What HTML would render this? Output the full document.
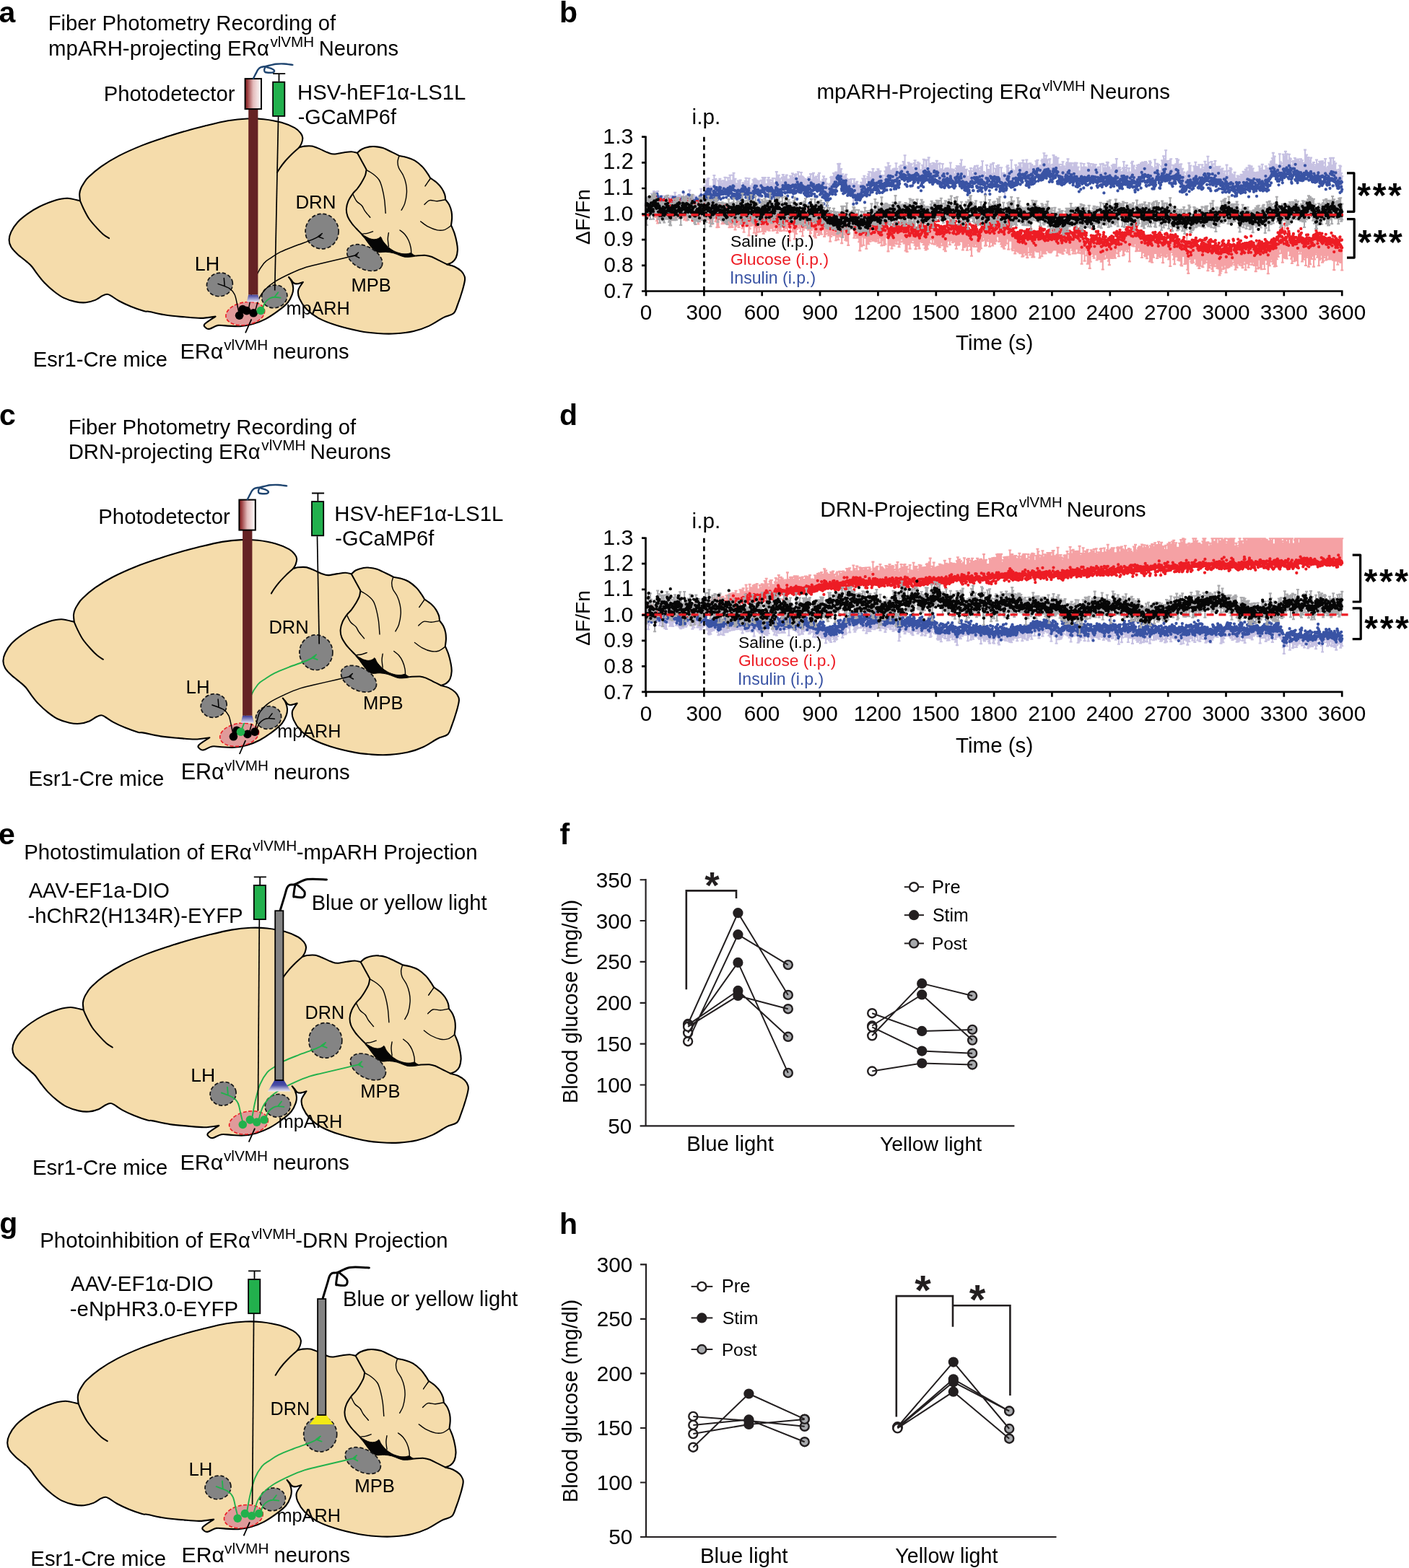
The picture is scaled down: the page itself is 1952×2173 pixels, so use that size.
<!DOCTYPE html><html><head><meta charset="utf-8"><title>Figure</title><style>html,body{margin:0;padding:0;background:#fff}svg{display:block}text{font-family:"Liberation Sans",Arial,Helvetica,sans-serif}</style></head><body>
<svg xmlns="http://www.w3.org/2000/svg" width="1952" height="2173" viewBox="0 0 1952 2173">
<defs><linearGradient id="pd" x1="0" x2="1" y1="0" y2="0"><stop offset="0" stop-color="#8a2628"/><stop offset="0.12" stop-color="#963436"/><stop offset="0.5" stop-color="#e4bcbc"/><stop offset="1" stop-color="#fff"/></linearGradient><linearGradient id="tip" x1="0" x2="0" y1="0" y2="1"><stop offset="0" stop-color="#3a3a98"/><stop offset="1" stop-color="#e4e2f4"/></linearGradient><linearGradient id="tip2" x1="0" x2="0" y1="0" y2="1"><stop offset="0" stop-color="#34389a"/><stop offset="0.45" stop-color="#4a4ea6"/><stop offset="1" stop-color="#f4f0f8"/></linearGradient></defs>
<g transform="translate(0 0)">
<path d="M111 278.4C110.9 276.8 110 271.6 110.2 268.7C110.4 265.8 111 263.6 112.1 261C113.1 258.4 114.8 255.9 116.5 253.3C118.2 250.7 118.6 249.3 122.5 245.6C126.4 241.8 133 235.8 140.1 230.8C147.2 225.9 155.2 220.9 164.8 215.9C174.4 210.9 186.8 205.5 197.8 201.1C208.8 196.7 219.8 193.2 230.8 189.6C241.8 186 255 182.2 263.7 179.7C272.4 177.2 274.3 176.8 283 174.7C291.7 172.6 306 169 315.9 167.3C325.8 165.6 334.1 164.8 342.3 164.5C350.6 164.2 357.4 164.3 365.4 165.2C373.4 166.1 383 167.8 390.1 169.8C397.2 171.8 403.8 174.8 408.2 177.2C412.6 179.6 414.6 182.2 416.5 184.5C418.4 186.8 419.1 188.7 419.3 191C419.5 193.3 418.6 196.2 417.8 198.5C417 200.8 414.9 203.5 414.3 204.5C415.4 204.2 418 203 420.9 202.7C423.8 202.4 428.2 201.9 431.9 202.5C435.6 203.1 439.2 204.9 442.9 206.4C446.5 207.9 450.5 210.1 453.8 211.3C457.1 212.5 458.9 213.5 462.6 213.5C466.3 213.5 471.8 212.1 475.8 211.5C479.8 210.9 483.6 210.1 486.8 210.2C490 210.3 493.6 211.6 495 211.9C496.1 211 498.5 208.1 501.3 206.7C504.1 205.3 508.7 204 511.8 203.4C514.9 202.8 517 202.8 520.1 203.1C523.2 203.3 526.7 203.8 530.5 205.1C534.3 206.4 539.3 209.1 543.1 210.9C546.9 212.7 551.8 215.2 553.5 216.1C555.2 216.4 560.4 217.1 563.9 218.2C567.4 219.2 570.9 220.3 574.4 222.4C577.9 224.5 581.8 227.8 584.8 230.7C587.8 233.6 590.2 237.4 592.1 240.1C594 242.8 595.6 245.8 596.3 246.9C597.9 248 603.1 251.3 605.7 253.7C608.3 256.1 610.3 258.4 612 261C613.7 263.6 615.2 266.7 616.1 269.3C617 271.9 617 275.4 617.2 276.6C618.1 277.8 621 281.1 622.4 283.9C623.8 286.7 624.9 290.2 625.5 293.3C626.1 296.4 626.2 299.6 626.1 302.7C626 305.8 625.2 310.5 625 312.1C625.8 314 628.4 319.6 629.7 323.6C631 327.6 632.1 332.3 632.8 336.1C633.5 339.9 634.1 343.1 633.9 346.6C633.7 350.1 633 354.2 631.8 357C630.6 359.8 628.7 361.7 626.6 363.3C624.5 364.9 620.5 365.9 619.3 366.4C621 366.9 626.4 367.9 629.7 369.5C633 371.1 636.8 373.6 639.1 375.8C641.4 378.1 642.8 380.8 643.6 383C644.4 385.2 644.4 385.8 643.9 389C643.4 392.2 642.3 396.7 640.7 402.2C639.1 407.7 636.2 416.6 634.1 422C632 427.4 631.6 431.3 628.3 434.3C625 437.3 619.9 437.2 614.3 440.1C608.7 443 601.4 448.5 594.5 451.6C587.6 454.8 580.8 457.2 573.1 459C565.4 460.8 556.6 461.8 548.4 462.3C540.1 462.8 531.9 462.6 523.6 462C515.4 461.4 508.5 460.9 498.9 459C489.3 457.1 475.5 453.8 465.9 450.8C456.3 447.8 448.1 444.6 441.2 440.9C434.3 437.2 429.1 433.1 424.7 428.6C420.3 424.1 416.7 418.1 414.8 413.7C412.9 409.3 412.4 406 413.2 402.2C414 398.4 418.7 392.9 419.8 391C418.5 391.4 414.1 393.1 411.9 393.3C409.7 393.5 408 392.9 406.6 392C405.2 391.1 404.6 389.3 403.5 388C402.4 386.7 400.6 384.7 400 384C400.7 385 403 387.7 404 390.2C405 392.7 406.1 396.1 406.2 399C406.3 401.9 406.1 404.4 404.8 407.8C403.6 411.2 401.9 415.4 398.7 419.2C395.5 423 390.6 426.9 385.5 430.7C380.4 434.5 373.8 439 367.9 442.1C362 445.2 356.2 447.4 350.3 449.1C344.4 450.8 338.6 451.8 332.7 452.2C326.8 452.6 320.3 451.8 315.2 451.6C310.1 451.4 306.1 450.2 302 450.9C297.9 451.6 293.3 455.1 290.5 455.7C287.7 456.3 286.5 455.5 285.3 454.4C284.1 453.3 281.3 451.7 283.5 449.1C285.7 446.5 296 440.4 298.5 438.6C295.2 439 285.8 440.8 278.6 440.9C271.4 441 263.5 440 255.5 439.3C247.5 438.6 239.1 438.1 230.8 436.8C222.6 435.6 211.1 432.7 206 431.8C200.9 430.9 204.1 432.5 200 431.3C195.9 430.1 187.2 427.1 181.3 424.7C175.4 422.3 169.4 419.5 164.8 417C160.2 414.5 156.5 411.4 153.8 409.9C151.1 408.3 150.4 407.7 148.4 407.7C146.4 407.7 144.6 408.5 141.8 409.9C139.1 411.3 135.8 414.3 131.9 415.9C128.1 417.4 123.3 418.8 118.7 419.2C114.1 419.6 109.5 419.2 104.4 418.1C99.3 417 92.9 415 87.9 412.6C83 410.2 79.1 407.3 74.7 403.8C70.3 400.3 65.3 395.8 61.5 391.8C57.6 387.8 54.5 383.5 51.6 379.7C48.7 375.9 46.5 372.1 44 369.2C41.5 366.3 39.6 364.9 36.3 362.1C33 359.3 27.7 355.5 24.2 352.2C20.7 348.9 17.3 345.6 15.4 342.3C13.5 339 12.6 335.9 12.6 332.4C12.6 328.9 13.5 325.4 15.4 321.4C17.3 317.4 20.3 312.4 24.2 308.2C28.1 304 33.4 299.8 38.5 296.2C43.6 292.6 48.5 289.4 54.9 286.3C61.3 283.2 70.5 279.4 76.9 277.5C83.3 275.6 87.7 274.6 93.4 274.7C99.1 274.8 108.1 277.8 111 278.4Z" fill="#f5dcab" stroke="#000" stroke-width="2.1" stroke-linejoin="round"/>
<path d="M111 278.4C111.7 280.1 113.4 284.4 115.4 288.5C117.4 292.6 120 298.1 123.1 302.7C126.2 307.3 130.8 312.2 134.1 315.9C137.4 319.6 140.1 322.3 142.9 324.7C145.7 327.1 149.7 329.3 151.1 330.2M414.3 204.5C412.6 206 407.7 210.2 404.4 213.5C401.1 216.8 397.2 220.8 394.5 224C391.8 227.2 389.6 230.2 387.9 232.7C386.2 235.2 384.7 237.8 384.1 238.8M495 211.9C496.1 213.8 499.2 219.6 501.3 223.4C503.4 227.2 506.6 233 507.6 234.9M507.6 234.9C507.3 236.2 507.1 240 506 243C504.9 246 502.6 249.9 500.8 253C499 256.1 497 258.9 495 261.5C493 264.1 490.9 265.4 488.8 268.3C486.7 271.2 484 275.2 482.5 278.7C481 282.2 480.1 285.7 479.9 289.2C479.7 292.7 480.2 296.1 481.5 299.6C482.8 303.1 485.3 306.7 487.7 310C490.1 313.3 493.7 316.8 496.1 319.4C498.6 322 501.3 324.6 502.4 325.7M576.5 354.4C578.8 354.3 586.4 353.6 590 353.9C593.6 354.2 595.3 354.8 598.4 356C601.5 357.2 605.3 359.5 608.8 361.2C612.3 362.9 617.5 365.5 619.3 366.4" fill="none" stroke="#000" stroke-width="2" stroke-linecap="round"/>
<path d="M507.6 235.5C509.2 236.4 514 238.9 517 241.2C520 243.5 523.2 246.2 525.3 249.5C527.4 252.8 528.3 256.5 529.5 261C530.7 265.5 531.8 270.9 532.6 276.6C533.4 282.3 533.9 292.3 534.2 295.4M488.8 269C489.7 270.6 491.9 276 494 278.7C496.1 281.4 499.4 282.7 501.3 285C503.2 287.3 503.6 289.6 505.5 292.3C507.4 295 511.6 299.7 512.8 301.2M552.6 217C552.3 218.2 550.9 221.8 550.9 224.4C550.9 227 551.2 229.7 552.5 232.8C553.8 235.9 557.1 239.5 558.7 243.2C560.4 246.8 561.6 250.7 562.4 254.7C563.2 258.7 563.7 262.7 563.4 267.2C563.1 271.7 562 277.9 560.8 281.9C559.6 285.9 556.9 289.7 556.1 291.3M595.8 248C594.7 249.7 590.1 256.2 589 257.9M616.5 276.8C614.7 277.1 609.2 278.6 605.7 278.7C602.2 278.8 598.2 276.9 595.3 277.7C592.3 278.5 589.2 282.4 588 283.4M625 312.6C623.5 313.6 619.3 317.3 616.1 318.4C612.9 319.4 609.5 319.6 605.7 318.9C601.9 318.2 597 316.2 593.2 314.2C589.4 312.2 584.5 308.1 582.7 306.9M502.4 324.1C503.6 323.9 507.3 323.7 509.7 323.1C512 322.6 515.4 321.2 516.5 320.8M538.4 322.6C538.2 324 537.3 327.8 537.3 330.9C537.3 334 538.2 339.6 538.4 341.4M554 318.9C555.1 319.9 558.8 322.3 560.8 324.7C562.8 327.1 564.6 329.9 566 333C567.4 336.1 568.6 340.5 569.2 343.5C569.8 346.5 569.6 349.6 569.7 350.8" fill="none" stroke="#000" stroke-width="1.4" stroke-linecap="round"/>
<path d="M501.3 325.2C502.2 324.9 508.8 329.3 511.8 330.4C514.8 331.5 517 331.8 519.1 331.8C521.2 331.8 522.9 331 524.3 330.4C525.7 329.8 526.4 327.7 527.4 328.3C528.4 328.9 528.9 331.9 530.5 334.1C532.1 336.3 534.3 339.1 536.8 341.4C539.2 343.6 542.1 346 545.2 347.6C548.3 349.2 552.5 350.6 555.6 351.3C558.7 352 561.7 351.9 564 351.8C566.3 351.7 567.6 350.5 569.2 350.8C570.8 351.1 572.2 352.8 573.4 353.4C574.6 354 577.2 354.3 576.5 354.7C575.8 355.1 571.8 355.8 569.2 356C566.6 356.2 563.4 356.6 560.8 356.2C558.2 355.8 556.1 354.8 553.5 353.9C550.9 353 548.3 351.6 545.2 350.8C542.1 350 538.2 349.4 534.7 349.2C531.2 349 527.1 350.1 524.3 349.7C521.5 349.3 520.1 348.3 518 346.6C515.9 344.9 513.7 341.7 511.8 339.3C509.9 336.9 508.2 334.4 506.5 332C504.8 329.6 500.4 325.5 501.3 325.2Z" fill="#050505" stroke="#000" stroke-width="1"/>
<ellipse cx="304.4" cy="394.4" rx="18.1" ry="16.2" transform="rotate(-15 304.4 394.4)" fill="#848484" stroke="#151515" stroke-width="1.7" stroke-dasharray="5.2 2.8"/>
<ellipse cx="380.2" cy="410.9" rx="17.8" ry="15.7" transform="rotate(-15 380.2 410.9)" fill="#848484" stroke="#151515" stroke-width="1.7" stroke-dasharray="5.2 2.8"/>
<ellipse cx="446.1" cy="320.6" rx="23" ry="24.3" transform="rotate(0 446.1 320.6)" fill="#848484" stroke="#151515" stroke-width="1.7" stroke-dasharray="5.2 2.8"/>
<ellipse cx="505.2" cy="357.1" rx="26.4" ry="15.7" transform="rotate(27 505.2 357.1)" fill="#848484" stroke="#151515" stroke-width="1.7" stroke-dasharray="5.2 2.8"/>
<ellipse cx="339.8" cy="434.6" rx="27.2" ry="15.7" transform="rotate(-10 339.8 434.6)" fill="#e09a9a" stroke="#ed1c24" stroke-width="1.6" stroke-dasharray="5 2.5"/>
<path d="M331.6 437.2C331.1 434.7 329.7 426.9 328.6 422C327.5 417.1 326.8 411.7 325 408C323.2 404.3 321.8 402.2 318 399.8C314.2 397.4 304.8 394.5 302.1 393.4M310.3 385.5L311.1 395.3" fill="none" stroke="#000" stroke-width="1.5" stroke-linecap="round"/>
<path d="M344.9 425.8C345.6 422.2 347.2 411.8 349 404.4C350.8 397 352.9 387.9 355.6 381.3C358.4 374.7 362.2 368.9 365.5 364.9C368.8 360.9 371.5 360 375.4 357.4C379.2 354.8 383.1 351.9 388.6 349.2C394.1 346.5 401 343.9 408.4 341C415.8 338.1 427.1 334.4 433.1 331.9C439.1 329.4 442.7 327.1 444.6 326.1M440.5 327.8L446.3 323.6M440.5 327.8L447.9 330.6" fill="none" stroke="#000" stroke-width="1.5" stroke-linecap="round"/>
<path d="M354 429.1C354.9 426.3 357.3 416.9 359.6 412.2C361.9 407.5 364.3 404.5 367.9 400.8C371.5 397.1 375.2 393.9 381.1 390.2C387 386.5 395.9 382.1 403.1 378.8C410.3 375.5 417.8 372.4 424.2 370.3C430.6 368.2 432.9 368 441.3 366C449.7 364 465.4 360.4 474.3 358.3C483.2 356.2 491.5 354.1 494.9 353.3M491.6 354.1L496.5 350M491.6 354.1L497.7 357.4" fill="none" stroke="#000" stroke-width="1.5" stroke-linecap="round"/>
<path d="M363.9 427.5C364.4 426.1 365.5 421.5 367.2 419.2C368.9 416.9 371.6 414.7 373.8 413.5C376 412.3 377.8 411.9 380.3 411.8C382.8 411.7 387.2 412.5 388.6 412.6M380.3 411.8L385.3 405.2" fill="none" stroke="#22b14c" stroke-width="1.9" stroke-linecap="round"/>
<circle cx="331.6" cy="437.2" r="5.8" fill="#000"/>
<circle cx="336.2" cy="428.6" r="5.8" fill="#000"/>
<circle cx="341.7" cy="430.6" r="5.8" fill="#000"/>
<circle cx="351.1" cy="433.8" r="5.8" fill="#000"/>
<circle cx="361.2" cy="430.5" r="5.8" fill="#22b14c"/>
<path d="M348.4 442.4L340 461.4" stroke="#000" stroke-width="1.8" fill="none"/>
</g>
<rect x="344.2" y="150" width="13.2" height="258.4" fill="#652224"/>
<path d="M344.2 408.4H357.4L360 418.4H341.8Z" fill="url(#tip)"/>
<rect x="339.6" y="109.1" width="22.4" height="42" fill="url(#pd)" stroke="#000" stroke-width="2"/>
<path d="M12.4 0.4C13.1 -0.8 15.2 -4.9 16.3 -6.9C17.4 -8.9 17.9 -10.6 19 -11.9C20.1 -13.2 21.1 -14.2 22.9 -14.9C24.6 -15.6 27.1 -15.8 29.5 -16.3C31.9 -16.8 34.7 -17.4 37.1 -17.9C39.5 -18.4 40.8 -19 43.7 -19.3C46.6 -19.6 50.9 -19.8 54.7 -19.6C58.6 -19.4 64.8 -18.4 66.8 -18.2M29.5 -16C29.2 -15.3 27.8 -13.2 27.6 -11.9C27.5 -10.6 27.2 -9 28.6 -8.2C30 -7.4 34 -7.3 36 -7.3C38 -7.3 39.9 -7.8 40.7 -8.4C41.5 -9 41.6 -10 41 -10.8C40.4 -11.6 38.8 -12.6 37.1 -13.3C35.5 -14 32.1 -14.6 31.1 -14.9" fill="none" stroke="#1f4570" stroke-width="2.4" stroke-linecap="round" stroke-linejoin="round" transform="translate(338.6 108.1)"/>
<path d="M385.6 161.8L380.7 402.5" stroke="#000" stroke-width="1.7" fill="none"/>
<rect x="378.1" y="113.7" width="16.2" height="47.2" fill="#22b04d" stroke="#000" stroke-width="1.8"/>
<path d="M386.5 112.8V102.1M378.1 102.1H395.2" stroke="#000" stroke-width="1.8" fill="none"/>
<g transform="translate(-8.2 583.6)">
<path d="M111 278.4C110.9 276.8 110 271.6 110.2 268.7C110.4 265.8 111 263.6 112.1 261C113.1 258.4 114.8 255.9 116.5 253.3C118.2 250.7 118.6 249.3 122.5 245.6C126.4 241.8 133 235.8 140.1 230.8C147.2 225.9 155.2 220.9 164.8 215.9C174.4 210.9 186.8 205.5 197.8 201.1C208.8 196.7 219.8 193.2 230.8 189.6C241.8 186 255 182.2 263.7 179.7C272.4 177.2 274.3 176.8 283 174.7C291.7 172.6 306 169 315.9 167.3C325.8 165.6 334.1 164.8 342.3 164.5C350.6 164.2 357.4 164.3 365.4 165.2C373.4 166.1 383 167.8 390.1 169.8C397.2 171.8 403.8 174.8 408.2 177.2C412.6 179.6 414.6 182.2 416.5 184.5C418.4 186.8 419.1 188.7 419.3 191C419.5 193.3 418.6 196.2 417.8 198.5C417 200.8 414.9 203.5 414.3 204.5C415.4 204.2 418 203 420.9 202.7C423.8 202.4 428.2 201.9 431.9 202.5C435.6 203.1 439.2 204.9 442.9 206.4C446.5 207.9 450.5 210.1 453.8 211.3C457.1 212.5 458.9 213.5 462.6 213.5C466.3 213.5 471.8 212.1 475.8 211.5C479.8 210.9 483.6 210.1 486.8 210.2C490 210.3 493.6 211.6 495 211.9C496.1 211 498.5 208.1 501.3 206.7C504.1 205.3 508.7 204 511.8 203.4C514.9 202.8 517 202.8 520.1 203.1C523.2 203.3 526.7 203.8 530.5 205.1C534.3 206.4 539.3 209.1 543.1 210.9C546.9 212.7 551.8 215.2 553.5 216.1C555.2 216.4 560.4 217.1 563.9 218.2C567.4 219.2 570.9 220.3 574.4 222.4C577.9 224.5 581.8 227.8 584.8 230.7C587.8 233.6 590.2 237.4 592.1 240.1C594 242.8 595.6 245.8 596.3 246.9C597.9 248 603.1 251.3 605.7 253.7C608.3 256.1 610.3 258.4 612 261C613.7 263.6 615.2 266.7 616.1 269.3C617 271.9 617 275.4 617.2 276.6C618.1 277.8 621 281.1 622.4 283.9C623.8 286.7 624.9 290.2 625.5 293.3C626.1 296.4 626.2 299.6 626.1 302.7C626 305.8 625.2 310.5 625 312.1C625.8 314 628.4 319.6 629.7 323.6C631 327.6 632.1 332.3 632.8 336.1C633.5 339.9 634.1 343.1 633.9 346.6C633.7 350.1 633 354.2 631.8 357C630.6 359.8 628.7 361.7 626.6 363.3C624.5 364.9 620.5 365.9 619.3 366.4C621 366.9 626.4 367.9 629.7 369.5C633 371.1 636.8 373.6 639.1 375.8C641.4 378.1 642.8 380.8 643.6 383C644.4 385.2 644.4 385.8 643.9 389C643.4 392.2 642.3 396.7 640.7 402.2C639.1 407.7 636.2 416.6 634.1 422C632 427.4 631.6 431.3 628.3 434.3C625 437.3 619.9 437.2 614.3 440.1C608.7 443 601.4 448.5 594.5 451.6C587.6 454.8 580.8 457.2 573.1 459C565.4 460.8 556.6 461.8 548.4 462.3C540.1 462.8 531.9 462.6 523.6 462C515.4 461.4 508.5 460.9 498.9 459C489.3 457.1 475.5 453.8 465.9 450.8C456.3 447.8 448.1 444.6 441.2 440.9C434.3 437.2 429.1 433.1 424.7 428.6C420.3 424.1 416.7 418.1 414.8 413.7C412.9 409.3 412.4 406 413.2 402.2C414 398.4 418.7 392.9 419.8 391C418.5 391.4 414.1 393.1 411.9 393.3C409.7 393.5 408 392.9 406.6 392C405.2 391.1 404.6 389.3 403.5 388C402.4 386.7 400.6 384.7 400 384C400.7 385 403 387.7 404 390.2C405 392.7 406.1 396.1 406.2 399C406.3 401.9 406.1 404.4 404.8 407.8C403.6 411.2 401.9 415.4 398.7 419.2C395.5 423 390.6 426.9 385.5 430.7C380.4 434.5 373.8 439 367.9 442.1C362 445.2 356.2 447.4 350.3 449.1C344.4 450.8 338.6 451.8 332.7 452.2C326.8 452.6 320.3 451.8 315.2 451.6C310.1 451.4 306.1 450.2 302 450.9C297.9 451.6 293.3 455.1 290.5 455.7C287.7 456.3 286.5 455.5 285.3 454.4C284.1 453.3 281.3 451.7 283.5 449.1C285.7 446.5 296 440.4 298.5 438.6C295.2 439 285.8 440.8 278.6 440.9C271.4 441 263.5 440 255.5 439.3C247.5 438.6 239.1 438.1 230.8 436.8C222.6 435.6 211.1 432.7 206 431.8C200.9 430.9 204.1 432.5 200 431.3C195.9 430.1 187.2 427.1 181.3 424.7C175.4 422.3 169.4 419.5 164.8 417C160.2 414.5 156.5 411.4 153.8 409.9C151.1 408.3 150.4 407.7 148.4 407.7C146.4 407.7 144.6 408.5 141.8 409.9C139.1 411.3 135.8 414.3 131.9 415.9C128.1 417.4 123.3 418.8 118.7 419.2C114.1 419.6 109.5 419.2 104.4 418.1C99.3 417 92.9 415 87.9 412.6C83 410.2 79.1 407.3 74.7 403.8C70.3 400.3 65.3 395.8 61.5 391.8C57.6 387.8 54.5 383.5 51.6 379.7C48.7 375.9 46.5 372.1 44 369.2C41.5 366.3 39.6 364.9 36.3 362.1C33 359.3 27.7 355.5 24.2 352.2C20.7 348.9 17.3 345.6 15.4 342.3C13.5 339 12.6 335.9 12.6 332.4C12.6 328.9 13.5 325.4 15.4 321.4C17.3 317.4 20.3 312.4 24.2 308.2C28.1 304 33.4 299.8 38.5 296.2C43.6 292.6 48.5 289.4 54.9 286.3C61.3 283.2 70.5 279.4 76.9 277.5C83.3 275.6 87.7 274.6 93.4 274.7C99.1 274.8 108.1 277.8 111 278.4Z" fill="#f5dcab" stroke="#000" stroke-width="2.1" stroke-linejoin="round"/>
<path d="M111 278.4C111.7 280.1 113.4 284.4 115.4 288.5C117.4 292.6 120 298.1 123.1 302.7C126.2 307.3 130.8 312.2 134.1 315.9C137.4 319.6 140.1 322.3 142.9 324.7C145.7 327.1 149.7 329.3 151.1 330.2M414.3 204.5C412.6 206 407.7 210.2 404.4 213.5C401.1 216.8 397.2 220.8 394.5 224C391.8 227.2 389.6 230.2 387.9 232.7C386.2 235.2 384.7 237.8 384.1 238.8M495 211.9C496.1 213.8 499.2 219.6 501.3 223.4C503.4 227.2 506.6 233 507.6 234.9M507.6 234.9C507.3 236.2 507.1 240 506 243C504.9 246 502.6 249.9 500.8 253C499 256.1 497 258.9 495 261.5C493 264.1 490.9 265.4 488.8 268.3C486.7 271.2 484 275.2 482.5 278.7C481 282.2 480.1 285.7 479.9 289.2C479.7 292.7 480.2 296.1 481.5 299.6C482.8 303.1 485.3 306.7 487.7 310C490.1 313.3 493.7 316.8 496.1 319.4C498.6 322 501.3 324.6 502.4 325.7M576.5 354.4C578.8 354.3 586.4 353.6 590 353.9C593.6 354.2 595.3 354.8 598.4 356C601.5 357.2 605.3 359.5 608.8 361.2C612.3 362.9 617.5 365.5 619.3 366.4" fill="none" stroke="#000" stroke-width="2" stroke-linecap="round"/>
<path d="M507.6 235.5C509.2 236.4 514 238.9 517 241.2C520 243.5 523.2 246.2 525.3 249.5C527.4 252.8 528.3 256.5 529.5 261C530.7 265.5 531.8 270.9 532.6 276.6C533.4 282.3 533.9 292.3 534.2 295.4M488.8 269C489.7 270.6 491.9 276 494 278.7C496.1 281.4 499.4 282.7 501.3 285C503.2 287.3 503.6 289.6 505.5 292.3C507.4 295 511.6 299.7 512.8 301.2M552.6 217C552.3 218.2 550.9 221.8 550.9 224.4C550.9 227 551.2 229.7 552.5 232.8C553.8 235.9 557.1 239.5 558.7 243.2C560.4 246.8 561.6 250.7 562.4 254.7C563.2 258.7 563.7 262.7 563.4 267.2C563.1 271.7 562 277.9 560.8 281.9C559.6 285.9 556.9 289.7 556.1 291.3M595.8 248C594.7 249.7 590.1 256.2 589 257.9M616.5 276.8C614.7 277.1 609.2 278.6 605.7 278.7C602.2 278.8 598.2 276.9 595.3 277.7C592.3 278.5 589.2 282.4 588 283.4M625 312.6C623.5 313.6 619.3 317.3 616.1 318.4C612.9 319.4 609.5 319.6 605.7 318.9C601.9 318.2 597 316.2 593.2 314.2C589.4 312.2 584.5 308.1 582.7 306.9M502.4 324.1C503.6 323.9 507.3 323.7 509.7 323.1C512 322.6 515.4 321.2 516.5 320.8M538.4 322.6C538.2 324 537.3 327.8 537.3 330.9C537.3 334 538.2 339.6 538.4 341.4M554 318.9C555.1 319.9 558.8 322.3 560.8 324.7C562.8 327.1 564.6 329.9 566 333C567.4 336.1 568.6 340.5 569.2 343.5C569.8 346.5 569.6 349.6 569.7 350.8" fill="none" stroke="#000" stroke-width="1.4" stroke-linecap="round"/>
<path d="M501.3 325.2C502.2 324.9 508.8 329.3 511.8 330.4C514.8 331.5 517 331.8 519.1 331.8C521.2 331.8 522.9 331 524.3 330.4C525.7 329.8 526.4 327.7 527.4 328.3C528.4 328.9 528.9 331.9 530.5 334.1C532.1 336.3 534.3 339.1 536.8 341.4C539.2 343.6 542.1 346 545.2 347.6C548.3 349.2 552.5 350.6 555.6 351.3C558.7 352 561.7 351.9 564 351.8C566.3 351.7 567.6 350.5 569.2 350.8C570.8 351.1 572.2 352.8 573.4 353.4C574.6 354 577.2 354.3 576.5 354.7C575.8 355.1 571.8 355.8 569.2 356C566.6 356.2 563.4 356.6 560.8 356.2C558.2 355.8 556.1 354.8 553.5 353.9C550.9 353 548.3 351.6 545.2 350.8C542.1 350 538.2 349.4 534.7 349.2C531.2 349 527.1 350.1 524.3 349.7C521.5 349.3 520.1 348.3 518 346.6C515.9 344.9 513.7 341.7 511.8 339.3C509.9 336.9 508.2 334.4 506.5 332C504.8 329.6 500.4 325.5 501.3 325.2Z" fill="#050505" stroke="#000" stroke-width="1"/>
<ellipse cx="304.4" cy="394.4" rx="18.1" ry="16.2" transform="rotate(-15 304.4 394.4)" fill="#848484" stroke="#151515" stroke-width="1.7" stroke-dasharray="5.2 2.8"/>
<ellipse cx="380.2" cy="410.9" rx="17.8" ry="15.7" transform="rotate(-15 380.2 410.9)" fill="#848484" stroke="#151515" stroke-width="1.7" stroke-dasharray="5.2 2.8"/>
<ellipse cx="446.1" cy="320.6" rx="23" ry="24.3" transform="rotate(0 446.1 320.6)" fill="#848484" stroke="#151515" stroke-width="1.7" stroke-dasharray="5.2 2.8"/>
<ellipse cx="505.2" cy="357.1" rx="26.4" ry="15.7" transform="rotate(27 505.2 357.1)" fill="#848484" stroke="#151515" stroke-width="1.7" stroke-dasharray="5.2 2.8"/>
<ellipse cx="339.8" cy="434.6" rx="27.2" ry="15.7" transform="rotate(-10 339.8 434.6)" fill="#e09a9a" stroke="#ed1c24" stroke-width="1.6" stroke-dasharray="5 2.5"/>
<path d="M331.6 437.2C331.1 434.7 329.7 426.9 328.6 422C327.5 417.1 326.8 411.7 325 408C323.2 404.3 321.8 402.2 318 399.8C314.2 397.4 304.8 394.5 302.1 393.4M310.3 385.5L311.1 395.3" fill="none" stroke="#000" stroke-width="1.5" stroke-linecap="round"/>
<path d="M341.7 430.6C342.5 428.5 345.3 422.4 346.5 418C347.7 413.6 347.5 410.5 349 404.4C350.5 398.3 352.9 387.9 355.6 381.3C358.4 374.7 362.2 368.9 365.5 364.9C368.8 360.9 371.5 360 375.4 357.4C379.2 354.8 383.1 351.9 388.6 349.2C394.1 346.5 401 343.9 408.4 341C415.8 338.1 427.1 334.4 433.1 331.9C439.1 329.4 442.7 327.1 444.6 326.1M440.5 327.8L446.3 323.6M440.5 327.8L447.9 330.6" fill="none" stroke="#22b14c" stroke-width="1.9" stroke-linecap="round"/>
<path d="M361.5 429C362 426.7 363.3 419.3 364.5 415C365.7 410.7 365.7 407.1 368.5 403C371.3 398.9 375.3 394.2 381.1 390.2C386.9 386.2 395.9 382.1 403.1 378.8C410.3 375.5 417.8 372.4 424.2 370.3C430.6 368.2 432.9 368 441.3 366C449.7 364 465.4 360.4 474.3 358.3C483.2 356.2 491.5 354.1 494.9 353.3M491.6 354.1L496.5 350M491.6 354.1L497.7 357.4" fill="none" stroke="#000" stroke-width="1.5" stroke-linecap="round"/>
<path d="M363.9 427.5C364.4 426.1 365.5 421.5 367.2 419.2C368.9 416.9 371.6 414.7 373.8 413.5C376 412.3 377.8 411.9 380.3 411.8C382.8 411.7 387.2 412.5 388.6 412.6M380.3 411.8L385.3 405.2" fill="none" stroke="#000" stroke-width="1.5" stroke-linecap="round"/>
<path d="M353.6 431.7L356.9 419.3" stroke="#000" stroke-width="1.5"/>
<circle cx="331.6" cy="437.2" r="5.8" fill="#000"/>
<circle cx="336.2" cy="428.6" r="5.8" fill="#000"/>
<circle cx="351.1" cy="433.8" r="5.8" fill="#000"/>
<circle cx="361.2" cy="430.5" r="5.8" fill="#000"/>
<circle cx="341.7" cy="430.6" r="5.8" fill="#22b14c"/>
<path d="M348.4 442.4L340 461.4" stroke="#000" stroke-width="1.8" fill="none"/>
</g>
<rect x="336.1" y="733" width="13.3" height="258.8" fill="#652224"/>
<path d="M336.1 991.8H349.4L352 1001.8H333.7Z" fill="url(#tip)"/>
<rect x="331.4" y="692.6" width="22.4" height="42" fill="url(#pd)" stroke="#000" stroke-width="2"/>
<path d="M12.4 0.4C13.1 -0.8 15.2 -4.9 16.3 -6.9C17.4 -8.9 17.9 -10.6 19 -11.9C20.1 -13.2 21.1 -14.2 22.9 -14.9C24.6 -15.6 27.1 -15.8 29.5 -16.3C31.9 -16.8 34.7 -17.4 37.1 -17.9C39.5 -18.4 40.8 -19 43.7 -19.3C46.6 -19.6 50.9 -19.8 54.7 -19.6C58.6 -19.4 64.8 -18.4 66.8 -18.2M29.5 -16C29.2 -15.3 27.8 -13.2 27.6 -11.9C27.5 -10.6 27.2 -9 28.6 -8.2C30 -7.4 34 -7.3 36 -7.3C38 -7.3 39.9 -7.8 40.7 -8.4C41.5 -9 41.6 -10 41 -10.8C40.4 -11.6 38.8 -12.6 37.1 -13.3C35.5 -14 32.1 -14.6 31.1 -14.9" fill="none" stroke="#1f4570" stroke-width="2.4" stroke-linecap="round" stroke-linejoin="round" transform="translate(330.4 691.6)"/>
<path d="M439.5 743.2L442.2 892.4" stroke="#000" stroke-width="1.7" fill="none"/>
<rect x="432" y="695.1" width="16.2" height="47.2" fill="#22b04d" stroke="#000" stroke-width="1.8"/>
<path d="M440.4 694.2V683.5M432 683.5H449.1" stroke="#000" stroke-width="1.8" fill="none"/>
<g transform="translate(4.7 1121.3)">
<path d="M111 278.4C110.9 276.8 110 271.6 110.2 268.7C110.4 265.8 111 263.6 112.1 261C113.1 258.4 114.8 255.9 116.5 253.3C118.2 250.7 118.6 249.3 122.5 245.6C126.4 241.8 133 235.8 140.1 230.8C147.2 225.9 155.2 220.9 164.8 215.9C174.4 210.9 186.8 205.5 197.8 201.1C208.8 196.7 219.8 193.2 230.8 189.6C241.8 186 255 182.2 263.7 179.7C272.4 177.2 274.3 176.8 283 174.7C291.7 172.6 306 169 315.9 167.3C325.8 165.6 334.1 164.8 342.3 164.5C350.6 164.2 357.4 164.3 365.4 165.2C373.4 166.1 383 167.8 390.1 169.8C397.2 171.8 403.8 174.8 408.2 177.2C412.6 179.6 414.6 182.2 416.5 184.5C418.4 186.8 419.1 188.7 419.3 191C419.5 193.3 418.6 196.2 417.8 198.5C417 200.8 414.9 203.5 414.3 204.5C415.4 204.2 418 203 420.9 202.7C423.8 202.4 428.2 201.9 431.9 202.5C435.6 203.1 439.2 204.9 442.9 206.4C446.5 207.9 450.5 210.1 453.8 211.3C457.1 212.5 458.9 213.5 462.6 213.5C466.3 213.5 471.8 212.1 475.8 211.5C479.8 210.9 483.6 210.1 486.8 210.2C490 210.3 493.6 211.6 495 211.9C496.1 211 498.5 208.1 501.3 206.7C504.1 205.3 508.7 204 511.8 203.4C514.9 202.8 517 202.8 520.1 203.1C523.2 203.3 526.7 203.8 530.5 205.1C534.3 206.4 539.3 209.1 543.1 210.9C546.9 212.7 551.8 215.2 553.5 216.1C555.2 216.4 560.4 217.1 563.9 218.2C567.4 219.2 570.9 220.3 574.4 222.4C577.9 224.5 581.8 227.8 584.8 230.7C587.8 233.6 590.2 237.4 592.1 240.1C594 242.8 595.6 245.8 596.3 246.9C597.9 248 603.1 251.3 605.7 253.7C608.3 256.1 610.3 258.4 612 261C613.7 263.6 615.2 266.7 616.1 269.3C617 271.9 617 275.4 617.2 276.6C618.1 277.8 621 281.1 622.4 283.9C623.8 286.7 624.9 290.2 625.5 293.3C626.1 296.4 626.2 299.6 626.1 302.7C626 305.8 625.2 310.5 625 312.1C625.8 314 628.4 319.6 629.7 323.6C631 327.6 632.1 332.3 632.8 336.1C633.5 339.9 634.1 343.1 633.9 346.6C633.7 350.1 633 354.2 631.8 357C630.6 359.8 628.7 361.7 626.6 363.3C624.5 364.9 620.5 365.9 619.3 366.4C621 366.9 626.4 367.9 629.7 369.5C633 371.1 636.8 373.6 639.1 375.8C641.4 378.1 642.8 380.8 643.6 383C644.4 385.2 644.4 385.8 643.9 389C643.4 392.2 642.3 396.7 640.7 402.2C639.1 407.7 636.2 416.6 634.1 422C632 427.4 631.6 431.3 628.3 434.3C625 437.3 619.9 437.2 614.3 440.1C608.7 443 601.4 448.5 594.5 451.6C587.6 454.8 580.8 457.2 573.1 459C565.4 460.8 556.6 461.8 548.4 462.3C540.1 462.8 531.9 462.6 523.6 462C515.4 461.4 508.5 460.9 498.9 459C489.3 457.1 475.5 453.8 465.9 450.8C456.3 447.8 448.1 444.6 441.2 440.9C434.3 437.2 429.1 433.1 424.7 428.6C420.3 424.1 416.7 418.1 414.8 413.7C412.9 409.3 412.4 406 413.2 402.2C414 398.4 418.7 392.9 419.8 391C418.5 391.4 414.1 393.1 411.9 393.3C409.7 393.5 408 392.9 406.6 392C405.2 391.1 404.6 389.3 403.5 388C402.4 386.7 400.6 384.7 400 384C400.7 385 403 387.7 404 390.2C405 392.7 406.1 396.1 406.2 399C406.3 401.9 406.1 404.4 404.8 407.8C403.6 411.2 401.9 415.4 398.7 419.2C395.5 423 390.6 426.9 385.5 430.7C380.4 434.5 373.8 439 367.9 442.1C362 445.2 356.2 447.4 350.3 449.1C344.4 450.8 338.6 451.8 332.7 452.2C326.8 452.6 320.3 451.8 315.2 451.6C310.1 451.4 306.1 450.2 302 450.9C297.9 451.6 293.3 455.1 290.5 455.7C287.7 456.3 286.5 455.5 285.3 454.4C284.1 453.3 281.3 451.7 283.5 449.1C285.7 446.5 296 440.4 298.5 438.6C295.2 439 285.8 440.8 278.6 440.9C271.4 441 263.5 440 255.5 439.3C247.5 438.6 239.1 438.1 230.8 436.8C222.6 435.6 211.1 432.7 206 431.8C200.9 430.9 204.1 432.5 200 431.3C195.9 430.1 187.2 427.1 181.3 424.7C175.4 422.3 169.4 419.5 164.8 417C160.2 414.5 156.5 411.4 153.8 409.9C151.1 408.3 150.4 407.7 148.4 407.7C146.4 407.7 144.6 408.5 141.8 409.9C139.1 411.3 135.8 414.3 131.9 415.9C128.1 417.4 123.3 418.8 118.7 419.2C114.1 419.6 109.5 419.2 104.4 418.1C99.3 417 92.9 415 87.9 412.6C83 410.2 79.1 407.3 74.7 403.8C70.3 400.3 65.3 395.8 61.5 391.8C57.6 387.8 54.5 383.5 51.6 379.7C48.7 375.9 46.5 372.1 44 369.2C41.5 366.3 39.6 364.9 36.3 362.1C33 359.3 27.7 355.5 24.2 352.2C20.7 348.9 17.3 345.6 15.4 342.3C13.5 339 12.6 335.9 12.6 332.4C12.6 328.9 13.5 325.4 15.4 321.4C17.3 317.4 20.3 312.4 24.2 308.2C28.1 304 33.4 299.8 38.5 296.2C43.6 292.6 48.5 289.4 54.9 286.3C61.3 283.2 70.5 279.4 76.9 277.5C83.3 275.6 87.7 274.6 93.4 274.7C99.1 274.8 108.1 277.8 111 278.4Z" fill="#f5dcab" stroke="#000" stroke-width="2.1" stroke-linejoin="round"/>
<path d="M111 278.4C111.7 280.1 113.4 284.4 115.4 288.5C117.4 292.6 120 298.1 123.1 302.7C126.2 307.3 130.8 312.2 134.1 315.9C137.4 319.6 140.1 322.3 142.9 324.7C145.7 327.1 149.7 329.3 151.1 330.2M414.3 204.5C412.6 206 407.7 210.2 404.4 213.5C401.1 216.8 397.2 220.8 394.5 224C391.8 227.2 389.6 230.2 387.9 232.7C386.2 235.2 384.7 237.8 384.1 238.8M495 211.9C496.1 213.8 499.2 219.6 501.3 223.4C503.4 227.2 506.6 233 507.6 234.9M507.6 234.9C507.3 236.2 507.1 240 506 243C504.9 246 502.6 249.9 500.8 253C499 256.1 497 258.9 495 261.5C493 264.1 490.9 265.4 488.8 268.3C486.7 271.2 484 275.2 482.5 278.7C481 282.2 480.1 285.7 479.9 289.2C479.7 292.7 480.2 296.1 481.5 299.6C482.8 303.1 485.3 306.7 487.7 310C490.1 313.3 493.7 316.8 496.1 319.4C498.6 322 501.3 324.6 502.4 325.7M576.5 354.4C578.8 354.3 586.4 353.6 590 353.9C593.6 354.2 595.3 354.8 598.4 356C601.5 357.2 605.3 359.5 608.8 361.2C612.3 362.9 617.5 365.5 619.3 366.4" fill="none" stroke="#000" stroke-width="2" stroke-linecap="round"/>
<path d="M507.6 235.5C509.2 236.4 514 238.9 517 241.2C520 243.5 523.2 246.2 525.3 249.5C527.4 252.8 528.3 256.5 529.5 261C530.7 265.5 531.8 270.9 532.6 276.6C533.4 282.3 533.9 292.3 534.2 295.4M488.8 269C489.7 270.6 491.9 276 494 278.7C496.1 281.4 499.4 282.7 501.3 285C503.2 287.3 503.6 289.6 505.5 292.3C507.4 295 511.6 299.7 512.8 301.2M552.6 217C552.3 218.2 550.9 221.8 550.9 224.4C550.9 227 551.2 229.7 552.5 232.8C553.8 235.9 557.1 239.5 558.7 243.2C560.4 246.8 561.6 250.7 562.4 254.7C563.2 258.7 563.7 262.7 563.4 267.2C563.1 271.7 562 277.9 560.8 281.9C559.6 285.9 556.9 289.7 556.1 291.3M595.8 248C594.7 249.7 590.1 256.2 589 257.9M616.5 276.8C614.7 277.1 609.2 278.6 605.7 278.7C602.2 278.8 598.2 276.9 595.3 277.7C592.3 278.5 589.2 282.4 588 283.4M625 312.6C623.5 313.6 619.3 317.3 616.1 318.4C612.9 319.4 609.5 319.6 605.7 318.9C601.9 318.2 597 316.2 593.2 314.2C589.4 312.2 584.5 308.1 582.7 306.9M502.4 324.1C503.6 323.9 507.3 323.7 509.7 323.1C512 322.6 515.4 321.2 516.5 320.8M538.4 322.6C538.2 324 537.3 327.8 537.3 330.9C537.3 334 538.2 339.6 538.4 341.4M554 318.9C555.1 319.9 558.8 322.3 560.8 324.7C562.8 327.1 564.6 329.9 566 333C567.4 336.1 568.6 340.5 569.2 343.5C569.8 346.5 569.6 349.6 569.7 350.8" fill="none" stroke="#000" stroke-width="1.4" stroke-linecap="round"/>
<path d="M501.3 325.2C502.2 324.9 508.8 329.3 511.8 330.4C514.8 331.5 517 331.8 519.1 331.8C521.2 331.8 522.9 331 524.3 330.4C525.7 329.8 526.4 327.7 527.4 328.3C528.4 328.9 528.9 331.9 530.5 334.1C532.1 336.3 534.3 339.1 536.8 341.4C539.2 343.6 542.1 346 545.2 347.6C548.3 349.2 552.5 350.6 555.6 351.3C558.7 352 561.7 351.9 564 351.8C566.3 351.7 567.6 350.5 569.2 350.8C570.8 351.1 572.2 352.8 573.4 353.4C574.6 354 577.2 354.3 576.5 354.7C575.8 355.1 571.8 355.8 569.2 356C566.6 356.2 563.4 356.6 560.8 356.2C558.2 355.8 556.1 354.8 553.5 353.9C550.9 353 548.3 351.6 545.2 350.8C542.1 350 538.2 349.4 534.7 349.2C531.2 349 527.1 350.1 524.3 349.7C521.5 349.3 520.1 348.3 518 346.6C515.9 344.9 513.7 341.7 511.8 339.3C509.9 336.9 508.2 334.4 506.5 332C504.8 329.6 500.4 325.5 501.3 325.2Z" fill="#050505" stroke="#000" stroke-width="1"/>
<ellipse cx="304.4" cy="394.4" rx="18.1" ry="16.2" transform="rotate(-15 304.4 394.4)" fill="#848484" stroke="#151515" stroke-width="1.7" stroke-dasharray="5.2 2.8"/>
<ellipse cx="380.2" cy="410.9" rx="17.8" ry="15.7" transform="rotate(-15 380.2 410.9)" fill="#848484" stroke="#151515" stroke-width="1.7" stroke-dasharray="5.2 2.8"/>
<ellipse cx="446.1" cy="320.6" rx="23" ry="24.3" transform="rotate(0 446.1 320.6)" fill="#848484" stroke="#151515" stroke-width="1.7" stroke-dasharray="5.2 2.8"/>
<ellipse cx="505.2" cy="357.1" rx="26.4" ry="15.7" transform="rotate(27 505.2 357.1)" fill="#848484" stroke="#151515" stroke-width="1.7" stroke-dasharray="5.2 2.8"/>
<ellipse cx="339.8" cy="434.6" rx="27.2" ry="15.7" transform="rotate(-10 339.8 434.6)" fill="#e09a9a" stroke="#ed1c24" stroke-width="1.6" stroke-dasharray="5 2.5"/>
<path d="M332.5 436.9C331.9 434.8 330.4 429.1 329.2 424.2C328 419.3 327 411.8 325.1 407.7C323.2 403.6 321.5 401.9 317.7 399.5C313.9 397.1 304.7 394.2 302.1 393.2M310.3 385.5L311.1 395.3" fill="none" stroke="#22b14c" stroke-width="1.9" stroke-linecap="round"/>
<path d="M344.9 425.8C345.6 422.2 347.2 411.8 349 404.4C350.8 397 352.9 387.9 355.6 381.3C358.4 374.7 362.2 368.9 365.5 364.9C368.8 360.9 371.5 360 375.4 357.4C379.2 354.8 383.1 351.9 388.6 349.2C394.1 346.5 401 343.9 408.4 341C415.8 338.1 427.1 334.4 433.1 331.9C439.1 329.4 442.7 327.1 444.6 326.1M440.5 327.8L446.3 323.6M440.5 327.8L447.9 330.6" fill="none" stroke="#22b14c" stroke-width="1.9" stroke-linecap="round"/>
<path d="M354 429.1C354.9 426.3 357.3 416.9 359.6 412.2C361.9 407.5 364.3 404.5 367.9 400.8C371.5 397.1 375.2 393.9 381.1 390.2C387 386.5 395.9 382.1 403.1 378.8C410.3 375.5 417.8 372.4 424.2 370.3C430.6 368.2 432.9 368 441.3 366C449.7 364 465.4 360.4 474.3 358.3C483.2 356.2 491.5 354.1 494.9 353.3M491.6 354.1L496.5 350M491.6 354.1L497.7 357.4" fill="none" stroke="#22b14c" stroke-width="1.9" stroke-linecap="round"/>
<path d="M363.9 427.5C364.4 426.1 365.5 421.5 367.2 419.2C368.9 416.9 371.6 414.7 373.8 413.5C376 412.3 377.8 411.9 380.3 411.8C382.8 411.7 387.2 412.5 388.6 412.6M380.3 411.8L385.3 405.2" fill="none" stroke="#22b14c" stroke-width="1.9" stroke-linecap="round"/>
<circle cx="331.6" cy="437.2" r="5.8" fill="#22b14c"/>
<circle cx="341.7" cy="430.6" r="5.8" fill="#22b14c"/>
<circle cx="351.1" cy="433.8" r="5.8" fill="#22b14c"/>
<circle cx="361.2" cy="430.5" r="5.8" fill="#22b14c"/>
<path d="M348.4 442.4L340 461.4" stroke="#000" stroke-width="1.8" fill="none"/>
</g>
<path d="M359.3 1275L357.4 1539.5" stroke="#000" stroke-width="1.7" fill="none"/>
<rect x="351.8" y="1226.9" width="16.2" height="47.2" fill="#22b04d" stroke="#000" stroke-width="1.8"/>
<path d="M360.2 1226V1215.3M351.8 1215.3H368.9" stroke="#000" stroke-width="1.8" fill="none"/>
<path d="M8 0C8.9 -3 12 -13.2 13.6 -18.3C15.2 -23.4 16.1 -27.8 17.3 -30.6C18.5 -33.4 19.1 -34 21 -34.9C22.9 -35.8 24.3 -34.5 28.4 -35.8C32.5 -37.1 38.4 -41.6 45.7 -42.7C53 -43.8 67.8 -42.4 72.2 -42.3M28.6 -35.2C28.2 -32.7 26.5 -22.9 26.5 -20.1C26.5 -17.3 26.2 -18.9 28.4 -18.5C30.6 -18.1 37.2 -17 39.5 -18C41.8 -19 42.1 -22.5 41.9 -24.4C41.7 -26.3 40.1 -27.4 38.2 -29.3C36.4 -31.2 32 -34.5 30.8 -35.5" fill="none" stroke="#000" stroke-width="3" stroke-linecap="round" stroke-linejoin="round" transform="translate(380.3 1261.3)"/>
<path d="M380.3 1497H393.3L403.1 1512.6H370.9Z" fill="url(#tip2)"/>
<rect x="381.2" y="1262.2" width="11.2" height="234.8" fill="#838383" stroke="#000" stroke-width="1.8"/>
<g transform="translate(-2.4 1667)">
<path d="M111 278.4C110.9 276.8 110 271.6 110.2 268.7C110.4 265.8 111 263.6 112.1 261C113.1 258.4 114.8 255.9 116.5 253.3C118.2 250.7 118.6 249.3 122.5 245.6C126.4 241.8 133 235.8 140.1 230.8C147.2 225.9 155.2 220.9 164.8 215.9C174.4 210.9 186.8 205.5 197.8 201.1C208.8 196.7 219.8 193.2 230.8 189.6C241.8 186 255 182.2 263.7 179.7C272.4 177.2 274.3 176.8 283 174.7C291.7 172.6 306 169 315.9 167.3C325.8 165.6 334.1 164.8 342.3 164.5C350.6 164.2 357.4 164.3 365.4 165.2C373.4 166.1 383 167.8 390.1 169.8C397.2 171.8 403.8 174.8 408.2 177.2C412.6 179.6 414.6 182.2 416.5 184.5C418.4 186.8 419.1 188.7 419.3 191C419.5 193.3 418.6 196.2 417.8 198.5C417 200.8 414.9 203.5 414.3 204.5C415.4 204.2 418 203 420.9 202.7C423.8 202.4 428.2 201.9 431.9 202.5C435.6 203.1 439.2 204.9 442.9 206.4C446.5 207.9 450.5 210.1 453.8 211.3C457.1 212.5 458.9 213.5 462.6 213.5C466.3 213.5 471.8 212.1 475.8 211.5C479.8 210.9 483.6 210.1 486.8 210.2C490 210.3 493.6 211.6 495 211.9C496.1 211 498.5 208.1 501.3 206.7C504.1 205.3 508.7 204 511.8 203.4C514.9 202.8 517 202.8 520.1 203.1C523.2 203.3 526.7 203.8 530.5 205.1C534.3 206.4 539.3 209.1 543.1 210.9C546.9 212.7 551.8 215.2 553.5 216.1C555.2 216.4 560.4 217.1 563.9 218.2C567.4 219.2 570.9 220.3 574.4 222.4C577.9 224.5 581.8 227.8 584.8 230.7C587.8 233.6 590.2 237.4 592.1 240.1C594 242.8 595.6 245.8 596.3 246.9C597.9 248 603.1 251.3 605.7 253.7C608.3 256.1 610.3 258.4 612 261C613.7 263.6 615.2 266.7 616.1 269.3C617 271.9 617 275.4 617.2 276.6C618.1 277.8 621 281.1 622.4 283.9C623.8 286.7 624.9 290.2 625.5 293.3C626.1 296.4 626.2 299.6 626.1 302.7C626 305.8 625.2 310.5 625 312.1C625.8 314 628.4 319.6 629.7 323.6C631 327.6 632.1 332.3 632.8 336.1C633.5 339.9 634.1 343.1 633.9 346.6C633.7 350.1 633 354.2 631.8 357C630.6 359.8 628.7 361.7 626.6 363.3C624.5 364.9 620.5 365.9 619.3 366.4C621 366.9 626.4 367.9 629.7 369.5C633 371.1 636.8 373.6 639.1 375.8C641.4 378.1 642.8 380.8 643.6 383C644.4 385.2 644.4 385.8 643.9 389C643.4 392.2 642.3 396.7 640.7 402.2C639.1 407.7 636.2 416.6 634.1 422C632 427.4 631.6 431.3 628.3 434.3C625 437.3 619.9 437.2 614.3 440.1C608.7 443 601.4 448.5 594.5 451.6C587.6 454.8 580.8 457.2 573.1 459C565.4 460.8 556.6 461.8 548.4 462.3C540.1 462.8 531.9 462.6 523.6 462C515.4 461.4 508.5 460.9 498.9 459C489.3 457.1 475.5 453.8 465.9 450.8C456.3 447.8 448.1 444.6 441.2 440.9C434.3 437.2 429.1 433.1 424.7 428.6C420.3 424.1 416.7 418.1 414.8 413.7C412.9 409.3 412.4 406 413.2 402.2C414 398.4 418.7 392.9 419.8 391C418.5 391.4 414.1 393.1 411.9 393.3C409.7 393.5 408 392.9 406.6 392C405.2 391.1 404.6 389.3 403.5 388C402.4 386.7 400.6 384.7 400 384C400.7 385 403 387.7 404 390.2C405 392.7 406.1 396.1 406.2 399C406.3 401.9 406.1 404.4 404.8 407.8C403.6 411.2 401.9 415.4 398.7 419.2C395.5 423 390.6 426.9 385.5 430.7C380.4 434.5 373.8 439 367.9 442.1C362 445.2 356.2 447.4 350.3 449.1C344.4 450.8 338.6 451.8 332.7 452.2C326.8 452.6 320.3 451.8 315.2 451.6C310.1 451.4 306.1 450.2 302 450.9C297.9 451.6 293.3 455.1 290.5 455.7C287.7 456.3 286.5 455.5 285.3 454.4C284.1 453.3 281.3 451.7 283.5 449.1C285.7 446.5 296 440.4 298.5 438.6C295.2 439 285.8 440.8 278.6 440.9C271.4 441 263.5 440 255.5 439.3C247.5 438.6 239.1 438.1 230.8 436.8C222.6 435.6 211.1 432.7 206 431.8C200.9 430.9 204.1 432.5 200 431.3C195.9 430.1 187.2 427.1 181.3 424.7C175.4 422.3 169.4 419.5 164.8 417C160.2 414.5 156.5 411.4 153.8 409.9C151.1 408.3 150.4 407.7 148.4 407.7C146.4 407.7 144.6 408.5 141.8 409.9C139.1 411.3 135.8 414.3 131.9 415.9C128.1 417.4 123.3 418.8 118.7 419.2C114.1 419.6 109.5 419.2 104.4 418.1C99.3 417 92.9 415 87.9 412.6C83 410.2 79.1 407.3 74.7 403.8C70.3 400.3 65.3 395.8 61.5 391.8C57.6 387.8 54.5 383.5 51.6 379.7C48.7 375.9 46.5 372.1 44 369.2C41.5 366.3 39.6 364.9 36.3 362.1C33 359.3 27.7 355.5 24.2 352.2C20.7 348.9 17.3 345.6 15.4 342.3C13.5 339 12.6 335.9 12.6 332.4C12.6 328.9 13.5 325.4 15.4 321.4C17.3 317.4 20.3 312.4 24.2 308.2C28.1 304 33.4 299.8 38.5 296.2C43.6 292.6 48.5 289.4 54.9 286.3C61.3 283.2 70.5 279.4 76.9 277.5C83.3 275.6 87.7 274.6 93.4 274.7C99.1 274.8 108.1 277.8 111 278.4Z" fill="#f5dcab" stroke="#000" stroke-width="2.1" stroke-linejoin="round"/>
<path d="M111 278.4C111.7 280.1 113.4 284.4 115.4 288.5C117.4 292.6 120 298.1 123.1 302.7C126.2 307.3 130.8 312.2 134.1 315.9C137.4 319.6 140.1 322.3 142.9 324.7C145.7 327.1 149.7 329.3 151.1 330.2M414.3 204.5C412.6 206 407.7 210.2 404.4 213.5C401.1 216.8 397.2 220.8 394.5 224C391.8 227.2 389.6 230.2 387.9 232.7C386.2 235.2 384.7 237.8 384.1 238.8M495 211.9C496.1 213.8 499.2 219.6 501.3 223.4C503.4 227.2 506.6 233 507.6 234.9M507.6 234.9C507.3 236.2 507.1 240 506 243C504.9 246 502.6 249.9 500.8 253C499 256.1 497 258.9 495 261.5C493 264.1 490.9 265.4 488.8 268.3C486.7 271.2 484 275.2 482.5 278.7C481 282.2 480.1 285.7 479.9 289.2C479.7 292.7 480.2 296.1 481.5 299.6C482.8 303.1 485.3 306.7 487.7 310C490.1 313.3 493.7 316.8 496.1 319.4C498.6 322 501.3 324.6 502.4 325.7M576.5 354.4C578.8 354.3 586.4 353.6 590 353.9C593.6 354.2 595.3 354.8 598.4 356C601.5 357.2 605.3 359.5 608.8 361.2C612.3 362.9 617.5 365.5 619.3 366.4" fill="none" stroke="#000" stroke-width="2" stroke-linecap="round"/>
<path d="M507.6 235.5C509.2 236.4 514 238.9 517 241.2C520 243.5 523.2 246.2 525.3 249.5C527.4 252.8 528.3 256.5 529.5 261C530.7 265.5 531.8 270.9 532.6 276.6C533.4 282.3 533.9 292.3 534.2 295.4M488.8 269C489.7 270.6 491.9 276 494 278.7C496.1 281.4 499.4 282.7 501.3 285C503.2 287.3 503.6 289.6 505.5 292.3C507.4 295 511.6 299.7 512.8 301.2M552.6 217C552.3 218.2 550.9 221.8 550.9 224.4C550.9 227 551.2 229.7 552.5 232.8C553.8 235.9 557.1 239.5 558.7 243.2C560.4 246.8 561.6 250.7 562.4 254.7C563.2 258.7 563.7 262.7 563.4 267.2C563.1 271.7 562 277.9 560.8 281.9C559.6 285.9 556.9 289.7 556.1 291.3M595.8 248C594.7 249.7 590.1 256.2 589 257.9M616.5 276.8C614.7 277.1 609.2 278.6 605.7 278.7C602.2 278.8 598.2 276.9 595.3 277.7C592.3 278.5 589.2 282.4 588 283.4M625 312.6C623.5 313.6 619.3 317.3 616.1 318.4C612.9 319.4 609.5 319.6 605.7 318.9C601.9 318.2 597 316.2 593.2 314.2C589.4 312.2 584.5 308.1 582.7 306.9M502.4 324.1C503.6 323.9 507.3 323.7 509.7 323.1C512 322.6 515.4 321.2 516.5 320.8M538.4 322.6C538.2 324 537.3 327.8 537.3 330.9C537.3 334 538.2 339.6 538.4 341.4M554 318.9C555.1 319.9 558.8 322.3 560.8 324.7C562.8 327.1 564.6 329.9 566 333C567.4 336.1 568.6 340.5 569.2 343.5C569.8 346.5 569.6 349.6 569.7 350.8" fill="none" stroke="#000" stroke-width="1.4" stroke-linecap="round"/>
<path d="M501.3 325.2C502.2 324.9 508.8 329.3 511.8 330.4C514.8 331.5 517 331.8 519.1 331.8C521.2 331.8 522.9 331 524.3 330.4C525.7 329.8 526.4 327.7 527.4 328.3C528.4 328.9 528.9 331.9 530.5 334.1C532.1 336.3 534.3 339.1 536.8 341.4C539.2 343.6 542.1 346 545.2 347.6C548.3 349.2 552.5 350.6 555.6 351.3C558.7 352 561.7 351.9 564 351.8C566.3 351.7 567.6 350.5 569.2 350.8C570.8 351.1 572.2 352.8 573.4 353.4C574.6 354 577.2 354.3 576.5 354.7C575.8 355.1 571.8 355.8 569.2 356C566.6 356.2 563.4 356.6 560.8 356.2C558.2 355.8 556.1 354.8 553.5 353.9C550.9 353 548.3 351.6 545.2 350.8C542.1 350 538.2 349.4 534.7 349.2C531.2 349 527.1 350.1 524.3 349.7C521.5 349.3 520.1 348.3 518 346.6C515.9 344.9 513.7 341.7 511.8 339.3C509.9 336.9 508.2 334.4 506.5 332C504.8 329.6 500.4 325.5 501.3 325.2Z" fill="#050505" stroke="#000" stroke-width="1"/>
<ellipse cx="304.4" cy="394.4" rx="18.1" ry="16.2" transform="rotate(-15 304.4 394.4)" fill="#848484" stroke="#151515" stroke-width="1.7" stroke-dasharray="5.2 2.8"/>
<ellipse cx="380.2" cy="410.9" rx="17.8" ry="15.7" transform="rotate(-15 380.2 410.9)" fill="#848484" stroke="#151515" stroke-width="1.7" stroke-dasharray="5.2 2.8"/>
<ellipse cx="446.1" cy="320.6" rx="23" ry="24.3" transform="rotate(0 446.1 320.6)" fill="#848484" stroke="#151515" stroke-width="1.7" stroke-dasharray="5.2 2.8"/>
<ellipse cx="505.2" cy="357.1" rx="26.4" ry="15.7" transform="rotate(27 505.2 357.1)" fill="#848484" stroke="#151515" stroke-width="1.7" stroke-dasharray="5.2 2.8"/>
<ellipse cx="339.8" cy="434.6" rx="27.2" ry="15.7" transform="rotate(-10 339.8 434.6)" fill="#e09a9a" stroke="#ed1c24" stroke-width="1.6" stroke-dasharray="5 2.5"/>
<path d="M332.5 436.9C331.9 434.8 330.4 429.1 329.2 424.2C328 419.3 327 411.8 325.1 407.7C323.2 403.6 321.5 401.9 317.7 399.5C313.9 397.1 304.7 394.2 302.1 393.2M310.3 385.5L311.1 395.3" fill="none" stroke="#22b14c" stroke-width="1.9" stroke-linecap="round"/>
<path d="M344.9 425.8C345.6 422.2 347.2 411.8 349 404.4C350.8 397 352.9 387.9 355.6 381.3C358.4 374.7 362.2 368.9 365.5 364.9C368.8 360.9 371.5 360 375.4 357.4C379.2 354.8 383.1 351.9 388.6 349.2C394.1 346.5 401 343.9 408.4 341C415.8 338.1 427.1 334.4 433.1 331.9C439.1 329.4 442.7 327.1 444.6 326.1M440.5 327.8L446.3 323.6M440.5 327.8L447.9 330.6" fill="none" stroke="#22b14c" stroke-width="1.9" stroke-linecap="round"/>
<path d="M354 429.1C354.9 426.3 357.3 416.9 359.6 412.2C361.9 407.5 364.3 404.5 367.9 400.8C371.5 397.1 375.2 393.9 381.1 390.2C387 386.5 395.9 382.1 403.1 378.8C410.3 375.5 417.8 372.4 424.2 370.3C430.6 368.2 432.9 368 441.3 366C449.7 364 465.4 360.4 474.3 358.3C483.2 356.2 491.5 354.1 494.9 353.3M491.6 354.1L496.5 350M491.6 354.1L497.7 357.4" fill="none" stroke="#22b14c" stroke-width="1.9" stroke-linecap="round"/>
<path d="M363.9 427.5C364.4 426.1 365.5 421.5 367.2 419.2C368.9 416.9 371.6 414.7 373.8 413.5C376 412.3 377.8 411.9 380.3 411.8C382.8 411.7 387.2 412.5 388.6 412.6M380.3 411.8L385.3 405.2" fill="none" stroke="#22b14c" stroke-width="1.9" stroke-linecap="round"/>
<circle cx="331.6" cy="437.2" r="5.8" fill="#22b14c"/>
<circle cx="341.7" cy="430.6" r="5.8" fill="#22b14c"/>
<circle cx="351.1" cy="433.8" r="5.8" fill="#22b14c"/>
<circle cx="361.2" cy="430.5" r="5.8" fill="#22b14c"/>
<path d="M348.4 442.4L340 461.4" stroke="#000" stroke-width="1.8" fill="none"/>
</g>
<path d="M351.6 1821.1L349.6 2085" stroke="#000" stroke-width="1.7" fill="none"/>
<rect x="344.1" y="1773" width="16.2" height="47.2" fill="#22b04d" stroke="#000" stroke-width="1.8"/>
<path d="M352.5 1772.1V1761.4M344.1 1761.4H361.2" stroke="#000" stroke-width="1.8" fill="none"/>
<path d="M8 0C8.9 -3 12 -13.2 13.6 -18.3C15.2 -23.4 16.1 -27.8 17.3 -30.6C18.5 -33.4 19.1 -34 21 -34.9C22.9 -35.8 24.3 -34.5 28.4 -35.8C32.5 -37.1 38.4 -41.6 45.7 -42.7C53 -43.8 67.8 -42.4 72.2 -42.3M28.6 -35.2C28.2 -32.7 26.5 -22.9 26.5 -20.1C26.5 -17.3 26.2 -18.9 28.4 -18.5C30.6 -18.1 37.2 -17 39.5 -18C41.8 -19 42.1 -22.5 41.9 -24.4C41.7 -26.3 40.1 -27.4 38.2 -29.3C36.4 -31.2 32 -34.5 30.8 -35.5" fill="none" stroke="#000" stroke-width="3" stroke-linecap="round" stroke-linejoin="round" transform="translate(439.2 1799.2)"/>
<path d="M439.2 1961H452.2L461.8 1973.9H428.7Z" fill="#f2e916"/>
<rect x="440.1" y="1800.1" width="11.2" height="160.9" fill="#838383" stroke="#000" stroke-width="1.8"/>
<g transform="scale(.1)" fill="none"><path d="M0 0m8950 2824V2753m-20 0h40m-10 88V2779m-20 0h40m-10 18V2737m-20 0h40m-10 68V2739m-20 0h40m-10 134V2813m-20 0h40m-10 47V2790m-20 0h40m-10 46V2767m-20 0h40m-10 96V2806m-20 0h40m-10 -56V2683m-20 0h40m-10 92V2714m-20 0h40m-10 56V2709m-20 0h40m-10 6V2650m-20 0h40m-9 76V2660m-20 0h40m-10 77V2675m-20 0h40m-10 207V2811m-20 0h40m-10 -77V2670m-20 0h40m-10 50V2650m-20 0h40m-10 126V2709m-20 0h40m-10 103V2755m-20 0h40m-10 48V2737m-20 0h40m-10 85V2766m-20 0h40m-10 68V2779m-20 0h40m-10 5V2712m-20 0h40m-10 213V2875m-20 0h40m-10 -53V2746m-20 0h40m-10 139V2818m-20 0h40m-10 -23V2720m-20 0h40m-10 206V2854m-20 0h40m-10 -69V2711m-20 0h40m-10 126V2765m-20 0h40m-10 71V2767m-20 0h40m-10 56V2757m-20 0h40m-10 50V2745m-20 0h40m-10 91V2762m-20 0h40m-10 26V2723m-20 0h40m-9 66V2714m-20 0h40m-10 128V2766m-20 0h40m-10 51V2759m-20 0h40m-10 82V2780m-20 0h40m-10 1V2721m-20 0h40m-10 16V2667m-20 0h40m-10 318V2916m-20 0h40m-10 -8V2836m-20 0h40m-10 -63V2719m-20 0h40m-10 149V2792m-20 0h40m-10 15V2735m-20 0h40m-10 40V2701m-20 0h40m-10 93V2717m-20 0h40m-10 84V2724m-20 0h40m-10 131V2784m-20 0h40m-10 89V2799m-20 0h40m-10 64V2789m-20 0h40m-10 -46V2675m-20 0h40m-10 122V2729m-20 0h40m-10 106V2777m-20 0h40m-10 105V2814m-20 0h40m-10 -15V2714m-20 0h40m-10 143V2761m-20 0h40m-9 95V2785m-20 0h40m-10 -3V2720m-20 0h40m-10 -14V2636m-20 0h40m-10 189V2767m-20 0h40m-10 52V2755m-20 0h40m-10 118V2807m-20 0h40m-10 1V2746m-20 0h40m-10 30V2703m-20 0h40m-10 84V2716m-20 0h40m-10 122V2767m-20 0h40m-10 67V2767m-20 0h40m-10 27V2723m-20 0h40m-10 129V2764m-20 0h40m-10 66V2751m-20 0h40m-10 74V2760m-20 0h40m-10 71V2767m-20 0h40m-10 14V2711m-20 0h40m-10 125V2754m-20 0h40m-10 -53V2617m-20 0h40m-10 161V2701m-20 0h40m-10 97V2725m-20 0h40m-10 124V2778m-20 0h40m-9 121V2798m-20 0h40m-10 -96V2573m-20 0h40m-10 161V2586m-20 0h40m-10 70V2503m-20 0h40m-10 218V2565m-20 0h40m-10 58V2487m-20 0h40m-10 133V2472m-20 0h40m-10 262V2588m-20 0h40m-10 139V2609m-20 0h40m-10 112V2584m-20 0h40m-10 153V2604m-20 0h40m-10 149V2641m-20 0h40m-10 121V2599m-20 0h40m-10 53V2490m-20 0h40m-10 95V2430m-20 0h40m-10 342V2623m-20 0h40m-10 -8V2480m-20 0h40m-10 305V2649m-20 0h40m-10 110V2625m-20 0h40m-10 117V2599m-20 0h40m-10 45V2504m-20 0h40m-10 237V2599m-20 0h40m-10 38V2478m-20 0h40m-9 282V2609m-20 0h40m-10 45V2506m-20 0h40m-10 180V2536m-20 0h40m-10 132V2560m-20 0h40m-10 105V2502m-20 0h40m-10 172V2542m-20 0h40m-10 84V2459m-20 0h40m-10 207V2517m-20 0h40m-10 148V2524m-20 0h40m-10 147V2547m-20 0h40m-10 63V2464m-20 0h40m-10 174V2504m-20 0h40m-10 178V2542m-20 0h40m-10 48V2427m-20 0h40m-10 242V2518m-20 0h40m-10 157V2502m-20 0h40m-10 204V2528m-20 0h40m-10 45V2426m-20 0h40m-10 156V2397m-20 0h40m-10 244V2494m-20 0h40m-10 147V2479m-20 0h40m-10 230V2544m-20 0h40m-10 153V2568m-20 0h40m-9 192V2632m-20 0h40m-10 5V2505m-20 0h40m-10 139V2513m-20 0h40m-10 194V2554m-20 0h40m-10 93V2496m-20 0h40m-10 292V2609m-20 0h40m-10 96V2570m-20 0h40m-10 200V2623m-20 0h40m-10 65V2534m-20 0h40m-10 141V2535m-20 0h40m-10 152V2542m-20 0h40m-10 134V2508m-20 0h40m-10 120V2467m-20 0h40m-10 212V2537m-20 0h40m-10 177V2567m-20 0h40m-10 89V2512m-20 0h40m-10 99V2473m-20 0h40m-10 291V2619m-20 0h40m-10 95V2575m-20 0h40m-10 173V2600m-20 0h40m-10 184V2587m-20 0h40m-10 106V2551m-20 0h40m-10 101V2492m-20 0h40m-9 173V2525m-20 0h40m-10 92V2475m-20 0h40m-10 171V2485m-20 0h40m-10 156V2498m-20 0h40m-10 175V2506m-20 0h40m-10 179V2522m-20 0h40m-10 252V2643m-20 0h40m-10 20V2507m-20 0h40m-10 299V2642m-20 0h40m-10 63V2557m-20 0h40m-10 103V2497m-20 0h40m-10 148V2502m-20 0h40m-10 113V2461m-20 0h40m-10 151V2471m-20 0h40m-10 162V2472m-20 0h40m-10 138V2460m-20 0h40m-10 260V2550m-20 0h40m-10 160V2565m-20 0h40m-10 135V2551m-20 0h40m-10 84V2494m-20 0h40m-10 119V2461m-20 0h40m-10 211V2528m-20 0h40m-10 107V2494m-20 0h40m-9 171V2530m-20 0h40m-10 220V2578m-20 0h40m-10 74V2499m-20 0h40m-10 139V2471m-20 0h40m-10 203V2542m-20 0h40m-10 138V2538m-20 0h40m-10 216V2603m-20 0h40m-10 24V2474m-20 0h40m-10 61V2381m-20 0h40m-10 234V2441m-20 0h40m-10 214V2510m-20 0h40m-10 127V2429m-20 0h40m-10 278V2567m-20 0h40m-10 62V2475m-20 0h40m-10 208V2541m-20 0h40m-10 90V2523m-20 0h40m-10 96V2458m-20 0h40m-10 131V2421m-20 0h40m-10 205V2465m-20 0h40m-10 122V2449m-20 0h40m-10 227V2531m-20 0h40m-10 85V2461m-20 0h40m-10 127V2426m-20 0h40m-9 239V2529m-20 0h40m-10 105V2486m-20 0h40m-10 176V2494m-20 0h40m-10 155V2486m-20 0h40m-10 111V2438m-20 0h40m-10 155V2478m-20 0h40m-10 113V2441m-20 0h40m-10 127V2403m-20 0h40m-10 236V2472m-20 0h40m-10 159V2457m-20 0h40m-10 135V2420m-20 0h40m-10 255V2515m-20 0h40m-10 50V2414m-20 0h40m-10 236V2471m-20 0h40m-10 140V2469m-20 0h40m-10 84V2383m-20 0h40m-10 252V2501m-20 0h40m-10 111V2440m-20 0h40m-10 187V2478m-20 0h40m-10 62V2390m-20 0h40m-10 196V2442m-20 0h40m-10 157V2452m-20 0h40m-10 169V2463m-20 0h40m-9 217V2540m-20 0h40m-10 73V2478m-20 0h40m-10 158V2494m-20 0h40m-10 161V2486m-20 0h40m-10 236V2585m-20 0h40m-10 62V2516m-20 0h40m-10 83V2459m-20 0h40m-10 256V2544m-20 0h40m-10 71V2452m-20 0h40m-10 118V2411m-20 0h40m-10 299V2493m-20 0h40m-10 191V2514m-20 0h40m-10 62V2417m-20 0h40m-10 138V2397m-20 0h40m-10 235V2459m-20 0h40m-10 157V2461m-20 0h40m-10 163V2483m-20 0h40m-10 125V2446m-20 0h40m-10 198V2523m-20 0h40m-10 123V2484m-20 0h40m-10 79V2423m-20 0h40m-10 156V2398m-20 0h40m-10 300V2557m-20 0h40m-9 124V2525m-20 0h40m-10 156V2516m-20 0h40m-10 171V2520m-20 0h40m-10 90V2488m-20 0h40m-10 112V2444m-20 0h40m-10 300V2589m-20 0h40m-10 75V2505m-20 0h40m-10 97V2479m-20 0h40m-10 208V2544m-20 0h40m-10 220V2629m-20 0h40m-10 125V2590m-20 0h40m-10 179V2629m-20 0h40m-10 63V2556m-20 0h40m-10 107V2546m-20 0h40m-10 78V2459m-20 0h40m-10 171V2448m-20 0h40m-10 244V2541m-20 0h40m-10 108V2469m-20 0h40m-10 91V2401m-20 0h40m-10 167V2415m-20 0h40m-10 245V2510m-20 0h40m-10 15V2386m-20 0h40m-9 262V2491m-20 0h40m-10 79V2407m-20 0h40m-10 30V2271m-20 0h40m-10 266V2386m-20 0h40m-10 63V2269m-20 0h40m-10 256V2359m-20 0h40m-10 125V2341m-20 0h40m-10 299V2476m-20 0h40m-10 93V2412m-20 0h40m-10 271V2519m-20 0h40m-10 83V2442m-20 0h40m-10 230V2511m-20 0h40m-10 96V2439m-20 0h40m-10 131V2417m-20 0h40m-10 208V2479m-20 0h40m-10 230V2557m-20 0h40m-10 118V2496m-20 0h40m-10 159V2490m-20 0h40m-10 187V2522m-20 0h40m-10 186V2533m-20 0h40m-10 118V2480m-20 0h40m-10 228V2548m-20 0h40m-10 148V2573m-20 0h40m-9 256V2691m-20 0h40m-10 -47V2481m-20 0h40m-10 225V2542m-20 0h40m-10 183V2562m-20 0h40m-10 154V2541m-20 0h40m-10 173V2518m-20 0h40m-10 208V2568m-20 0h40m-10 158V2581m-20 0h40m-10 142V2566m-20 0h40m-10 208V2647m-20 0h40m-10 105V2594m-20 0h40m-10 95V2528m-20 0h40m-10 196V2529m-20 0h40m-10 132V2475m-20 0h40m-10 133V2476m-20 0h40m-10 118V2438m-20 0h40m-10 246V2524m-20 0h40m-10 103V2475m-20 0h40m-10 219V2550m-20 0h40m-10 143V2552m-20 0h40m-10 83V2448m-20 0h40m-10 110V2413m-20 0h40m-10 133V2380m-20 0h40m-9 251V2464m-20 0h40m-10 203V2531m-20 0h40m-10 41V2386m-20 0h40m-10 248V2471m-20 0h40m-10 22V2341m-20 0h40m-10 194V2398m-20 0h40m-10 209V2454m-20 0h40m-10 130V2393m-20 0h40m-10 214V2436m-20 0h40m-10 100V2379m-20 0h40m-10 244V2454m-20 0h40m-10 79V2344m-20 0h40m-10 178V2368m-20 0h40m-10 297V2473m-20 0h40m-10 77V2372m-20 0h40m-10 234V2461m-20 0h40m-10 111V2430m-20 0h40m-10 239V2511m-20 0h40m-10 72V2432m-20 0h40m-10 217V2523m-20 0h40m-10 99V2488m-20 0h40m-10 56V2373m-20 0h40m-10 119V2315m-20 0h40m-9 319V2465m-20 0h40m-10 45V2331m-20 0h40m-10 114V2258m-20 0h40m-10 279V2383m-20 0h40m-10 81V2298m-20 0h40m-10 244V2382m-20 0h40m-10 169V2364m-20 0h40m-10 214V2413m-20 0h40m-10 119V2377m-20 0h40m-10 161V2344m-20 0h40m-10 169V2368m-20 0h40m-10 133V2336m-20 0h40m-10 240V2423m-20 0h40m-10 1V2263m-20 0h40m-10 253V2339m-20 0h40m-10 213V2374m-20 0h40m-10 222V2424m-20 0h40m-10 137V2379m-20 0h40m-10 75V2311m-20 0h40m-10 130V2305m-20 0h40m-10 108V2290m-20 0h40m-10 190V2342m-20 0h40m-10 125V2346m-20 0h40m-9 70V2241m-20 0h40m-10 223V2304m-20 0h40m-10 21V2152m-20 0h40m-10 280V2296m-20 0h40m-10 171V2306m-20 0h40m-10 277V2389m-20 0h40m-10 100V2320m-20 0h40m-10 102V2254m-20 0h40m-10 201V2283m-20 0h40m-10 202V2321m-20 0h40m-10 123V2267m-20 0h40m-10 175V2277m-20 0h40m-10 198V2318m-20 0h40m-10 161V2344m-20 0h40m-10 192V2359m-20 0h40m-10 74V2261m-20 0h40m-10 158V2223m-20 0h40m-10 229V2295m-20 0h40m-10 120V2282m-20 0h40m-10 215V2335m-20 0h40m-10 83V2248m-20 0h40m-10 222V2286m-20 0h40m-10 160V2265m-20 0h40m-9 232V2356m-20 0h40m-10 218V2416m-20 0h40m-10 152V2383m-20 0h40m-10 88V2288m-20 0h40m-10 226V2377m-20 0h40m-10 2V2208m-20 0h40m-10 301V2356m-20 0h40m-10 136V2325m-20 0h40m-10 59V2222m-20 0h40m-10 165V2215m-20 0h40m-10 279V2339m-20 0h40m-10 158V2341m-20 0h40m-10 41V2184m-20 0h40m-10 251V2284m-20 0h40m-10 159V2267m-20 0h40m-10 188V2293m-20 0h40m-10 232V2378m-20 0h40m-10 130V2314m-20 0h40m-10 134V2257m-20 0h40m-10 270V2386m-20 0h40m-10 50V2265m-20 0h40m-10 173V2284m-20 0h40m-9 155V2283m-20 0h40m-10 98V2229m-20 0h40m-10 204V2273m-20 0h40m-10 242V2363m-20 0h40m-10 174V2377m-20 0h40m-10 91V2264m-20 0h40m-10 319V2342m-20 0h40m-10 215V2360m-20 0h40m-10 189V2384m-20 0h40m-10 53V2271m-20 0h40m-10 318V2410m-20 0h40m-10 133V2373m-20 0h40m-10 141V2361m-20 0h40m-10 155V2344m-20 0h40m-10 172V2333m-20 0h40m-10 192V2349m-20 0h40m-10 156V2331m-20 0h40m-10 249V2406m-20 0h40m-10 119V2345m-20 0h40m-10 168V2354m-20 0h40m-10 91V2255m-20 0h40m-10 263V2342m-20 0h40m-10 197V2377m-20 0h40m-9 167V2367m-20 0h40m-10 157V2347m-20 0h40m-10 260V2438m-20 0h40m-10 113V2412m-20 0h40m-10 121V2366m-20 0h40m-10 106V2330m-20 0h40m-10 120V2301m-20 0h40m-10 211V2323m-20 0h40m-10 205V2353m-20 0h40m-10 155V2301m-20 0h40m-10 277V2426m-20 0h40m-10 15V2268m-20 0h40m-10 144V2215m-20 0h40m-10 325V2394m-20 0h40m-10 136V2317m-20 0h40m-10 208V2358m-20 0h40m-10 89V2309m-20 0h40m-10 274V2390m-20 0h40m-10 191V2362m-20 0h40m-10 178V2347m-20 0h40m-10 285V2449m-20 0h40m-10 212V2475m-20 0h40m-10 191V2521m-20 0h40m-9 36V2368m-20 0h40m-10 207V2389m-20 0h40m-10 129V2330m-20 0h40m-10 261V2371m-20 0h40m-10 208V2414m-20 0h40m-10 228V2490m-20 0h40m-10 38V2344m-20 0h40m-10 198V2322m-20 0h40m-10 140V2301m-20 0h40m-10 213V2349m-20 0h40m-10 232V2378m-20 0h40m-10 94V2295m-20 0h40m-10 354V2491m-20 0h40m-10 1V2329m-20 0h40m-10 310V2472m-20 0h40m-10 79V2367m-20 0h40m-10 125V2332m-20 0h40m-10 160V2311m-20 0h40m-10 127V2232m-20 0h40m-10 326V2381m-20 0h40m-10 169V2382m-20 0h40m-10 177V2397m-20 0h40m-10 302V2531m-20 0h40m-9 64V2438m-20 0h40m-10 37V2289m-20 0h40m-10 224V2362m-20 0h40m-10 216V2395m-20 0h40m-10 110V2351m-20 0h40m-10 239V2420m-20 0h40m-10 23V2304m-20 0h40m-10 165V2276m-20 0h40m-10 321V2407m-20 0h40m-10 175V2416m-20 0h40m-10 42V2259m-20 0h40m-10 297V2397m-20 0h40m-10 182V2413m-20 0h40m-10 127V2335m-20 0h40m-10 292V2478m-20 0h40m-10 -19V2301m-20 0h40m-10 264V2382m-20 0h40m-10 79V2289m-20 0h40m-10 195V2320m-20 0h40m-10 333V2481m-20 0h40m-10 161V2470m-20 0h40m-10 59V2323m-20 0h40m-10 248V2404m-20 0h40m-9 170V2414m-20 0h40m-10 147V2398m-20 0h40m-10 220V2456m-20 0h40m-10 274V2553m-20 0h40m-10 58V2432m-20 0h40m-10 155V2415m-20 0h40m-10 66V2312m-20 0h40m-10 156V2293m-20 0h40m-10 218V2327m-20 0h40m-10 243V2405m-20 0h40m-10 174V2379m-20 0h40m-10 188V2380m-20 0h40m-10 -1V2218m-20 0h40m-10 296V2349m-20 0h40m-10 240V2386m-20 0h40m-10 160V2365m-20 0h40m-10 172V2369m-20 0h40m-10 200V2405m-20 0h40m-10 62V2286m-20 0h40m-10 227V2349m-20 0h40m-10 140V2324m-20 0h40m-10 203V2353m-20 0h40m-10 112V2309m-20 0h40m-9 135V2261m-20 0h40m-10 205V2271m-20 0h40m-10 150V2257m-20 0h40m-10 239V2329m-20 0h40m-10 198V2339m-20 0h40m-10 77V2220m-20 0h40m-10 222V2262m-20 0h40m-10 184V2269m-20 0h40m-10 171V2286m-20 0h40m-10 219V2342m-20 0h40m-10 48V2215m-20 0h40m-10 306V2360m-20 0h40m-10 75V2268m-20 0h40m-10 311V2409m-20 0h40m-10 125V2345m-20 0h40m-10 135V2263m-20 0h40m-10 260V2305m-20 0h40m-10 121V2281m-20 0h40m-10 232V2347m-20 0h40m-10 152V2327m-20 0h40m-10 156V2303m-20 0h40m-10 181V2319m-20 0h40m-10 141V2300m-20 0h40m-9 113V2233m-20 0h40m-10 212V2256m-20 0h40m-10 98V2219m-20 0h40m-10 289V2317m-20 0h40m-10 156V2313m-20 0h40m-10 179V2326m-20 0h40m-10 117V2291m-20 0h40m-10 206V2343m-20 0h40m-10 85V2228m-20 0h40m-10 175V2208m-20 0h40m-10 189V2244m-20 0h40m-10 41V2122m-20 0h40m-10 234V2202m-20 0h40m-10 236V2229m-20 0h40m-10 122V2156m-20 0h40m-10 282V2270m-20 0h40m-10 135V2214m-20 0h40m-10 209V2274m-20 0h40m-10 159V2281m-20 0h40m-10 92V2204m-20 0h40m-10 287V2288m-20 0h40m-10 207V2317m-20 0h40m-10 192V2330m-20 0h40m-9 98V2278m-20 0h40m-10 67V2151m-20 0h40m-10 223V2191m-20 0h40m-10 271V2287m-20 0h40m-10 66V2172m-20 0h40m-10 200V2200m-20 0h40m-10 178V2202m-20 0h40m-10 181V2191m-20 0h40m-10 319V2361m-20 0h40m-10 83V2279m-20 0h40m-10 220V2314m-20 0h40m-10 200V2310m-20 0h40m-10 206V2324m-20 0h40m-10 133V2279m-20 0h40m-10 116V2243m-20 0h40m-10 245V2318m-20 0h40m-10 168V2303m-20 0h40m-10 232V2348m-20 0h40m-10 153V2328m-20 0h40m-10 129V2273m-20 0h40m-10 166V2250m-20 0h40m-10 139V2204m-20 0h40m-9 271V2277m-20 0h40m-10 215V2314m-20 0h40m-10 149V2259m-20 0h40m-10 179V2263m-20 0h40m-10 174V2260m-20 0h40m-10 261V2313m-20 0h40m-10 251V2398m-20 0h40m-10 77V2263m-20 0h40m-10 236V2307m-20 0h40m-10 162V2255m-20 0h40m-10 328V2379m-20 0h40m-10 70V2259m-20 0h40m-10 248V2339m-20 0h40m-10 147V2316m-20 0h40m-10 229V2383m-20 0h40m-10 190V2413m-20 0h40m-10 82V2374m-20 0h40m-10 91V2262m-20 0h40m-10 279V2336m-20 0h40m-10 163V2338m-20 0h40m-10 184V2318m-20 0h40m-10 150V2270m-20 0h40m-10 266V2371m-20 0h40m-9 132V2315m-20 0h40m-10 245V2394m-20 0h40m-10 89V2329m-20 0h40m-10 172V2339m-20 0h40m-10 107V2260m-20 0h40m-10 220V2299m-20 0h40m-10 199V2321m-20 0h40m-10 160V2270m-20 0h40m-10 246V2358m-20 0h40m-10 155V2316m-20 0h40m-10 152V2272m-20 0h40m-10 176V2296m-20 0h40m-10 193V2282m-20 0h40m-10 230V2326m-20 0h40m-10 128V2281m-20 0h40m-10 221V2332m-20 0h40m-10 244V2397m-20 0h40m-10 199V2420m-20 0h40m-10 77V2316m-20 0h40m-10 197V2346m-20 0h40m-10 225V2436m-20 0h40m-10 50V2274m-20 0h40m-10 287V2395m-20 0h40m-9 196V2421m-20 0h40m-10 33V2269m-20 0h40m-10 235V2330m-20 0h40m-10 218V2337m-20 0h40m-10 123V2288m-20 0h40m-10 268V2370m-20 0h40m-10 139V2330m-20 0h40m-10 121V2249m-20 0h40m-10 197V2254m-20 0h40m-10 252V2316m-20 0h40m-10 169V2327m-20 0h40m-10 198V2354m-20 0h40m-10 238V2393m-20 0h40m-10 150V2354m-20 0h40m-10 126V2294m-20 0h40m-10 272V2396m-20 0h40m-10 79V2277m-20 0h40m-10 238V2337m-20 0h40m-10 145V2294m-20 0h40m-10 186V2281m-20 0h40m-10 88V2201m-20 0h40m-10 364V2385m-20 0h40m-10 139V2354m-20 0h40m-9 157V2334m-20 0h40m-10 180V2321m-20 0h40m-10 218V2347m-20 0h40m-10 224V2420m-20 0h40m-10 166V2381m-20 0h40m-10 233V2443m-20 0h40m-10 72V2329m-20 0h40m-10 109V2241m-20 0h40m-10 279V2319m-20 0h40m-10 237V2348m-20 0h40m-10 207V2390m-20 0h40m-10 78V2290m-20 0h40m-10 259V2391m-20 0h40m-10 190V2426m-20 0h40m-10 96V2331m-20 0h40m-10 267V2408m-20 0h40m-10 142V2385m-20 0h40m-10 195V2406m-20 0h40m-10 42V2259m-20 0h40m-10 167V2239m-20 0h40m-10 289V2344m-20 0h40m-10 117V2296m-20 0h40m-10 240V2401m-20 0h40m-9 128V2355m-20 0h40m-10 239V2438m-20 0h40m-10 80V2322m-20 0h40m-10 170V2291m-20 0h40m-10 237V2314m-20 0h40m-10 144V2280m-20 0h40m-10 211V2336m-20 0h40m-10 125V2282m-20 0h40m-10 174V2260m-20 0h40m-10 209V2283m-20 0h40m-10 143V2248m-20 0h40m-10 195V2273m-20 0h40m-10 233V2324m-20 0h40m-10 96V2252m-20 0h40m-10 188V2241m-20 0h40m-10 192V2257m-20 0h40m-10 253V2358m-20 0h40m-10 142V2286m-20 0h40m-10 213V2294m-20 0h40m-10 171V2279m-20 0h40m-10 223V2234m-20 0h40m-10 205V2255m-20 0h40m-10 233V2310m-20 0h40m-9 222V2356m-20 0h40m-10 171V2328m-20 0h40m-10 179V2352m-20 0h40m-10 241V2425m-20 0h40m-10 -32V2213m-20 0h40m-10 346V2370m-20 0h40m-10 110V2312m-20 0h40m-10 144V2267m-20 0h40m-10 202V2286m-20 0h40m-10 208V2282m-20 0h40m-10 253V2371m-20 0h40m-10 238V2396m-20 0h40m-10 165V2378m-20 0h40m-10 120V2302m-20 0h40m-10 105V2224m-20 0h40m-10 239V2276m-20 0h40m-10 76V2164m-20 0h40m-10 214V2200m-20 0h40m-10 309V2313m-20 0h40m-10 -28V2083m-20 0h40m-10 355V2231m-20 0h40m-10 237V2256m-20 0h40m-9 181V2231m-20 0h40m-10 200V2261m-20 0h40m-10 275V2336m-20 0h40m-10 67V2224m-20 0h40m-10 154V2202m-20 0h40m-10 340V2351m-20 0h40m-10 195V2357m-20 0h40m-10 115V2288m-20 0h40m-10 162V2298m-20 0h40m-10 191V2294m-20 0h40m-10 227V2316m-20 0h40m-10 130V2273m-20 0h40m-10 143V2200m-20 0h40m-10 238V2225m-20 0h40m-10 173V2216m-20 0h40m-10 263V2281m-20 0h40m-10 244V2344m-20 0h40m-10 163V2308m-20 0h40m-10 151V2274m-20 0h40m-10 279V2371m-20 0h40m-10 136V2339m-20 0h40m-10 247V2391m-20 0h40m-10 204V2386m-20 0h40m-9 225V2467m-20 0h40m-10 176V2438m-20 0h40m-10 187V2440m-20 0h40m-10 160V2406m-20 0h40m-10 186V2388m-20 0h40m-10 166V2375m-20 0h40m-10 65V2259m-20 0h40m-10 345V2386m-20 0h40m-10 130V2295m-20 0h40m-10 282V2389m-20 0h40m-10 236V2398m-20 0h40m-10 179V2385m-20 0h40m-10 225V2430m-20 0h40m-10 95V2304m-20 0h40m-10 240V2358m-20 0h40m-10 104V2247m-20 0h40m-10 252V2323m-20 0h40m-10 180V2310m-20 0h40m-10 176V2310m-20 0h40m-10 296V2473m-20 0h40m-10 61V2283m-20 0h40m-10 291V2411m-20 0h40m-10 107V2342m-20 0h40m-9 227V2372m-20 0h40m-10 93V2284m-20 0h40m-10 329V2427m-20 0h40m-10 86V2347m-20 0h40m-10 131V2317m-20 0h40m-10 115V2237m-20 0h40m-10 220V2280m-20 0h40m-10 223V2278m-20 0h40m-10 198V2277m-20 0h40m-10 131V2167m-20 0h40m-10 272V2252m-20 0h40m-10 264V2332m-20 0h40m-10 287V2417m-20 0h40m-10 227V2489m-20 0h40m-10 -7V2241m-20 0h40m-10 304V2356m-20 0h40m-10 121V2272m-20 0h40m-10 265V2341m-20 0h40m-10 134V2325m-20 0h40m-10 111V2230m-20 0h40m-10 316V2346m-20 0h40m-10 179V2311m-20 0h40m-10 234V2345m-20 0h40m-9 149V2331m-20 0h40m-10 208V2326m-20 0h40m-10 167V2308m-20 0h40m-10 248V2368m-20 0h40m-10 169V2348m-20 0h40m-10 269V2430m-20 0h40m-10 100V2336m-20 0h40m-10 286V2440m-20 0h40m-10 156V2403m-20 0h40m-10 151V2372m-20 0h40m-10 251V2429m-20 0h40m-10 234V2460m-20 0h40m-10 1V2286m-20 0h40m-10 262V2370m-20 0h40m-10 282V2458m-20 0h40m-10 175V2439m-20 0h40m-10 107V2361m-20 0h40m-10 187V2329m-20 0h40m-10 203V2346m-20 0h40m-10 264V2412m-20 0h40m-10 180V2447m-20 0h40m-10 173V2427m-20 0h40m-10 187V2426m-20 0h40m-9 164V2388m-20 0h40m-10 289V2484m-20 0h40m-10 192V2504m-20 0h40m-10 177V2473m-20 0h40m-10 141V2436m-20 0h40m-10 212V2452m-20 0h40m-10 191V2479m-20 0h40m-10 184V2523m-20 0h40m-10 98V2444m-20 0h40m-10 160V2419m-20 0h40m-10 226V2471m-20 0h40m-10 141V2427m-20 0h40m-10 148V2379m-20 0h40m-10 183V2384m-20 0h40m-10 180V2381m-20 0h40m-10 156V2347m-20 0h40m-10 236V2408m-20 0h40m-10 134V2325m-20 0h40m-10 263V2376m-20 0h40m-10 172V2400m-20 0h40m-10 93V2294m-20 0h40m-10 327V2428m-20 0h40m-10 90V2303m-20 0h40m-9 202V2306m-20 0h40m-10 255V2380m-20 0h40m-10 136V2335m-20 0h40m-10 197V2387m-20 0h40m-10 234V2423m-20 0h40m-10 172V2407m-20 0h40m-10 162V2392m-20 0h40m-10 203V2393m-20 0h40m-10 179V2390m-20 0h40m-10 197V2386m-20 0h40m-10 221V2404m-20 0h40m-10 90V2305m-20 0h40m-10 221V2333m-20 0h40m-10 261V2358m-20 0h40m-10 258V2436m-20 0h40m-10 79V2279m-20 0h40m-10 366V2460m-20 0h40m-10 125V2360m-20 0h40m-10 252V2432m-20 0h40m-10 118V2381m-20 0h40m-10 112V2304m-20 0h40m-10 267V2400m-20 0h40m-10 136V2354m-20 0h40m-9 159V2330m-20 0h40m-10 178V2344m-20 0h40m-10 133V2275m-20 0h40m-10 193V2315m-20 0h40m-10 141V2246m-20 0h40m-10 172V2234m-20 0h40m-10 157V2192m-20 0h40m-10 133V2119m-20 0h40m-10 275V2165m-20 0h40m-10 218V2167m-20 0h40m-10 274V2277m-20 0h40m-10 203V2281m-20 0h40m-10 172V2292m-20 0h40m-10 218V2295m-20 0h40m-10 211V2323m-20 0h40m-10 189V2313m-20 0h40m-10 -8V2134m-20 0h40m-10 293V2243m-20 0h40m-10 220V2264m-20 0h40m-10 223V2298m-20 0h40m-10 235V2315m-20 0h40m-10 32V2138m-20 0h40m-10 235V2164m-20 0h40m-9 204V2188m-20 0h40m-10 155V2099m-20 0h40m-10 265V2171m-20 0h40m-10 172V2133m-20 0h40m-10 259V2249m-20 0h40m-10 155V2222m-20 0h40m-10 75V2139m-20 0h40m-10 263V2192m-20 0h40m-10 207V2204m-20 0h40m-10 281V2325m-20 0h40m-10 143V2293m-20 0h40m-10 140V2237m-20 0h40m-10 190V2227m-20 0h40m-10 192V2250m-20 0h40m-10 121V2190m-20 0h40m-10 187V2209m-20 0h40m-10 242V2294m-20 0h40m-10 138V2219m-20 0h40m-10 261V2277m-20 0h40m-10 107V2205m-20 0h40m-10 274V2310m-20 0h40m-10 160V2235m-20 0h40m-9 156V2202m-20 0h40m-10 298V2281m-20 0h40m-10 133V2223m-20 0h40m-10 270V2255m-20 0h40m-10 189V2260m-20 0h40m-10 199V2262m-20 0h40m-10 32V2076m-20 0h40m-10 340V2239m-20 0h40m-10 146V2146m-20 0h40m-10 267V2187m-20 0h40m-10 215V2181m-20 0h40m-10 230V2185m-20 0h40m-10 239V2215m-20 0h40m-10 275V2333m-20 0h40m-10 46V2186m-20 0h40m-10 251V2273m-20 0h40m-10 245V2302m-20 0h40m-10 163V2284m-20 0h40m-10 167V2250m-20 0h40m-10 249V2307m-20 0h40m-10 221V2320m-20 0h40m-10 172V2282m-20 0h40m-10 214V2215m-20 0h40m-9 286V2313m-20 0h40m-10 171V2271m-20 0h40m-10 210V2299m-20 0h40m-10 151V2238m-20 0h40m-10 301V2347m-20 0h40m-10 170V2235m-20 0h40m-10 219V2251m-20 0h40m-10 186V2233m-20 0h40m-10 220V2256m-20 0h40m-10 266V2340m-20 0h40m-10 151V2311m-20 0h40m-10 93V2201m-20 0h40m-10 324V2326m-20 0h40m-10 229V2351m-20 0h40m-10 205V2364m-20 0h40m-10 133V2307m-20 0h40m-10 168V2255m-20 0h40m-10 253V2302m-20 0h40m-10 105V2191m-20 0h40m-10 207V2189m-20 0h40m-10 285V2290m-20 0h40m-10 207V2304m-20 0h40m-10 83V2187m-20 0h40m-9 248V2238m-20 0h40m-10 284V2314m-20 0h40m-10 150V2264m-20 0h40m-10 287V2356m-20 0h40m-10 223V2377m-20 0h40m-10 232V2419m-20 0h40m-10 158V2408m-20 0h40m-10 134V2348m-20 0h40m-10 124V2295m-20 0h40m-10 244V2305m-20 0h40m-10 284V2401m-20 0h40m-10 226V2442m-20 0h40" stroke="#c6c1e2" stroke-width="21"/>
<path d="M0 0m8950 2824h0m3 49h0m4 43h0m3 -75h0m3 -69h0m4 63h0m3 -38h0m3 -50h0m4 31h0m3 27h0m3 -3h0m4 61h0m3 10h0m4 -103h0m3 98h0m3 -8h0m4 45h0m3 -23h0m3 -46h0m4 110h0m3 -124h0m3 41h0m4 -89h0m3 19h0m3 -43h0m4 1h0m3 46h0m3 -22h0m4 -41h0m3 2h0m3 34h0m4 39h0m3 -66h0m3 -28h0m4 85h0m3 -49h0m4 -25h0m3 139h0m3 -54h0m4 -74h0m3 55h0m3 -68h0m4 158h0m3 -101h0m3 -29h0m4 -18h0m3 -45h0m3 129h0m4 -98h0m3 29h0m3 82h0m4 -55h0m3 9h0m3 -38h0m4 65h0m3 8h0m3 8h0m4 -25h0m3 140h0m4 -149h0m3 28h0m3 29h0m4 -125h0m3 108h0m3 -68h0m4 90h0m3 -72h0m3 103h0m4 -48h0m3 86h0m3 -49h0m4 16h0m3 -70h0m3 60h0m4 -46h0m3 49h0m3 -74h0m4 -53h0m3 37h0m3 7h0m4 55h0m3 69h0m4 -61h0m3 -2h0m3 -78h0m4 30h0m3 10h0m3 12h0m4 45h0m3 -116h0m3 70h0m4 -82h0m3 103h0m3 -34h0m4 2h0m3 27h0m3 -45h0m4 73h0m3 -99h0m3 55h0m4 -9h0m3 34h0m3 -73h0m4 58h0m3 -15h0m4 -42h0m3 36h0m3 130h0m4 -113h0m3 120h0m3 -105h0m4 -40h0m3 -83h0m3 73h0m4 34h0m3 -38h0m3 44h0m4 -66h0m3 26h0m3 13h0m4 -83h0m3 83h0m3 59h0m4 106h0m3 -186h0m3 -17h0m4 126h0m3 33h0m4 -123h0m3 -45h0m3 94h0m4 11h0m3 -10h0m3 -29h0m4 105h0m3 -137h0m3 44h0m4 -81h0m3 5h0m3 81h0m4 55h0m3 -117h0m3 17h0m4 73h0m3 -83h0m3 69h0m4 -57h0m3 42h0m3 -28h0m4 -77h0m3 123h0m4 -38h0m3 -59h0m3 87h0m4 -201h0m3 178h0m3 -97h0m4 145h0m3 -121h0m3 30h0m4 110h0m3 -98h0m3 26h0m4 -25h0m3 -44h0m3 116h0m4 -96h0m3 129h0m3 -116h0m4 -24h0m3 80h0m3 2h0m4 41h0m3 -142h0m4 100h0m3 -157h0m3 77h0m4 6h0m3 90h0m3 -54h0m4 -112h0m3 218h0m3 -161h0m4 62h0m3 25h0m3 -56h0m4 25h0m3 -49h0m3 109h0m4 -6h0m3 -76h0m3 89h0m4 -78h0m3 29h0m3 -32h0m4 -29h0m3 67h0m4 -26h0m3 -30h0m3 8h0m4 -17h0m3 60h0m3 -13h0m4 -8h0m3 17h0m3 15h0m4 -23h0m3 -32h0m3 -47h0m4 27h0m3 78h0m3 -58h0m4 176h0m3 -140h0m3 56h0m4 -71h0m3 10h0m3 -57h0m4 12h0m3 51h0m4 14h0m3 30h0m3 -94h0m4 -51h0m3 118h0m3 -12h0m4 44h0m3 -10h0m3 -169h0m4 111h0m3 87h0m3 -121h0m4 -11h0m3 81h0m3 -50h0m4 13h0m3 -50h0m3 88h0m4 -78h0m3 39h0m4 89h0m3 -199h0m3 52h0m4 -50h0m3 37h0m3 17h0m4 -22h0m3 -18h0m3 -34h0m4 -26h0m3 17h0m3 84h0m4 -36h0m3 -28h0m3 66h0m4 -136h0m3 11h0m3 21h0m4 -35h0m3 107h0m3 -30h0m4 37h0m3 29h0m4 -32h0m3 -4h0m3 -79h0m4 36h0m3 37h0m3 16h0m4 -116h0m3 116h0m3 1h0m4 62h0m3 -47h0m3 20h0m4 -13h0m3 2h0m3 -58h0m4 51h0m3 -103h0m3 33h0m4 -35h0m3 -65h0m3 165h0m4 -38h0m3 60h0m4 -77h0m3 -32h0m3 -48h0m4 88h0m3 -18h0m3 100h0m4 -185h0m3 109h0m3 50h0m4 -124h0m3 130h0m3 -23h0m4 -5h0m3 -54h0m3 -39h0m4 56h0m3 12h0m3 29h0m4 -124h0m3 -21h0m3 41h0m4 41h0m3 -76h0m4 158h0m3 -87h0m3 19h0m4 -38h0m3 33h0m3 -43h0m4 42h0m3 1h0m3 -29h0m4 10h0m3 23h0m3 51h0m4 -77h0m3 -50h0m3 47h0m4 12h0m3 -10h0m3 -13h0m4 -25h0m3 31h0m3 31h0m4 -22h0m3 -11h0m4 81h0m3 -71h0m3 -38h0m4 20h0m3 24h0m3 -38h0m4 62h0m3 -85h0m3 34h0m4 64h0m3 -70h0m3 33h0m4 -68h0m3 79h0m3 0h0m4 -65h0m3 -27h0m3 49h0m4 -36h0m3 66h0m3 62h0m4 -118h0m3 62h0m4 -43h0m3 116h0m3 -42h0m4 38h0m3 -144h0m3 -27h0m4 56h0m3 -1h0m3 -46h0m4 107h0m3 49h0m3 -97h0m4 71h0m3 17h0m3 -88h0m4 58h0m3 -6h0m3 16h0m4 36h0m3 -40h0m3 -8h0m4 62h0m3 -96h0m4 97h0m3 -81h0m3 -37h0m4 -5h0m3 100h0m3 -30h0m4 -63h0m3 56h0m3 -7h0m4 14h0m3 3h0m3 36h0m4 -99h0m3 -5h0m3 17h0m4 129h0m3 -156h0m3 27h0m4 46h0m3 -72h0m3 -19h0m4 156h0m3 -106h0m4 -90h0m3 114h0m3 -54h0m4 -15h0m3 56h0m3 -34h0m4 53h0m3 -7h0m3 -92h0m4 28h0m3 53h0m3 -61h0m4 122h0m3 -109h0m3 97h0m4 -52h0m3 6h0m3 -18h0m4 26h0m3 27h0m3 -37h0m4 -43h0m3 22h0m4 -27h0m3 10h0m3 -28h0m4 98h0m3 26h0m3 29h0m4 -2h0m3 -61h0m3 13h0m4 -37h0m3 25h0m3 46h0m4 -38h0m3 56h0m3 18h0m4 -12h0m3 -26h0m3 -53h0m4 42h0m3 -1h0m3 -82h0m4 63h0m3 -21h0m4 -29h0m3 -65h0m3 122h0m4 -105h0m3 -40h0m3 43h0m4 26h0m3 9h0m3 18h0m4 -32h0m3 -61h0m3 85h0m4 8h0m3 4h0m3 -5h0m4 13h0m3 -56h0m3 66h0m4 79h0m3 -124h0m3 12h0m4 1h0m3 8h0m4 36h0m3 99h0m3 -128h0m4 -33h0m3 60h0m3 -43h0m4 -88h0m3 86h0m3 -2h0m4 59h0m3 -72h0m3 -49h0m4 37h0m3 -18h0m3 28h0m4 17h0m3 -48h0m3 53h0m4 -17h0m3 -15h0m3 -3h0m4 44h0m3 -64h0m4 80h0m3 -75h0m3 105h0m4 -106h0m3 189h0m3 -93h0m4 -13h0m3 10h0m3 -7h0m4 -58h0m3 -46h0m3 39h0m4 71h0m3 18h0m3 -111h0m4 12h0m3 -17h0m3 64h0m4 20h0m3 -48h0m3 -9h0m4 96h0m3 -115h0m4 49h0m3 21h0m3 -88h0m4 152h0m3 -137h0m3 4h0m4 35h0m3 -15h0m3 47h0m4 -46h0m3 45h0m3 37h0m4 -46h0m3 -22h0m3 56h0m4 -28h0m3 21h0m3 -26h0m4 79h0m3 -105h0m3 -8h0m4 -14h0m3 -28h0m4 87h0m3 -151h0m3 175h0m4 -23h0m3 -72h0m3 -54h0m4 131h0m3 -37h0m3 -8h0m4 64h0m3 -74h0m3 93h0m4 -67h0m3 44h0m3 -54h0m4 17h0m3 -41h0m3 27h0m4 -12h0m3 39h0m3 -50h0m4 80h0m3 -82h0m4 75h0m3 -36h0m3 -51h0m4 -6h0m3 -42h0m3 18h0m4 -15h0m3 35h0m3 17h0m4 -9h0m3 -26h0m3 -4h0m4 79h0m3 -83h0m3 93h0m4 -142h0m3 21h0m3 61h0m4 -11h0m3 -32h0m3 15h0m4 -7h0m3 24h0m4 60h0m3 52h0m3 -80h0m4 -3h0m3 -64h0m3 52h0m4 40h0m3 -83h0m3 28h0m4 42h0m3 -50h0m3 66h0m4 -68h0m3 -19h0m3 21h0m4 -6h0m3 3h0m3 40h0m4 -45h0m3 -2h0m3 78h0m4 -99h0m3 164h0m4 -169h0m3 76h0m3 47h0m4 -27h0m3 -28h0m3 46h0m4 -31h0m3 -54h0m3 17h0m4 50h0m3 16h0m3 -113h0m4 107h0m3 -104h0m3 -87h0m4 120h0m3 52h0m3 110h0m4 -237h0m3 88h0m3 -5h0m4 34h0m3 -87h0m4 95h0m3 -64h0m3 51h0m4 28h0m3 -41h0m3 -10h0m4 12h0m3 -37h0m3 40h0m4 -59h0m3 100h0m3 -128h0m4 96h0m3 -33h0m3 -17h0m4 54h0m3 -68h0m3 27h0m4 4h0m3 29h0m3 -11h0m4 -34h0m3 26h0m4 67h0m3 3h0m3 -59h0m4 -11h0m3 45h0m3 45h0m4 -67h0m3 -41h0m3 66h0m4 -6h0m3 11h0m3 -33h0m4 89h0m3 -92h0m3 49h0m4 -32h0m3 28h0m3 -98h0m4 22h0m3 110h0m3 -221h0m4 227h0m3 103h0m4 -201h0m3 -2h0m3 11h0m4 42h0m3 -98h0m3 104h0m4 -140h0m3 176h0m3 -167h0m4 97h0m3 44h0m3 -113h0m4 8h0m3 -3h0m3 65h0m4 -46h0m3 -40h0m3 74h0m4 -1h0m3 4h0m3 59h0m4 -99h0m3 24h0m4 106h0m3 -136h0m3 38h0m4 -39h0m3 36h0m3 -13h0m4 -36h0m3 153h0m3 -81h0m4 7h0m3 -43h0m3 38h0m4 -49h0m3 -30h0m3 -4h0m4 -2h0m3 58h0m3 -40h0m4 0h0m3 12h0m3 107h0m4 -57h0m3 1h0m4 39h0m3 -64h0m3 -24h0m4 88h0m3 -21h0m3 -89h0m4 116h0m3 45h0m3 -117h0m4 -5h0m3 -71h0m3 112h0m4 -51h0m3 225h0m3 -120h0m4 39h0m3 -12h0m3 8h0m4 -76h0m3 88h0m4 -72h0m3 -78h0m3 176h0m4 -74h0m3 -17h0m3 33h0m4 131h0m3 -87h0m3 -24h0m4 28h0m3 -14h0m3 22h0m4 -66h0m3 59h0m3 -3h0m4 -69h0m3 -5h0m3 -72h0m4 0h0m3 43h0m3 90h0m4 -75h0m3 -54h0m4 -8h0m3 60h0m3 -46h0m4 -40h0m3 43h0m3 59h0m4 -3h0m3 -27h0m3 -13h0m4 -82h0m3 70h0m3 -77h0m4 25h0m3 -20h0m3 3h0m4 -31h0m3 -14h0m3 137h0m4 34h0m3 -59h0m3 -110h0m4 64h0m3 -29h0m4 88h0m3 -186h0m3 14h0m4 94h0m3 -116h0m3 110h0m4 -127h0m3 42h0m3 5h0m4 53h0m3 -79h0m3 50h0m4 -59h0m3 44h0m3 28h0m4 4h0m3 24h0m3 -106h0m4 41h0m3 63h0m3 71h0m4 22h0m3 -53h0m4 -62h0m3 44h0m3 67h0m4 -33h0m3 80h0m3 -176h0m4 133h0m3 -38h0m3 -65h0m4 87h0m3 48h0m3 -101h0m4 100h0m3 -64h0m3 -69h0m4 -34h0m3 66h0m3 63h0m4 10h0m3 -18h0m3 -31h0m4 48h0m3 67h0m4 -90h0m3 14h0m3 42h0m4 -2h0m3 -14h0m3 -4h0m4 -71h0m3 75h0m3 18h0m4 22h0m3 -81h0m3 90h0m4 -70h0m3 7h0m3 6h0m4 -3h0m3 -22h0m3 82h0m4 -24h0m3 -13h0m3 25h0m4 -34h0m3 68h0m4 99h0m3 -95h0m3 -153h0m4 63h0m3 65h0m3 -68h0m4 65h0m3 19h0m3 -11h0m4 11h0m3 44h0m3 -24h0m4 -29h0m3 101h0m3 -2h0m4 -101h0m3 22h0m3 32h0m4 -42h0m3 -32h0m3 29h0m4 3h0m3 14h0m4 14h0m3 -31h0m3 -4h0m4 31h0m3 24h0m3 -83h0m4 34h0m3 27h0m3 -54h0m4 -111h0m3 102h0m3 -22h0m4 -36h0m3 93h0m3 -91h0m4 14h0m3 14h0m3 -77h0m4 75h0m3 -51h0m3 98h0m4 -2h0m3 -110h0m4 11h0m3 200h0m3 -121h0m4 -28h0m3 -13h0m3 -16h0m4 35h0m3 6h0m3 26h0m4 23h0m3 -45h0m3 21h0m4 -129h0m3 98h0m3 -27h0m4 -5h0m3 -20h0m3 -52h0m4 75h0m3 -104h0m3 17h0m4 155h0m3 -78h0m4 8h0m3 -34h0m3 -15h0m4 85h0m3 -35h0m3 -86h0m4 26h0m3 -33h0m3 -24h0m4 119h0m3 28h0m3 -101h0m4 -68h0m3 68h0m3 71h0m4 -97h0m3 92h0m3 -14h0m4 -6h0m3 -8h0m3 -37h0m4 22h0m3 47h0m4 -56h0m3 32h0m3 4h0m4 -42h0m3 -33h0m3 142h0m4 -37h0m3 -18h0m3 -36h0m4 34h0m3 -88h0m3 108h0m4 1h0m3 -120h0m3 56h0m4 -64h0m3 151h0m3 7h0m4 -85h0m3 -37h0m3 -102h0m4 60h0m3 98h0m4 -96h0m3 70h0m3 -8h0m4 -23h0m3 39h0m3 81h0m4 -106h0m3 46h0m3 -26h0m4 -28h0m3 57h0m3 37h0m4 -23h0m3 19h0m3 -23h0m4 -82h0m3 45h0m3 -41h0m4 -1h0m3 23h0m3 -74h0m4 16h0m3 65h0m4 61h0m3 -59h0m3 -86h0m4 21h0m3 34h0m3 -32h0m4 -67h0m3 86h0m3 -95h0m4 101h0m3 24h0m3 12h0m4 -109h0m3 32h0m3 -27h0m4 73h0m3 -102h0m3 189h0m4 -78h0m3 11h0m3 -21h0m4 37h0m3 -67h0m4 -8h0m3 29h0m3 -84h0m4 109h0m3 -19h0m3 30h0m4 11h0m3 -66h0m3 105h0m4 -107h0m3 -10h0m3 94h0m4 -95h0m3 76h0m3 1h0m4 40h0m3 -193h0m3 77h0m4 7h0m3 8h0m3 -127h0m4 84h0m3 79h0m4 25h0m3 -57h0m3 76h0m4 -44h0m3 46h0m3 -37h0m4 -52h0m3 35h0m3 -90h0m4 -52h0m3 54h0m3 -15h0m4 -48h0m3 -2h0m3 22h0m4 14h0m3 -51h0m3 104h0m4 -39h0m3 19h0m3 7h0m4 -5h0m3 -39h0m4 -7h0m3 70h0m3 -68h0m4 46h0m3 37h0m3 -30h0m4 -146h0m3 117h0m3 112h0m4 -122h0m3 47h0m3 -6h0m4 -6h0m3 17h0m3 86h0m4 13h0m3 -99h0m3 -98h0m4 103h0m3 25h0m3 -51h0m4 -41h0m3 38h0m4 -38h0m3 33h0m3 1h0m4 -1h0m3 30h0m3 16h0m4 77h0m3 -134h0m3 -9h0m4 54h0m3 -47h0m3 35h0m4 99h0m3 -101h0m3 98h0m4 -135h0m3 41h0m3 -48h0m4 29h0m3 76h0m3 -39h0m4 18h0m3 -82h0m4 2h0m3 86h0m3 -102h0m4 64h0m3 -16h0m3 -15h0m4 -114h0m3 63h0m3 14h0m4 -14h0m3 12h0m3 84h0m4 -74h0m3 57h0m3 -62h0m4 113h0m3 68h0m3 -129h0m4 27h0m3 -36h0m3 -15h0m4 36h0m3 -10h0m4 25h0m3 -43h0m3 45h0m4 75h0m3 69h0m3 -200h0m4 125h0m3 -3h0m3 -26h0m4 -68h0m3 16h0m3 -53h0m4 80h0m3 14h0m3 64h0m4 -213h0m3 83h0m3 -69h0m4 116h0m3 -76h0m3 -65h0m4 124h0m3 8h0m4 -96h0m3 -20h0m3 74h0m4 -20h0m3 -51h0m3 100h0m4 -59h0m3 66h0m3 -51h0m4 -103h0m3 157h0m3 -2h0m4 -75h0m3 -38h0m3 104h0m4 -69h0m3 18h0m3 91h0m4 -67h0m3 -16h0m3 67h0m4 -99h0m3 44h0m4 43h0m3 28h0m3 -1h0m4 -54h0m3 -12h0m3 49h0m4 45h0m3 -108h0m3 3h0m4 41h0m3 -46h0m3 84h0m4 -142h0m3 -17h0m3 68h0m4 47h0m3 -101h0m3 56h0m4 2h0m3 77h0m4 -78h0m3 60h0m3 -86h0m4 -32h0m3 8h0m3 20h0m4 24h0m3 106h0m3 -146h0m4 122h0m3 -1h0m3 2h0m4 21h0m3 -3h0m3 0h0m4 -66h0m3 56h0m3 41h0m4 18h0m3 -5h0m3 -40h0m4 19h0m3 36h0m4 -36h0m3 -8h0m3 -12h0m4 -3h0m3 -97h0m3 -3h0m4 71h0m3 84h0m3 -101h0m4 -76h0m3 131h0m3 -96h0m4 155h0m3 -88h0m3 44h0m4 19h0m3 -61h0m3 0h0m4 -30h0m3 30h0m3 -20h0m4 64h0m3 -35h0m4 -53h0m3 -66h0m3 99h0m4 -23h0m3 58h0m3 40h0m4 7h0m3 8h0m3 -70h0m4 -39h0m3 107h0m3 -80h0m4 20h0m3 -62h0m3 -26h0m4 28h0m3 35h0m3 10h0m4 -13h0m3 10h0m3 24h0m4 45h0m3 -78h0m4 38h0m3 -6h0m3 20h0m4 -34h0m3 70h0m3 -4h0m4 17h0m3 -55h0m3 11h0m4 -12h0m3 -86h0m3 115h0m4 -47h0m3 -46h0m3 14h0m4 -29h0m3 58h0m3 -7h0m4 -73h0m3 7h0m3 61h0m4 -6h0m3 -99h0m4 44h0m3 71h0m3 -67h0m4 20h0m3 27h0m3 23h0m4 23h0m3 24h0m3 -52h0m4 -9h0m3 -76h0m3 78h0m4 -50h0m3 -57h0m3 161h0m4 32h0m3 -65h0m3 19h0m4 -44h0m3 15h0m3 33h0m4 17h0m3 -55h0m4 8h0m3 20h0m3 -106h0m4 186h0m3 -20h0m3 -30h0m4 28h0m3 29h0m3 -59h0m4 -37h0m3 -18h0m3 14h0m4 -1h0m3 61h0m3 32h0m4 -20h0m3 87h0m3 -38h0m4 -84h0m3 -25h0m3 114h0m4 -74h0m3 44h0m4 -79h0m3 113h0m3 -106h0m4 11h0m3 -37h0m3 43h0m4 -63h0m3 13h0m3 -5h0m4 65h0m3 -123h0m3 44h0m4 67h0m3 10h0m3 -60h0m4 113h0m3 -99h0m3 99h0m4 -114h0m3 1h0m3 -67h0m4 80h0m3 -65h0m4 3h0m3 -18h0m3 -56h0m4 75h0m3 33h0m3 -4h0m4 14h0m3 57h0m3 -122h0m4 140h0m3 -127h0m3 125h0m4 1h0m3 51h0m3 -51h0m4 -54h0m3 -52h0m3 20h0m4 -16h0m3 143h0m3 -190h0m4 148h0m3 -46h0m4 -21h0m3 24h0m3 -62h0m4 46h0m3 82h0m3 -128h0m4 164h0m3 -52h0m3 -166h0m4 78h0m3 22h0m3 20h0m4 -17h0m3 -6h0m3 15h0m4 -21h0m3 25h0m3 5h0m4 14h0m3 30h0m3 96h0m4 -71h0m3 -27h0m4 -6h0m3 -126h0m3 139h0m4 -133h0m3 63h0m3 -13h0m4 -12h0m3 -39h0m3 25h0m4 79h0m3 -1h0m3 -9h0m4 -63h0m3 73h0m3 65h0m4 -53h0m3 101h0m3 -135h0m4 -113h0m3 135h0m3 -131h0m4 22h0m3 57h0m4 10h0m3 61h0m3 -41h0m4 -39h0m3 65h0m3 -84h0m4 -22h0m3 -18h0m3 95h0m4 -79h0m3 82h0m3 -47h0m4 -60h0m3 130h0m3 1h0m4 -16h0m3 -24h0m3 -2h0m4 35h0m3 54h0m3 -141h0m4 -9h0m3 -18h0m4 63h0m3 65h0m3 -22h0m4 21h0m3 -96h0m3 -29h0m4 9h0m3 8h0m3 6h0m4 27h0m3 66h0m3 76h0m4 -35h0m3 -88h0m3 112h0m4 -7h0m3 -39h0m3 -67h0m4 108h0m3 -21h0m3 -45h0m4 -31h0m3 6h0m4 28h0m3 72h0m3 -60h0m4 -25h0m3 87h0m3 -19h0m4 -11h0m3 -52h0m3 -132h0m4 296h0m3 -173h0m3 -20h0m4 74h0m3 2h0m3 22h0m4 -48h0m3 28h0m3 -62h0m4 -72h0m3 8h0m3 -16h0m4 -5h0m3 -21h0m4 30h0m3 34h0m3 -62h0m4 83h0m3 38h0m3 -167h0m4 141h0m3 35h0m3 -33h0m4 -25h0m3 46h0m3 -7h0m4 37h0m3 -218h0m3 148h0m4 18h0m3 -31h0m3 16h0m4 57h0m3 2h0m3 -28h0m4 -84h0m3 69h0m4 19h0m3 -19h0m3 -9h0m4 37h0m3 55h0m3 -60h0m4 -19h0m3 5h0m3 -88h0m4 33h0m3 -2h0m3 15h0m4 50h0m3 -57h0m3 -17h0m4 15h0m3 -26h0m3 49h0m4 20h0m3 -124h0m3 42h0m4 -48h0m3 71h0m4 -44h0m3 -40h0m3 -43h0m4 105h0m3 89h0m3 -102h0m4 -32h0m3 87h0m3 -41h0m4 29h0m3 2h0m3 -18h0m4 47h0m3 -6h0m3 -104h0m4 -1h0m3 13h0m3 -2h0m4 15h0m3 9h0m3 -35h0m4 30h0m3 -14h0m4 40h0m3 -32h0m3 5h0m4 -42h0m3 102h0m3 63h0m4 2h0m3 -180h0m3 153h0m4 -80h0m3 58h0m3 11h0m4 -16h0m3 -81h0m3 32h0m4 92h0m3 20h0m3 16h0m4 -46h0m3 -15h0m3 -59h0m4 -47h0m3 52h0m4 17h0m3 -22h0m3 48h0m4 32h0m3 -142h0m3 13h0m4 41h0m3 -4h0m3 50h0m4 -78h0m3 115h0m3 -51h0m4 -113h0m3 -34h0m3 131h0m4 58h0m3 -48h0m3 -9h0m4 -12h0m3 -69h0m3 57h0m4 57h0m3 -141h0m4 37h0m3 -2h0m3 -15h0m4 49h0m3 -76h0m3 -24h0m4 9h0m3 72h0m3 -87h0m4 169h0m3 -81h0m3 35h0m4 11h0m3 -12h0m3 5h0m4 26h0m3 -41h0m3 -91h0m4 83h0m3 -10h0m3 34h0m4 30h0m3 -51h0m4 -21h0m3 3h0m3 4h0m4 5h0m3 -34h0m3 85h0m4 -37h0m3 -54h0m3 53h0m4 -70h0m3 -95h0m3 153h0m4 24h0m3 -106h0m3 58h0m4 -18h0m3 42h0m3 -62h0m4 40h0m3 -65h0m3 118h0m4 -102h0m3 71h0m4 -81h0m3 1h0m3 47h0m4 -6h0m3 -54h0m3 78h0m4 -26h0m3 42h0m3 -6h0m4 88h0m3 -137h0m3 -11h0m4 79h0m3 -39h0m3 78h0m4 -43h0m3 -38h0m3 85h0m4 -84h0m3 16h0m3 82h0m4 10h0m3 -79h0m4 -12h0m3 -55h0m3 104h0m4 -132h0m3 48h0m3 54h0m4 -73h0m3 61h0m3 -65h0m4 92h0m3 -88h0m3 87h0m4 -108h0m3 76h0m3 -99h0m4 42h0m3 52h0m3 -21h0m4 -25h0m3 139h0m4 27h0m3 -161h0m3 161h0m4 -105h0m3 71h0m3 35h0m4 -91h0m3 -10h0m3 39h0m4 -6h0m3 22h0m3 -52h0m4 67h0m3 0h0m3 11h0m4 32h0m3 -41h0m3 -7h0m4 55h0m3 -107h0m3 98h0m4 -72h0m3 -88h0m4 92h0m3 47h0m3 -46h0m4 6h0m3 55h0m3 -63h0m4 12h0m3 -6h0m3 43h0m4 -45h0m3 -42h0m3 53h0m4 -76h0m3 52h0m3 -20h0m4 60h0m3 -38h0m3 -40h0m4 45h0m3 21h0m3 -116h0m4 87h0m3 -83h0m4 82h0m3 -73h0m3 -35h0m4 125h0m3 -43h0m3 84h0m4 -70h0m3 34h0m3 23h0m4 -82h0m3 35h0m3 -51h0m4 15h0m3 76h0m3 -51h0m4 59h0m3 -57h0m3 52h0m4 48h0m3 -32h0m3 -34h0m4 -23h0m3 -67h0m4 52h0m3 39h0m3 -51h0m4 0h0m3 21h0m3 11h0m4 28h0m3 75h0m3 -103h0m4 -26h0m3 -5h0m3 87h0m4 14h0m3 -43h0m3 85h0m4 -25h0m3 -81h0m3 -6h0m4 67h0m3 -2h0m3 111h0m4 -178h0m3 95h0m4 -82h0m3 17h0m3 -13h0m4 15h0m3 114h0m3 -159h0m4 -17h0m3 -2h0m3 95h0m4 -55h0m3 62h0m3 -49h0m4 22h0m3 -18h0m3 19h0m4 -25h0m3 108h0m3 -137h0m4 39h0m3 -51h0m3 80h0m4 -6h0m3 -61h0m4 34h0m3 44h0m3 -82h0m4 95h0m3 -97h0m3 15h0m4 5h0m3 26h0m3 57h0m4 -65h0m3 61h0m3 -109h0m4 -7h0m3 -87h0m3 80h0m4 41h0m3 15h0m3 6h0m4 -3h0m3 45h0m3 -7h0m4 -55h0m3 -12h0m4 14h0m3 33h0m3 89h0m4 -128h0m3 36h0m3 -67h0m4 40h0m3 -18h0m3 31h0m4 34h0m3 -85h0m3 44h0m4 -32h0m3 29h0m3 -5h0m4 -29h0m3 57h0m3 -48h0m4 51h0m3 -61h0m3 55h0m4 -152h0m3 145h0m4 25h0m3 -137h0m3 186h0m4 -47h0m3 6h0m3 61h0m4 -138h0m3 11h0m3 28h0m4 -10h0m3 4h0m3 22h0m4 -5h0m3 -20h0m3 83h0m4 -59h0m3 -46h0m3 20h0m4 -56h0m3 71h0m3 60h0m4 -98h0m3 43h0m4 85h0m3 -115h0m3 86h0m4 -108h0m3 67h0m3 -62h0m4 45h0m3 -29h0m3 199h0m4 -126h0m3 -86h0m3 57h0m4 -59h0m3 -6h0m3 -48h0m4 150h0m3 -1h0m3 18h0m4 -64h0m3 48h0m3 -78h0m4 -28h0m3 107h0m4 -23h0m3 -89h0m3 86h0m4 -65h0m3 39h0m3 -60h0m4 89h0m3 -50h0m3 35h0m4 -86h0m3 91h0m3 4h0m4 20h0m3 43h0m3 -97h0m4 -34h0m3 82h0m3 18h0m4 8h0m3 -89h0m3 24h0m4 4h0m3 58h0m4 -33h0m3 -15h0m3 -43h0m4 107h0m3 -38h0m3 -29h0m4 -33h0m3 55h0m3 -55h0m4 -1h0m3 -36h0m3 35h0m4 -101h0m3 135h0m3 -145h0m4 184h0m3 -25h0m3 37h0m4 -101h0m3 180h0m3 -120h0m4 2h0m3 -1h0m4 -14h0m3 29h0m3 41h0m4 -67h0m3 94h0m3 -104h0m4 35h0m3 -55h0m3 67h0m4 20h0m3 21h0m3 -96h0m4 90h0m3 -145h0m3 37h0m4 136h0m3 -111h0m3 44h0m4 -32h0m3 -45h0m3 86h0m4 -118h0m3 94h0m4 -50h0m3 38h0m3 -66h0m4 74h0m3 28h0m3 -89h0m4 16h0m3 72h0m3 -25h0m4 -30h0m3 -32h0m3 38h0m4 -55h0m3 98h0m3 14h0m4 27h0m3 -9h0m3 -60h0m4 18h0m3 -17h0m3 28h0m4 -31h0m3 79h0m4 -43h0m3 -87h0m3 82h0m4 2h0m3 22h0m3 6h0m4 -57h0m3 35h0m3 -110h0m4 48h0m3 88h0m3 -158h0m4 109h0m3 61h0m3 -68h0m4 0h0m3 -25h0m3 -42h0m4 126h0m3 -68h0m3 17h0m4 100h0m3 24h0m4 -131h0m3 56h0m3 5h0m4 4h0m3 14h0m3 -42h0m4 -48h0m3 68h0m3 -64h0m4 -30h0m3 67h0m3 72h0m4 -103h0m3 22h0m3 -9h0m4 -83h0m3 98h0m3 13h0m4 -78h0m3 53h0m3 -25h0m4 -58h0m3 52h0m4 94h0m3 -151h0m3 0h0m4 -67h0m3 80h0m3 -7h0m4 48h0m3 -84h0m3 35h0m4 1h0m3 -19h0m3 20h0m4 3h0m3 40h0m3 -1h0m4 -167h0m3 82h0m3 1h0m4 106h0m3 -87h0m3 82h0m4 47h0m3 -136h0m4 148h0m3 -140h0m3 69h0m4 18h0m3 -77h0m3 49h0m4 6h0m3 -77h0m3 70h0m4 15h0m3 52h0m3 -101h0m4 99h0m3 -118h0m3 56h0m4 -3h0m3 42h0m3 -102h0m4 83h0m3 -23h0m3 -11h0m4 60h0m3 6h0m4 -22h0m3 84h0m3 -139h0m4 50h0m3 8h0m3 78h0m4 -106h0m3 67h0m3 43h0m4 -24h0m3 -36h0m3 -43h0m4 -121h0m3 185h0m3 -52h0m4 33h0m3 -64h0m3 -5h0m4 -10h0m3 -9h0m3 -19h0m4 4h0m3 -89h0m4 37h0m3 65h0m3 -12h0m4 -39h0m3 76h0m3 7h0m4 33h0m3 1h0m3 69h0m4 -148h0m3 153h0m3 -68h0m4 27h0m3 -7h0m3 -76h0m4 -29h0m3 42h0m3 -62h0m4 82h0m3 -111h0m3 41h0m4 14h0m3 1h0m4 28h0m3 -83h0m3 -56h0m4 94h0m3 -53h0m3 -15h0m4 96h0m3 10h0m3 25h0m4 -166h0m3 96h0m3 -154h0m4 148h0m3 40h0m3 -35h0m4 -13h0m3 79h0m3 -36h0m4 17h0m3 -45h0m4 -3h0m3 -2h0m3 -5h0m4 1h0m3 63h0m3 -41h0m4 83h0m3 -38h0m3 -40h0m4 -55h0m3 49h0m3 24h0m4 -98h0m3 -2h0m3 75h0m4 91h0m3 18h0m3 -110h0m4 96h0m3 37h0m3 -112h0m4 1h0m3 -29h0m4 98h0m3 -91h0m3 22h0m4 47h0m3 -30h0m3 -20h0m4 -32h0m3 84h0m3 23h0m4 -115h0m3 17h0m3 -97h0m4 131h0m3 -64h0m3 23h0m4 -22h0m3 21h0m3 4h0m4 -77h0m3 33h0m3 100h0m4 -63h0m3 44h0m4 -5h0m3 38h0m3 13h0m4 -88h0m3 218h0m3 -148h0m4 79h0m3 -43h0m3 -84h0m4 81h0m3 3h0m3 10h0m4 77h0m3 34h0m3 -157h0m4 -49h0m3 157h0m3 -29h0m4 -4h0m3 -4h0m3 17h0m4 61h0m3 -18h0m4 -27h0m3 -12h0m3 11h0m4 33h0m3 -47h0m3 -10h0m4 39h0m3 -100h0m3 169h0m4 -94h0m3 -23h0m3 -51h0m4 66h0m3 -91h0m3 24h0m4 29h0m3 28h0m3 -35h0m4 -107h0m3 213h0m3 -113h0m4 64h0m3 -30h0m4 -80h0m3 22h0m3 49h0m4 11h0m3 1h0m3 -30h0m4 8h0m3 70h0m3 -79h0m4 -19h0m3 50h0m3 -3h0m4 3h0m3 33h0m3 -126h0m4 -8h0m3 49h0m3 -36h0m4 69h0m3 -14h0m3 26h0m4 -29h0m3 -79h0m4 67h0m3 -84h0m3 54h0m4 44h0m3 -14h0m3 -26h0m4 -18h0m3 57h0m3 -56h0m4 115h0m3 -61h0m3 66h0m4 -73h0m3 52h0m3 -51h0m4 69h0m3 -140h0m3 111h0m4 -61h0m3 94h0m3 -89h0m4 17h0m3 -43h0m4 77h0m3 -70h0m3 125h0m4 -159h0m3 82h0m3 -25h0m4 91h0m3 -9h0m3 -67h0m4 -24h0m3 -9h0m3 -81h0m4 55h0m3 43h0m3 -112h0m4 23h0m3 31h0m3 -29h0m4 23h0m3 9h0m3 -4h0m4 41h0m3 3h0m4 53h0m3 -83h0m3 -9h0m4 5h0m3 -64h0m3 65h0m4 133h0m3 -167h0m3 72h0m4 -45h0m3 50h0m3 -101h0m4 141h0m3 63h0m3 -299h0m4 192h0m3 132h0m3 -137h0m4 -39h0m3 14h0m3 44h0m4 -33h0m3 52h0m4 -133h0m3 150h0m3 -85h0m4 89h0m3 -41h0m3 12h0m4 -46h0m3 -21h0m3 5h0m4 65h0m3 -31h0m3 -73h0m4 1h0m3 206h0m3 -97h0m4 36h0m3 -90h0m3 33h0m4 3h0m3 107h0m3 -90h0m4 0h0m3 3h0m4 -54h0m3 29h0m3 -122h0m4 138h0m3 77h0m3 -91h0m4 -32h0m3 16h0m3 -12h0m4 59h0m3 -62h0m3 78h0m4 -35h0m3 -15h0m3 25h0m4 70h0m3 -47h0m3 -6h0m4 -34h0m3 136h0m3 -74h0m4 30h0m3 -62h0m4 -14h0m3 50h0m3 -113h0m4 66h0m3 5h0m3 101h0m4 -166h0m3 134h0m3 -82h0m4 -27h0m3 149h0m3 -83h0m4 -56h0m3 -63h0m3 134h0m4 19h0m3 -66h0m3 51h0m4 -22h0m3 75h0m3 -44h0m4 -8h0m3 33h0m4 33h0m3 -22h0m3 -98h0m4 -3h0m3 97h0m3 -92h0m4 45h0m3 -60h0m3 -1h0m4 13h0m3 87h0m3 -22h0m4 98h0m3 -111h0m3 -5h0m4 -44h0m3 37h0m3 35h0m4 28h0m3 -44h0m3 10h0m4 10h0m3 -23h0m4 -11h0m3 129h0m3 -56h0m4 14h0m3 -41h0m3 -55h0m4 95h0m3 -146h0m3 185h0m4 -34h0m3 -128h0m3 25h0m4 36h0m3 -36h0m3 -3h0m4 73h0m3 -112h0m3 72h0m4 35h0m3 -112h0m3 96h0m4 36h0m3 -63h0m4 -13h0m3 34h0m3 57h0m4 -103h0m3 29h0m3 -5h0m4 71h0m3 -25h0m3 3h0m4 -21h0m3 -15h0m3 53h0m4 -24h0m3 -66h0m3 -47h0m4 42h0m3 -8h0m3 8h0m4 45h0m3 -51h0m3 68h0m4 36h0m3 -131h0m4 50h0m3 -50h0m3 46h0m4 -7h0m3 -47h0m3 13h0m4 83h0m3 -141h0m3 104h0m4 -2h0m3 26h0m3 -64h0m4 179h0m3 -93h0m3 -141h0m4 94h0m3 62h0m3 -28h0m4 -40h0m3 -45h0m3 -18h0m4 32h0m3 62h0m4 -107h0m3 31h0m3 36h0m4 -11h0m3 55h0m3 2h0m4 -102h0m3 71h0m3 37h0m4 -92h0m3 126h0m3 -176h0m4 139h0m3 -27h0m3 36h0m4 -35h0m3 -55h0m3 8h0m4 21h0m3 68h0m3 7h0m4 -49h0m3 124h0m4 -224h0m3 77h0m3 40h0m4 -6h0m3 -19h0m3 -70h0m4 -7h0m3 97h0m3 -57h0m4 -19h0m3 -37h0m3 125h0m4 13h0m3 -106h0m3 112h0m4 -52h0m3 8h0m3 -41h0m4 40h0m3 23h0m3 -59h0m4 55h0m3 -97h0m4 53h0m3 -33h0m3 110h0m4 -70h0m3 10h0m3 0h0m4 27h0m3 8h0m3 -8h0m4 22h0m3 -89h0m3 5h0m4 -46h0m3 -63h0m3 52h0m4 23h0m3 100h0m3 -45h0m4 77h0m3 -118h0m3 6h0m4 19h0m3 37h0m4 -79h0m3 -28h0m3 149h0m4 -126h0m3 58h0m3 -94h0m4 5h0m3 5h0m3 88h0m4 -102h0m3 -130h0m3 106h0m4 12h0m3 79h0m3 -160h0m4 43h0m3 20h0m3 -27h0m4 -20h0m3 -61h0m3 87h0m4 -92h0m3 53h0m4 56h0m3 -40h0m3 1h0m4 -50h0m3 38h0m3 17h0m4 -14h0m3 55h0m3 -62h0m4 7h0m3 94h0m3 -63h0m4 20h0m3 16h0m3 -42h0m4 47h0m3 52h0m3 -150h0m4 129h0m3 17h0m3 -67h0m4 124h0m3 -51h0m4 -114h0m3 -2h0m3 -91h0m4 179h0m3 1h0m3 -58h0m4 -23h0m3 76h0m3 -17h0m4 -63h0m3 69h0m3 18h0m4 7h0m3 -39h0m3 78h0m4 -125h0m3 12h0m3 -73h0m4 101h0m3 -106h0m3 31h0m4 90h0m3 -63h0m4 -32h0m3 65h0m3 0h0m4 -90h0m3 90h0m3 11h0m4 -80h0m3 -24h0m3 -16h0m4 19h0m3 67h0m3 -30h0m4 12h0m3 -36h0m3 105h0m4 -57h0m3 9h0m3 64h0m4 -180h0m3 71h0m4 77h0m3 -43h0m3 -15h0m4 -58h0m3 70h0m3 23h0m4 -61h0m3 124h0m3 39h0m4 15h0m3 -71h0m3 -20h0m4 -6h0m3 -9h0m3 4h0m4 -100h0m3 90h0m3 -44h0m4 26h0m3 10h0m3 -79h0m4 67h0m3 -36h0m4 118h0m3 -211h0m3 99h0m4 125h0m3 -83h0m3 32h0m4 -72h0m3 -9h0m3 62h0m4 33h0m3 68h0m3 -53h0m4 -90h0m3 107h0m3 -113h0m4 17h0m3 27h0m3 51h0m4 -34h0m3 -5h0m3 30h0m4 28h0m3 -56h0m4 -51h0m3 39h0m3 30h0m4 40h0m3 -65h0m3 -2h0m4 -19h0m3 89h0m3 -38h0m4 28h0m3 -10h0m3 15h0m4 -54h0m3 30h0m3 -75h0m4 60h0m3 -23h0m3 -7h0m4 -135h0m3 177h0m3 -53h0m4 -2h0m3 63h0m4 -105h0m3 11h0m3 35h0m4 54h0m3 -61h0m3 -5h0m4 20h0m3 -26h0m3 47h0m4 -7h0m3 -31h0m3 87h0m4 -67h0m3 -7h0m3 -1h0m4 -5h0m3 72h0m3 -37h0m4 -66h0m3 -8h0m3 21h0m4 66h0m3 -29h0m4 31h0m3 -3h0m3 53h0m4 -28h0m3 32h0m3 -57h0m4 8h0m3 -8h0m3 -14h0m4 -44h0m3 48h0m3 44h0m4 -10h0m3 -55h0m3 94h0m4 -78h0m3 74h0m3 -32h0m4 -18h0m3 -5h0m3 27h0m4 21h0m3 -61h0m4 45h0m3 -28h0m3 -44h0m4 55h0m3 -89h0m3 64h0m4 22h0m3 15h0m3 87h0m4 -133h0m3 83h0m3 -44h0m4 50h0m3 5h0m3 -40h0m4 13h0m3 8h0m3 -83h0m4 12h0m3 114h0m3 3h0m4 -134h0m3 113h0m4 -4h0m3 -93h0m3 89h0m4 -28h0m3 8h0m3 -1h0m4 -29h0m3 -1h0m3 -11h0m4 -31h0m3 -45h0m3 80h0m4 140h0m3 -99h0m3 -102h0m4 46h0m3 86h0m3 7h0m4 5h0m3 -11h0m3 -84h0m4 57h0m3 -32h0m4 -53h0m3 16h0m3 15h0m4 66h0m3 18h0m3 -51h0m4 102h0m3 -107h0m3 -96h0m4 68h0m3 -72h0m3 -5h0m4 -18h0m3 39h0m3 55h0m4 27h0m3 -82h0m3 78h0m4 79h0m3 -2h0m3 -187h0m4 105h0m3 21h0m4 -78h0m3 69h0m3 -25h0m4 43h0m3 -15h0m3 9h0m4 -52h0m3 -70h0m3 76h0m4 81h0m3 12h0m3 -31h0m4 47h0m3 -58h0m3 11h0m4 77h0m3 -14h0m3 -91h0m4 73h0m3 33h0m3 -79h0m4 11h0m3 58h0m4 -75h0m3 -53h0m3 198h0m4 -123h0m3 -8h0m3 -13h0m4 -12h0m3 75h0m3 63h0m4 -128h0m3 103h0" stroke="#3953a4" stroke-width="43" stroke-linecap="round"/></g>
<g transform="scale(.1)" fill="none"><path d="M0 0m8950 2860V2980m-20 0h40m-10 -94V2985m-20 0h40m-10 -76V3012m-20 0h40m-10 -128V2988m-20 0h40m-10 -86V3003m-20 0h40m-10 -232V2875m-20 0h40m-10 -39V2932m-20 0h40m-10 -72V2972m-20 0h40m-10 -198V2869m-20 0h40m-10 -66V2914m-20 0h40m-10 -126V2890m-20 0h40m-10 -34V2954m-20 0h40m-9 -47V3009m-20 0h40m-10 -278V2851m-20 0h40m-10 21V2986m-20 0h40m-10 -57V3062m-20 0h40m-10 -88V3095m-20 0h40m-10 -148V3040m-20 0h40m-10 -129V3016m-20 0h40m-10 -222V2903m-20 0h40m-10 -143V2881m-20 0h40m-10 -19V2961m-20 0h40m-10 -146V2923m-20 0h40m-10 -80V2977m-20 0h40m-10 -203V2890m-20 0h40m-10 7V3003m-20 0h40m-10 -138V2965m-20 0h40m-10 -172V2895m-20 0h40m-10 -54V2955m-20 0h40m-10 -93V2967m-20 0h40m-10 -124V2959m-20 0h40m-10 -114V2949m-20 0h40m-10 -30V3039m-20 0h40m-10 -100V3038m-20 0h40m-10 -201V2945m-20 0h40m-9 -175V2887m-20 0h40m-10 63V3052m-20 0h40m-10 -109V3038m-20 0h40m-10 -195V2942m-20 0h40m-10 -154V2909m-20 0h40m-10 -10V3018m-20 0h40m-10 -147V2987m-20 0h40m-10 -100V3010m-20 0h40m-10 -103V3013m-20 0h40m-10 -154V2997m-20 0h40m-10 -150V2986m-20 0h40m-10 -123V2990m-20 0h40m-10 -105V3023m-20 0h40m-10 -166V2981m-20 0h40m-10 -139V2978m-20 0h40m-10 -136V2959m-20 0h40m-10 -72V2983m-20 0h40m-10 -85V3015m-20 0h40m-10 -90V3047m-20 0h40m-10 -156V3025m-20 0h40m-10 -190V3001m-20 0h40m-10 -69V3058m-20 0h40m-10 -227V2948m-20 0h40m-9 -68V3005m-20 0h40m-10 -160V2958m-20 0h40m-10 -129V2947m-20 0h40m-10 -108V2947m-20 0h40m-10 -138V2935m-20 0h40m-10 -162V2916m-20 0h40m-10 29V3065m-20 0h40m-10 -246V2940m-20 0h40m-10 -4V3051m-20 0h40m-10 -172V3026m-20 0h40m-10 -140V3025m-20 0h40m-10 -93V3040m-20 0h40m-10 -190V2954m-20 0h40m-10 -91V2979m-20 0h40m-10 18V3105m-20 0h40m-10 -233V3029m-20 0h40m-10 -128V3073m-20 0h40m-10 -158V3021m-20 0h40m-10 -171V2972m-20 0h40m-10 -76V3039m-20 0h40m-10 -208V2938m-20 0h40m-10 -78V2980m-20 0h40m-9 -32V3060m-20 0h40m-10 -195V3002m-20 0h40m-10 -114V3008m-20 0h40m-10 -109V3027m-20 0h40m-10 -207V2954m-20 0h40m-10 -29V3044m-20 0h40m-10 -157V3028m-20 0h40m-10 -134V3038m-20 0h40m-10 -59V3089m-20 0h40m-10 -165V3019m-20 0h40m-10 -69V3057m-20 0h40m-10 -78V3108m-20 0h40m-10 -222V3029m-20 0h40m-10 -190V2965m-20 0h40m-10 -86V3017m-20 0h40m-10 -154V3005m-20 0h40m-10 -61V3067m-20 0h40m-10 -116V3073m-20 0h40m-10 -55V3151m-20 0h40m-10 -289V2990m-20 0h40m-10 21V3149m-20 0h40m-10 -272V3006m-20 0h40m-10 -89V3032m-20 0h40m-9 -199V2975m-20 0h40m-10 -91V3025m-20 0h40m-10 -49V3103m-20 0h40m-10 -139V3092m-20 0h40m-10 -130V3089m-20 0h40m-10 -119V3100m-20 0h40m-10 -164V3079m-20 0h40m-10 -202V2996m-20 0h40m-10 -53V3091m-20 0h40m-10 -114V3100m-20 0h40m-10 -161V3072m-20 0h40m-10 -86V3113m-20 0h40m-10 -95V3152m-20 0h40m-10 -221V3055m-20 0h40m-10 -93V3107m-20 0h40m-10 -121V3138m-20 0h40m-10 -116V3149m-20 0h40m-10 -204V3087m-20 0h40m-10 -138V3074m-20 0h40m-10 -119V3098m-20 0h40m-10 -60V3184m-20 0h40m-10 -171V3136m-20 0h40m-10 -177V3081m-20 0h40m-9 -115V3094m-20 0h40m-10 -99V3120m-20 0h40m-10 -105V3150m-20 0h40m-10 -178V3096m-20 0h40m-10 -174V3057m-20 0h40m-10 -85V3109m-20 0h40m-10 -194V3030m-20 0h40m-10 23V3165m-20 0h40m-10 -169V3156m-20 0h40m-10 -69V3218m-20 0h40m-10 -218V3130m-20 0h40m-10 -204V3067m-20 0h40m-10 -106V3138m-20 0h40m-10 -221V3063m-20 0h40m-10 -110V3095m-20 0h40m-10 -167V3066m-20 0h40m-10 -14V3264m-20 0h40m-10 -250V3171m-20 0h40m-10 -195V3106m-20 0h40m-10 -107V3130m-20 0h40m-10 -148V3117m-20 0h40m-10 -175V3087m-20 0h40m-10 -134V3094m-20 0h40m-9 -44V3227m-20 0h40m-10 -177V3152m-20 0h40m-10 -145V3141m-20 0h40m-10 -24V3254m-20 0h40m-10 -197V3222m-20 0h40m-10 -201V3152m-20 0h40m-10 -219V3081m-20 0h40m-10 -14V3214m-20 0h40m-10 -273V3108m-20 0h40m-10 -152V3102m-20 0h40m-10 -104V3147m-20 0h40m-10 -123V3207m-20 0h40m-10 -229V3126m-20 0h40m-10 -29V3240m-20 0h40m-10 -302V3076m-20 0h40m-10 -14V3211m-20 0h40m-10 -187V3186m-20 0h40m-10 -187V3138m-20 0h40m-10 -111V3169m-20 0h40m-10 -139V3163m-20 0h40m-10 -120V3187m-20 0h40m-10 -135V3198m-20 0h40m-10 -239V3128m-20 0h40m-9 -109V3165m-20 0h40m-10 -182V3136m-20 0h40m-10 -134V3151m-20 0h40m-10 -77V3198m-20 0h40m-10 -203V3137m-20 0h40m-10 -153V3145m-20 0h40m-10 -103V3192m-20 0h40m-10 -209V3129m-20 0h40m-10 -122V3157m-20 0h40m-10 -105V3227m-20 0h40m-10 -184V3168m-20 0h40m-10 -173V3152m-20 0h40m-10 -93V3193m-20 0h40m-10 -130V3202m-20 0h40m-10 -165V3201m-20 0h40m-10 -275V3068m-20 0h40m-10 -124V3074m-20 0h40m-10 -130V3098m-20 0h40m-10 -57V3194m-20 0h40m-10 -130V3198m-20 0h40m-10 -193V3136m-20 0h40m-10 -138V3149m-20 0h40m-10 -142V3164m-20 0h40m-9 -104V3203m-20 0h40m-10 -241V3113m-20 0h40m-10 -123V3143m-20 0h40m-10 67V3335m-20 0h40m-10 -287V3214m-20 0h40m-10 -246V3107m-20 0h40m-10 -103V3159m-20 0h40m-10 -109V3207m-20 0h40m-10 -199V3174m-20 0h40m-10 -137V3215m-20 0h40m-10 -58V3311m-20 0h40m-10 -269V3236m-20 0h40m-10 -149V3241m-20 0h40m-10 -225V3176m-20 0h40m-10 -230V3083m-20 0h40m-10 -106V3123m-20 0h40m-10 -141V3150m-20 0h40m-10 -158V3161m-20 0h40m-10 -98V3210m-20 0h40m-10 -225V3123m-20 0h40m-10 -86V3153m-20 0h40m-10 -18V3273m-20 0h40m-10 -254V3188m-20 0h40m-9 -193V3138m-20 0h40m-10 -162V3148m-20 0h40m-10 -116V3161m-20 0h40m-10 -182V3152m-20 0h40m-10 -176V3125m-20 0h40m-10 -176V3083m-20 0h40m-10 -60V3188m-20 0h40m-10 -181V3175m-20 0h40m-10 -75V3274m-20 0h40m-10 -174V3232m-20 0h40m-10 -209V3189m-20 0h40m-10 -229V3124m-20 0h40m-10 -121V3156m-20 0h40m-10 -148V3165m-20 0h40m-10 -30V3274m-20 0h40m-10 -213V3203m-20 0h40m-10 -78V3294m-20 0h40m-10 -251V3218m-20 0h40m-10 -234V3105m-20 0h40m-10 -60V3220m-20 0h40m-10 -113V3259m-20 0h40m-10 -226V3237m-20 0h40m-10 -178V3226m-20 0h40m-9 -181V3176m-20 0h40m-10 -85V3248m-20 0h40m-10 -223V3181m-20 0h40m-10 -257V3112m-20 0h40m-10 -118V3124m-20 0h40m-10 -16V3280m-20 0h40m-10 -207V3254m-20 0h40m-10 -179V3240m-20 0h40m-10 -193V3204m-20 0h40m-10 -198V3149m-20 0h40m-10 -77V3240m-20 0h40m-10 -128V3264m-20 0h40m-10 -184V3238m-20 0h40m-10 -67V3346m-20 0h40m-10 -215V3280m-20 0h40m-10 -236V3184m-20 0h40m-10 -120V3250m-20 0h40m-10 -247V3166m-20 0h40m-10 -59V3263m-20 0h40m-10 -213V3252m-20 0h40m-10 -215V3163m-20 0h40m-10 28V3333m-20 0h40m-9 -220V3271m-20 0h40m-10 -179V3285m-20 0h40m-10 -154V3322m-20 0h40m-10 -275V3232m-20 0h40m-10 -132V3275m-20 0h40m-10 -204V3239m-20 0h40m-10 -133V3283m-20 0h40m-10 -81V3371m-20 0h40m-10 -298V3271m-20 0h40m-10 -248V3208m-20 0h40m-10 -155V3249m-20 0h40m-10 -186V3200m-20 0h40m-10 -33V3328m-20 0h40m-10 -257V3240m-20 0h40m-10 -36V3336m-20 0h40m-10 -219V3284m-20 0h40m-10 -47V3399m-20 0h40m-10 -323V3244m-20 0h40m-10 -249V3178m-20 0h40m-10 -190V3159m-20 0h40m-10 -152V3147m-20 0h40m-10 -151V3157m-20 0h40m-10 -173V3158m-20 0h40m-9 -173V3141m-20 0h40m-10 -38V3298m-20 0h40m-10 -224V3248m-20 0h40m-10 -144V3261m-20 0h40m-10 -166V3270m-20 0h40m-10 -144V3298m-20 0h40m-10 -178V3292m-20 0h40m-10 -208V3253m-20 0h40m-10 -77V3352m-20 0h40m-10 -103V3474m-20 0h40m-10 -331V3323m-20 0h40m-10 -86V3415m-20 0h40m-10 -382V3189m-20 0h40m-10 -79V3283m-20 0h40m-10 -63V3399m-20 0h40m-10 -331V3234m-20 0h40m-10 -103V3298m-20 0h40m-10 -232V3246m-20 0h40m-10 8V3447m-20 0h40m-10 -264V3371m-20 0h40m-10 -193V3342m-20 0h40m-10 -139V3382m-20 0h40m-10 -302V3257m-20 0h40m-9 -105V3347m-20 0h40m-10 -224V3305m-20 0h40m-10 -174V3306m-20 0h40m-10 -177V3320m-20 0h40m-10 -171V3338m-20 0h40m-10 -214V3327m-20 0h40m-10 -242V3247m-20 0h40m-10 -124V3313m-20 0h40m-10 -134V3347m-20 0h40m-10 -208V3340m-20 0h40m-10 -177V3313m-20 0h40m-10 -230V3269m-20 0h40m-10 -40V3368m-20 0h40m-10 -226V3294m-20 0h40m-10 -203V3295m-20 0h40m-10 -120V3360m-20 0h40m-10 -105V3404m-20 0h40m-10 -231V3333m-20 0h40m-10 -229V3275m-20 0h40m-10 -85V3400m-20 0h40m-10 -254V3331m-20 0h40m-10 -138V3385m-20 0h40m-10 -364V3178m-20 0h40m-9 -75V3288m-20 0h40m-10 -212V3220m-20 0h40m-10 74V3484m-20 0h40m-10 -279V3389m-20 0h40m-10 -210V3359m-20 0h40m-10 -171V3398m-20 0h40m-10 -248V3329m-20 0h40m-10 -81V3444m-20 0h40m-10 -240V3390m-20 0h40m-10 -219V3346m-20 0h40m-10 -124V3407m-20 0h40m-10 -204V3374m-20 0h40m-10 -340V3212m-20 0h40m-10 -36V3344m-20 0h40m-10 -147V3383m-20 0h40m-10 -199V3332m-20 0h40m-10 -204V3321m-20 0h40m-10 -111V3423m-20 0h40m-10 -238V3388m-20 0h40m-10 -230V3354m-20 0h40m-10 -192V3297m-20 0h40m-10 -165V3306m-20 0h40m-10 -135V3351m-20 0h40m-9 -217V3302m-20 0h40m-10 -109V3375m-20 0h40m-10 -230V3335m-20 0h40m-10 -70V3475m-20 0h40m-10 -294V3362m-20 0h40m-10 -95V3489m-20 0h40m-10 -337V3379m-20 0h40m-10 -180V3372m-20 0h40m-10 -140V3390m-20 0h40m-10 -124V3446m-20 0h40m-10 -345V3271m-20 0h40m-10 -88V3363m-20 0h40m-10 -261V3313m-20 0h40m-10 -190V3330m-20 0h40m-10 -210V3305m-20 0h40m-10 -115V3366m-20 0h40m-10 -181V3397m-20 0h40m-10 -161V3451m-20 0h40m-10 -288V3364m-20 0h40m-10 -143V3391m-20 0h40m-10 -152V3411m-20 0h40m-10 -211V3368m-20 0h40m-10 -87V3444m-20 0h40m-9 -304V3339m-20 0h40m-10 -164V3332m-20 0h40m-10 -141V3348m-20 0h40m-10 -171V3360m-20 0h40m-10 -295V3226m-20 0h40m-10 -45V3391m-20 0h40m-10 -203V3371m-20 0h40m-10 -135V3440m-20 0h40m-10 -155V3465m-20 0h40m-10 -332V3323m-20 0h40m-10 -76V3450m-20 0h40m-10 -239V3393m-20 0h40m-10 -218V3352m-20 0h40m-10 -181V3367m-20 0h40m-10 -265V3318m-20 0h40m-10 -209V3296m-20 0h40m-10 -195V3262m-20 0h40m-10 -115V3379m-20 0h40m-10 -250V3301m-20 0h40m-10 -157V3317m-20 0h40m-10 -132V3387m-20 0h40m-10 -244V3335m-20 0h40m-9 -167V3359m-20 0h40m-10 -154V3383m-20 0h40m-10 -173V3407m-20 0h40m-10 -215V3396m-20 0h40m-10 -199V3393m-20 0h40m-10 -149V3428m-20 0h40m-10 -261V3402m-20 0h40m-10 -266V3317m-20 0h40m-10 -167V3358m-20 0h40m-10 -174V3402m-20 0h40m-10 -227V3385m-20 0h40m-10 -141V3457m-20 0h40m-10 -290V3352m-20 0h40m-10 -42V3481m-20 0h40m-10 -348V3361m-20 0h40m-10 -161V3418m-20 0h40m-10 -302V3315m-20 0h40m-10 -157V3300m-20 0h40m-10 -193V3337m-20 0h40m-10 -166V3391m-20 0h40m-10 -334V3235m-20 0h40m-10 -107V3333m-20 0h40m-10 -183V3335m-20 0h40m-9 -171V3361m-20 0h40m-10 -227V3349m-20 0h40m-10 -248V3304m-20 0h40m-10 -134V3340m-20 0h40m-10 -170V3397m-20 0h40m-10 -153V3448m-20 0h40m-10 -273V3395m-20 0h40m-10 -171V3374m-20 0h40m-10 -141V3398m-20 0h40m-10 -193V3384m-20 0h40m-10 -250V3338m-20 0h40m-10 -200V3346m-20 0h40m-10 -233V3327m-20 0h40m-10 -232V3287m-20 0h40m-10 -52V3465m-20 0h40m-10 -275V3370m-20 0h40m-10 -162V3427m-20 0h40m-10 -336V3279m-20 0h40m-10 -74V3413m-20 0h40m-10 -233V3388m-20 0h40m-10 -147V3468m-20 0h40m-10 -287V3359m-20 0h40m-10 -192V3376m-20 0h40m-9 -152V3411m-20 0h40m-10 -219V3387m-20 0h40m-10 -122V3461m-20 0h40m-10 -143V3547m-20 0h40m-10 -401V3380m-20 0h40m-10 -205V3387m-20 0h40m-10 -206V3411m-20 0h40m-10 -217V3420m-20 0h40m-10 -228V3382m-20 0h40m-10 -238V3339m-20 0h40m-10 -131V3419m-20 0h40m-10 -214V3407m-20 0h40m-10 -145V3466m-20 0h40m-10 -186V3486m-20 0h40m-10 -197V3462m-20 0h40m-10 -275V3363m-20 0h40m-10 -151V3443m-20 0h40m-10 -279V3339m-20 0h40m-10 -185V3338m-20 0h40m-10 -229V3291m-20 0h40m-10 -234V3284m-20 0h40m-10 -179V3327m-20 0h40m-10 -120V3406m-20 0h40m-9 -184V3400m-20 0h40m-10 -272V3332m-20 0h40m-10 -175V3341m-20 0h40m-10 -212V3311m-20 0h40m-10 -220V3294m-20 0h40m-10 -129V3416m-20 0h40m-10 -288V3304m-20 0h40m-10 -143V3357m-20 0h40m-10 -229V3355m-20 0h40m-10 -207V3405m-20 0h40m-10 -228V3374m-20 0h40m-10 -265V3319m-20 0h40m-10 -140V3379m-20 0h40m-10 -249V3348m-20 0h40m-10 -184V3334m-20 0h40m-10 -248V3276m-20 0h40m-10 -256V3209m-20 0h40m-10 -146V3265m-20 0h40m-10 -120V3350m-20 0h40m-10 -302V3245m-20 0h40m-10 -99V3344m-20 0h40m-10 -140V3384m-20 0h40m-10 -170V3418m-20 0h40m-9 -312V3305m-20 0h40m-10 -93V3428m-20 0h40m-10 -183V3447m-20 0h40m-10 -291V3400m-20 0h40m-10 -235V3378m-20 0h40m-10 -230V3374m-20 0h40m-10 -322V3259m-20 0h40m-10 -190V3306m-20 0h40m-10 -158V3456m-20 0h40m-10 -409V3212m-20 0h40m-10 -90V3338m-20 0h40m-10 -230V3323m-20 0h40m-10 -210V3337m-20 0h40m-10 -136V3453m-20 0h40m-10 -201V3472m-20 0h40m-10 -254V3381m-20 0h40m-10 -168V3441m-20 0h40m-10 -171V3514m-20 0h40m-10 -268V3442m-20 0h40m-10 -155V3482m-20 0h40m-10 -217V3477m-20 0h40m-10 -210V3466m-20 0h40m-10 -173V3494m-20 0h40m-9 -256V3468m-20 0h40m-10 -157V3513m-20 0h40m-10 -279V3400m-20 0h40m-10 -107V3492m-20 0h40m-10 -145V3557m-20 0h40m-10 -234V3550m-20 0h40m-10 -231V3505m-20 0h40m-10 -298V3416m-20 0h40m-10 -172V3486m-20 0h40m-10 -189V3532m-20 0h40m-10 -241V3506m-20 0h40m-10 -232V3571m-20 0h40m-10 -379V3398m-20 0h40m-10 -192V3417m-20 0h40m-10 -146V3500m-20 0h40m-10 -192V3534m-20 0h40m-10 -259V3497m-20 0h40m-10 -224V3490m-20 0h40m-10 -152V3565m-20 0h40m-10 -338V3554m-20 0h40m-10 -185V3564m-20 0h40m-10 -323V3470m-20 0h40m-10 -251V3449m-20 0h40m-9 -190V3472m-20 0h40m-10 -217V3486m-20 0h40m-10 -273V3419m-20 0h40m-10 -138V3489m-20 0h40m-10 -280V3395m-20 0h40m-10 -83V3575m-20 0h40m-10 -430V3349m-20 0h40m-10 -101V3467m-20 0h40m-10 -169V3553m-20 0h40m-10 -294V3475m-20 0h40m-10 -205V3514m-20 0h40m-10 -194V3515m-20 0h40m-10 -201V3506m-20 0h40m-10 -201V3514m-20 0h40m-10 -279V3458m-20 0h40m-10 -249V3438m-20 0h40m-10 -192V3472m-20 0h40m-10 -275V3385m-20 0h40m-10 -89V3493m-20 0h40m-10 -240V3496m-20 0h40m-10 -212V3502m-20 0h40m-10 -236V3487m-20 0h40m-10 -223V3473m-20 0h40m-9 -194V3458m-20 0h40m-10 -248V3434m-20 0h40m-10 -175V3461m-20 0h40m-10 -269V3405m-20 0h40m-10 -177V3465m-20 0h40m-10 -257V3429m-20 0h40m-10 -127V3545m-20 0h40m-10 -277V3486m-20 0h40m-10 -232V3475m-20 0h40m-10 -182V3497m-20 0h40m-10 -294V3407m-20 0h40m-10 -124V3504m-20 0h40m-10 -238V3504m-20 0h40m-10 -217V3465m-20 0h40m-10 -137V3519m-20 0h40m-10 -300V3432m-20 0h40m-10 -149V3477m-20 0h40m-10 -256V3437m-20 0h40m-10 -207V3433m-20 0h40m-10 -239V3431m-20 0h40m-10 -195V3501m-20 0h40m-10 -188V3508m-20 0h40m-9 -253V3476m-20 0h40m-10 -194V3528m-20 0h40m-10 -308V3420m-20 0h40m-10 -199V3436m-20 0h40m-10 -213V3434m-20 0h40m-10 -197V3467m-20 0h40m-10 -219V3515m-20 0h40m-10 -242V3481m-20 0h40m-10 -302V3406m-20 0h40m-10 -141V3514m-20 0h40m-10 -368V3394m-20 0h40m-10 -175V3447m-20 0h40m-10 -265V3405m-20 0h40m-10 -131V3503m-20 0h40m-10 -243V3506m-20 0h40m-10 -284V3430m-20 0h40m-10 -186V3468m-20 0h40m-10 -189V3511m-20 0h40m-10 -84V3658m-20 0h40m-10 -465V3417m-20 0h40m-10 -108V3517m-20 0h40m-10 -269V3467m-20 0h40m-10 -69V3616m-20 0h40m-9 -354V3464m-20 0h40m-10 -204V3458m-20 0h40m-10 -143V3543m-20 0h40m-10 -107V3658m-20 0h40m-10 -240V3642m-20 0h40m-10 -198V3655m-20 0h40m-10 -135V3719m-20 0h40m-10 -339V3628m-20 0h40m-10 -363V3449m-20 0h40m-10 -120V3518m-20 0h40m-10 -216V3476m-20 0h40m-10 -155V3553m-20 0h40m-10 -187V3578m-20 0h40m-10 -285V3498m-20 0h40m-10 -189V3528m-20 0h40m-10 -319V3429m-20 0h40m-10 -55V3605m-20 0h40m-10 -268V3578m-20 0h40m-10 -226V3556m-20 0h40m-10 -186V3589m-20 0h40m-10 -335V3451m-20 0h40m-10 -105V3598m-20 0h40m-10 -182V3626m-20 0h40m-9 -259V3542m-20 0h40m-10 -62V3735m-20 0h40m-10 -482V3567m-20 0h40m-10 -195V3589m-20 0h40m-10 -255V3525m-20 0h40m-10 -243V3528m-20 0h40m-10 -199V3577m-20 0h40m-10 -244V3546m-20 0h40m-10 -176V3575m-20 0h40m-10 -181V3618m-20 0h40m-10 -199V3671m-20 0h40m-10 -381V3541m-20 0h40m-10 -209V3565m-20 0h40m-10 -215V3577m-20 0h40m-10 -203V3580m-20 0h40m-10 -257V3515m-20 0h40m-10 -166V3557m-20 0h40m-10 -226V3519m-20 0h40m-10 -170V3576m-20 0h40m-10 -247V3507m-20 0h40m-10 -238V3453m-20 0h40m-10 -211V3451m-20 0h40m-10 -143V3515m-20 0h40m-9 -195V3553m-20 0h40m-10 -305V3479m-20 0h40m-10 -246V3454m-20 0h40m-10 -202V3457m-20 0h40m-10 -223V3452m-20 0h40m-10 -229V3463m-20 0h40m-10 -129V3543m-20 0h40m-10 -226V3527m-20 0h40m-10 -270V3478m-20 0h40m-10 -231V3457m-20 0h40m-10 -212V3455m-20 0h40m-10 -288V3424m-20 0h40m-10 -212V3487m-20 0h40m-10 -336V3377m-20 0h40m-10 -132V3449m-20 0h40m-10 -61V3624m-20 0h40m-10 -424V3391m-20 0h40m-10 -234V3389m-20 0h40m-10 -223V3395m-20 0h40m-10 -244V3406m-20 0h40m-10 -254V3391m-20 0h40m-10 -206V3415m-20 0h40m-10 -261V3376m-20 0h40m-9 -283V3314m-20 0h40m-10 -46V3483m-20 0h40m-10 -295V3396m-20 0h40m-10 -147V3477m-20 0h40m-10 -211V3430m-20 0h40m-10 -212V3431m-20 0h40m-10 -148V3479m-20 0h40m-10 -239V3458m-20 0h40m-10 -245V3440m-20 0h40m-10 -139V3570m-20 0h40m-10 -274V3493m-20 0h40m-10 -275V3442m-20 0h40m-10 -161V3502m-20 0h40m-10 -213V3542m-20 0h40m-10 -211V3555m-20 0h40m-10 -281V3486m-20 0h40m-10 -174V3583m-20 0h40m-10 -262V3530m-20 0h40m-10 -262V3489m-20 0h40m-10 -148V3533m-20 0h40m-10 -163V3624m-20 0h40m-10 -359V3451m-20 0h40m-10 -76V3606m-20 0h40m-9 -205V3637m-20 0h40m-10 -347V3473m-20 0h40m-10 -151V3567m-20 0h40m-10 -274V3506m-20 0h40m-10 -216V3509m-20 0h40m-10 -246V3487m-20 0h40m-10 -209V3480m-20 0h40m-10 -124V3580m-20 0h40m-10 -301V3507m-20 0h40m-10 -188V3552m-20 0h40m-10 -243V3540m-20 0h40m-10 -228V3564m-20 0h40m-10 -311V3470m-20 0h40m-10 -212V3508m-20 0h40m-10 -223V3539m-20 0h40m-10 -142V3641m-20 0h40m-10 -281V3547m-20 0h40m-10 -222V3546m-20 0h40m-10 -301V3481m-20 0h40m-10 -121V3561m-20 0h40m-10 -328V3451m-20 0h40m-10 -201V3517m-20 0h40m-9 -161V3547m-20 0h40m-10 -134V3595m-20 0h40m-10 -240V3580m-20 0h40m-10 -130V3690m-20 0h40m-10 -428V3496m-20 0h40m-10 -238V3468m-20 0h40m-10 -210V3470m-20 0h40m-10 -158V3532m-20 0h40m-10 -194V3595m-20 0h40m-10 -176V3661m-20 0h40m-10 -388V3523m-20 0h40m-10 -240V3533m-20 0h40m-10 -207V3556m-20 0h40m-10 -276V3495m-20 0h40m-10 -115V3605m-20 0h40m-10 -283V3540m-20 0h40m-10 -147V3613m-20 0h40m-10 -213V3615m-20 0h40m-10 -180V3672m-20 0h40m-10 -219V3684m-20 0h40m-10 -350V3529m-20 0h40m-10 -204V3549m-20 0h40m-10 -259V3520m-20 0h40m-9 -102V3660m-20 0h40m-10 -233V3649m-20 0h40m-10 -194V3654m-20 0h40m-10 -403V3472m-20 0h40m-10 39V3738m-20 0h40m-10 -189V3789m-20 0h40m-10 -433V3566m-20 0h40m-10 -198V3586m-20 0h40m-10 -211V3593m-20 0h40m-10 -162V3626m-20 0h40m-10 -217V3646m-20 0h40m-10 -282V3607m-20 0h40m-10 -196V3637m-20 0h40m-10 -265V3564m-20 0h40m-10 -236V3530m-20 0h40m-10 -153V3584m-20 0h40m-10 -181V3661m-20 0h40m-10 -253V3607m-20 0h40m-10 -161V3685m-20 0h40m-10 -250V3677m-20 0h40m-10 -260V3719m-20 0h40m-10 -290V3648m-20 0h40m-10 -195V3688m-20 0h40m-9 -307V3605m-20 0h40m-10 -227V3604m-20 0h40m-10 -118V3703m-20 0h40m-10 -333V3576m-20 0h40m-10 -134V3655m-20 0h40m-10 -348V3535m-20 0h40m-10 -115V3638m-20 0h40m-10 -339V3537m-20 0h40m-10 -142V3600m-20 0h40m-10 -108V3752m-20 0h40m-10 -364V3613m-20 0h40m-10 -158V3711m-20 0h40m-10 -322V3647m-20 0h40m-10 -326V3528m-20 0h40m-10 -102V3682m-20 0h40m-10 -202V3729m-20 0h40m-10 -241V3759m-20 0h40m-10 -309V3665m-20 0h40m-10 -206V3693m-20 0h40m-10 -298V3622m-20 0h40m-10 -190V3652m-20 0h40m-10 -210V3689m-20 0h40m-10 -182V3716m-20 0h40m-9 -314V3618m-20 0h40m-10 -102V3724m-20 0h40m-10 -141V3814m-20 0h40m-10 -314V3788m-20 0h40m-10 -272V3756m-20 0h40m-10 -276V3683m-20 0h40m-10 -333V3568m-20 0h40m-10 -74V3730m-20 0h40m-10 -267V3716m-20 0h40m-10 -296V3671m-20 0h40m-10 -270V3623m-20 0h40m-10 -151V3777m-20 0h40m-10 -379V3586m-20 0h40m-10 -83V3712m-20 0h40m-10 -339V3565m-20 0h40m-10 -48V3703m-20 0h40m-10 -225V3666m-20 0h40m-10 -275V3601m-20 0h40m-10 -146V3685m-20 0h40m-10 -270V3661m-20 0h40m-10 -261V3597m-20 0h40m-10 -280V3531m-20 0h40m-10 -143V3640m-20 0h40m-9 -191V3673m-20 0h40m-10 -191V3737m-20 0h40m-10 -329V3648m-20 0h40m-10 -191V3709m-20 0h40m-10 -338V3595m-20 0h40m-10 -156V3653m-20 0h40m-10 -294V3613m-20 0h40m-10 -159V3674m-20 0h40m-10 -276V3607m-20 0h40m-10 -158V3644m-20 0h40m-10 -162V3684m-20 0h40m-10 -209V3711m-20 0h40m-10 -314V3661m-20 0h40m-10 -262V3605m-20 0h40m-10 -234V3618m-20 0h40m-10 -208V3741m-20 0h40m-10 -351V3631m-20 0h40m-10 -225V3651m-20 0h40m-10 -263V3635m-20 0h40m-10 -134V3708m-20 0h40m-10 -269V3666m-20 0h40m-10 -262V3604m-20 0h40m-10 -191V3632m-20 0h40m-9 -284V3575m-20 0h40m-10 -162V3669m-20 0h40m-10 -258V3633m-20 0h40m-10 -267V3599m-20 0h40m-10 -191V3680m-20 0h40m-10 -250V3674m-20 0h40m-10 -155V3761m-20 0h40m-10 -425V3541m-20 0h40m-10 -93V3680m-20 0h40m-10 -178V3725m-20 0h40m-10 -348V3567m-20 0h40m-10 -227V3597m-20 0h40m-10 -114V3711m-20 0h40m-10 -322V3609m-20 0h40m-10 -125V3732m-20 0h40m-10 -283V3651m-20 0h40m-10 -251V3615m-20 0h40m-10 -209V3659m-20 0h40m-10 -209V3730m-20 0h40m-10 -411V3565m-20 0h40m-10 -195V3605m-20 0h40m-10 -260V3554m-20 0h40m-10 -159V3659m-20 0h40m-9 -125V3793m-20 0h40m-10 -428V3640m-20 0h40m-10 -190V3683m-20 0h40m-10 -316V3625m-20 0h40m-10 -266V3589m-20 0h40m-10 -221V3594m-20 0h40m-10 -208V3626m-20 0h40m-10 -178V3657m-20 0h40m-10 -351V3542m-20 0h40m-10 -123V3694m-20 0h40m-10 -289V3636m-20 0h40m-10 -200V3689m-20 0h40m-10 -307V3592m-20 0h40m-10 -292V3506m-20 0h40m-10 -227V3559m-20 0h40m-10 -291V3517m-20 0h40m-10 -297V3453m-20 0h40m-10 -260V3403m-20 0h40m-10 -72V3510m-20 0h40m-10 -349V3350m-20 0h40m-10 -7V3637m-20 0h40m-10 -332V3555m-20 0h40m-10 -178V3571m-20 0h40m-9 -464V3344m-20 0h40m-10 -19V3580m-20 0h40m-10 -283V3530m-20 0h40m-10 -180V3585m-20 0h40m-10 -418V3385m-20 0h40m-10 -116V3476m-20 0h40m-10 -242V3467m-20 0h40m-10 -141V3539m-20 0h40m-10 -197V3536m-20 0h40m-10 -225V3588m-20 0h40m-10 -217V3650m-20 0h40m-10 -307V3557m-20 0h40m-10 -317V3505m-20 0h40m-10 -175V3623m-20 0h40m-10 -331V3560m-20 0h40m-10 -177V3613m-20 0h40m-10 -271V3601m-20 0h40m-10 -251V3583m-20 0h40m-10 -144V3676m-20 0h40m-10 -473V3442m-20 0h40m-10 -166V3476m-20 0h40m-10 -216V3517m-20 0h40m-9 -277V3446m-20 0h40m-10 -218V3484m-20 0h40m-10 -123V3625m-20 0h40m-10 -314V3565m-20 0h40m-10 -216V3598m-20 0h40m-10 -270V3568m-20 0h40m-10 -223V3567m-20 0h40m-10 -156V3680m-20 0h40m-10 -423V3567m-20 0h40m-10 -253V3544m-20 0h40m-10 -291V3503m-20 0h40m-10 -74V3697m-20 0h40m-10 -399V3561m-20 0h40m-10 -144V3661m-20 0h40m-10 -350V3549m-20 0h40m-10 -179V3590m-20 0h40m-10 -227V3516m-20 0h40m-10 -195V3548m-20 0h40m-10 -145V3696m-20 0h40m-10 -384V3594m-20 0h40m-10 -319V3528m-20 0h40m-10 -286V3465m-20 0h40m-10 -205V3504m-20 0h40m-9 -211V3568m-20 0h40m-10 -311V3508m-20 0h40m-10 -86V3682m-20 0h40m-10 -352V3601m-20 0h40m-10 -267V3582m-20 0h40m-10 -324V3532m-20 0h40m-10 -252V3535m-20 0h40m-10 -160V3638m-20 0h40m-10 -276V3616m-20 0h40m-10 -273V3570m-20 0h40m-10 -233V3541m-20 0h40m-10 -231V3523m-20 0h40m-10 -137V3605m-20 0h40m-10 -236V3593m-20 0h40m-10 -285V3538m-20 0h40m-10 -236V3523m-20 0h40m-10 -199V3594m-20 0h40m-10 -297V3561m-20 0h40m-10 -215V3581m-20 0h40m-10 -243V3595m-20 0h40m-10 -235V3580m-20 0h40m-10 -266V3574m-20 0h40m-10 -216V3607m-20 0h40m-9 -116V3741m-20 0h40m-10 -462V3539m-20 0h40m-10 -172V3609m-20 0h40m-10 -238V3614m-20 0h40m-10 -277V3514m-20 0h40m-10 -83V3667m-20 0h40m-10 -306V3623m-20 0h40m-10 -276V3606m-20 0h40m-10 -316V3524m-20 0h40m-10 -117V3637m-20 0h40m-10 -222V3639m-20 0h40m-10 -206V3745m-20 0h40" stroke="#f5a1a4" stroke-width="21"/>
<path d="M0 0m8950 2860h0m3 58h0m4 -73h0m3 41h0m3 -14h0m4 111h0m3 -74h0m3 -84h0m4 124h0m3 -65h0m3 -11h0m4 0h0m3 29h0m4 52h0m3 -135h0m3 -48h0m4 100h0m3 -40h0m3 5h0m4 -26h0m3 -9h0m3 59h0m4 -46h0m3 22h0m3 -62h0m4 38h0m3 89h0m3 -98h0m4 8h0m3 88h0m3 -111h0m4 151h0m3 -79h0m3 -4h0m4 37h0m3 -62h0m4 76h0m3 -71h0m3 -36h0m4 -69h0m3 91h0m3 -2h0m4 52h0m3 -65h0m3 54h0m4 68h0m3 -108h0m3 80h0m4 73h0m3 -171h0m3 96h0m4 48h0m3 -113h0m3 32h0m4 45h0m3 -57h0m3 -14h0m4 -46h0m3 95h0m4 -32h0m3 -97h0m3 162h0m4 -82h0m3 22h0m3 -17h0m4 101h0m3 -131h0m3 81h0m4 -76h0m3 23h0m3 -27h0m4 100h0m3 -142h0m3 128h0m4 -104h0m3 99h0m3 -44h0m4 -50h0m3 62h0m3 -98h0m4 12h0m3 14h0m4 48h0m3 -8h0m3 8h0m4 4h0m3 -20h0m3 37h0m4 12h0m3 -83h0m3 52h0m4 -82h0m3 8h0m3 76h0m4 -34h0m3 -24h0m3 132h0m4 -83h0m3 106h0m3 -3h0m4 -130h0m3 15h0m3 13h0m4 -15h0m3 23h0m4 -75h0m3 166h0m3 -20h0m4 34h0m3 -128h0m3 129h0m4 -8h0m3 -90h0m3 -34h0m4 24h0m3 11h0m3 89h0m4 -155h0m3 55h0m3 -82h0m4 138h0m3 -132h0m3 109h0m4 -5h0m3 42h0m3 -94h0m4 68h0m3 -80h0m4 46h0m3 54h0m3 63h0m4 -54h0m3 -57h0m3 -63h0m4 36h0m3 15h0m3 -11h0m4 -80h0m3 107h0m3 -2h0m4 -66h0m3 90h0m3 44h0m4 -17h0m3 -55h0m3 102h0m4 -90h0m3 -27h0m3 24h0m4 -17h0m3 -7h0m4 -3h0m3 38h0m3 10h0m4 -33h0m3 28h0m3 16h0m4 -88h0m3 34h0m3 81h0m4 -67h0m3 -67h0m3 100h0m4 -96h0m3 16h0m3 24h0m4 128h0m3 -10h0m3 -21h0m4 7h0m3 -175h0m3 67h0m4 96h0m3 -46h0m4 -1h0m3 -79h0m3 38h0m4 6h0m3 25h0m3 -80h0m4 39h0m3 35h0m3 -44h0m4 19h0m3 57h0m3 25h0m4 -112h0m3 18h0m3 -14h0m4 -40h0m3 112h0m3 -51h0m4 111h0m3 103h0m3 -149h0m4 -80h0m3 82h0m4 48h0m3 -13h0m3 -39h0m4 -18h0m3 0h0m3 116h0m4 -55h0m3 -54h0m3 55h0m4 7h0m3 -16h0m3 -108h0m4 116h0m3 -90h0m3 -59h0m4 102h0m3 -30h0m3 38h0m4 1h0m3 95h0m3 -52h0m4 -58h0m3 -15h0m4 89h0m3 -154h0m3 94h0m4 -122h0m3 -3h0m3 139h0m4 -96h0m3 69h0m3 -38h0m4 -64h0m3 109h0m3 1h0m4 5h0m3 -35h0m3 -35h0m4 96h0m3 -55h0m3 -12h0m4 -6h0m3 -37h0m4 131h0m3 -68h0m3 4h0m4 -19h0m3 -32h0m3 55h0m4 0h0m3 -80h0m3 71h0m4 20h0m3 65h0m3 -13h0m4 -131h0m3 99h0m3 -38h0m4 44h0m3 -73h0m3 26h0m4 9h0m3 99h0m3 -104h0m4 12h0m3 98h0m4 -26h0m3 13h0m3 -123h0m4 17h0m3 51h0m3 -84h0m4 112h0m3 -2h0m3 25h0m4 -61h0m3 65h0m3 -164h0m4 73h0m3 -2h0m3 -33h0m4 88h0m3 -102h0m3 67h0m4 -64h0m3 37h0m3 20h0m4 78h0m3 -114h0m4 27h0m3 -29h0m3 83h0m4 18h0m3 -93h0m3 82h0m4 -46h0m3 91h0m3 22h0m4 -99h0m3 19h0m3 -76h0m4 144h0m3 23h0m3 -18h0m4 11h0m3 -137h0m3 -8h0m4 32h0m3 14h0m3 -6h0m4 58h0m3 -100h0m4 -42h0m3 92h0m3 -48h0m4 7h0m3 28h0m3 -24h0m4 88h0m3 44h0m3 -94h0m4 38h0m3 -75h0m3 36h0m4 37h0m3 -72h0m3 165h0m4 -85h0m3 -53h0m3 -12h0m4 31h0m3 42h0m3 -139h0m4 38h0m3 92h0m4 56h0m3 -82h0m3 -4h0m4 -6h0m3 44h0m3 -104h0m4 18h0m3 48h0m3 36h0m4 -46h0m3 57h0m3 -34h0m4 -33h0m3 99h0m3 15h0m4 -82h0m3 -20h0m3 85h0m4 -46h0m3 -8h0m3 81h0m4 -16h0m3 -41h0m4 88h0m3 -79h0m3 27h0m4 -24h0m3 -93h0m3 40h0m4 14h0m3 40h0m3 -50h0m4 -51h0m3 -39h0m3 96h0m4 -80h0m3 92h0m3 71h0m4 -95h0m3 7h0m3 63h0m4 -53h0m3 110h0m3 -111h0m4 47h0m3 -8h0m4 -32h0m3 -57h0m3 137h0m4 -51h0m3 -58h0m3 70h0m4 8h0m3 -65h0m3 -2h0m4 24h0m3 54h0m3 -18h0m4 -86h0m3 66h0m3 -65h0m4 49h0m3 20h0m3 -3h0m4 -74h0m3 90h0m3 -1h0m4 49h0m3 72h0m4 -121h0m3 -8h0m3 -39h0m4 -12h0m3 142h0m3 -125h0m4 57h0m3 -19h0m3 -80h0m4 38h0m3 -32h0m3 56h0m4 2h0m3 -23h0m3 -61h0m4 42h0m3 -25h0m3 207h0m4 -95h0m3 -76h0m3 54h0m4 -73h0m3 -6h0m4 41h0m3 -25h0m3 108h0m4 -83h0m3 83h0m3 -38h0m4 -72h0m3 95h0m3 -61h0m4 68h0m3 -48h0m3 3h0m4 4h0m3 4h0m3 -25h0m4 -4h0m3 -1h0m3 -35h0m4 -8h0m3 51h0m3 -32h0m4 68h0m3 -8h0m4 37h0m3 -2h0m3 36h0m4 -34h0m3 -74h0m3 97h0m4 -66h0m3 83h0m3 -75h0m4 102h0m3 -167h0m3 105h0m4 2h0m3 -93h0m3 5h0m4 52h0m3 -87h0m3 40h0m4 -41h0m3 -36h0m3 148h0m4 22h0m3 -110h0m4 45h0m3 -61h0m3 123h0m4 -139h0m3 31h0m3 -11h0m4 -22h0m3 75h0m3 103h0m4 -113h0m3 36h0m3 -14h0m4 55h0m3 -87h0m3 -80h0m4 129h0m3 70h0m3 -37h0m4 -30h0m3 -92h0m3 26h0m4 -16h0m3 114h0m4 -62h0m3 -20h0m3 44h0m4 50h0m3 -60h0m3 -15h0m4 -38h0m3 20h0m3 46h0m4 77h0m3 -86h0m3 12h0m4 -53h0m3 30h0m3 36h0m4 -68h0m3 43h0m3 34h0m4 -101h0m3 58h0m3 -50h0m4 -58h0m3 76h0m4 42h0m3 -34h0m3 -1h0m4 -1h0m3 30h0m3 -38h0m4 27h0m3 2h0m3 55h0m4 15h0m3 -85h0m3 7h0m4 -1h0m3 24h0m3 28h0m4 -63h0m3 75h0m3 -112h0m4 95h0m3 -92h0m3 90h0m4 -57h0m3 4h0m4 154h0m3 -134h0m3 19h0m4 47h0m3 -21h0m3 -23h0m4 7h0m3 7h0m3 49h0m4 -42h0m3 -55h0m3 25h0m4 81h0m3 -42h0m3 5h0m4 -65h0m3 64h0m3 -4h0m4 -49h0m3 27h0m3 -93h0m4 15h0m3 -33h0m4 141h0m3 -35h0m3 -88h0m4 167h0m3 -21h0m3 -146h0m4 41h0m3 152h0m3 -96h0m4 -62h0m3 94h0m3 -9h0m4 -19h0m3 -39h0m3 -1h0m4 52h0m3 -5h0m3 -54h0m4 7h0m3 -14h0m3 16h0m4 -18h0m3 56h0m4 15h0m3 -22h0m3 -46h0m4 -30h0m3 37h0m3 -27h0m4 18h0m3 80h0m3 38h0m4 102h0m3 -64h0m3 -72h0m4 -26h0m3 44h0m3 -3h0m4 -121h0m3 106h0m3 18h0m4 -88h0m3 -21h0m3 -70h0m4 137h0m3 40h0m4 -103h0m3 21h0m3 13h0m4 -5h0m3 21h0m3 -20h0m4 101h0m3 39h0m3 -60h0m4 -38h0m3 -17h0m3 -28h0m4 124h0m3 -51h0m3 -48h0m4 -69h0m3 46h0m3 -21h0m4 62h0m3 -111h0m3 79h0m4 -4h0m3 -44h0m4 32h0m3 24h0m3 -51h0m4 -25h0m3 1h0m3 34h0m4 39h0m3 -37h0m3 69h0m4 -54h0m3 -36h0m3 12h0m4 7h0m3 50h0m3 -5h0m4 -21h0m3 19h0m3 100h0m4 -102h0m3 -142h0m3 128h0m4 -10h0m3 -27h0m4 13h0m3 -2h0m3 17h0m4 -34h0m3 -33h0m3 77h0m4 12h0m3 -55h0m3 105h0m4 -103h0m3 77h0m3 -103h0m4 23h0m3 59h0m3 -14h0m4 -72h0m3 89h0m3 -33h0m4 18h0m3 -128h0m3 51h0m4 61h0m3 70h0m4 -25h0m3 48h0m3 -33h0m4 -3h0m3 36h0m3 -18h0m4 20h0m3 -79h0m3 -21h0m4 126h0m3 -168h0m3 52h0m4 -5h0m3 -4h0m3 48h0m4 -20h0m3 -23h0m3 56h0m4 -12h0m3 83h0m3 -150h0m4 34h0m3 42h0m4 4h0m3 5h0m3 55h0m4 49h0m3 -147h0m3 16h0m4 39h0m3 -56h0m3 -42h0m4 11h0m3 -44h0m3 94h0m4 44h0m3 -43h0m3 61h0m4 -96h0m3 86h0m3 -64h0m4 -6h0m3 -14h0m3 46h0m4 -6h0m3 -14h0m4 6h0m3 132h0m3 -122h0m4 36h0m3 29h0m3 -79h0m4 -16h0m3 141h0m3 -193h0m4 -49h0m3 67h0m3 27h0m4 -24h0m3 133h0m3 -116h0m4 97h0m3 -43h0m3 -4h0m4 12h0m3 -43h0m4 3h0m3 42h0m3 -23h0m4 66h0m3 -71h0m3 18h0m4 20h0m3 -79h0m3 33h0m4 -1h0m3 34h0m3 -10h0m4 -16h0m3 66h0m3 10h0m4 -156h0m3 114h0m3 -47h0m4 60h0m3 78h0m3 -83h0m4 23h0m3 20h0m4 -72h0m3 -33h0m3 18h0m4 104h0m3 -155h0m3 71h0m4 70h0m3 -33h0m3 -98h0m4 115h0m3 62h0m3 -73h0m4 -26h0m3 -5h0m3 -26h0m4 2h0m3 29h0m3 -44h0m4 15h0m3 30h0m3 109h0m4 -153h0m3 44h0m4 31h0m3 22h0m3 39h0m4 -82h0m3 37h0m3 -84h0m4 86h0m3 15h0m3 -78h0m4 -21h0m3 52h0m3 -34h0m4 35h0m3 -36h0m3 63h0m4 -56h0m3 3h0m3 -42h0m4 74h0m3 -20h0m3 -17h0m4 133h0m3 -144h0m4 95h0m3 -80h0m3 -10h0m4 -25h0m3 -15h0m3 88h0m4 -35h0m3 -23h0m3 23h0m4 -13h0m3 0h0m3 48h0m4 43h0m3 13h0m3 -216h0m4 104h0m3 16h0m3 79h0m4 44h0m3 10h0m3 14h0m4 -57h0m3 -44h0m4 21h0m3 15h0m3 84h0m4 -187h0m3 106h0m3 -80h0m4 12h0m3 1h0m3 -94h0m4 60h0m3 -39h0m3 -28h0m4 33h0m3 -43h0m3 29h0m4 76h0m3 -92h0m3 5h0m4 -19h0m3 80h0m3 -73h0m4 135h0m3 20h0m4 -154h0m3 93h0m3 -36h0m4 61h0m3 80h0m3 -100h0m4 -9h0m3 58h0m3 -107h0m4 79h0m3 64h0m3 55h0m4 -128h0m3 6h0m3 -9h0m4 34h0m3 15h0m3 20h0m4 -41h0m3 -12h0m3 11h0m4 -35h0m3 39h0m4 -21h0m3 74h0m3 -3h0m4 -7h0m3 83h0m3 -37h0m4 1h0m3 -70h0m3 68h0m4 34h0m3 -8h0m3 -152h0m4 128h0m3 -180h0m3 40h0m4 16h0m3 21h0m3 8h0m4 -69h0m3 171h0m3 -138h0m4 -32h0m3 18h0m4 111h0m3 -89h0m3 41h0m4 -12h0m3 -3h0m3 -50h0m4 138h0m3 -26h0m3 76h0m4 -5h0m3 -17h0m3 -49h0m4 -4h0m3 42h0m3 -43h0m4 -26h0m3 82h0m3 -31h0m4 -87h0m3 1h0m3 -37h0m4 95h0m3 -43h0m4 20h0m3 -98h0m3 63h0m4 6h0m3 10h0m3 105h0m4 -107h0m3 0h0m3 -34h0m4 32h0m3 -16h0m3 18h0m4 18h0m3 71h0m3 -129h0m4 33h0m3 -24h0m3 1h0m4 -16h0m3 135h0m3 -97h0m4 0h0m3 -22h0m4 75h0m3 3h0m3 -24h0m4 -60h0m3 44h0m3 44h0m4 -26h0m3 6h0m3 5h0m4 -75h0m3 -10h0m3 123h0m4 -15h0m3 38h0m3 4h0m4 -143h0m3 52h0m3 -49h0m4 62h0m3 -64h0m3 163h0m4 -119h0m3 40h0m4 37h0m3 -34h0m3 77h0m4 -75h0m3 1h0m3 -8h0m4 10h0m3 -112h0m3 33h0m4 24h0m3 -28h0m3 90h0m4 -43h0m3 -20h0m3 19h0m4 -125h0m3 66h0m3 106h0m4 -100h0m3 -76h0m3 4h0m4 70h0m3 27h0m4 -15h0m3 40h0m3 3h0m4 -70h0m3 88h0m3 81h0m4 49h0m3 -9h0m3 -109h0m4 29h0m3 59h0m3 -80h0m4 -5h0m3 1h0m3 48h0m4 -40h0m3 -22h0m3 12h0m4 -28h0m3 94h0m3 -89h0m4 93h0m3 -84h0m4 -15h0m3 55h0m3 69h0m4 -124h0m3 22h0m3 123h0m4 -183h0m3 111h0m3 -42h0m4 1h0m3 22h0m3 -19h0m4 -37h0m3 -113h0m3 88h0m4 -35h0m3 89h0m3 -23h0m4 25h0m3 19h0m3 -25h0m4 -58h0m3 70h0m4 39h0m3 -138h0m3 43h0m4 70h0m3 -15h0m3 27h0m4 -27h0m3 -31h0m3 33h0m4 -1h0m3 4h0m3 -30h0m4 42h0m3 2h0m3 -40h0m4 14h0m3 -104h0m3 60h0m4 0h0m3 -43h0m3 82h0m4 -25h0m3 -38h0m4 26h0m3 34h0m3 45h0m4 -20h0m3 -82h0m3 45h0m4 -11h0m3 38h0m3 -78h0m4 160h0m3 -90h0m3 38h0m4 -32h0m3 100h0m3 -92h0m4 78h0m3 -73h0m3 6h0m4 -48h0m3 21h0m3 -60h0m4 86h0m3 -52h0m4 -5h0m3 90h0m3 -111h0m4 144h0m3 1h0m3 -25h0m4 -166h0m3 26h0m3 31h0m4 44h0m3 7h0m3 -1h0m4 26h0m3 -106h0m3 123h0m4 -59h0m3 -43h0m3 -4h0m4 89h0m3 -88h0m3 131h0m4 16h0m3 -77h0m4 15h0m3 -44h0m3 24h0m4 88h0m3 -69h0m3 32h0m4 -32h0m3 3h0m3 -44h0m4 86h0m3 -50h0m3 22h0m4 -1h0m3 7h0m3 12h0m4 -88h0m3 114h0m3 -65h0m4 -56h0m3 -16h0m3 153h0m4 18h0m3 -53h0m4 -106h0m3 122h0m3 -175h0m4 88h0m3 70h0m3 -87h0m4 33h0m3 37h0m3 -108h0m4 57h0m3 -77h0m3 13h0m4 -48h0m3 139h0m3 -13h0m4 -10h0m3 -30h0m3 45h0m4 -8h0m3 -48h0m3 134h0m4 -38h0m3 -28h0m4 -48h0m3 125h0m3 -84h0m4 40h0m3 -108h0m3 50h0m4 32h0m3 32h0m3 -78h0m4 24h0m3 18h0m3 -15h0m4 -50h0m3 29h0m3 -26h0m4 8h0m3 14h0m3 37h0m4 -58h0m3 -48h0m3 50h0m4 -135h0m3 92h0m4 28h0m3 11h0m3 -47h0m4 49h0m3 -17h0m3 14h0m4 141h0m3 -185h0m3 26h0m4 20h0m3 -66h0m3 61h0m4 -23h0m3 42h0m3 22h0m4 -75h0m3 6h0m3 27h0m4 28h0m3 -24h0m4 21h0m3 -104h0m3 178h0m4 -37h0m3 -83h0m3 124h0m4 -36h0m3 -209h0m3 183h0m4 8h0m3 -69h0m3 -64h0m4 138h0m3 26h0m3 -84h0m4 105h0m3 -93h0m3 55h0m4 -39h0m3 53h0m3 -75h0m4 -9h0m3 101h0m4 -9h0m3 -78h0m3 69h0m4 -62h0m3 27h0m3 43h0m4 50h0m3 -102h0m3 -28h0m4 73h0m3 24h0m3 -107h0m4 11h0m3 19h0m3 56h0m4 -2h0m3 89h0m3 -120h0m4 -54h0m3 -3h0m3 81h0m4 4h0m3 -18h0m4 -127h0m3 27h0m3 16h0m4 -7h0m3 93h0m3 -44h0m4 -69h0m3 92h0m3 -74h0m4 66h0m3 53h0m3 -55h0m4 -54h0m3 3h0m3 -63h0m4 48h0m3 72h0m3 -49h0m4 -8h0m3 6h0m3 24h0m4 6h0m3 -35h0m4 43h0m3 64h0m3 -60h0m4 -34h0m3 102h0m3 -26h0m4 -109h0m3 -21h0m3 12h0m4 78h0m3 -49h0m3 -108h0m4 157h0m3 -104h0m3 96h0m4 82h0m3 -102h0m3 26h0m4 7h0m3 19h0m3 -71h0m4 101h0m3 -103h0m4 73h0m3 39h0m3 -50h0m4 -31h0m3 53h0m3 -119h0m4 127h0m3 -79h0m3 57h0m4 -38h0m3 -15h0m3 10h0m4 37h0m3 -72h0m3 47h0m4 46h0m3 -111h0m3 -27h0m4 51h0m3 116h0m3 -89h0m4 3h0m3 41h0m4 -10h0m3 -3h0m3 31h0m4 -44h0m3 -13h0m3 -60h0m4 95h0m3 20h0m3 -1h0m4 -88h0m3 43h0m3 20h0m4 48h0m3 17h0m3 -4h0m4 -49h0m3 -17h0m3 6h0m4 23h0m3 -39h0m3 2h0m4 -63h0m3 159h0m4 -39h0m3 -34h0m3 -84h0m4 86h0m3 33h0m3 77h0m4 -37h0m3 -57h0m3 15h0m4 95h0m3 -191h0m3 3h0m4 16h0m3 31h0m3 15h0m4 -17h0m3 -45h0m3 115h0m4 -64h0m3 4h0m3 45h0m4 -36h0m3 -56h0m4 35h0m3 19h0m3 53h0m4 -103h0m3 2h0m3 -44h0m4 107h0m3 1h0m3 -30h0m4 38h0m3 -11h0m3 12h0m4 -2h0m3 47h0m3 72h0m4 -18h0m3 -36h0m3 -58h0m4 81h0m3 -14h0m3 -56h0m4 33h0m3 -79h0m4 -83h0m3 -4h0m3 112h0m4 -36h0m3 24h0m3 -36h0m4 -10h0m3 -26h0m3 26h0m4 7h0m3 -23h0m3 -29h0m4 -29h0m3 -56h0m3 33h0m4 26h0m3 95h0m3 -73h0m4 50h0m3 39h0m3 13h0m4 -92h0m3 69h0m4 38h0m3 -67h0m3 -15h0m4 -12h0m3 17h0m3 -82h0m4 94h0m3 -12h0m3 68h0m4 -84h0m3 4h0m3 -2h0m4 -40h0m3 57h0m3 38h0m4 -21h0m3 64h0m3 -68h0m4 -33h0m3 22h0m3 -43h0m4 54h0m3 -68h0m4 42h0m3 -7h0m3 79h0m4 -85h0m3 26h0m3 -18h0m4 79h0m3 -32h0m3 -43h0m4 -35h0m3 10h0m3 124h0m4 -105h0m3 51h0m3 10h0m4 -128h0m3 69h0m3 -17h0m4 -4h0m3 55h0m3 -81h0m4 85h0m3 -82h0m4 33h0m3 -26h0m3 -73h0m4 82h0m3 24h0m3 -63h0m4 38h0m3 119h0m3 -75h0m4 -33h0m3 14h0m3 -78h0m4 73h0m3 64h0m3 -39h0m4 41h0m3 -51h0m3 68h0m4 -78h0m3 31h0m3 57h0m4 -132h0m3 -24h0m4 48h0m3 42h0m3 -33h0m4 97h0m3 -99h0m3 102h0m4 30h0m3 -149h0m3 87h0m4 -27h0m3 -38h0m3 -14h0m4 61h0m3 -77h0m3 -32h0m4 92h0m3 -15h0m3 -67h0m4 -14h0m3 36h0m3 -68h0m4 49h0m3 90h0m4 15h0m3 -26h0m3 75h0m4 -6h0m3 -170h0m3 121h0m4 -75h0m3 29h0m3 81h0m4 -62h0m3 -33h0m3 2h0m4 -85h0m3 88h0m3 77h0m4 -1h0m3 12h0m3 48h0m4 19h0m3 -16h0m3 -74h0m4 -9h0m3 49h0m4 11h0m3 36h0m3 -52h0m4 45h0m3 -13h0m3 25h0m4 -9h0m3 33h0m3 -48h0m4 -90h0m3 138h0m3 -7h0m4 -56h0m3 14h0m3 20h0m4 -46h0m3 88h0m3 -40h0m4 80h0m3 -16h0m3 -38h0m4 40h0m3 -89h0m4 -6h0m3 117h0m3 -147h0m4 103h0m3 -115h0m3 75h0m4 -37h0m3 -10h0m3 68h0m4 1h0m3 -96h0m3 118h0m4 32h0m3 -62h0m3 78h0m4 -40h0m3 -22h0m3 -38h0m4 56h0m3 27h0m3 -63h0m4 -76h0m3 7h0m4 81h0m3 -51h0m3 12h0m4 121h0m3 -80h0m3 -94h0m4 32h0m3 56h0m3 -25h0m4 -85h0m3 93h0m3 -11h0m4 56h0m3 -127h0m3 30h0m4 85h0m3 -101h0m3 -1h0m4 33h0m3 33h0m3 -92h0m4 74h0m3 55h0m4 -65h0m3 -70h0m3 102h0m4 29h0m3 -90h0m3 59h0m4 36h0m3 -22h0m3 51h0m4 -109h0m3 60h0m3 -62h0m4 -13h0m3 78h0m3 77h0m4 -163h0m3 58h0m3 -23h0m4 79h0m3 -32h0m3 -69h0m4 179h0m3 -183h0m4 44h0m3 26h0m3 -9h0m4 -21h0m3 9h0m3 -43h0m4 -8h0m3 14h0m3 59h0m4 -5h0m3 -24h0m3 60h0m4 -108h0m3 32h0m3 42h0m4 29h0m3 -138h0m3 -33h0m4 4h0m3 163h0m3 -53h0m4 -7h0m3 -46h0m4 29h0m3 67h0m3 -7h0m4 -117h0m3 85h0m3 -77h0m4 61h0m3 27h0m3 -77h0m4 104h0m3 23h0m3 -40h0m4 -102h0m3 136h0m3 21h0m4 -54h0m3 24h0m3 -33h0m4 55h0m3 -92h0m3 91h0m4 -42h0m3 -75h0m4 43h0m3 30h0m3 -36h0m4 86h0m3 -63h0m3 -72h0m4 121h0m3 -83h0m3 61h0m4 8h0m3 -117h0m3 66h0m4 -22h0m3 79h0m3 -26h0m4 4h0m3 -1h0m3 -21h0m4 -5h0m3 61h0m3 -58h0m4 28h0m3 -55h0m4 42h0m3 -14h0m3 -72h0m4 17h0m3 -25h0m3 19h0m4 55h0m3 -4h0m3 58h0m4 -121h0m3 104h0m3 -49h0m4 -19h0m3 39h0m3 -3h0m4 -56h0m3 138h0m3 -109h0m4 65h0m3 14h0m4 -6h0m3 -42h0m3 102h0m4 -215h0m3 99h0m3 25h0m4 -107h0m3 121h0m3 -86h0m4 17h0m3 -21h0m3 7h0m4 -19h0m3 92h0m3 19h0m4 32h0m3 -68h0m3 55h0m4 44h0m3 -78h0m3 -113h0m4 -4h0m3 158h0m4 -70h0m3 -67h0m3 28h0m4 30h0m3 24h0m3 10h0m4 9h0m3 43h0m3 -114h0m4 -41h0m3 128h0m3 -78h0m4 118h0m3 -141h0m3 -13h0m4 45h0m3 58h0m3 -61h0m4 -19h0m3 99h0m3 -3h0m4 -55h0m3 23h0m4 -26h0m3 42h0m3 28h0m4 -43h0m3 -78h0m3 154h0m4 -138h0m3 69h0m3 24h0m4 -92h0m3 96h0m3 -6h0m4 -88h0m3 94h0m3 -86h0m4 6h0m3 -6h0m3 -4h0m4 21h0m3 70h0m3 -52h0m4 7h0m3 15h0m4 -52h0m3 -57h0m3 -18h0m4 42h0m3 62h0m3 19h0m4 -75h0m3 -63h0m3 54h0m4 -35h0m3 54h0m3 72h0m4 0h0m3 -109h0m3 4h0m4 -1h0m3 89h0m3 33h0m4 -59h0m3 12h0m3 -62h0m4 -25h0m3 49h0m4 116h0m3 -93h0m3 -1h0m4 17h0m3 11h0m3 7h0m4 -64h0m3 5h0m3 207h0m4 -145h0m3 -58h0m3 -31h0m4 29h0m3 26h0m3 61h0m4 -85h0m3 6h0m3 18h0m4 102h0m3 -142h0m3 190h0m4 -24h0m3 -16h0m4 -96h0m3 109h0m3 -70h0m4 -41h0m3 -31h0m3 79h0m4 7h0m3 109h0m3 -76h0m4 88h0m3 -106h0m3 -12h0m4 100h0m3 47h0m3 -49h0m4 28h0m3 -65h0m3 126h0m4 15h0m3 -141h0m3 -24h0m4 25h0m3 36h0m4 -94h0m3 -57h0m3 84h0m4 -42h0m3 22h0m3 -18h0m4 -144h0m3 135h0m3 45h0m4 -79h0m3 53h0m3 12h0m4 -37h0m3 70h0m3 -39h0m4 89h0m3 -123h0m3 3h0m4 -25h0m3 38h0m3 -37h0m4 25h0m3 -88h0m4 81h0m3 -27h0m3 111h0m4 -55h0m3 -6h0m3 24h0m4 -131h0m3 33h0m3 113h0m4 -39h0m3 17h0m3 40h0m4 7h0m3 -82h0m3 -41h0m4 91h0m3 -19h0m3 20h0m4 147h0m3 -176h0m3 99h0m4 2h0m3 -101h0m4 50h0m3 -14h0m3 12h0m4 115h0m3 -197h0m3 117h0m4 -147h0m3 -31h0m3 58h0m4 92h0m3 -50h0m3 38h0m4 -26h0m3 -10h0m3 16h0m4 -58h0m3 121h0m3 -63h0m4 -11h0m3 28h0m3 104h0m4 -128h0m3 45h0m4 -30h0m3 22h0m3 3h0m4 -64h0m3 85h0m3 -76h0m4 -5h0m3 106h0m3 0h0m4 -16h0m3 -113h0m3 37h0m4 58h0m3 -53h0m3 117h0m4 -114h0m3 15h0m3 -78h0m4 103h0m3 -1h0m3 -77h0m4 21h0m3 5h0m4 -33h0m3 -7h0m3 66h0m4 -25h0m3 -97h0m3 104h0m4 34h0m3 -135h0m3 119h0m4 79h0m3 -69h0m3 -30h0m4 -70h0m3 129h0m3 -119h0m4 -62h0m3 47h0m3 -12h0m4 85h0m3 -6h0m3 -13h0m4 -18h0m3 71h0m4 -41h0m3 68h0m3 -167h0m4 27h0m3 -31h0m3 -29h0m4 45h0m3 51h0m3 -48h0m4 16h0m3 131h0m3 -60h0m4 -89h0m3 31h0m3 13h0m4 -55h0m3 90h0m3 -33h0m4 54h0m3 -99h0m3 17h0m4 65h0m3 -49h0m4 27h0m3 -38h0m3 -3h0m4 -29h0m3 22h0m3 109h0m4 -92h0m3 -19h0m3 -63h0m4 -28h0m3 13h0m3 69h0m4 -55h0m3 31h0m3 -57h0m4 87h0m3 -91h0m3 44h0m4 33h0m3 17h0m3 -32h0m4 8h0m3 167h0m4 -181h0m3 14h0m3 -21h0m4 31h0m3 -94h0m3 20h0m4 111h0m3 -101h0m3 -1h0m4 -9h0m3 -45h0m3 39h0m4 51h0m3 74h0m3 -124h0m4 -10h0m3 31h0m3 12h0m4 -30h0m3 -29h0m3 28h0m4 83h0m3 26h0m4 -170h0m3 81h0m3 -12h0m4 106h0m3 -121h0m3 95h0m4 -54h0m3 -68h0m3 139h0m4 -10h0m3 -202h0m3 168h0m4 51h0m3 -63h0m3 -1h0m4 16h0m3 43h0m3 -44h0m4 66h0m3 -46h0m3 31h0m4 -28h0m3 63h0m4 -104h0m3 14h0m3 -11h0m4 158h0m3 -59h0m3 -61h0m4 44h0m3 12h0m3 -58h0m4 40h0m3 -60h0m3 90h0m4 -58h0m3 31h0m3 48h0m4 -56h0m3 16h0m3 81h0m4 -46h0m3 7h0m3 -38h0m4 -1h0m3 -18h0m4 -1h0m3 19h0m3 20h0m4 10h0m3 46h0m3 -47h0m4 75h0m3 -97h0m3 -31h0m4 80h0m3 -58h0m3 51h0m4 -30h0m3 -26h0m3 85h0m4 -49h0m3 36h0m3 -92h0m4 111h0m3 8h0m3 -9h0m4 -44h0m3 -58h0m4 128h0m3 -97h0m3 -25h0m4 11h0m3 -65h0m3 82h0m4 15h0m3 -26h0m3 -25h0m4 22h0m3 0h0m3 -40h0m4 37h0m3 -70h0m3 128h0m4 -85h0m3 89h0m3 1h0m4 -75h0m3 -20h0m3 69h0m4 29h0m3 -41h0m4 32h0m3 -68h0m3 92h0m4 40h0m3 -92h0m3 -80h0m4 107h0m3 -37h0m3 -39h0m4 -45h0m3 87h0m3 43h0m4 -107h0m3 5h0m3 33h0m4 16h0m3 -44h0m3 50h0m4 65h0m3 -88h0m3 15h0m4 69h0m3 28h0m4 -29h0m3 23h0m3 -31h0m4 -37h0m3 -33h0m3 35h0m4 54h0m3 -23h0m3 -111h0m4 97h0m3 -12h0m3 30h0m4 -1h0m3 -6h0m3 -120h0m4 63h0m3 -52h0m3 6h0m4 35h0m3 -17h0m4 88h0m3 -68h0m3 91h0m4 34h0m3 -12h0m3 3h0m4 -49h0m3 -70h0m3 80h0m4 85h0m3 -132h0m3 -65h0m4 9h0m3 -65h0m3 91h0m4 -30h0m3 76h0m3 -5h0m4 -71h0m3 10h0m3 -6h0m4 50h0m3 -32h0m4 55h0m3 3h0m3 1h0m4 -48h0m3 128h0m3 -34h0m4 -11h0m3 -101h0m3 -21h0m4 21h0m3 10h0m3 52h0m4 27h0m3 -36h0m3 -33h0m4 122h0m3 -135h0m3 42h0m4 39h0m3 19h0m3 -32h0m4 13h0m3 -39h0m4 -1h0m3 64h0m3 8h0m4 5h0m3 34h0m3 -32h0m4 37h0m3 -10h0m3 8h0m4 -41h0m3 -45h0m3 104h0m4 -58h0m3 11h0m3 -72h0m4 69h0m3 -74h0m3 -4h0m4 6h0m3 115h0m3 -156h0m4 159h0m3 -93h0m4 62h0m3 -70h0m3 0h0m4 79h0m3 -31h0m3 -7h0m4 66h0m3 -65h0m3 80h0m4 -219h0m3 104h0m3 14h0m4 142h0m3 -96h0m3 70h0m4 64h0m3 -177h0m3 -20h0m4 4h0m3 1h0m3 60h0m4 -49h0m3 -15h0m4 -101h0m3 123h0m3 122h0m4 37h0m3 -103h0m3 -33h0m4 -30h0m3 41h0m3 -83h0m4 91h0m3 -53h0m3 52h0m4 53h0m3 -58h0m3 -76h0m4 23h0m3 14h0m3 8h0m4 9h0m3 -61h0m3 7h0m4 10h0m3 32h0m4 -78h0m3 1h0m3 103h0m4 -29h0m3 -35h0m3 69h0m4 -13h0m3 1h0m3 50h0m4 -31h0m3 -72h0m3 92h0m4 34h0m3 -40h0m3 -12h0m4 30h0m3 -119h0m3 101h0m4 -104h0m3 139h0m3 -11h0m4 -45h0m3 39h0m4 -66h0m3 49h0m3 -87h0m4 35h0m3 -47h0m3 201h0m4 -46h0m3 -67h0m3 38h0m4 -87h0m3 101h0m3 -62h0m4 33h0m3 0h0m3 -118h0m4 -17h0m3 158h0m3 -79h0m4 34h0m3 58h0m3 -170h0m4 -9h0m3 121h0m4 33h0m3 -58h0m3 11h0m4 -10h0m3 96h0m3 -35h0m4 -104h0m3 35h0m3 35h0m4 -50h0m3 82h0m3 -124h0m4 87h0m3 -29h0m3 -40h0m4 130h0m3 -158h0m3 98h0m4 7h0m3 0h0m3 -81h0m4 160h0m3 -25h0m4 -20h0m3 -49h0m3 77h0m4 -32h0m3 -108h0m3 102h0m4 10h0m3 -37h0m3 36h0m4 12h0m3 -51h0m3 -25h0m4 -64h0m3 41h0m3 60h0m4 37h0m3 33h0m3 -60h0m4 54h0m3 -27h0m3 38h0m4 -23h0m3 -78h0m4 -4h0m3 66h0m3 -37h0m4 85h0m3 -147h0m3 136h0m4 78h0m3 -146h0m3 -15h0m4 78h0m3 66h0m3 -61h0m4 11h0m3 -48h0m3 8h0m4 4h0m3 -79h0m3 56h0m4 -107h0m3 104h0m3 -78h0m4 118h0m3 -160h0m4 116h0m3 13h0m3 -83h0m4 69h0m3 -29h0m3 19h0m4 51h0m3 -89h0m3 12h0m4 -5h0m3 64h0m3 88h0m4 -131h0m3 -31h0m3 81h0m4 8h0m3 16h0m3 -54h0m4 5h0m3 -81h0m3 -2h0m4 -32h0m3 178h0m4 -78h0m3 -36h0m3 75h0m4 -85h0m3 58h0m3 -60h0m4 37h0m3 51h0m3 -24h0m4 -42h0m3 111h0m3 -109h0m4 -13h0m3 170h0m3 -172h0m4 1h0m3 -1h0m3 -83h0m4 16h0m3 68h0m3 -13h0m4 76h0m3 -7h0m4 -8h0m3 -18h0m3 33h0m4 18h0m3 -64h0m3 74h0m4 -84h0m3 -7h0m3 102h0m4 -46h0m3 -30h0m3 24h0m4 -80h0m3 38h0m3 -92h0m4 122h0m3 -52h0m3 -28h0m4 0h0m3 38h0m3 -31h0m4 88h0m3 -55h0m4 36h0m3 -37h0m3 -61h0m4 54h0m3 58h0m3 68h0m4 -82h0m3 47h0m3 -17h0m4 -11h0m3 21h0m3 -96h0m4 43h0m3 -25h0m3 95h0m4 -93h0m3 0h0m3 104h0m4 0h0m3 -132h0m3 65h0m4 -154h0m3 128h0m4 39h0m3 -62h0m3 3h0m4 -99h0m3 79h0m3 36h0m4 -9h0m3 29h0m3 -38h0m4 -1h0m3 -15h0m3 129h0m4 -33h0m3 -76h0m3 47h0m4 -19h0m3 -64h0m3 48h0m4 40h0m3 -74h0m3 43h0m4 85h0m3 -226h0m4 76h0m3 57h0m3 -33h0m4 41h0m3 -7h0m3 13h0m4 -8h0m3 -17h0m3 -14h0m4 -14h0m3 28h0m3 62h0m4 -48h0m3 134h0m3 -91h0m4 -21h0m3 16h0m3 41h0m4 32h0m3 -60h0m3 27h0m4 -150h0m3 78h0m4 38h0m3 -4h0m3 33h0m4 -31h0m3 52h0m3 -104h0m4 60h0m3 -81h0m3 88h0m4 -104h0m3 -21h0m3 90h0m4 -30h0m3 83h0m3 41h0m4 -76h0m3 -59h0m3 77h0m4 -89h0m3 107h0m3 -131h0m4 75h0m3 21h0m4 -42h0m3 20h0m3 -27h0m4 104h0m3 -78h0m3 -20h0m4 -30h0m3 58h0m3 16h0m4 29h0m3 -15h0m3 -145h0m4 109h0m3 -36h0m3 -22h0m4 124h0m3 -110h0m3 -39h0m4 65h0m3 58h0m3 -73h0m4 28h0m3 27h0m4 84h0m3 -169h0m3 54h0m4 -54h0m3 65h0m3 10h0m4 10h0m3 26h0m3 -66h0m4 -43h0m3 54h0m3 28h0m4 -90h0m3 -14h0m3 66h0m4 -43h0m3 -45h0m3 112h0m4 -49h0m3 -12h0m3 -18h0m4 92h0m3 -45h0m4 -78h0m3 -19h0m3 82h0m4 50h0m3 -19h0m3 -74h0m4 9h0m3 51h0m3 -88h0m4 14h0m3 105h0m3 -41h0m4 -74h0m3 61h0m3 -96h0m4 32h0m3 -18h0m3 8h0m4 -83h0m3 54h0m3 104h0m4 -105h0m3 -10h0m4 75h0m3 -104h0m3 -19h0m4 124h0m3 -74h0m3 -77h0m4 22h0m3 145h0m3 -29h0m4 -53h0m3 -58h0m3 -59h0m4 120h0m3 -89h0m3 151h0m4 -19h0m3 -111h0m3 92h0m4 7h0m3 9h0m3 56h0m4 -69h0m3 -70h0m4 -131h0m3 104h0m3 15h0m4 99h0m3 6h0m3 -43h0m4 9h0m3 69h0m3 23h0m4 -39h0m3 33h0m3 -15h0m4 -201h0m3 77h0m3 24h0m4 1h0m3 133h0m3 -196h0m4 28h0m3 25h0m4 39h0m3 28h0m3 1h0m4 -21h0m3 36h0m3 19h0m4 -60h0m3 10h0m3 -28h0m4 37h0m3 51h0m3 -55h0m4 40h0m3 -13h0m3 56h0m4 -144h0m3 -15h0m3 143h0m4 -95h0m3 42h0m3 4h0m4 3h0m3 -45h0m4 80h0m3 -6h0m3 17h0m4 -12h0m3 -82h0m3 53h0m4 37h0m3 -45h0m3 16h0m4 -49h0m3 43h0m3 95h0m4 -114h0m3 -4h0m3 -118h0m4 96h0m3 53h0m3 -76h0m4 -16h0m3 8h0m3 -8h0m4 67h0m3 -3h0m4 -84h0m3 -70h0m3 175h0m4 -117h0m3 66h0m3 22h0m4 45h0m3 -24h0m3 30h0m4 -56h0m3 52h0m3 -59h0m4 45h0m3 69h0m3 -15h0m4 -75h0m3 -11h0m3 73h0m4 -45h0m3 -7h0m3 26h0m4 47h0m3 -40h0m4 -61h0m3 -53h0m3 42h0m4 17h0m3 -2h0m3 41h0m4 22h0m3 -124h0m3 113h0m4 8h0m3 55h0m3 6h0m4 -137h0m3 0h0m3 34h0m4 -2h0m3 87h0m3 -4h0m4 -72h0m3 -30h0m3 -3h0m4 16h0m3 46h0m4 30h0m3 -16h0m3 -21h0m4 27h0m3 6h0m3 -75h0m4 -35h0m3 -22h0m3 139h0m4 -146h0m3 137h0m3 -82h0m4 -51h0m3 -3h0m3 17h0m4 21h0m3 -19h0m3 -35h0m4 -44h0m3 110h0m3 -48h0m4 33h0m3 -66h0m4 66h0m3 81h0m3 -41h0m4 -76h0m3 53h0m3 18h0m4 94h0m3 -128h0m3 -6h0m4 42h0m3 -99h0m3 80h0m4 23h0m3 -27h0m3 22h0m4 -71h0m3 3h0m3 94h0m4 -75h0m3 -44h0m3 43h0m4 96h0m3 -55h0m4 -8h0m3 50h0m3 0h0m4 -20h0m3 1h0m3 -56h0m4 41h0m3 9h0m3 7h0m4 -35h0m3 1h0m3 -8h0m4 -54h0m3 138h0m3 -62h0m4 -2h0m3 47h0m3 -11h0m4 31h0m3 -81h0m3 49h0m4 20h0m3 -75h0m4 126h0m3 -81h0m3 -23h0m4 6h0m3 31h0m3 -64h0m4 25h0m3 61h0m3 -37h0m4 -32h0m3 12h0m3 12h0m4 -109h0m3 97h0m3 34h0m4 46h0m3 -54h0m3 -38h0m4 -46h0m3 71h0m3 19h0m4 8h0m3 -33h0m4 158h0m3 -153h0m3 30h0m4 -89h0m3 60h0m3 50h0m4 -22h0m3 62h0m3 -116h0m4 58h0m3 -64h0m3 99h0m4 -69h0m3 7h0m3 52h0m4 35h0m3 -47h0m3 7h0m4 -30h0m3 -33h0m3 17h0m4 2h0m3 34h0m4 91h0m3 -182h0m3 -7h0m4 109h0m3 15h0m3 19h0m4 48h0m3 -59h0m3 -86h0m4 -4h0m3 108h0" stroke="#ed1c24" stroke-width="43" stroke-linecap="round"/></g>
<g transform="scale(.1)" fill="none"><path d="M0 0m8930 2759h40m-20 0V2932m-20 0h40m-30 1h40m-20 0V3119m-20 0h40m-30 -367h40m-20 0V2930m-20 0h40m-30 -196h40m-20 0V2970m-20 0h40m-30 -189h40m-20 0V2986m-20 0h40m-30 -241h40m-20 0V2943m-20 0h40m-30 -121h40m-20 0V3039m-20 0h40m-30 -315h40m-20 0V2902m-20 0h40m-30 -156h40m-20 0V2971m-20 0h40m-30 -271h40m-20 0V2918m-20 0h40m-30 -92h40m-20 0V3038m-20 0h40m-30 -363h40m-20 0V2913m-20 0h40m-29 -193h40m-20 0V2944m-20 0h40m-30 -248h40m-20 0V2919m-20 0h40m-30 -174h40m-20 0V2965m-20 0h40m-30 -180h40m-20 0V2972m-20 0h40m-30 -204h40m-20 0V2995m-20 0h40m-30 -161h40m-20 0V3039m-20 0h40m-30 -239h40m-20 0V2973m-20 0h40m-30 -84h40m-20 0V3089m-20 0h40m-30 -285h40m-20 0V3017m-20 0h40m-30 -179h40m-20 0V3017m-20 0h40m-30 -214h40m-20 0V3029m-20 0h40m-30 -176h40m-20 0V3057m-20 0h40m-30 -257h40m-20 0V3002m-20 0h40m-30 -113h40m-20 0V3085m-20 0h40m-30 -275h40m-20 0V3035m-20 0h40m-30 -312h40m-20 0V2932m-20 0h40m-30 -97h40m-20 0V3024m-20 0h40m-30 -218h40m-20 0V3037m-20 0h40m-30 -330h40m-20 0V2929m-20 0h40m-30 -101h40m-20 0V3024m-20 0h40m-30 -114h40m-20 0V3076m-20 0h40m-30 -168h40m-20 0V3120m-20 0h40m-30 -201h40m-20 0V3124m-20 0h40m-29 -305h40m-20 0V3007m-20 0h40m-30 -161h40m-20 0V3049m-20 0h40m-30 -222h40m-20 0V3042m-20 0h40m-30 -282h40m-20 0V2959m-20 0h40m-30 -168h40m-20 0V2987m-20 0h40m-30 -133h40m-20 0V3053m-20 0h40m-30 -298h40m-20 0V2991m-20 0h40m-30 -161h40m-20 0V3048m-20 0h40m-30 -308h40m-20 0V2958m-20 0h40m-30 -210h40m-20 0V2957m-20 0h40m-30 -204h40m-20 0V2971m-20 0h40m-30 -136h40m-20 0V3027m-20 0h40m-30 -234h40m-20 0V2984m-20 0h40m-30 -72h40m-20 0V3120m-20 0h40m-30 -304h40m-20 0V3021m-20 0h40m-30 -298h40m-20 0V2979m-20 0h40m-30 -222h40m-20 0V2983m-20 0h40m-30 -193h40m-20 0V2996m-20 0h40m-30 -261h40m-20 0V2931m-20 0h40m-30 -166h40m-20 0V2978m-20 0h40m-30 -239h40m-20 0V2947m-20 0h40m-30 -227h40m-20 0V2920m-20 0h40m-30 -119h40m-20 0V2988m-20 0h40m-29 -154h40m-20 0V3047m-20 0h40m-30 -284h40m-20 0V2995m-20 0h40m-30 -256h40m-20 0V2954m-20 0h40m-30 -179h40m-20 0V2953m-20 0h40m-30 -116h40m-20 0V3019m-20 0h40m-30 -300h40m-20 0V2916m-20 0h40m-30 -218h40m-20 0V2884m-20 0h40m-30 -24h40m-20 0V3039m-20 0h40m-30 -198h40m-20 0V3049m-20 0h40m-30 -152h40m-20 0V3089m-20 0h40m-30 -212h40m-20 0V3110m-20 0h40m-30 -264h40m-20 0V3039m-20 0h40m-30 -237h40m-20 0V3021m-20 0h40m-30 -177h40m-20 0V3060m-20 0h40m-30 -176h40m-20 0V3072m-20 0h40m-30 -214h40m-20 0V3066m-20 0h40m-30 -332h40m-20 0V2963m-20 0h40m-30 -164h40m-20 0V2959m-20 0h40m-30 -205h40m-20 0V2929m-20 0h40m-30 -54h40m-20 0V3050m-20 0h40m-30 -310h40m-20 0V2967m-20 0h40m-30 -168h40m-20 0V2977m-20 0h40m-29 -112h40m-20 0V3060m-20 0h40m-30 -120h40m-20 0V3176m-20 0h40m-30 -415h40m-20 0V2936m-20 0h40m-30 -32h40m-20 0V3079m-20 0h40m-30 -299h40m-20 0V2962m-20 0h40m-30 -182h40m-20 0V3005m-20 0h40m-30 -288h40m-20 0V2920m-20 0h40m-30 -149h40m-20 0V2992m-20 0h40m-30 -169h40m-20 0V3032m-20 0h40m-30 -138h40m-20 0V3137m-20 0h40m-30 -355h40m-20 0V3002m-20 0h40m-30 -234h40m-20 0V2990m-20 0h40m-30 -136h40m-20 0V3100m-20 0h40m-30 -248h40m-20 0V3023m-20 0h40m-30 -230h40m-20 0V2991m-20 0h40m-30 -232h40m-20 0V2945m-20 0h40m-30 -149h40m-20 0V2992m-20 0h40m-30 -257h40m-20 0V2943m-20 0h40m-30 -179h40m-20 0V2986m-20 0h40m-30 -121h40m-20 0V3078m-20 0h40m-30 -270h40m-20 0V3021m-20 0h40m-30 -208h40m-20 0V3023m-20 0h40m-30 -157h40m-20 0V3021m-20 0h40m-29 -151h40m-20 0V3038m-20 0h40m-30 -219h40m-20 0V3053m-20 0h40m-30 -250h40m-20 0V3027m-20 0h40m-30 -180h40m-20 0V3062m-20 0h40m-30 -246h40m-20 0V3023m-20 0h40m-30 -168h40m-20 0V3050m-20 0h40m-30 -180h40m-20 0V3081m-20 0h40m-30 -265h40m-20 0V3012m-20 0h40m-30 -101h40m-20 0V3097m-20 0h40m-30 -187h40m-20 0V3109m-20 0h40m-30 -269h40m-20 0V3047m-20 0h40m-30 -286h40m-20 0V2964m-20 0h40m-30 -152h40m-20 0V3058m-20 0h40m-30 -231h40m-20 0V3051m-20 0h40m-30 -171h40m-20 0V3079m-20 0h40m-30 -245h40m-20 0V3030m-20 0h40m-30 -219h40m-20 0V3015m-20 0h40m-30 -209h40m-20 0V2996m-20 0h40m-30 -251h40m-20 0V2977m-20 0h40m-30 -132h40m-20 0V3092m-20 0h40m-30 -174h40m-20 0V3113m-20 0h40m-30 -270h40m-20 0V3030m-20 0h40m-30 -219h40m-20 0V3013m-20 0h40m-29 -228h40m-20 0V2987m-20 0h40m-30 -123h40m-20 0V3053m-20 0h40m-30 -222h40m-20 0V3028m-20 0h40m-30 -232h40m-20 0V3003m-20 0h40m-30 -150h40m-20 0V3047m-20 0h40m-30 -122h40m-20 0V3103m-20 0h40m-30 -343h40m-20 0V2969m-20 0h40m-30 -288h40m-20 0V2872m-20 0h40m-30 -28h40m-20 0V3017m-20 0h40m-30 -148h40m-20 0V3065m-20 0h40m-30 -235h40m-20 0V3019m-20 0h40m-30 -237h40m-20 0V2993m-20 0h40m-30 -162h40m-20 0V3046m-20 0h40m-30 -164h40m-20 0V3104m-20 0h40m-30 -381h40m-20 0V2948m-20 0h40m-30 -109h40m-20 0V3007m-20 0h40m-30 -159h40m-20 0V3042m-20 0h40m-30 -257h40m-20 0V2981m-20 0h40m-30 -198h40m-20 0V2988m-20 0h40m-30 -288h40m-20 0V2887m-20 0h40m-30 -33h40m-20 0V3069m-20 0h40m-30 -294h40m-20 0V2983m-20 0h40m-30 -150h40m-20 0V3092m-20 0h40m-29 -301h40m-20 0V2974m-20 0h40m-30 -145h40m-20 0V3025m-20 0h40m-30 -307h40m-20 0V2930m-20 0h40m-30 -95h40m-20 0V3007m-20 0h40m-30 -199h40m-20 0V3022m-20 0h40m-30 -198h40m-20 0V3048m-20 0h40m-30 -178h40m-20 0V3031m-20 0h40m-30 -144h40m-20 0V3077m-20 0h40m-30 -182h40m-20 0V3091m-20 0h40m-30 -238h40m-20 0V3046m-20 0h40m-30 -224h40m-20 0V3017m-20 0h40m-30 -249h40m-20 0V3015m-20 0h40m-30 -224h40m-20 0V2953m-20 0h40m-30 -154h40m-20 0V2963m-20 0h40m-30 -101h40m-20 0V3055m-20 0h40m-30 -303h40m-20 0V2959m-20 0h40m-30 -181h40m-20 0V3002m-20 0h40m-30 -200h40m-20 0V2998m-20 0h40m-30 -183h40m-20 0V3020m-20 0h40m-30 -242h40m-20 0V2934m-20 0h40m-30 -75h40m-20 0V3053m-20 0h40m-30 -199h40m-20 0V3075m-20 0h40m-30 -399h40m-20 0V2912m-20 0h40m-29 -134h40m-20 0V2961m-20 0h40m-30 -70h40m-20 0V3091m-20 0h40m-30 -268h40m-20 0V3049m-20 0h40m-30 -234h40m-20 0V3004m-20 0h40m-30 -192h40m-20 0V3014m-20 0h40m-30 -148h40m-20 0V3046m-20 0h40m-30 -256h40m-20 0V3013m-20 0h40m-30 -268h40m-20 0V2921m-20 0h40m-30 -189h40m-20 0V2973m-20 0h40m-30 -238h40m-20 0V2947m-20 0h40m-30 -163h40m-20 0V2986m-20 0h40m-30 -254h40m-20 0V2916m-20 0h40m-30 -24h40m-20 0V3099m-20 0h40m-30 -304h40m-20 0V2994m-20 0h40m-30 -77h40m-20 0V3143m-20 0h40m-30 -232h40m-20 0V3112m-20 0h40m-30 -376h40m-20 0V2938m-20 0h40m-30 -128h40m-20 0V3001m-20 0h40m-30 -166h40m-20 0V3045m-20 0h40m-30 -139h40m-20 0V3126m-20 0h40m-30 -403h40m-20 0V2925m-20 0h40m-30 -73h40m-20 0V3026m-20 0h40m-30 -204h40m-20 0V3012m-20 0h40m-29 -200h40m-20 0V3038m-20 0h40m-30 -259h40m-20 0V2971m-20 0h40m-30 -203h40m-20 0V2991m-20 0h40m-30 -132h40m-20 0V3066m-20 0h40m-30 -264h40m-20 0V3016m-20 0h40m-30 -154h40m-20 0V3038m-20 0h40m-30 -162h40m-20 0V3050m-20 0h40m-30 -199h40m-20 0V3050m-20 0h40m-30 -239h40m-20 0V3006m-20 0h40m-30 -220h40m-20 0V2990m-20 0h40m-30 -252h40m-20 0V2896m-20 0h40m-30 -71h40m-20 0V2992m-20 0h40m-30 -71h40m-20 0V3109m-20 0h40m-30 -276h40m-20 0V3023m-20 0h40m-30 -128h40m-20 0V3105m-20 0h40m-30 -200h40m-20 0V3081m-20 0h40m-30 -265h40m-20 0V2997m-20 0h40m-30 -105h40m-20 0V3073m-20 0h40m-30 -153h40m-20 0V3086m-20 0h40m-30 -159h40m-20 0V3106m-20 0h40m-30 -221h40m-20 0V3061m-20 0h40m-30 -255h40m-20 0V2978m-20 0h40m-30 -56h40m-20 0V3131m-20 0h40m-29 -302h40m-20 0V3028m-20 0h40m-30 -239h40m-20 0V2995m-20 0h40m-30 -242h40m-20 0V2951m-20 0h40m-30 -39h40m-20 0V3122m-20 0h40m-30 -199h40m-20 0V3118m-20 0h40m-30 -193h40m-20 0V3164m-20 0h40m-30 -326h40m-20 0V3019m-20 0h40m-30 -141h40m-20 0V3057m-20 0h40m-30 -138h40m-20 0V3161m-20 0h40m-30 -324h40m-20 0V3038m-20 0h40m-30 -277h40m-20 0V2915m-20 0h40m-30 -83h40m-20 0V3033m-20 0h40m-30 -180h40m-20 0V3069m-20 0h40m-30 -217h40m-20 0V3017m-20 0h40m-30 -174h40m-20 0V3057m-20 0h40m-30 -300h40m-20 0V2991m-20 0h40m-30 -123h40m-20 0V3086m-20 0h40m-30 -276h40m-20 0V3048m-20 0h40m-30 -184h40m-20 0V3031m-20 0h40m-30 -226h40m-20 0V3018m-20 0h40m-30 -217h40m-20 0V3014m-20 0h40m-30 -215h40m-20 0V2964m-20 0h40m-30 -159h40m-20 0V3009m-20 0h40m-29 -230h40m-20 0V2963m-20 0h40m-30 -153h40m-20 0V3003m-20 0h40m-30 -89h40m-20 0V3094m-20 0h40m-30 -271h40m-20 0V3018m-20 0h40m-30 -127h40m-20 0V3082m-20 0h40m-30 -205h40m-20 0V3038m-20 0h40m-30 -121h40m-20 0V3126m-20 0h40m-30 -177h40m-20 0V3139m-20 0h40m-30 -186h40m-20 0V3161m-20 0h40m-30 -359h40m-20 0V3043m-20 0h40m-30 -49h40m-20 0V3170m-20 0h40m-30 -229h40m-20 0V3121m-20 0h40m-30 -241h40m-20 0V3062m-20 0h40m-30 -136h40m-20 0V3134m-20 0h40m-30 -212h40m-20 0V3138m-20 0h40m-30 -207h40m-20 0V3143m-20 0h40m-30 -114h40m-20 0V3169m-20 0h40m-30 -193h40m-20 0V3164m-20 0h40m-30 -275h40m-20 0V3089m-20 0h40m-30 -155h40m-20 0V3152m-20 0h40m-30 -173h40m-20 0V3184m-20 0h40m-30 -234h40m-20 0V3159m-20 0h40m-29 -222h40m-20 0V3122m-20 0h40m-30 -69h40m-20 0V3241m-20 0h40m-30 -269h40m-20 0V3181m-20 0h40m-30 -238h40m-20 0V3155m-20 0h40m-30 -111h40m-20 0V3226m-20 0h40m-30 -257h40m-20 0V3172m-20 0h40m-30 -209h40m-20 0V3143m-20 0h40m-30 -284h40m-20 0V3039m-20 0h40m-30 -44h40m-20 0V3290m-20 0h40m-30 -431h40m-20 0V3054m-20 0h40m-30 -137h40m-20 0V3126m-20 0h40m-30 -171h40m-20 0V3176m-20 0h40m-30 -229h40m-20 0V3175m-20 0h40m-30 -317h40m-20 0V3084m-20 0h40m-30 -269h40m-20 0V3030m-20 0h40m-30 -117h40m-20 0V3169m-20 0h40m-30 -170h40m-20 0V3228m-20 0h40m-30 -194h40m-20 0V3228m-20 0h40m-30 -291h40m-20 0V3159m-20 0h40m-30 -218h40m-20 0V3151m-20 0h40m-30 -214h40m-20 0V3171m-20 0h40m-30 -213h40m-20 0V3103m-20 0h40m-30 -182h40m-20 0V3157m-20 0h40m-29 -289h40m-20 0V3063m-20 0h40m-30 -187h40m-20 0V3091m-20 0h40m-30 -135h40m-20 0V3125m-20 0h40m-30 -217h40m-20 0V3104m-20 0h40m-30 -147h40m-20 0V3117m-20 0h40m-30 -158h40m-20 0V3167m-20 0h40m-30 -159h40m-20 0V3199m-20 0h40m-30 -289h40m-20 0V3123m-20 0h40m-30 -130h40m-20 0V3215m-20 0h40m-30 -199h40m-20 0V3205m-20 0h40m-30 -189h40m-20 0V3218m-20 0h40m-30 -287h40m-20 0V3156m-20 0h40m-30 -157h40m-20 0V3202m-20 0h40m-30 -208h40m-20 0V3204m-20 0h40m-30 -267h40m-20 0V3149m-20 0h40m-30 -169h40m-20 0V3195m-20 0h40m-30 -318h40m-20 0V3100m-20 0h40m-30 -90h40m-20 0V3205m-20 0h40m-30 -191h40m-20 0V3192m-20 0h40m-30 -269h40m-20 0V3133m-20 0h40m-30 -70h40m-20 0V3264m-20 0h40m-30 -235h40m-20 0V3240m-20 0h40m-30 -261h40m-20 0V3148m-20 0h40m-29 -229h40m-20 0V3099m-20 0h40m-30 -164h40m-20 0V3138m-20 0h40m-30 -314h40m-20 0V3007m-20 0h40m-30 -86h40m-20 0V3089m-20 0h40m-30 -173h40m-20 0V3106m-20 0h40m-30 -199h40m-20 0V3082m-20 0h40m-30 -169h40m-20 0V3114m-20 0h40m-30 -354h40m-20 0V2980m-20 0h40m-30 -58h40m-20 0V3116m-20 0h40m-30 -193h40m-20 0V3094m-20 0h40m-30 -285h40m-20 0V3079m-20 0h40m-30 -215h40m-20 0V3054m-20 0h40m-30 -121h40m-20 0V3188m-20 0h40m-30 -310h40m-20 0V3095m-20 0h40m-30 -106h40m-20 0V3191m-20 0h40m-30 -226h40m-20 0V3143m-20 0h40m-30 -409h40m-20 0V2920m-20 0h40m-30 6h40m-20 0V3097m-20 0h40m-30 -242h40m-20 0V3072m-20 0h40m-30 -201h40m-20 0V3113m-20 0h40m-30 -281h40m-20 0V3040m-20 0h40m-30 -184h40m-20 0V3052m-20 0h40m-30 -234h40m-20 0V3054m-20 0h40m-29 -229h40m-20 0V3011m-20 0h40m-30 -154h40m-20 0V3043m-20 0h40m-30 -140h40m-20 0V3107m-20 0h40m-30 -261h40m-20 0V3066m-20 0h40m-30 -227h40m-20 0V3046m-20 0h40m-30 -145h40m-20 0V3123m-20 0h40m-30 -181h40m-20 0V3096m-20 0h40m-30 -252h40m-20 0V3049m-20 0h40m-30 -191h40m-20 0V3060m-20 0h40m-30 -254h40m-20 0V2985m-20 0h40m-30 -42h40m-20 0V3137m-20 0h40m-30 -281h40m-20 0V3054m-20 0h40m-30 -343h40m-20 0V2919m-20 0h40m-30 -73h40m-20 0V3101m-20 0h40m-30 -206h40m-20 0V3081m-20 0h40m-30 -175h40m-20 0V3114m-20 0h40m-30 -294h40m-20 0V3029m-20 0h40m-30 -194h40m-20 0V3028m-20 0h40m-30 -229h40m-20 0V2989m-20 0h40m-30 -71h40m-20 0V3108m-20 0h40m-30 -261h40m-20 0V3068m-20 0h40m-30 -217h40m-20 0V3054m-20 0h40m-30 -222h40m-20 0V3071m-20 0h40m-29 -220h40m-20 0V3099m-20 0h40m-30 -173h40m-20 0V3131m-20 0h40m-30 -199h40m-20 0V3133m-20 0h40m-30 -322h40m-20 0V3023m-20 0h40m-30 -147h40m-20 0V3085m-20 0h40m-30 -256h40m-20 0V3014m-20 0h40m-30 -188h40m-20 0V3009m-20 0h40m-30 -95h40m-20 0V3104m-20 0h40m-30 -252h40m-20 0V3076m-20 0h40m-30 -321h40m-20 0V2947m-20 0h40m-30 -32h40m-20 0V3099m-20 0h40m-30 -181h40m-20 0V3122m-20 0h40m-30 -344h40m-20 0V2960m-20 0h40m-30 -191h40m-20 0V2952m-20 0h40m-30 -28h40m-20 0V3078m-20 0h40m-30 -256h40m-20 0V3091m-20 0h40m-30 -210h40m-20 0V3158m-20 0h40m-30 -326h40m-20 0V3012m-20 0h40m-30 -175h40m-20 0V3043m-20 0h40m-30 -280h40m-20 0V2969m-20 0h40m-30 4h40m-20 0V3177m-20 0h40m-30 -318h40m-20 0V3044m-20 0h40m-30 -142h40m-20 0V3094m-20 0h40m-29 -244h40m-20 0V3067m-20 0h40m-30 -246h40m-20 0V3051m-20 0h40m-30 -282h40m-20 0V2955m-20 0h40m-30 -8h40m-20 0V3161m-20 0h40m-30 -362h40m-20 0V3037m-20 0h40m-30 -192h40m-20 0V3044m-20 0h40m-30 -178h40m-20 0V3070m-20 0h40m-30 -190h40m-20 0V3097m-20 0h40m-30 -222h40m-20 0V3058m-20 0h40m-30 -167h40m-20 0V3068m-20 0h40m-30 -204h40m-20 0V3069m-20 0h40m-30 -61h40m-20 0V3210m-20 0h40m-30 -287h40m-20 0V3113m-20 0h40m-30 -246h40m-20 0V3080m-20 0h40m-30 -175h40m-20 0V3050m-20 0h40m-30 -217h40m-20 0V3090m-20 0h40m-30 -303h40m-20 0V2984m-20 0h40m-30 -121h40m-20 0V3011m-20 0h40m-30 -50h40m-20 0V3151m-20 0h40m-30 -338h40m-20 0V3014m-20 0h40m-30 -183h40m-20 0V3040m-20 0h40m-30 -224h40m-20 0V3013m-20 0h40m-29 -158h40m-20 0V3052m-20 0h40m-30 -273h40m-20 0V3008m-20 0h40m-30 -225h40m-20 0V2942m-20 0h40m-30 -140h40m-20 0V2972m-20 0h40m-30 -192h40m-20 0V2998m-20 0h40m-30 -127h40m-20 0V3025m-20 0h40m-30 -186h40m-20 0V3047m-20 0h40m-30 -299h40m-20 0V2964m-20 0h40m-30 -138h40m-20 0V2985m-20 0h40m-30 -162h40m-20 0V3005m-20 0h40m-30 -114h40m-20 0V3087m-20 0h40m-30 -218h40m-20 0V3053m-20 0h40m-30 -236h40m-20 0V3039m-20 0h40m-30 -255h40m-20 0V2994m-20 0h40m-30 -141h40m-20 0V3036m-20 0h40m-30 -197h40m-20 0V3020m-20 0h40m-30 -227h40m-20 0V2987m-20 0h40m-30 -164h40m-20 0V3026m-20 0h40m-30 -264h40m-20 0V2972m-20 0h40m-30 -109h40m-20 0V3096m-20 0h40m-30 -272h40m-20 0V2995m-20 0h40m-30 -279h40m-20 0V2919m-20 0h40m-30 -61h40m-20 0V3101m-20 0h40m-29 -209h40m-20 0V3091m-20 0h40m-30 -167h40m-20 0V3104m-20 0h40m-30 -266h40m-20 0V3066m-20 0h40m-30 -326h40m-20 0V2905m-20 0h40m-30 -65h40m-20 0V3010m-20 0h40m-30 -220h40m-20 0V3006m-20 0h40m-30 -279h40m-20 0V2946m-20 0h40m-30 -111h40m-20 0V3032m-20 0h40m-30 -134h40m-20 0V3113m-20 0h40m-30 -272h40m-20 0V3051m-20 0h40m-30 -177h40m-20 0V3093m-20 0h40m-30 -249h40m-20 0V3022m-20 0h40m-30 -224h40m-20 0V2970m-20 0h40m-30 -78h40m-20 0V3092m-20 0h40m-30 -178h40m-20 0V3111m-20 0h40m-30 -175h40m-20 0V3130m-20 0h40m-30 -191h40m-20 0V3099m-20 0h40m-30 -261h40m-20 0V3052m-20 0h40m-30 -203h40m-20 0V3053m-20 0h40m-30 -254h40m-20 0V3011m-20 0h40m-30 -164h40m-20 0V3068m-20 0h40m-30 -130h40m-20 0V3174m-20 0h40m-30 -401h40m-20 0V2946m-20 0h40m-29 -22h40m-20 0V3076m-20 0h40m-30 -342h40m-20 0V2940m-20 0h40m-30 -228h40m-20 0V2942m-20 0h40m-30 -141h40m-20 0V3023m-20 0h40m-30 -217h40m-20 0V2990m-20 0h40m-30 -106h40m-20 0V3070m-20 0h40m-30 -232h40m-20 0V3049m-20 0h40m-30 -172h40m-20 0V3086m-20 0h40m-30 -270h40m-20 0V2992m-20 0h40m-30 -208h40m-20 0V3005m-20 0h40m-30 -73h40m-20 0V3094m-20 0h40m-30 -207h40m-20 0V3080m-20 0h40m-30 -179h40m-20 0V3119m-20 0h40m-30 -224h40m-20 0V3085m-20 0h40m-30 -214h40m-20 0V3064m-20 0h40m-30 -188h40m-20 0V3059m-20 0h40m-30 -259h40m-20 0V3011m-20 0h40m-30 -162h40m-20 0V3048m-20 0h40m-30 -105h40m-20 0V3120m-20 0h40m-30 -273h40m-20 0V3053m-20 0h40m-30 -181h40m-20 0V3075m-20 0h40m-30 -280h40m-20 0V3036m-20 0h40m-30 -329h40m-20 0V2918m-20 0h40m-29 55h40m-20 0V3179m-20 0h40m-30 -238h40m-20 0V3167m-20 0h40m-30 -267h40m-20 0V3101m-20 0h40m-30 -178h40m-20 0V3117m-20 0h40m-30 -303h40m-20 0V2992m-20 0h40m-30 -222h40m-20 0V3011m-20 0h40m-30 -179h40m-20 0V3034m-20 0h40m-30 -159h40m-20 0V3060m-20 0h40m-30 -170h40m-20 0V3077m-20 0h40m-30 -175h40m-20 0V3095m-20 0h40m-30 -293h40m-20 0V3010m-20 0h40m-30 -98h40m-20 0V3132m-20 0h40m-30 -339h40m-20 0V2997m-20 0h40m-30 -124h40m-20 0V3091m-20 0h40m-30 -260h40m-20 0V3032m-20 0h40m-30 -199h40m-20 0V3045m-20 0h40m-30 -290h40m-20 0V2978m-20 0h40m-30 -218h40m-20 0V2987m-20 0h40m-30 -179h40m-20 0V3050m-20 0h40m-30 -322h40m-20 0V2956m-20 0h40m-30 -89h40m-20 0V3069m-20 0h40m-30 -143h40m-20 0V3158m-20 0h40m-30 -220h40m-20 0V3134m-20 0h40m-29 -215h40m-20 0V3089m-20 0h40m-30 -281h40m-20 0V3008m-20 0h40m-30 -85h40m-20 0V3104m-20 0h40m-30 -174h40m-20 0V3131m-20 0h40m-30 -253h40m-20 0V3088m-20 0h40m-30 -180h40m-20 0V3067m-20 0h40m-30 -169h40m-20 0V3097m-20 0h40m-30 -279h40m-20 0V3010m-20 0h40m-30 -198h40m-20 0V2980m-20 0h40m-30 -174h40m-20 0V3018m-20 0h40m-30 -219h40m-20 0V3020m-20 0h40m-30 -74h40m-20 0V3147m-20 0h40m-30 -417h40m-20 0V2922m-20 0h40m-30 -131h40m-20 0V3120m-20 0h40m-30 -302h40m-20 0V3018m-20 0h40m-30 -232h40m-20 0V3078m-20 0h40m-30 -188h40m-20 0V3086m-20 0h40m-30 -163h40m-20 0V3109m-20 0h40m-30 -212h40m-20 0V3077m-20 0h40m-30 -151h40m-20 0V3122m-20 0h40m-30 -280h40m-20 0V3027m-20 0h40m-30 -284h40m-20 0V2958m-20 0h40m-30 -85h40m-20 0V3073m-20 0h40m-29 -285h40m-20 0V3004m-20 0h40m-30 -145h40m-20 0V3054m-20 0h40m-30 -174h40m-20 0V3082m-20 0h40m-30 -205h40m-20 0V3094m-20 0h40m-30 -217h40m-20 0V3053m-20 0h40m-30 -100h40m-20 0V3120m-20 0h40m-30 -231h40m-20 0V3115m-20 0h40m-30 -182h40m-20 0V3123m-20 0h40m-30 -235h40m-20 0V3059m-20 0h40m-30 -183h40m-20 0V3058m-20 0h40m-30 -113h40m-20 0V3121m-20 0h40m-30 -199h40m-20 0V3125m-20 0h40m-30 -265h40m-20 0V3073m-20 0h40m-30 -176h40m-20 0V3125m-20 0h40m-30 -275h40m-20 0V3073m-20 0h40m-30 -215h40m-20 0V3049m-20 0h40m-30 -57h40m-20 0V3191m-20 0h40m-30 -331h40m-20 0V3085m-20 0h40m-30 -307h40m-20 0V2996m-20 0h40m-30 -152h40m-20 0V3048m-20 0h40m-30 -184h40m-20 0V3053m-20 0h40m-30 -240h40m-20 0V3000m-20 0h40m-30 -212h40m-20 0V2959m-20 0h40m-29 -174h40m-20 0V2993m-20 0h40m-30 -136h40m-20 0V3061m-20 0h40m-30 -205h40m-20 0V3052m-20 0h40m-30 -147h40m-20 0V3057m-20 0h40m-30 -183h40m-20 0V3079m-20 0h40m-30 -174h40m-20 0V3062m-20 0h40m-30 -120h40m-20 0V3133m-20 0h40m-30 -261h40m-20 0V3036m-20 0h40m-30 -214h40m-20 0V3024m-20 0h40m-30 -183h40m-20 0V3028m-20 0h40m-30 -140h40m-20 0V3095m-20 0h40m-30 -197h40m-20 0V3115m-20 0h40m-30 -247h40m-20 0V3058m-20 0h40m-30 -143h40m-20 0V3093m-20 0h40m-30 -260h40m-20 0V3069m-20 0h40m-30 -227h40m-20 0V3018m-20 0h40m-30 -227h40m-20 0V3011m-20 0h40m-30 -73h40m-20 0V3142m-20 0h40m-30 -186h40m-20 0V3126m-20 0h40m-30 -226h40m-20 0V3082m-20 0h40m-30 -56h40m-20 0V3226m-20 0h40m-30 -300h40m-20 0V3125m-20 0h40m-30 -241h40m-20 0V3052m-20 0h40m-29 -68h40m-20 0V3167m-20 0h40m-30 -135h40m-20 0V3220m-20 0h40m-30 -305h40m-20 0V3138m-20 0h40m-30 -260h40m-20 0V3127m-20 0h40m-30 -68h40m-20 0V3216m-20 0h40m-30 -247h40m-20 0V3155m-20 0h40m-30 -148h40m-20 0V3204m-20 0h40m-30 -261h40m-20 0V3124m-20 0h40m-30 -119h40m-20 0V3185m-20 0h40m-30 -287h40m-20 0V3132m-20 0h40m-30 -206h40m-20 0V3113m-20 0h40m-30 -166h40m-20 0V3152m-20 0h40m-30 -207h40m-20 0V3136m-20 0h40m-30 -215h40m-20 0V3126m-20 0h40m-30 -92h40m-20 0V3229m-20 0h40m-30 -246h40m-20 0V3254m-20 0h40m-30 -230h40m-20 0V3215m-20 0h40m-30 -222h40m-20 0V3175m-20 0h40m-30 -247h40m-20 0V3210m-20 0h40m-30 -323h40m-20 0V3073m-20 0h40m-30 -90h40m-20 0V3176m-20 0h40m-30 -288h40m-20 0V3210m-20 0h40m-29 -321h40m-20 0V3098m-20 0h40m-30 -171h40m-20 0V3139m-20 0h40m-30 -221h40m-20 0V3130m-20 0h40m-30 -310h40m-20 0V3027m-20 0h40m-30 -111h40m-20 0V3105m-20 0h40m-30 -228h40m-20 0V3085m-20 0h40m-30 -187h40m-20 0V3127m-20 0h40m-30 -224h40m-20 0V3126m-20 0h40m-30 -241h40m-20 0V3106m-20 0h40m-30 -189h40m-20 0V3110m-20 0h40m-30 -238h40m-20 0V3069m-20 0h40m-30 -73h40m-20 0V3173m-20 0h40m-30 -255h40m-20 0V3110m-20 0h40m-30 -229h40m-20 0V3070m-20 0h40m-30 -203h40m-20 0V3102m-20 0h40m-30 -240h40m-20 0V3081m-20 0h40m-30 -89h40m-20 0V3174m-20 0h40m-30 -345h40m-20 0V3033m-20 0h40m-30 -100h40m-20 0V3142m-20 0h40m-30 -167h40m-20 0V3207m-20 0h40m-30 -367h40m-20 0V3108m-20 0h40m-30 -261h40m-20 0V3008m-20 0h40m-30 -91h40m-20 0V3122m-20 0h40m-29 -224h40m-20 0V3113m-20 0h40m-30 -231h40m-20 0V3099m-20 0h40m-30 -160h40m-20 0V3112m-20 0h40m-30 -160h40m-20 0V3147m-20 0h40m-30 -228h40m-20 0V3099m-20 0h40m-30 -250h40m-20 0V3014m-20 0h40m-30 -65h40m-20 0V3138m-20 0h40m-30 -174h40m-20 0V3160m-20 0h40m-30 -235h40m-20 0V3108m-20 0h40m-30 -169h40m-20 0V3113m-20 0h40m-30 -187h40m-20 0V3123m-20 0h40m-30 -237h40m-20 0V3117m-20 0h40m-30 -260h40m-20 0V3044m-20 0h40m-30 -149h40m-20 0V3050m-20 0h40m-30 -165h40m-20 0V3099m-20 0h40m-30 -207h40m-20 0V3101m-20 0h40m-30 -236h40m-20 0V3103m-20 0h40m-30 -204h40m-20 0V3082m-20 0h40m-30 -111h40m-20 0V3146m-20 0h40m-30 -218h40m-20 0V3142m-20 0h40m-30 -269h40m-20 0V3089m-20 0h40m-30 -281h40m-20 0V3006m-20 0h40m-30 -87h40m-20 0V3161m-20 0h40m-29 -255h40m-20 0V3110m-20 0h40m-30 -209h40m-20 0V3107m-20 0h40m-30 -286h40m-20 0V3037m-20 0h40m-30 -183h40m-20 0V3062m-20 0h40m-30 -127h40m-20 0V3107m-20 0h40m-30 -179h40m-20 0V3118m-20 0h40m-30 -239h40m-20 0V3098m-20 0h40m-30 -222h40m-20 0V3050m-20 0h40m-30 -259h40m-20 0V3068m-20 0h40m-30 -113h40m-20 0V3149m-20 0h40m-30 -307h40m-20 0V3070m-20 0h40m-30 -297h40m-20 0V2951m-20 0h40m-30 -20h40m-20 0V3136m-20 0h40m-30 -243h40m-20 0V3098m-20 0h40m-30 -240h40m-20 0V3084m-20 0h40m-30 -214h40m-20 0V3065m-20 0h40m-30 -169h40m-20 0V3099m-20 0h40m-30 -267h40m-20 0V2995m-20 0h40m-30 -63h40m-20 0V3113m-20 0h40m-30 -349h40m-20 0V2989m-20 0h40m-30 -81h40m-20 0V3086m-20 0h40m-30 -240h40m-20 0V3086m-20 0h40m-30 -157h40m-20 0V3136m-20 0h40m-29 -323h40m-20 0V3008m-20 0h40m-30 -151h40m-20 0V3044m-20 0h40m-30 -220h40m-20 0V2994m-20 0h40m-30 -149h40m-20 0V3014m-20 0h40m-30 -191h40m-20 0V3015m-20 0h40m-30 -60h40m-20 0V3139m-20 0h40m-30 -344h40m-20 0V2992m-20 0h40m-30 -182h40m-20 0V3015m-20 0h40m-30 -41h40m-20 0V3149m-20 0h40m-30 -264h40m-20 0V3086m-20 0h40m-30 -185h40m-20 0V3106m-20 0h40m-30 -295h40m-20 0V3010m-20 0h40m-30 -173h40m-20 0V3066m-20 0h40m-30 -214h40m-20 0V3040m-20 0h40m-30 -124h40m-20 0V3120m-20 0h40m-30 -280h40m-20 0V3013m-20 0h40m-30 -182h40m-20 0V3010m-20 0h40m-30 -76h40m-20 0V3130m-20 0h40m-30 -284h40m-20 0V3043m-20 0h40m-30 -170h40m-20 0V3090m-20 0h40m-30 -278h40m-20 0V2984m-20 0h40m-30 -30h40m-20 0V3190m-20 0h40m-30 -218h40m-20 0V3161m-20 0h40m-29 -286h40m-20 0V3047m-20 0h40m-30 -188h40m-20 0V3060m-20 0h40m-30 -284h40m-20 0V2988m-20 0h40m-30 -79h40m-20 0V3117m-20 0h40m-30 -274h40m-20 0V3051m-20 0h40m-30 -146h40m-20 0V3096m-20 0h40m-30 -250h40m-20 0V3035m-20 0h40m-30 -203h40m-20 0V3036m-20 0h40m-30 -177h40m-20 0V3022m-20 0h40m-30 -92h40m-20 0V3136m-20 0h40m-30 -307h40m-20 0V3054m-20 0h40m-30 -128h40m-20 0V3137m-20 0h40m-30 -206h40m-20 0V3163m-20 0h40m-30 -361h40m-20 0V3013m-20 0h40m-30 -171h40m-20 0V3111m-20 0h40m-30 -248h40m-20 0V3054m-20 0h40m-30 -172h40m-20 0V3096m-20 0h40m-30 -252h40m-20 0V3040m-20 0h40m-30 -87h40m-20 0V3137m-20 0h40m-30 -325h40m-20 0V3007m-20 0h40m-30 -123h40m-20 0V3077m-20 0h40m-30 -167h40m-20 0V3142m-20 0h40m-30 -249h40m-20 0V3095m-20 0h40m-29 -265h40m-20 0V3035m-20 0h40m-30 -223h40m-20 0V3033m-20 0h40m-30 -166h40m-20 0V3092m-20 0h40m-30 -297h40m-20 0V2970m-20 0h40m-30 -23h40m-20 0V3139m-20 0h40m-30 -206h40m-20 0V3148m-20 0h40m-30 -362h40m-20 0V2966m-20 0h40m-30 -130h40m-20 0V3062m-20 0h40m-30 -169h40m-20 0V3068m-20 0h40m-30 -257h40m-20 0V2990m-20 0h40m-30 -113h40m-20 0V3071m-20 0h40m-30 -142h40m-20 0V3128m-20 0h40m-30 -230h40m-20 0V3088m-20 0h40m-30 -91h40m-20 0V3190m-20 0h40m-30 -404h40m-20 0V2981m-20 0h40m-30 -165h40m-20 0V3053m-20 0h40m-30 -61h40m-20 0V3155m-20 0h40m-30 -340h40m-20 0V3043m-20 0h40m-30 -155h40m-20 0V3111m-20 0h40m-30 -184h40m-20 0V3123m-20 0h40m-30 -307h40m-20 0V3006m-20 0h40m-30 -170h40m-20 0V3052m-20 0h40m-29 -214h40m-20 0V3028m-20 0h40m-30 -42h40m-20 0V3170m-20 0h40m-30 -259h40m-20 0V3102m-20 0h40m-30 -359h40m-20 0V2937m-20 0h40m-30 -85h40m-20 0V3078m-20 0h40m-30 -218h40m-20 0V3136m-20 0h40m-30 -146h40m-20 0V3201m-20 0h40m-30 -267h40m-20 0V3122m-20 0h40m-30 -227h40m-20 0V3080m-20 0h40m-30 -141h40m-20 0V3139m-20 0h40m-30 -238h40m-20 0V3108m-20 0h40m-30 -169h40m-20 0V3147m-20 0h40m-30 -250h40m-20 0V3120m-20 0h40m-30 -101h40m-20 0V3194m-20 0h40m-30 -258h40m-20 0V3123m-20 0h40m-30 -170h40m-20 0V3182m-20 0h40m-30 -275h40m-20 0V3124m-20 0h40m-30 -200h40m-20 0V3090m-20 0h40m-30 -169h40m-20 0V3141m-20 0h40m-30 -238h40m-20 0V3078m-20 0h40m-30 -83h40m-20 0V3201m-20 0h40m-30 -242h40m-20 0V3169m-20 0h40m-30 -299h40m-20 0V3074m-20 0h40m-29 -35h40m-20 0V3239m-20 0h40m-30 -327h40m-20 0V3125m-20 0h40m-30 -122h40m-20 0V3181m-20 0h40m-30 -211h40m-20 0V3146m-20 0h40m-30 -229h40m-20 0V3109m-20 0h40m-30 -203h40m-20 0V3093m-20 0h40m-30 -247h40m-20 0V3089m-20 0h40m-30 -219h40m-20 0V3057m-20 0h40m-30 -66h40m-20 0V3211m-20 0h40m-30 -208h40m-20 0V3223m-20 0h40m-30 -252h40m-20 0V3108m-20 0h40m-30 -138h40m-20 0V3191m-20 0h40m-30 -222h40m-20 0V3174m-20 0h40m-30 -304h40m-20 0V3093m-20 0h40m-30 -211h40m-20 0V3114m-20 0h40m-30 -195h40m-20 0V3152m-20 0h40m-30 -205h40m-20 0V3148m-20 0h40m-30 -256h40m-20 0V3096m-20 0h40m-30 -143h40m-20 0V3132m-20 0h40m-30 -209h40m-20 0V3113m-20 0h40m-30 -200h40m-20 0V3131m-20 0h40m-30 -223h40m-20 0V3090m-20 0h40m-30 -167h40m-20 0V3116m-20 0h40m-29 -214h40m-20 0V3106m-20 0h40m-30 -240h40m-20 0V3142m-20 0h40m-30 -203h40m-20 0V3140m-20 0h40m-30 -212h40m-20 0V3125m-20 0h40m-30 -193h40m-20 0V3155m-20 0h40m-30 -279h40m-20 0V3072m-20 0h40m-30 -214h40m-20 0V3066m-20 0h40m-30 -153h40m-20 0V3109m-20 0h40m-30 -254h40m-20 0V3066m-20 0h40m-30 -144h40m-20 0V3123m-20 0h40m-30 -203h40m-20 0V3137m-20 0h40m-30 -180h40m-20 0V3126m-20 0h40m-30 -202h40m-20 0V3120m-20 0h40m-30 -301h40m-20 0V3030m-20 0h40m-30 -93h40m-20 0V3151m-20 0h40m-30 -222h40m-20 0V3100m-20 0h40m-30 -316h40m-20 0V3002m-20 0h40m-30 -107h40m-20 0V3093m-20 0h40m-30 -136h40m-20 0V3160m-20 0h40m-30 -248h40m-20 0V3113m-20 0h40m-30 -103h40m-20 0V3210m-20 0h40m-30 -338h40m-20 0V3076m-20 0h40m-30 -201h40m-20 0V3056m-20 0h40m-29 -120h40m-20 0V3131m-20 0h40m-30 -197h40m-20 0V3137m-20 0h40m-30 -218h40m-20 0V3098m-20 0h40m-30 -203h40m-20 0V3080m-20 0h40m-30 -211h40m-20 0V3038m-20 0h40m-30 -250h40m-20 0V3018m-20 0h40m-30 -153h40m-20 0V3039m-20 0h40m-30 -176h40m-20 0V3089m-20 0h40m-30 -320h40m-20 0V2972m-20 0h40m-30 -164h40m-20 0V3035m-20 0h40m-30 -283h40m-20 0V2948m-20 0h40m-30 -112h40m-20 0V3035m-20 0h40m-30 -186h40m-20 0V3030m-20 0h40m-30 -222h40m-20 0V2976m-20 0h40m-30 -40h40m-20 0V3101m-20 0h40m-30 -375h40m-20 0V2889m-20 0h40m-30 -44h40m-20 0V3045m-20 0h40m-30 -156h40m-20 0V3064m-20 0h40m-30 -171h40m-20 0V3084m-20 0h40m-30 -253h40m-20 0V3032m-20 0h40m-30 -147h40m-20 0V3079m-20 0h40m-30 -252h40m-20 0V3042m-20 0h40m-30 -210h40m-20 0V3042m-20 0h40m-29 -169h40m-20 0V3069m-20 0h40m-30 -206h40m-20 0V3044m-20 0h40m-30 -215h40m-20 0V3025m-20 0h40m-30 -229h40m-20 0V2966m-20 0h40m-30 -132h40m-20 0V3021m-20 0h40m-30 -123h40m-20 0V3086m-20 0h40m-30 -141h40m-20 0V3155m-20 0h40m-30 -143h40m-20 0V3214m-20 0h40m-30 -272h40m-20 0V3139m-20 0h40m-30 -209h40m-20 0V3109m-20 0h40m-30 -203h40m-20 0V3089m-20 0h40m-30 -252h40m-20 0V3040m-20 0h40m-30 -60h40m-20 0V3152m-20 0h40m-30 -261h40m-20 0V3107m-20 0h40m-30 -201h40m-20 0V3114m-20 0h40m-30 -235h40m-20 0V3086m-20 0h40m-30 -134h40m-20 0V3170m-20 0h40m-30 -271h40m-20 0V3120m-20 0h40m-30 -249h40m-20 0V3089m-20 0h40m-30 -172h40m-20 0V3131m-20 0h40m-30 -177h40m-20 0V3133m-20 0h40m-30 -140h40m-20 0V3179m-20 0h40m-30 -242h40m-20 0V3163m-20 0h40m-29 -235h40m-20 0V3140m-20 0h40m-30 -160h40m-20 0V3147m-20 0h40m-30 -166h40m-20 0V3221m-20 0h40m-30 -307h40m-20 0V3105m-20 0h40m-30 -192h40m-20 0V3116m-20 0h40m-30 -208h40m-20 0V3097m-20 0h40m-30 -213h40m-20 0V3090m-20 0h40m-30 -175h40m-20 0V3144m-20 0h40m-30 -288h40m-20 0V3042m-20 0h40m-30 -146h40m-20 0V3114m-20 0h40m-30 -266h40m-20 0V3075m-20 0h40m-30 -166h40m-20 0V3099m-20 0h40m-30 -207h40m-20 0V3061m-20 0h40m-30 -129h40m-20 0V3155m-20 0h40m-30 -272h40m-20 0V3054m-20 0h40m-30 -150h40m-20 0V3085m-20 0h40m-30 -229h40m-20 0V3094m-20 0h40m-30 -255h40m-20 0V3053m-20 0h40m-30 -169h40m-20 0V3050m-20 0h40m-30 -38h40m-20 0V3229m-20 0h40m-30 -281h40m-20 0V3160m-20 0h40m-30 -220h40m-20 0V3105m-20 0h40m-30 -305h40m-20 0V3007m-20 0h40m-29 -176h40m-20 0V3043m-20 0h40m-30 -74h40m-20 0V3194m-20 0h40m-30 -407h40m-20 0V2982m-20 0h40m-30 -164h40m-20 0V2981m-20 0h40m-30 -58h40m-20 0V3109m-20 0h40m-30 -279h40m-20 0V3060m-20 0h40m-30 -191h40m-20 0V3044m-20 0h40m-30 -150h40m-20 0V3094m-20 0h40m-30 -214h40m-20 0V3041m-20 0h40m-30 -222h40m-20 0V3015m-20 0h40m-30 -195h40m-20 0V3019m-20 0h40m-30 -172h40m-20 0V3029m-20 0h40m-30 -301h40m-20 0V2942m-20 0h40m-30 -97h40m-20 0V3074m-20 0h40m-30 -205h40m-20 0V3056m-20 0h40m-30 -190h40m-20 0V3074m-20 0h40m-30 -198h40m-20 0V3039m-20 0h40m-30 -89h40m-20 0V3154m-20 0h40m-30 -282h40m-20 0V3036m-20 0h40m-30 -115h40m-20 0V3131m-20 0h40m-30 -304h40m-20 0V3030m-20 0h40m-30 -179h40m-20 0V3050m-20 0h40m-30 -224h40m-20 0V3016m-20 0h40m-29 -170h40m-20 0V3054m-20 0h40m-30 -202h40m-20 0V3028m-20 0h40m-30 -105h40m-20 0V3116m-20 0h40m-30 -199h40m-20 0V3128m-20 0h40m-30 -294h40m-20 0V3015m-20 0h40m-30 -125h40m-20 0V3103m-20 0h40m-30 -193h40m-20 0V3107m-20 0h40m-30 -307h40m-20 0V3000m-20 0h40m-30 -177h40m-20 0V3000m-20 0h40m-30 -151h40m-20 0V3053m-20 0h40m-30 -180h40m-20 0V3048m-20 0h40m-30 -251h40m-20 0V2999m-20 0h40m-30 -193h40m-20 0V2974m-20 0h40m-30 -161h40m-20 0V2978m-20 0h40m-30 -140h40m-20 0V2992m-20 0h40m-30 -218h40m-20 0V2991m-20 0h40m-30 -176h40m-20 0V3039m-20 0h40m-30 -223h40m-20 0V3001m-20 0h40m-30 -211h40m-20 0V2972m-20 0h40m-30 -97h40m-20 0V3044m-20 0h40m-30 -191h40m-20 0V3049m-20 0h40m-30 -180h40m-20 0V3048m-20 0h40m-29 -195h40m-20 0V3063m-20 0h40m-30 -236h40m-20 0V3036m-20 0h40m-30 -186h40m-20 0V3056m-20 0h40m-30 -273h40m-20 0V3073m-20 0h40m-30 -275h40m-20 0V3032m-20 0h40m-30 -155h40m-20 0V3150m-20 0h40m-30 -318h40m-20 0V3073m-20 0h40m-30 -283h40m-20 0V2976m-20 0h40m-30 -138h40m-20 0V3042m-20 0h40m-30 -246h40m-20 0V2997m-20 0h40m-30 -233h40m-20 0V2938m-20 0h40m-30 -224h40m-20 0V2948m-20 0h40m-30 -203h40m-20 0V2927m-20 0h40m-30 -200h40m-20 0V2936m-20 0h40m-30 -144h40m-20 0V2983m-20 0h40m-30 -235h40m-20 0V2977m-20 0h40m-30 -201h40m-20 0V3003m-20 0h40m-30 -127h40m-20 0V3058m-20 0h40m-30 -301h40m-20 0V2958m-20 0h40m-30 -53h40m-20 0V3100m-20 0h40m-30 -267h40m-20 0V3037m-20 0h40m-30 -52h40m-20 0V3171m-20 0h40m-30 -196h40m-20 0V3169m-20 0h40m-29 -243h40m-20 0V3118m-20 0h40m-30 -241h40m-20 0V3080m-20 0h40m-30 -260h40m-20 0V3012m-20 0h40m-30 -123h40m-20 0V3105m-20 0h40m-30 -209h40m-20 0V3092m-20 0h40m-30 -253h40m-20 0V3071m-20 0h40m-30 -168h40m-20 0V3108m-20 0h40m-30 -279h40m-20 0V3035m-20 0h40m-30 -224h40m-20 0V2979m-20 0h40m-30 -205h40m-20 0V2971m-20 0h40m-30 -143h40m-20 0V3020m-20 0h40m-30 -196h40m-20 0V3024m-20 0h40m-30 -266h40m-20 0V2938m-20 0h40m-30 -63h40m-20 0V3099m-20 0h40m-30 -321h40m-20 0V2925m-20 0h40m-30 -6h40m-20 0V3124m-20 0h40m-30 -223h40m-20 0V3121m-20 0h40m-30 -334h40m-20 0V3034m-20 0h40m-30 -256h40m-20 0V2949m-20 0h40m-30 -93h40m-20 0V3045m-20 0h40m-30 -158h40m-20 0V3101m-20 0h40m-30 -381h40m-20 0V2932m-20 0h40m-30 -127h40m-20 0V3010m-20 0h40m-29 -248h40m-20 0V2963m-20 0h40m-30 -161h40m-20 0V3025m-20 0h40m-30 -198h40m-20 0V3030m-20 0h40m-30 -183h40m-20 0V3030m-20 0h40m-30 -236h40m-20 0V3024m-20 0h40m-30 -240h40m-20 0V3018m-20 0h40m-30 -116h40m-20 0V3103m-20 0h40m-30 -354h40m-20 0V2940m-20 0h40m-30 -78h40m-20 0V3037m-20 0h40m-30 -295h40m-20 0V2931m-20 0h40m-30 -67h40m-20 0V3068m-20 0h40m-30 -242h40m-20 0V3045m-20 0h40" stroke="#a9a9ac" stroke-width="21"/>
<path d="M0 0m8950 2845h0m3 57h0m4 17h0m3 107h0m3 -205h0m4 111h0m3 -91h0m3 65h0m4 -77h0m3 23h0m3 14h0m4 27h0m3 -9h0m4 91h0m3 -248h0m3 117h0m4 29h0m3 51h0m3 7h0m4 24h0m3 -60h0m3 -82h0m4 40h0m3 70h0m3 -65h0m4 0h0m3 55h0m3 -104h0m4 14h0m3 79h0m3 30h0m4 49h0m3 -140h0m3 -47h0m4 -10h0m3 66h0m4 -18h0m3 -19h0m3 48h0m4 -54h0m3 56h0m3 10h0m4 -18h0m3 34h0m3 -117h0m4 106h0m3 -38h0m3 17h0m4 25h0m3 -58h0m3 -59h0m4 172h0m3 -58h0m3 58h0m4 -51h0m3 -31h0m3 14h0m4 120h0m3 -70h0m4 -27h0m3 18h0m3 -18h0m4 60h0m3 -24h0m3 60h0m4 -55h0m3 -17h0m3 43h0m4 75h0m3 -79h0m3 -64h0m4 -21h0m3 31h0m3 -6h0m4 -13h0m3 105h0m3 -51h0m4 -5h0m3 -9h0m3 -39h0m4 85h0m3 -140h0m4 101h0m3 -150h0m3 151h0m4 -58h0m3 -28h0m3 77h0m4 49h0m3 -114h0m3 -38h0m4 88h0m3 -48h0m3 68h0m4 -41h0m3 24h0m3 84h0m4 -70h0m3 51h0m3 40h0m4 -83h0m3 -40h0m3 130h0m4 -32h0m3 -111h0m4 35h0m3 17h0m3 -4h0m4 21h0m3 -95h0m3 21h0m4 62h0m3 -37h0m3 52h0m4 -91h0m3 121h0m3 -94h0m4 3h0m3 69h0m3 -72h0m4 67h0m3 -107h0m3 73h0m4 -46h0m3 98h0m3 -14h0m4 -18h0m3 -17h0m4 -59h0m3 -14h0m3 -24h0m4 36h0m3 -8h0m3 134h0m4 -79h0m3 -46h0m3 31h0m4 -85h0m3 123h0m3 -112h0m4 79h0m3 -10h0m3 66h0m4 -34h0m3 96h0m3 -105h0m4 67h0m3 -59h0m3 -33h0m4 78h0m3 -113h0m4 28h0m3 -63h0m3 54h0m4 -48h0m3 0h0m3 71h0m4 7h0m3 -51h0m3 -16h0m4 44h0m3 85h0m3 -91h0m4 71h0m3 -49h0m3 -50h0m4 80h0m3 -48h0m3 -55h0m4 108h0m3 2h0m3 -35h0m4 -67h0m3 90h0m4 22h0m3 -25h0m3 -19h0m4 -17h0m3 -37h0m3 44h0m4 -39h0m3 156h0m3 -88h0m4 -51h0m3 69h0m3 -9h0m4 4h0m3 16h0m3 -85h0m4 -41h0m3 85h0m3 15h0m4 -127h0m3 92h0m3 8h0m4 58h0m3 -74h0m4 69h0m3 1h0m3 38h0m4 -177h0m3 187h0m3 -34h0m4 -97h0m3 132h0m3 -25h0m4 -30h0m3 4h0m3 -17h0m4 11h0m3 -26h0m3 55h0m4 -67h0m3 53h0m3 -47h0m4 22h0m3 51h0m3 -73h0m4 -71h0m3 128h0m4 -75h0m3 135h0m3 -174h0m4 79h0m3 -44h0m3 -4h0m4 37h0m3 -131h0m3 56h0m4 -3h0m3 111h0m3 14h0m4 -22h0m3 -6h0m3 -82h0m4 40h0m3 -41h0m3 36h0m4 14h0m3 -15h0m4 76h0m3 -51h0m3 72h0m4 74h0m3 -287h0m3 129h0m4 -52h0m3 55h0m3 49h0m4 39h0m3 -129h0m3 -19h0m4 28h0m3 -20h0m3 49h0m4 -8h0m3 -1h0m3 31h0m4 -104h0m3 13h0m3 45h0m4 6h0m3 5h0m4 109h0m3 -68h0m3 7h0m4 52h0m3 28h0m3 -73h0m4 -42h0m3 -8h0m3 57h0m4 -12h0m3 -58h0m3 -21h0m4 -11h0m3 130h0m3 -166h0m4 162h0m3 -36h0m3 15h0m4 -27h0m3 -33h0m3 -32h0m4 -1h0m3 -7h0m4 88h0m3 16h0m3 -62h0m4 -50h0m3 70h0m3 -75h0m4 70h0m3 14h0m3 -48h0m4 23h0m3 -24h0m3 98h0m4 -77h0m3 -22h0m3 41h0m4 63h0m3 -66h0m3 7h0m4 -65h0m3 10h0m3 80h0m4 -34h0m3 31h0m4 14h0m3 -92h0m3 62h0m4 12h0m3 13h0m3 -78h0m4 44h0m3 53h0m3 -31h0m4 17h0m3 5h0m3 84h0m4 -124h0m3 -57h0m3 16h0m4 74h0m3 -63h0m3 99h0m4 -13h0m3 -22h0m3 33h0m4 -72h0m3 74h0m4 30h0m3 -14h0m3 -97h0m4 -67h0m3 169h0m3 -97h0m4 -10h0m3 42h0m3 -19h0m4 32h0m3 -95h0m3 21h0m4 84h0m3 -32h0m3 41h0m4 -26h0m3 -11h0m3 -8h0m4 -57h0m3 106h0m3 -107h0m4 116h0m3 -57h0m4 -56h0m3 21h0m3 16h0m4 55h0m3 9h0m3 -76h0m4 12h0m3 -80h0m3 28h0m4 98h0m3 -14h0m3 23h0m4 -14h0m3 -45h0m3 107h0m4 -48h0m3 -85h0m3 53h0m4 -62h0m3 50h0m3 -12h0m4 -52h0m3 41h0m4 -15h0m3 -10h0m3 5h0m4 77h0m3 -89h0m3 -11h0m4 71h0m3 -9h0m3 -48h0m4 27h0m3 -27h0m3 55h0m4 23h0m3 -45h0m3 -80h0m4 189h0m3 -190h0m3 14h0m4 26h0m3 40h0m3 40h0m4 -168h0m3 23h0m4 53h0m3 79h0m3 -17h0m4 38h0m3 15h0m3 -87h0m4 46h0m3 -2h0m3 -23h0m4 64h0m3 -78h0m3 -16h0m4 -34h0m3 102h0m3 -67h0m4 37h0m3 84h0m3 -116h0m4 61h0m3 -102h0m3 -10h0m4 136h0m3 -39h0m4 -26h0m3 -19h0m3 67h0m4 -99h0m3 6h0m3 31h0m4 -23h0m3 82h0m3 -57h0m4 -49h0m3 41h0m3 -83h0m4 107h0m3 -21h0m3 82h0m4 -13h0m3 -22h0m3 -48h0m4 76h0m3 5h0m3 2h0m4 -155h0m3 4h0m4 71h0m3 -35h0m3 -4h0m4 84h0m3 -21h0m3 -23h0m4 -59h0m3 85h0m3 -76h0m4 88h0m3 37h0m3 41h0m4 -84h0m3 -1h0m3 -32h0m4 54h0m3 175h0m3 -163h0m4 3h0m3 -24h0m3 -39h0m4 94h0m3 -47h0m4 61h0m3 -3h0m3 42h0m4 -120h0m3 34h0m3 11h0m4 8h0m3 -49h0m3 28h0m4 63h0m3 -119h0m3 24h0m4 22h0m3 -65h0m3 98h0m4 -14h0m3 -75h0m3 19h0m4 9h0m3 50h0m3 -28h0m4 -57h0m3 -19h0m4 86h0m3 -61h0m3 10h0m4 38h0m3 85h0m3 -113h0m4 39h0m3 -6h0m3 -15h0m4 16h0m3 -96h0m3 18h0m4 -34h0m3 88h0m3 46h0m4 -75h0m3 132h0m3 -49h0m4 -59h0m3 84h0m3 -195h0m4 182h0m3 -21h0m4 -85h0m3 73h0m3 53h0m4 -5h0m3 -163h0m3 127h0m4 -19h0m3 -79h0m3 1h0m4 52h0m3 -1h0m3 -16h0m4 20h0m3 -25h0m3 43h0m4 25h0m3 -35h0m3 6h0m4 -26h0m3 -116h0m3 83h0m4 -35h0m3 -4h0m4 53h0m3 -30h0m3 -78h0m4 31h0m3 36h0m3 3h0m4 48h0m3 -7h0m3 1h0m4 -8h0m3 -54h0m3 51h0m4 126h0m3 -6h0m3 -17h0m4 -91h0m3 7h0m3 66h0m4 -10h0m3 80h0m3 -129h0m4 52h0m3 58h0m4 -102h0m3 -8h0m3 -64h0m4 88h0m3 -27h0m3 7h0m4 60h0m3 35h0m3 -60h0m4 -58h0m3 145h0m3 -11h0m4 -106h0m3 -34h0m3 -52h0m4 148h0m3 -96h0m3 63h0m4 -114h0m3 -72h0m3 164h0m4 25h0m3 -83h0m4 66h0m3 36h0m3 -67h0m4 -19h0m3 -17h0m3 80h0m4 -58h0m3 -10h0m3 50h0m4 43h0m3 -10h0m3 -95h0m4 51h0m3 114h0m3 -93h0m4 20h0m3 66h0m3 55h0m4 -108h0m3 -81h0m3 53h0m4 15h0m3 7h0m4 32h0m3 -80h0m3 22h0m4 -35h0m3 -8h0m3 9h0m4 -17h0m3 -63h0m3 166h0m4 42h0m3 -117h0m3 45h0m4 30h0m3 32h0m3 -180h0m4 183h0m3 -90h0m3 -34h0m4 -7h0m3 113h0m3 -103h0m4 26h0m3 70h0m4 -32h0m3 2h0m3 -57h0m4 17h0m3 71h0m3 -11h0m4 -101h0m3 157h0m3 -36h0m4 -181h0m3 135h0m3 59h0m4 -66h0m3 -18h0m3 41h0m4 -18h0m3 32h0m3 -95h0m4 104h0m3 -43h0m3 73h0m4 -120h0m3 37h0m4 -15h0m3 -83h0m3 41h0m4 6h0m3 66h0m3 48h0m4 -154h0m3 102h0m3 28h0m4 35h0m3 -9h0m3 6h0m4 7h0m3 -40h0m3 66h0m4 -3h0m3 -63h0m3 -110h0m4 58h0m3 113h0m3 -133h0m4 58h0m3 -10h0m4 -40h0m3 123h0m3 -86h0m4 -146h0m3 129h0m3 -34h0m4 -49h0m3 -16h0m3 74h0m4 46h0m3 -25h0m3 -56h0m4 54h0m3 30h0m3 -70h0m4 -27h0m3 70h0m3 -37h0m4 95h0m3 -42h0m3 -45h0m4 36h0m3 -67h0m4 13h0m3 21h0m3 69h0m4 -128h0m3 66h0m3 14h0m4 24h0m3 -19h0m3 13h0m4 -41h0m3 6h0m3 -1h0m4 -108h0m3 94h0m3 11h0m4 112h0m3 -148h0m3 10h0m4 2h0m3 7h0m3 16h0m4 48h0m3 -2h0m4 -82h0m3 74h0m3 -93h0m4 54h0m3 -30h0m3 96h0m4 32h0m3 -55h0m3 38h0m4 -66h0m3 37h0m3 29h0m4 -1h0m3 32h0m3 -57h0m4 -3h0m3 78h0m3 -103h0m4 89h0m3 -54h0m4 -21h0m3 97h0m3 -72h0m4 8h0m3 77h0m3 -75h0m4 6h0m3 -65h0m3 130h0m4 32h0m3 -3h0m3 -107h0m4 105h0m3 -49h0m3 -32h0m4 69h0m3 -97h0m3 33h0m4 91h0m3 -65h0m3 61h0m4 -17h0m3 -44h0m4 41h0m3 -21h0m3 -13h0m4 -13h0m3 25h0m3 50h0m4 -34h0m3 -32h0m3 37h0m4 37h0m3 13h0m3 -131h0m4 11h0m3 44h0m3 -1h0m4 33h0m3 39h0m3 -34h0m4 -74h0m3 57h0m3 -10h0m4 60h0m3 -109h0m4 24h0m3 33h0m3 24h0m4 61h0m3 -60h0m3 20h0m4 -30h0m3 95h0m3 -29h0m4 -94h0m3 56h0m3 25h0m4 5h0m3 40h0m3 5h0m4 -109h0m3 28h0m3 5h0m4 -51h0m3 -43h0m3 21h0m4 -82h0m3 34h0m4 105h0m3 55h0m3 -142h0m4 93h0m3 -138h0m3 24h0m4 99h0m3 -57h0m3 64h0m4 34h0m3 -55h0m3 26h0m4 -90h0m3 60h0m3 -26h0m4 89h0m3 -153h0m3 71h0m4 -22h0m3 -97h0m3 134h0m4 -20h0m3 4h0m4 -4h0m3 18h0m3 59h0m4 -4h0m3 -48h0m3 69h0m4 -36h0m3 -57h0m3 10h0m4 -74h0m3 84h0m3 -12h0m4 -41h0m3 32h0m3 17h0m4 96h0m3 -196h0m3 76h0m4 18h0m3 12h0m3 -21h0m4 -38h0m3 96h0m4 -131h0m3 43h0m3 -18h0m4 -7h0m3 192h0m3 -145h0m4 9h0m3 36h0m3 -56h0m4 -14h0m3 63h0m3 35h0m4 -67h0m3 46h0m3 11h0m4 -31h0m3 -11h0m3 15h0m4 36h0m3 15h0m3 -51h0m4 -51h0m3 113h0m4 -21h0m3 -4h0m3 55h0m4 -55h0m3 7h0m3 -39h0m4 91h0m3 -46h0m3 -72h0m4 -53h0m3 52h0m3 12h0m4 11h0m3 33h0m3 -50h0m4 -3h0m3 52h0m3 19h0m4 -13h0m3 -62h0m3 2h0m4 11h0m3 32h0m4 -74h0m3 70h0m3 -95h0m4 101h0m3 58h0m3 -41h0m4 -20h0m3 62h0m3 -46h0m4 -18h0m3 60h0m3 -117h0m4 28h0m3 -70h0m3 177h0m4 -47h0m3 -158h0m3 177h0m4 -41h0m3 -72h0m3 41h0m4 38h0m3 28h0m4 -120h0m3 -25h0m3 101h0m4 -48h0m3 -28h0m3 -61h0m4 -33h0m3 18h0m3 124h0m4 -52h0m3 41h0m3 126h0m4 -161h0m3 13h0m3 -30h0m4 0h0m3 50h0m3 -10h0m4 -21h0m3 10h0m3 25h0m4 -178h0m3 100h0m4 12h0m3 37h0m3 -11h0m4 -30h0m3 31h0m3 38h0m4 -24h0m3 -79h0m3 99h0m4 26h0m3 -110h0m3 69h0m4 -74h0m3 106h0m3 -81h0m4 -67h0m3 75h0m3 0h0m4 61h0m3 42h0m3 -83h0m4 -63h0m3 110h0m4 -110h0m3 -44h0m3 -73h0m4 91h0m3 19h0m3 75h0m4 -87h0m3 1h0m3 37h0m4 4h0m3 26h0m3 -1h0m4 -41h0m3 -9h0m3 -6h0m4 40h0m3 81h0m3 -103h0m4 47h0m3 62h0m3 -127h0m4 -16h0m3 54h0m4 -56h0m3 58h0m3 -35h0m4 9h0m3 -39h0m3 87h0m4 7h0m3 -13h0m3 -20h0m4 -16h0m3 73h0m3 -78h0m4 -9h0m3 58h0m3 -105h0m4 117h0m3 -32h0m3 -17h0m4 56h0m3 -123h0m3 155h0m4 -104h0m3 57h0m4 -1h0m3 -44h0m3 44h0m4 -152h0m3 44h0m3 20h0m4 60h0m3 65h0m3 -85h0m4 -53h0m3 53h0m3 12h0m4 17h0m3 -169h0m3 162h0m4 -3h0m3 -1h0m3 62h0m4 68h0m3 -115h0m3 -49h0m4 24h0m3 47h0m4 -54h0m3 -98h0m3 66h0m4 13h0m3 -66h0m3 60h0m4 85h0m3 -15h0m3 -107h0m4 24h0m3 67h0m3 28h0m4 -49h0m3 54h0m3 -60h0m4 -36h0m3 18h0m3 12h0m4 7h0m3 -8h0m3 1h0m4 -46h0m3 4h0m4 65h0m3 28h0m3 17h0m4 8h0m3 -36h0m3 -139h0m4 179h0m3 -169h0m3 72h0m4 -18h0m3 -8h0m3 53h0m4 19h0m3 -71h0m3 -23h0m4 34h0m3 3h0m3 -50h0m4 44h0m3 67h0m3 -26h0m4 50h0m3 -116h0m4 40h0m3 31h0m3 -49h0m4 66h0m3 -130h0m3 79h0m4 84h0m3 -7h0m3 -12h0m4 -82h0m3 107h0m3 -59h0m4 -16h0m3 -76h0m3 78h0m4 -36h0m3 -50h0m3 13h0m4 -18h0m3 145h0m3 -21h0m4 -65h0m3 42h0m4 -145h0m3 79h0m3 129h0m4 -135h0m3 83h0m3 -46h0m4 -101h0m3 144h0m3 -25h0m4 -11h0m3 28h0m3 -91h0m4 92h0m3 -2h0m3 119h0m4 -103h0m3 -19h0m3 -1h0m4 -84h0m3 54h0m3 76h0m4 -34h0m3 -20h0m4 15h0m3 16h0m3 0h0m4 -39h0m3 64h0m3 -107h0m4 -31h0m3 108h0m3 84h0m4 0h0m3 -43h0m3 -84h0m4 -9h0m3 160h0m3 -97h0m4 -36h0m3 -41h0m3 46h0m4 18h0m3 80h0m3 -42h0m4 -17h0m3 -43h0m4 -18h0m3 38h0m3 93h0m4 -29h0m3 -51h0m3 16h0m4 -17h0m3 -11h0m3 -57h0m4 126h0m3 73h0m3 -162h0m4 13h0m3 58h0m3 1h0m4 -33h0m3 -13h0m3 14h0m4 -13h0m3 3h0m3 15h0m4 -20h0m3 -11h0m4 38h0m3 -20h0m3 -94h0m4 1h0m3 4h0m3 47h0m4 74h0m3 -14h0m3 59h0m4 -85h0m3 31h0m3 -89h0m4 71h0m3 27h0m3 -76h0m4 -88h0m3 52h0m3 15h0m4 62h0m3 -3h0m4 -20h0m3 -73h0m3 31h0m4 -17h0m3 69h0m3 -90h0m4 -11h0m3 84h0m3 -82h0m4 23h0m3 57h0m3 -85h0m4 30h0m3 64h0m3 -15h0m4 10h0m3 -52h0m3 2h0m4 45h0m3 -58h0m3 8h0m4 -37h0m3 105h0m4 -1h0m3 -54h0m3 91h0m4 52h0m3 -135h0m3 114h0m4 20h0m3 -59h0m3 -31h0m4 51h0m3 -48h0m3 -58h0m4 50h0m3 -25h0m3 108h0m4 -125h0m3 -22h0m3 31h0m4 23h0m3 2h0m3 -31h0m4 19h0m3 -3h0m4 -44h0m3 80h0m3 -76h0m4 1h0m3 -34h0m3 68h0m4 -33h0m3 -84h0m3 59h0m4 26h0m3 0h0m3 87h0m4 -31h0m3 -20h0m3 -20h0m4 47h0m3 -4h0m3 -134h0m4 95h0m3 61h0m3 5h0m4 16h0m3 7h0m4 -11h0m3 -19h0m3 -61h0m4 103h0m3 -49h0m3 -14h0m4 1h0m3 24h0m3 5h0m4 -159h0m3 -26h0m3 192h0m4 -63h0m3 1h0m3 58h0m4 -86h0m3 -24h0m3 28h0m4 -65h0m3 38h0m3 92h0m4 -33h0m3 79h0m4 11h0m3 -18h0m3 -81h0m4 147h0m3 -126h0m3 52h0m4 -62h0m3 47h0m3 -125h0m4 98h0m3 -23h0m3 29h0m4 -25h0m3 -53h0m3 113h0m4 -29h0m3 24h0m3 -82h0m4 46h0m3 57h0m3 90h0m4 -147h0m3 77h0m4 -52h0m3 -54h0m3 92h0m4 -12h0m3 -163h0m3 101h0m4 17h0m3 -42h0m3 31h0m4 76h0m3 -63h0m3 -59h0m4 69h0m3 -10h0m3 -7h0m4 70h0m3 36h0m3 -7h0m4 -164h0m3 113h0m3 -145h0m4 68h0m3 61h0m4 11h0m3 -166h0m3 5h0m4 -2h0m3 155h0m3 -177h0m4 12h0m3 -1h0m3 77h0m4 9h0m3 -16h0m3 45h0m4 -43h0m3 81h0m3 -82h0m4 80h0m3 -12h0m3 -75h0m4 53h0m3 7h0m3 -6h0m4 37h0m3 -72h0m4 34h0m3 -39h0m3 -34h0m4 87h0m3 -63h0m3 17h0m4 39h0m3 63h0m3 6h0m4 -18h0m3 -17h0m3 22h0m4 -102h0m3 106h0m3 -8h0m4 -108h0m3 96h0m3 -69h0m4 -41h0m3 87h0m3 -56h0m4 10h0m3 47h0m4 -90h0m3 7h0m3 20h0m4 49h0m3 -29h0m3 24h0m4 -52h0m3 60h0m3 75h0m4 62h0m3 -75h0m3 -69h0m4 -34h0m3 -50h0m3 108h0m4 -53h0m3 -82h0m3 76h0m4 -43h0m3 75h0m3 -134h0m4 175h0m3 -83h0m4 171h0m3 -68h0m3 -71h0m4 117h0m3 -116h0m3 -37h0m4 99h0m3 -83h0m3 67h0m4 36h0m3 22h0m3 -105h0m4 -34h0m3 85h0m3 -75h0m4 -22h0m3 -16h0m3 44h0m4 14h0m3 33h0m3 -17h0m4 18h0m3 -47h0m4 -24h0m3 87h0m3 -17h0m4 -101h0m3 133h0m3 -15h0m4 -50h0m3 -27h0m3 -4h0m4 74h0m3 46h0m3 -43h0m4 8h0m3 -92h0m3 -38h0m4 131h0m3 -6h0m3 -21h0m4 -19h0m3 -11h0m3 17h0m4 -53h0m3 44h0m4 24h0m3 -43h0m3 -53h0m4 61h0m3 -80h0m3 25h0m4 84h0m3 -20h0m3 -8h0m4 -22h0m3 22h0m3 -87h0m4 98h0m3 -25h0m3 53h0m4 -67h0m3 35h0m3 106h0m4 -58h0m3 -2h0m3 54h0m4 -2h0m3 -32h0m4 2h0m3 -27h0m3 -26h0m4 -43h0m3 90h0m3 -40h0m4 56h0m3 -28h0m3 -9h0m4 54h0m3 44h0m3 -58h0m4 -34h0m3 -90h0m3 128h0m4 -33h0m3 -56h0m3 44h0m4 22h0m3 14h0m3 -79h0m4 -19h0m3 10h0m4 6h0m3 -34h0m3 -12h0m4 117h0m3 -89h0m3 113h0m4 -68h0m3 -47h0m3 43h0m4 -24h0m3 118h0m3 -127h0m4 74h0m3 -168h0m3 133h0m4 4h0m3 -7h0m3 -23h0m4 31h0m3 -46h0m3 133h0m4 -90h0m3 -29h0m4 -14h0m3 46h0m3 24h0m4 36h0m3 -21h0m3 13h0m4 -73h0m3 -19h0m3 63h0m4 -42h0m3 -8h0m3 87h0m4 -45h0m3 -3h0m3 -41h0m4 -37h0m3 -3h0m3 -44h0m4 116h0m3 11h0m3 -5h0m4 86h0m3 -67h0m4 -96h0m3 54h0m3 6h0m4 1h0m3 -21h0m3 -25h0m4 70h0m3 -51h0m3 73h0m4 -17h0m3 21h0m3 3h0m4 -45h0m3 103h0m3 -42h0m4 10h0m3 -4h0m3 1h0m4 -31h0m3 -18h0m3 -48h0m4 92h0m3 -76h0m4 18h0m3 3h0m3 27h0m4 -12h0m3 -21h0m3 4h0m4 23h0m3 39h0m3 2h0m4 -45h0m3 33h0m3 -4h0m4 -187h0m3 134h0m3 -72h0m4 73h0m3 44h0m3 66h0m4 -75h0m3 -41h0m3 46h0m4 -100h0m3 46h0m4 36h0m3 -75h0m3 178h0m4 -195h0m3 91h0m3 -16h0m4 -48h0m3 3h0m3 -40h0m4 60h0m3 -26h0m3 25h0m4 -24h0m3 27h0m3 10h0m4 36h0m3 -161h0m3 73h0m4 67h0m3 -47h0m3 -54h0m4 37h0m3 101h0m4 -122h0m3 48h0m3 86h0m4 -64h0m3 -73h0m3 87h0m4 -19h0m3 -41h0m3 140h0m4 -72h0m3 36h0m3 -20h0m4 -20h0m3 -87h0m3 38h0m4 56h0m3 9h0m3 -2h0m4 46h0m3 -119h0m3 -18h0m4 54h0m3 59h0m4 -29h0m3 -61h0m3 5h0m4 41h0m3 -35h0m3 -38h0m4 146h0m3 -50h0m3 -93h0m4 54h0m3 54h0m3 -71h0m4 40h0m3 -13h0m3 -16h0m4 117h0m3 -60h0m3 -54h0m4 69h0m3 -68h0m3 -14h0m4 72h0m3 -79h0m4 16h0m3 7h0m3 -52h0m4 97h0m3 84h0m3 -42h0m4 -154h0m3 102h0m3 53h0m4 -20h0m3 13h0m3 -43h0m4 114h0m3 -29h0m3 50h0m4 -78h0m3 -45h0m3 22h0m4 70h0m3 -83h0m3 -44h0m4 55h0m3 -45h0m4 98h0m3 -67h0m3 28h0m4 89h0m3 -85h0m3 -70h0m4 55h0m3 46h0m3 -55h0m4 -14h0m3 11h0m3 95h0m4 28h0m3 -166h0m3 99h0m4 -8h0m3 15h0m3 56h0m4 -27h0m3 -79h0m4 75h0m3 -68h0m3 98h0m4 -79h0m3 42h0m3 -72h0m4 49h0m3 -57h0m3 43h0m4 49h0m3 -87h0m3 -37h0m4 89h0m3 -22h0m3 -17h0m4 36h0m3 -29h0m3 40h0m4 -47h0m3 -9h0m3 -13h0m4 87h0m3 34h0m4 -40h0m3 -35h0m3 61h0m4 -37h0m3 23h0m3 15h0m4 -121h0m3 107h0m3 -21h0m4 -23h0m3 -4h0m3 12h0m4 -22h0m3 24h0m3 -91h0m4 88h0m3 -55h0m3 67h0m4 4h0m3 5h0m3 -40h0m4 1h0m3 -6h0m4 -51h0m3 59h0m3 44h0m4 -63h0m3 -10h0m3 78h0m4 -77h0m3 72h0m3 -116h0m4 -56h0m3 54h0m3 46h0m4 -13h0m3 79h0m3 20h0m4 -129h0m3 32h0m3 -86h0m4 85h0m3 18h0m3 -32h0m4 17h0m3 -22h0m4 27h0m3 -24h0m3 107h0m4 -145h0m3 55h0m3 -38h0m4 72h0m3 -76h0m3 -54h0m4 -2h0m3 169h0m3 -99h0m4 1h0m3 28h0m3 39h0m4 -165h0m3 87h0m3 -61h0m4 29h0m3 41h0m3 52h0m4 -64h0m3 0h0m4 -37h0m3 99h0m3 49h0m4 -91h0m3 -24h0m3 -37h0m4 101h0m3 -93h0m3 98h0m4 -24h0m3 12h0m3 66h0m4 -34h0m3 -163h0m3 80h0m4 35h0m3 11h0m3 -92h0m4 33h0m3 49h0m3 9h0m4 -61h0m3 193h0m4 -145h0m3 64h0m3 -97h0m4 17h0m3 25h0m3 58h0m4 -47h0m3 17h0m3 59h0m4 -53h0m3 23h0m3 -33h0m4 -30h0m3 30h0m3 -73h0m4 -34h0m3 142h0m3 -14h0m4 -16h0m3 -86h0m3 91h0m4 13h0m3 4h0m4 -107h0m3 57h0m3 86h0m4 -1h0m3 -75h0m3 -42h0m4 7h0m3 33h0m3 10h0m4 11h0m3 -43h0m3 136h0m4 31h0m3 -219h0m3 105h0m4 -36h0m3 -46h0m3 14h0m4 -23h0m3 28h0m3 -54h0m4 77h0m3 -18h0m4 70h0m3 -42h0m3 -41h0m4 -66h0m3 112h0m3 -39h0m4 61h0m3 -58h0m3 65h0m4 22h0m3 -81h0m3 35h0m4 -37h0m3 -91h0m3 74h0m4 43h0m3 9h0m3 -126h0m4 106h0m3 10h0m3 17h0m4 -95h0m3 0h0m4 63h0m3 -2h0m3 -9h0m4 7h0m3 -19h0m3 -26h0m4 -30h0m3 83h0m3 91h0m4 -145h0m3 91h0m3 -100h0m4 72h0m3 -156h0m3 122h0m4 36h0m3 -94h0m3 -31h0m4 90h0m3 -157h0m3 49h0m4 83h0m3 6h0m4 62h0m3 -101h0m3 79h0m4 11h0m3 32h0m3 -98h0m4 110h0m3 -108h0m3 -44h0m4 103h0m3 -153h0m3 109h0m4 18h0m3 45h0m3 -26h0m4 -35h0m3 23h0m3 -56h0m4 -55h0m3 86h0m3 28h0m4 83h0m3 -115h0m4 50h0m3 -5h0m3 -15h0m4 -36h0m3 52h0m3 -99h0m4 3h0m3 49h0m3 56h0m4 -144h0m3 -47h0m3 46h0m4 -9h0m3 97h0m3 32h0m4 -137h0m3 -29h0m3 135h0m4 -52h0m3 58h0m3 61h0m4 -110h0m3 7h0m4 -20h0m3 -7h0m3 24h0m4 24h0m3 -11h0m3 23h0m4 -54h0m3 44h0m3 -56h0m4 33h0m3 4h0m3 -44h0m4 29h0m3 89h0m3 -57h0m4 96h0m3 -32h0m3 5h0m4 -126h0m3 -3h0m3 67h0m4 -45h0m3 -22h0m4 22h0m3 149h0m3 -124h0m4 113h0m3 -65h0m3 78h0m4 -31h0m3 -29h0m3 -78h0m4 47h0m3 -63h0m3 55h0m4 -103h0m3 89h0m3 115h0m4 -171h0m3 51h0m3 86h0m4 -48h0m3 34h0m3 -34h0m4 -39h0m3 -18h0m4 42h0m3 -28h0m3 -21h0m4 134h0m3 -66h0m3 44h0m4 -51h0m3 126h0m3 -163h0m4 104h0m3 -127h0m3 61h0m4 82h0m3 -97h0m3 -69h0m4 92h0m3 -32h0m3 114h0m4 -121h0m3 28h0m3 88h0m4 -8h0m3 -71h0m4 -27h0m3 33h0m3 -14h0m4 -20h0m3 -13h0m3 40h0m4 -105h0m3 59h0m3 -41h0m4 113h0m3 -64h0m3 -49h0m4 47h0m3 14h0m3 -10h0m4 50h0m3 -61h0m3 43h0m4 -43h0m3 -30h0m3 72h0m4 -48h0m3 72h0m4 -17h0m3 -48h0m3 29h0m4 -43h0m3 106h0m3 -23h0m4 3h0m3 -71h0m3 -51h0m4 40h0m3 100h0m3 -98h0m4 53h0m3 61h0m3 -95h0m4 -28h0m3 -17h0m3 116h0m4 2h0m3 -49h0m3 -35h0m4 -53h0m3 71h0m4 80h0m3 -67h0m3 17h0m4 19h0m3 -61h0m3 -5h0m4 85h0m3 -30h0m3 48h0m4 -52h0m3 -71h0m3 -13h0m4 13h0m3 21h0m3 38h0m4 37h0m3 57h0m3 -49h0m4 -20h0m3 -34h0m3 22h0m4 -18h0m3 -33h0m4 -11h0m3 93h0m3 -98h0m4 -4h0m3 78h0m3 10h0m4 -31h0m3 -96h0m3 56h0m4 -58h0m3 163h0m3 -64h0m4 62h0m3 -109h0m3 56h0m4 51h0m3 -116h0m3 126h0m4 -175h0m3 101h0m3 -79h0m4 51h0m3 70h0m4 24h0m3 -63h0m3 35h0m4 -137h0m3 23h0m3 83h0m4 18h0m3 -28h0m3 -4h0m4 73h0m3 -14h0m3 -41h0m4 -88h0m3 93h0m3 -13h0m4 -33h0m3 146h0m3 -154h0m4 97h0m3 -152h0m3 61h0m4 -2h0m3 -8h0m4 64h0m3 46h0m3 28h0m4 -77h0m3 -59h0m3 -8h0m4 60h0m3 -85h0m3 95h0m4 -29h0m3 102h0m3 -47h0m4 -6h0m3 -68h0m3 -40h0m4 74h0m3 -1h0m3 -40h0m4 -66h0m3 159h0m4 -104h0m3 -7h0m3 86h0m4 66h0m3 -151h0m3 126h0m4 -46h0m3 42h0m3 -43h0m4 -166h0m3 165h0m3 -4h0m4 -36h0m3 23h0m3 -1h0m4 11h0m3 -13h0m3 26h0m4 85h0m3 -76h0m3 91h0m4 -83h0m3 51h0m4 48h0m3 -140h0m3 89h0m4 -147h0m3 110h0m3 -168h0m4 226h0m3 -92h0m3 91h0m4 -96h0m3 43h0m3 -68h0m4 10h0m3 23h0m3 -2h0m4 86h0m3 15h0m3 -28h0m4 76h0m3 -126h0m3 -11h0m4 23h0m3 27h0m4 26h0m3 -112h0m3 34h0m4 78h0m3 -28h0m3 -59h0m4 28h0m3 -29h0m3 25h0m4 -34h0m3 28h0m3 -35h0m4 101h0m3 -82h0m3 89h0m4 -61h0m3 -5h0m3 32h0m4 -79h0m3 69h0m3 -82h0m4 109h0m3 -47h0m4 105h0m3 -68h0m3 37h0m4 -89h0m3 -36h0m3 168h0m4 -59h0m3 19h0m3 -95h0m4 42h0m3 37h0m3 -97h0m4 15h0m3 26h0m3 48h0m4 -88h0m3 12h0m3 -17h0m4 -27h0m3 42h0m3 47h0m4 -93h0m3 198h0m4 -138h0m3 78h0m3 -44h0m4 -34h0m3 90h0m3 -47h0m4 -35h0m3 9h0m3 -21h0m4 73h0m3 -11h0m3 -21h0m4 35h0m3 -24h0m3 1h0m4 -71h0m3 -19h0m3 54h0m4 33h0m3 -71h0m3 -56h0m4 18h0m3 75h0m4 -108h0m3 109h0m3 12h0m4 40h0m3 -47h0m3 -47h0m4 27h0m3 22h0m3 0h0m4 -20h0m3 42h0m3 -47h0m4 -26h0m3 54h0m3 -24h0m4 18h0m3 -121h0m3 80h0m4 17h0m3 13h0m3 -10h0m4 61h0m3 -50h0m4 -26h0m3 72h0m3 -126h0m4 54h0m3 -39h0m3 11h0m4 63h0m3 -80h0m3 169h0m4 -102h0m3 54h0m3 -18h0m4 -19h0m3 -8h0m3 46h0m4 -107h0m3 19h0m3 56h0m4 -87h0m3 13h0m3 42h0m4 -6h0m3 59h0m4 -75h0m3 -35h0m3 41h0m4 -38h0m3 60h0m3 21h0m4 -67h0m3 52h0m3 -38h0m4 -20h0m3 71h0m3 -32h0m4 2h0m3 10h0m3 -67h0m4 26h0m3 -56h0m3 53h0m4 -32h0m3 98h0m3 -61h0m4 51h0m3 -19h0m4 -16h0m3 -22h0m3 -84h0m4 53h0m3 56h0m3 -8h0m4 19h0m3 89h0m3 -44h0m4 -77h0m3 38h0m3 -7h0m4 23h0m3 -97h0m3 172h0m4 -114h0m3 -9h0m3 -13h0m4 69h0m3 15h0m3 -92h0m4 59h0m3 -3h0m4 11h0m3 -74h0m3 -16h0m4 92h0m3 -12h0m3 -11h0m4 -3h0m3 -73h0m3 44h0m4 7h0m3 -15h0m3 -18h0m4 0h0m3 -65h0m3 177h0m4 -163h0m3 -16h0m3 -26h0m4 91h0m3 -92h0m3 99h0m4 17h0m3 -3h0m4 -42h0m3 -60h0m3 135h0m4 -112h0m3 27h0m3 48h0m4 88h0m3 -207h0m3 28h0m4 102h0m3 -44h0m3 -57h0m4 68h0m3 -7h0m3 -11h0m4 53h0m3 -90h0m3 80h0m4 -63h0m3 109h0m3 -70h0m4 -76h0m3 -64h0m4 90h0m3 -11h0m3 58h0m4 76h0m3 -5h0m3 -39h0m4 -65h0m3 15h0m3 61h0m4 120h0m3 -213h0m3 37h0m4 42h0m3 -61h0m3 69h0m4 -7h0m3 29h0m3 -69h0m4 45h0m3 21h0m3 -64h0m4 99h0m3 -120h0m4 55h0m3 0h0m3 -47h0m4 30h0m3 45h0m3 -37h0m4 -35h0m3 69h0m3 -24h0m4 -91h0m3 145h0m3 -69h0m4 -30h0m3 62h0m3 27h0m4 -24h0m3 48h0m3 -10h0m4 20h0m3 44h0m3 -92h0m4 111h0m3 5h0m4 -19h0m3 -58h0m3 50h0m4 -136h0m3 64h0m3 1h0m4 43h0m3 -65h0m3 -3h0m4 -12h0m3 -45h0m3 41h0m4 67h0m3 20h0m3 -44h0m4 24h0m3 -47h0m3 -27h0m4 80h0m3 -42h0m3 -123h0m4 80h0m3 16h0m4 59h0m3 -79h0m3 98h0m4 -12h0m3 -106h0m3 67h0m4 -35h0m3 35h0m3 -30h0m4 -33h0m3 107h0m3 -30h0m4 -31h0m3 -2h0m3 53h0m4 -15h0m3 -2h0m3 59h0m4 -10h0m3 -74h0m3 48h0m4 -52h0m3 31h0m4 5h0m3 -72h0m3 35h0m4 67h0m3 -78h0m3 116h0m4 -1h0m3 -126h0m3 40h0m4 -6h0m3 65h0m3 -53h0m4 -7h0m3 -7h0m3 63h0m4 -68h0m3 43h0m3 30h0m4 -88h0m3 11h0m3 29h0m4 3h0m3 -1h0m4 -35h0m3 -45h0m3 39h0m4 -25h0m3 42h0m3 85h0m4 89h0m3 -217h0m3 92h0m4 65h0m3 -115h0m3 21h0m4 1h0m3 -49h0m3 44h0m4 47h0m3 -25h0m3 37h0m4 -102h0m3 -10h0m3 37h0m4 65h0m3 -76h0m4 105h0m3 -174h0m3 50h0m4 11h0m3 32h0m3 -72h0m4 126h0m3 -60h0m3 -45h0m4 92h0m3 -46h0m3 108h0m4 -104h0m3 -33h0m3 70h0m4 -20h0m3 -15h0m3 4h0m4 -93h0m3 -8h0m3 -19h0m4 1h0m3 17h0m4 16h0m3 20h0m3 60h0m4 65h0m3 -124h0m3 46h0m4 -119h0m3 70h0m3 -63h0m4 7h0m3 60h0m3 7h0m4 50h0m3 -25h0m3 -15h0m4 -31h0m3 1h0m3 68h0m4 -57h0m3 -41h0m3 136h0m4 -58h0m3 31h0m4 -38h0m3 -26h0m3 8h0m4 31h0m3 -83h0m3 36h0m4 -11h0m3 -23h0m3 22h0m4 -82h0m3 79h0m3 -57h0m4 -72h0m3 26h0m3 154h0m4 -83h0m3 53h0m3 -38h0m4 -16h0m3 58h0m3 68h0m4 18h0m3 -79h0m4 21h0m3 -128h0m3 94h0m4 131h0m3 -142h0m3 106h0m4 -36h0m3 -57h0m3 -5h0m4 -69h0m3 -22h0m3 163h0m4 -128h0m3 57h0m3 -26h0m4 36h0m3 -31h0m3 17h0m4 9h0m3 -33h0m3 -6h0m4 -34h0m3 97h0m4 -34h0m3 -119h0m3 152h0m4 -43h0m3 -81h0m3 55h0m4 106h0m3 -47h0m3 -47h0m4 96h0m3 -61h0m3 -26h0m4 -11h0m3 106h0m3 -88h0m4 54h0m3 -129h0m3 24h0m4 117h0m3 -128h0m4 99h0m3 -79h0m3 40h0m4 27h0m3 -55h0m3 7h0m4 45h0m3 -13h0m3 125h0m4 -182h0m3 67h0m3 -14h0m4 -36h0m3 -13h0m3 70h0m4 -81h0m3 3h0m3 130h0m4 -150h0m3 25h0m3 107h0m4 -91h0m3 4h0m4 49h0m3 3h0m3 -85h0m4 -13h0m3 -31h0m3 89h0m4 42h0m3 -14h0m3 -46h0m4 -19h0m3 60h0m3 -69h0m4 76h0m3 -74h0m3 77h0m4 71h0m3 -121h0m3 41h0m4 64h0m3 -44h0m3 -13h0m4 2h0m3 -7h0m4 5h0m3 21h0m3 13h0m4 -61h0m3 55h0m3 -56h0m4 23h0m3 -93h0m3 121h0m4 -53h0m3 11h0m3 -60h0m4 36h0m3 1h0m3 81h0m4 17h0m3 -53h0m3 42h0m4 -50h0m3 -30h0m3 -40h0m4 0h0m3 14h0m4 23h0m3 20h0m3 -3h0m4 -120h0m3 79h0m3 36h0m4 -64h0m3 -17h0m3 19h0m4 27h0m3 -66h0m3 185h0m4 -147h0m3 -33h0m3 -27h0m4 48h0m3 -25h0m3 16h0m4 18h0m3 21h0m3 83h0m4 -111h0m3 3h0m4 50h0m3 -61h0m3 39h0m4 22h0m3 58h0m3 -3h0m4 -78h0m3 49h0m3 -80h0m4 100h0m3 -40h0m3 84h0m4 -43h0m3 39h0m3 -63h0m4 36h0m3 15h0m3 92h0m4 -93h0m3 -96h0m3 183h0m4 -48h0m3 -54h0m4 52h0m3 -102h0m3 42h0m4 17h0m3 -104h0m3 89h0m4 -48h0m3 8h0m3 52h0m4 21h0m3 -11h0m3 116h0m4 -108h0m3 -14h0m3 75h0m4 -100h0m3 25h0m3 27h0m4 -1h0m3 -64h0m3 61h0m4 -71h0m3 -35h0m4 -28h0m3 26h0m3 15h0m4 37h0m3 -74h0m3 162h0m4 -167h0m3 56h0m3 26h0m4 -41h0m3 15h0m3 31h0m4 35h0m3 -142h0m3 60h0m4 -44h0m3 123h0m3 2h0m4 -34h0m3 -103h0m3 40h0m4 -61h0m3 190h0m4 -86h0m3 -54h0m3 130h0m4 -24h0m3 -3h0m3 -73h0m4 11h0m3 -12h0m3 -46h0m4 88h0m3 -9h0m3 7h0m4 31h0m3 -125h0m3 138h0m4 -102h0m3 -10h0m3 -56h0m4 -19h0m3 54h0m3 47h0m4 90h0m3 -79h0m4 -57h0m3 3h0m3 4h0m4 44h0m3 -13h0m3 31h0m4 -3h0m3 46h0m3 -14h0m4 -22h0m3 -45h0m3 18h0m4 -2h0m3 -4h0m3 100h0m4 -104h0m3 70h0m3 18h0m4 13h0m3 -39h0m3 15h0m4 -133h0m3 152h0m4 -20h0m3 -28h0m3 -36h0m4 -42h0m3 -35h0m3 101h0m4 -30h0m3 59h0m3 -45h0m4 67h0m3 -52h0" stroke="#060606" stroke-width="43" stroke-linecap="round"/></g>
<path d="M889.5 297.8H1861" stroke="#ed1c24" stroke-width="3.4" stroke-dasharray="10 7" fill="none"/>
<path d="M975.4 189.7V403.5" stroke="#000" stroke-width="2.6" stroke-dasharray="6.5 5" fill="none"/>
<path d="M894.5 188.4V403.5H1860.5M889 189.7H894.5M889 225.3H894.5M889 261H894.5M889 296.6H894.5M889 332.2H894.5M889 367.9H894.5M889 403.5H894.5M895 403.5V410.3M975.4 403.5V410.3M1055.7 403.5V410.3M1136 403.5V410.3M1216.4 403.5V410.3M1296.8 403.5V410.3M1377.1 403.5V410.3M1457.4 403.5V410.3M1537.8 403.5V410.3M1618.2 403.5V410.3M1698.5 403.5V410.3M1778.8 403.5V410.3M1859.2 403.5V410.3" stroke="#000" stroke-width="2.7" fill="none"/>
<text x="835.3" y="198.7" font-size="30.35">1.3</text>
<text x="835.3" y="234.3" font-size="30.59">1.2</text>
<text x="835.3" y="270" font-size="30.47">1.1</text>
<text x="835.3" y="305.6" font-size="30.23">1.0</text>
<text x="836.4" y="341.2" font-size="29.66">0.9</text>
<text x="836.4" y="376.9" font-size="29.54">0.8</text>
<text x="836.4" y="412.5" font-size="29.77">0.7</text>
<text x="886.7" y="443.2" font-size="29.70">0</text>
<text x="950.6" y="443.2" font-size="29.70">300</text>
<text x="1030.8" y="443.2" font-size="29.70">600</text>
<text x="1111.2" y="443.2" font-size="29.70">900</text>
<text x="1182.8" y="443.2" font-size="29.70">1200</text>
<text x="1263.1" y="443.2" font-size="29.70">1500</text>
<text x="1343.5" y="443.2" font-size="29.70">1800</text>
<text x="1424.2" y="443.2" font-size="29.70">2100</text>
<text x="1504.5" y="443.2" font-size="29.70">2400</text>
<text x="1584.9" y="443.2" font-size="29.70">2700</text>
<text x="1665.4" y="443.2" font-size="29.70">3000</text>
<text x="1745.7" y="443.2" font-size="29.70">3300</text>
<text x="1826.1" y="443.2" font-size="29.70">3600</text>
<text x="1324" y="484.7" font-size="29.56">Time (s)</text>
<text transform="translate(816.8 300.5) rotate(-90)" font-size="28.2" text-anchor="middle">ΔF/Fn</text>
<text x="958.6" y="171.5" font-size="29.79">i.p.</text>
<text x="1131.4" y="137" font-size="29.58">mpARH-Projecting ERα</text>
<text x="1443.9" y="125.5" font-size="20.32">vlVMH</text>
<text x="1509.6" y="137" font-size="29.47">Neurons</text>
<text x="1012" y="341.8" font-size="22.87" fill="#000">Saline (i.p.)</text>
<text x="1011.9" y="367" font-size="22.90" fill="#ed1c24">Glucose (i.p.)</text>
<text x="1010.9" y="393.4" font-size="23.09" fill="#3953a4">Insulin (i.p.)</text>
<path d="M1866 239.8H1875.9V293.3H1866" stroke="#000" stroke-width="3.2" fill="none" stroke-linejoin="round"/>
<path d="M1866 303.6H1876.2V357.1H1866" stroke="#000" stroke-width="3.2" fill="none" stroke-linejoin="round"/>
<text x="1880.3" y="286.8" font-size="48" font-weight="bold" letter-spacing="2.7">***</text>
<text x="1881.2" y="351.9" font-size="48" font-weight="bold" letter-spacing="2.7">***</text>
<g transform="scale(.1)" fill="none"><path d="M0 0m8950 8536V8646m-20 0h40m-10 -123V8632m-20 0h40m-10 -95V8641m-20 0h40m-10 -38V8723m-20 0h40m-10 -155V8665m-20 0h40m-10 -144V8633m-20 0h40m-10 -121V8616m-20 0h40m-10 -82V8622m-20 0h40m-10 -171V8568m-20 0h40m-10 -63V8607m-20 0h40m-10 -96V8611m-20 0h40m-10 -118V8611m-20 0h40m-9 -152V8574m-20 0h40m-10 -23V8666m-20 0h40m-10 -158V8608m-20 0h40m-10 -92V8621m-20 0h40m-10 -134V8607m-20 0h40m-10 -141V8581m-20 0h40m-10 -112V8594m-20 0h40m-10 -39V8670m-20 0h40m-10 -132V8631m-20 0h40m-10 -125V8603m-20 0h40m-10 -40V8675m-20 0h40m-10 -108V8678m-20 0h40m-10 -150V8648m-20 0h40m-10 -87V8664m-20 0h40m-10 -56V8706m-20 0h40m-10 -161V8665m-20 0h40m-10 -44V8719m-20 0h40m-10 -227V8596m-20 0h40m-10 -76V8622m-20 0h40m-10 -88V8631m-20 0h40m-10 -88V8631m-20 0h40m-10 -67V8678m-20 0h40m-10 -111V8673m-20 0h40m-9 -172V8610m-20 0h40m-10 -38V8672m-20 0h40m-10 -94V8679m-20 0h40m-10 -157V8619m-20 0h40m-10 -101V8621m-20 0h40m-10 -98V8600m-20 0h40m-10 -99V8617m-20 0h40m-10 -64V8666m-20 0h40m-10 -105V8658m-20 0h40m-10 -95V8663m-20 0h40m-10 -140V8641m-20 0h40m-10 -44V8683m-20 0h40m-10 -67V8697m-20 0h40m-10 -92V8712m-20 0h40m-10 -129V8687m-20 0h40m-10 -173V8608m-20 0h40m-10 -17V8702m-20 0h40m-10 -176V8620m-20 0h40m-10 -79V8631m-20 0h40m-10 -66V8677m-20 0h40m-10 -86V8688m-20 0h40m-10 -137V8667m-20 0h40m-10 -157V8601m-20 0h40m-9 -77V8637m-20 0h40m-10 -183V8558m-20 0h40m-10 1V8652m-20 0h40m-10 -156V8606m-20 0h40m-10 -150V8556m-20 0h40m-10 -45V8594m-20 0h40m-10 11V8717m-20 0h40m-10 -170V8644m-20 0h40m-10 -78V8698m-20 0h40m-10 -203V8615m-20 0h40m-10 -105V8638m-20 0h40m-10 -115V8636m-20 0h40m-10 -98V8644m-20 0h40m-10 -58V8695m-20 0h40m-10 -187V8622m-20 0h40m-10 -32V8696m-20 0h40m-10 -120V8694m-20 0h40m-10 -71V8725m-20 0h40m-10 -110V8719m-20 0h40m-10 -158V8690m-20 0h40m-10 -119V8688m-20 0h40m-10 -181V8617m-20 0h40m-9 -51V8672m-20 0h40m-10 -144V8621m-20 0h40m-10 -127V8607m-20 0h40m-10 -82V8625m-20 0h40m-10 -1V8726m-20 0h40m-10 -96V8716m-20 0h40m-10 -54V8780m-20 0h40m-10 -97V8795m-20 0h40m-10 -118V8777m-20 0h40m-10 -99V8787m-20 0h40m-10 -137V8748m-20 0h40m-10 -126V8729m-20 0h40m-10 -109V8689m-20 0h40m-10 -68V8736m-20 0h40m-10 -155V8701m-20 0h40m-10 -164V8656m-20 0h40m-10 -60V8718m-20 0h40m-10 -143V8686m-20 0h40m-10 -128V8674m-20 0h40m-10 -13V8759m-20 0h40m-10 -56V8803m-20 0h40m-10 -225V8675m-20 0h40m-10 -41V8733m-20 0h40m-9 -47V8792m-20 0h40m-10 -169V8723m-20 0h40m-10 -113V8729m-20 0h40m-10 -57V8795m-20 0h40m-10 -115V8802m-20 0h40m-10 -152V8764m-20 0h40m-10 -195V8679m-20 0h40m-10 -49V8760m-20 0h40m-10 -127V8738m-20 0h40m-10 -93V8761m-20 0h40m-10 -200V8675m-20 0h40m-10 -97V8687m-20 0h40m-10 -58V8744m-20 0h40m-10 -153V8700m-20 0h40m-10 -108V8697m-20 0h40m-10 -60V8735m-20 0h40m-10 -159V8675m-20 0h40m-10 -71V8709m-20 0h40m-10 -100V8733m-20 0h40m-10 -116V8717m-20 0h40m-10 -169V8660m-20 0h40m-10 -43V8715m-20 0h40m-10 -98V8722m-20 0h40m-9 -117V8709m-20 0h40m-10 -91V8719m-20 0h40m-10 -113V8717m-20 0h40m-10 -136V8680m-20 0h40m-10 -85V8701m-20 0h40m-10 -88V8726m-20 0h40m-10 -153V8680m-20 0h40m-10 -22V8774m-20 0h40m-10 -236V8636m-20 0h40m-10 -81V8657m-20 0h40m-10 -34V8725m-20 0h40m-10 -108V8731m-20 0h40m-10 -107V8733m-20 0h40m-10 -82V8752m-20 0h40m-10 -174V8750m-20 0h40m-10 -157V8716m-20 0h40m-10 -117V8714m-20 0h40m-10 -70V8744m-20 0h40m-10 -197V8647m-20 0h40m-10 -26V8705m-20 0h40m-10 -58V8756m-20 0h40m-10 -153V8700m-20 0h40m-10 -62V8740m-20 0h40m-9 -40V8816m-20 0h40m-10 -242V8683m-20 0h40m-10 -74V8722m-20 0h40m-10 -164V8664m-20 0h40m-10 -51V8698m-20 0h40m-10 -51V8741m-20 0h40m-10 -96V8754m-20 0h40m-10 -134V8736m-20 0h40m-10 -59V8775m-20 0h40m-10 -100V8769m-20 0h40m-10 -170V8711m-20 0h40m-10 42V8894m-20 0h40m-10 -258V8741m-20 0h40m-10 -107V8753m-20 0h40m-10 -80V8779m-20 0h40m-10 -129V8761m-20 0h40m-10 -72V8794m-20 0h40m-10 -125V8767m-20 0h40m-10 -121V8805m-20 0h40m-10 -204V8691m-20 0h40m-10 -33V8780m-20 0h40m-10 -270V8611m-20 0h40m-10 -104V8611m-20 0h40m-9 -73V8642m-20 0h40m-10 -74V8666m-20 0h40m-10 -102V8670m-20 0h40m-10 -35V8728m-20 0h40m-10 -93V8748m-20 0h40m-10 -84V8796m-20 0h40m-10 -152V8761m-20 0h40m-10 -138V8737m-20 0h40m-10 -23V8808m-20 0h40m-10 -162V8764m-20 0h40m-10 -107V8761m-20 0h40m-10 -98V8775m-20 0h40m-10 -156V8718m-20 0h40m-10 -87V8741m-20 0h40m-10 -121V8734m-20 0h40m-10 -66V8770m-20 0h40m-10 -163V8720m-20 0h40m-10 -133V8692m-20 0h40m-10 -27V8759m-20 0h40m-10 -92V8770m-20 0h40m-10 -129V8720m-20 0h40m-10 -145V8680m-20 0h40m-10 -115V8666m-20 0h40m-9 -61V8718m-20 0h40m-10 -122V8706m-20 0h40m-10 -10V8807m-20 0h40m-10 -194V8714m-20 0h40m-10 -149V8674m-20 0h40m-10 -59V8713m-20 0h40m-10 -142V8671m-20 0h40m-10 -121V8668m-20 0h40m-10 -102V8670m-20 0h40m-10 -47V8733m-20 0h40m-10 -124V8719m-20 0h40m-10 -98V8714m-20 0h40m-10 -91V8749m-20 0h40m-10 -145V8728m-20 0h40m-10 -205V8645m-20 0h40m-10 7V8766m-20 0h40m-10 -82V8799m-20 0h40m-10 -249V8668m-20 0h40m-10 -60V8710m-20 0h40m-10 -32V8787m-20 0h40m-10 -135V8744m-20 0h40m-10 -49V8786m-20 0h40m-10 -124V8751m-20 0h40m-9 -203V8656m-20 0h40m-10 -58V8731m-20 0h40m-10 -104V8740m-20 0h40m-10 -134V8714m-20 0h40m-10 -111V8720m-20 0h40m-10 -77V8735m-20 0h40m-10 -121V8736m-20 0h40m-10 -65V8785m-20 0h40m-10 -134V8774m-20 0h40m-10 -131V8759m-20 0h40m-10 -148V8720m-20 0h40m-10 -95V8712m-20 0h40m-10 -75V8760m-20 0h40m-10 -48V8826m-20 0h40m-10 -209V8716m-20 0h40m-10 -30V8790m-20 0h40m-10 -69V8833m-20 0h40m-10 -126V8804m-20 0h40m-10 -149V8756m-20 0h40m-10 -82V8778m-20 0h40m-10 -42V8873m-20 0h40m-10 -229V8760m-20 0h40m-10 -58V8795m-20 0h40m-9 -101V8801m-20 0h40m-10 -92V8827m-20 0h40m-10 -100V8841m-20 0h40m-10 -182V8778m-20 0h40m-10 -56V8815m-20 0h40m-10 -90V8820m-20 0h40m-10 -113V8845m-20 0h40m-10 -43V8913m-20 0h40m-10 -182V8826m-20 0h40m-10 -95V8844m-20 0h40m-10 -90V8857m-20 0h40m-10 -161V8809m-20 0h40m-10 -25V8878m-20 0h40m-10 -191V8798m-20 0h40m-10 2V8899m-20 0h40m-10 -208V8806m-20 0h40m-10 -86V8828m-20 0h40m-10 -148V8818m-20 0h40m-10 -73V8858m-20 0h40m-10 -87V8891m-20 0h40m-10 -159V8842m-20 0h40m-10 -71V8867m-20 0h40m-9 -117V8857m-20 0h40m-10 -169V8820m-20 0h40m-10 -216V8722m-20 0h40m-10 -85V8746m-20 0h40m-10 -93V8750m-20 0h40m-10 -153V8716m-20 0h40m-10 -39V8773m-20 0h40m-10 -120V8765m-20 0h40m-10 -43V8837m-20 0h40m-10 -147V8798m-20 0h40m-10 -136V8787m-20 0h40m-10 -207V8700m-20 0h40m-10 -23V8792m-20 0h40m-10 -114V8775m-20 0h40m-10 -224V8661m-20 0h40m-10 -92V8688m-20 0h40m-10 -103V8689m-20 0h40m-10 -97V8702m-20 0h40m-10 -48V8764m-20 0h40m-10 -195V8674m-20 0h40m-10 -112V8662m-20 0h40m-10 -117V8648m-20 0h40m-10 -108V8649m-20 0h40m-9 -147V8615m-20 0h40m-10 11V8727m-20 0h40m-10 -75V8757m-20 0h40m-10 -131V8731m-20 0h40m-10 -152V8692m-20 0h40m-10 -71V8711m-20 0h40m-10 -118V8699m-20 0h40m-10 -191V8631m-20 0h40m-10 -109V8630m-20 0h40m-10 -84V8641m-20 0h40m-10 -61V8703m-20 0h40m-10 -134V8663m-20 0h40m-10 -81V8682m-20 0h40m-10 -95V8689m-20 0h40m-10 -71V8737m-20 0h40m-10 -143V8700m-20 0h40m-10 -161V8642m-20 0h40m-10 -143V8612m-20 0h40m-10 59V8776m-20 0h40m-10 -212V8662m-20 0h40m-10 -27V8749m-20 0h40m-10 -98V8743m-20 0h40m-10 -182V8676m-20 0h40m-9 -29V8749m-20 0h40m-10 -152V8719m-20 0h40m-10 -112V8714m-20 0h40m-10 -178V8633m-20 0h40m-10 -51V8693m-20 0h40m-10 -149V8647m-20 0h40m-10 -14V8722m-20 0h40m-10 -150V8684m-20 0h40m-10 -176V8639m-20 0h40m-10 -52V8709m-20 0h40m-10 -127V8677m-20 0h40m-10 -125V8657m-20 0h40m-10 -171V8587m-20 0h40m-10 -49V8649m-20 0h40m-10 -39V8736m-20 0h40m-10 -166V8680m-20 0h40m-10 -209V8588m-20 0h40m-10 2V8704m-20 0h40m-10 -146V8669m-20 0h40m-10 -187V8604m-20 0h40m-10 -1V8709m-20 0h40m-10 -59V8759m-20 0h40m-10 -130V8725m-20 0h40m-9 -124V8693m-20 0h40m-10 -162V8652m-20 0h40m-10 -65V8673m-20 0h40m-10 -75V8696m-20 0h40m-10 -147V8642m-20 0h40m-10 -27V8720m-20 0h40m-10 -86V8722m-20 0h40m-10 -151V8680m-20 0h40m-10 -90V8678m-20 0h40m-10 -40V8747m-20 0h40m-10 -197V8659m-20 0h40m-10 -154V8606m-20 0h40m-10 8V8729m-20 0h40m-10 -156V8686m-20 0h40m-10 -74V8728m-20 0h40m-10 -83V8731m-20 0h40m-10 -98V8748m-20 0h40m-10 4V8883m-20 0h40m-10 -157V8826m-20 0h40m-10 -183V8740m-20 0h40m-10 -129V8708m-20 0h40m-10 -132V8690m-20 0h40m-10 -69V8723m-20 0h40m-9 -108V8716m-20 0h40m-10 -62V8753m-20 0h40m-10 -87V8782m-20 0h40m-10 -128V8754m-20 0h40m-10 -109V8747m-20 0h40m-10 -185V8669m-20 0h40m-10 -46V8733m-20 0h40m-10 -103V8734m-20 0h40m-10 -63V8759m-20 0h40m-10 -196V8663m-20 0h40m-10 -74V8682m-20 0h40m-10 -23V8782m-20 0h40m-10 -203V8683m-20 0h40m-10 6V8802m-20 0h40m-10 -197V8704m-20 0h40m-10 -135V8663m-20 0h40m-10 -25V8743m-20 0h40m-10 -102V8750m-20 0h40m-10 -113V8730m-20 0h40m-10 -116V8715m-20 0h40m-10 -36V8781m-20 0h40m-10 -141V8754m-20 0h40m-10 -121V8748m-20 0h40m-9 -90V8760m-20 0h40m-10 -195V8680m-20 0h40m-10 28V8808m-20 0h40m-10 -140V8793m-20 0h40m-10 -166V8754m-20 0h40m-10 -146V8706m-20 0h40m-10 -63V8757m-20 0h40m-10 -87V8809m-20 0h40m-10 -149V8781m-20 0h40m-10 -112V8761m-20 0h40m-10 -107V8769m-20 0h40m-10 -97V8769m-20 0h40m-10 -197V8677m-20 0h40m-10 -73V8712m-20 0h40m-10 -12V8830m-20 0h40m-10 -136V8818m-20 0h40m-10 -166V8758m-20 0h40m-10 -211V8653m-20 0h40m-10 -118V8640m-20 0h40m-10 -14V8723m-20 0h40m-10 -48V8776m-20 0h40m-10 -151V8734m-20 0h40m-9 -47V8787m-20 0h40m-10 -152V8728m-20 0h40m-10 12V8854m-20 0h40m-10 -80V8866m-20 0h40m-10 -129V8826m-20 0h40m-10 -75V8863m-20 0h40m-10 -145V8833m-20 0h40m-10 -71V8892m-20 0h40m-10 -167V8829m-20 0h40m-10 -127V8807m-20 0h40m-10 -140V8787m-20 0h40m-10 -97V8805m-20 0h40m-10 -64V8842m-20 0h40m-10 -101V8850m-20 0h40m-10 -165V8783m-20 0h40m-10 -94V8786m-20 0h40m-10 -17V8877m-20 0h40m-10 -157V8815m-20 0h40m-10 -40V8875m-20 0h40m-10 -195V8768m-20 0h40m-10 -49V8834m-20 0h40m-10 -124V8812m-20 0h40m-10 -120V8792m-20 0h40m-9 -42V8863m-20 0h40m-10 -166V8823m-20 0h40m-10 -98V8821m-20 0h40m-10 -58V8864m-20 0h40m-10 -72V8896m-20 0h40m-10 -132V8866m-20 0h40m-10 -41V8941m-20 0h40m-10 -233V8802m-20 0h40m-10 -86V8833m-20 0h40m-10 -139V8817m-20 0h40m-10 -77V8848m-20 0h40m-10 -99V8853m-20 0h40m-10 -251V8688m-20 0h40m-10 49V8818m-20 0h40m-10 -102V8799m-20 0h40m-10 -142V8768m-20 0h40m-10 -103V8787m-20 0h40m-10 -109V8800m-20 0h40m-10 -139V8792m-20 0h40m-10 -101V8799m-20 0h40m-10 -126V8791m-20 0h40m-10 -18V8883m-20 0h40m-10 -253V8767m-20 0h40m-9 -85V8800m-20 0h40m-10 -151V8758m-20 0h40m-10 -2V8866m-20 0h40m-10 -162V8818m-20 0h40m-10 -118V8833m-20 0h40m-10 -67V8857m-20 0h40m-10 -145V8825m-20 0h40m-10 -150V8796m-20 0h40m-10 -97V8824m-20 0h40m-10 -103V8825m-20 0h40m-10 -174V8748m-20 0h40m-10 -43V8808m-20 0h40m-10 -116V8807m-20 0h40m-10 -77V8844m-20 0h40m-10 -101V8857m-20 0h40m-10 -179V8800m-20 0h40m-10 6V8921m-20 0h40m-10 -222V8802m-20 0h40m-10 -76V8839m-20 0h40m-10 -109V8833m-20 0h40m-10 -80V8865m-20 0h40m-10 -81V8884m-20 0h40m-10 -113V8854m-20 0h40m-9 -110V8845m-20 0h40m-10 -95V8860m-20 0h40m-10 -108V8862m-20 0h40m-10 -154V8813m-20 0h40m-10 -10V8891m-20 0h40m-10 -66V8916m-20 0h40m-10 -246V8776m-20 0h40m-10 -40V8841m-20 0h40m-10 -103V8853m-20 0h40m-10 -172V8763m-20 0h40m-10 33V8907m-20 0h40m-10 -105V8918m-20 0h40m-10 -147V8864m-20 0h40m-10 -170V8792m-20 0h40m-10 -87V8817m-20 0h40m-10 -77V8835m-20 0h40m-10 -179V8762m-20 0h40m-10 38V8913m-20 0h40m-10 -86V8935m-20 0h40m-10 -190V8849m-20 0h40m-10 -100V8865m-20 0h40m-10 -104V8867m-20 0h40m-10 -157V8806m-20 0h40m-9 -62V8867m-20 0h40m-10 -210V8763m-20 0h40m-10 -56V8822m-20 0h40m-10 -64V8862m-20 0h40m-10 -95V8879m-20 0h40m-10 -140V8844m-20 0h40m-10 -100V8846m-20 0h40m-10 -99V8855m-20 0h40m-10 -89V8885m-20 0h40m-10 -162V8843m-20 0h40m-10 -36V8898m-20 0h40m-10 -106V8895m-20 0h40m-10 -117V8902m-20 0h40m-10 -234V8779m-20 0h40m-10 -18V8866m-20 0h40m-10 -145V8823m-20 0h40m-10 -98V8810m-20 0h40m-10 -81V8843m-20 0h40m-10 -146V8789m-20 0h40m-10 -54V8827m-20 0h40m-10 -59V8883m-20 0h40m-10 -150V8836m-20 0h40m-10 -115V8834m-20 0h40m-9 -148V8800m-20 0h40m-10 -104V8798m-20 0h40m-10 -71V8833m-20 0h40m-10 -126V8827m-20 0h40m-10 -95V8883m-20 0h40m-10 -141V8833m-20 0h40m-10 -98V8845m-20 0h40m-10 -120V8830m-20 0h40m-10 -89V8855m-20 0h40m-10 -175V8773m-20 0h40m-10 -94V8777m-20 0h40m-10 -15V8871m-20 0h40m-10 -113V8844m-20 0h40m-10 -144V8801m-20 0h40m-10 -111V8799m-20 0h40m-10 -74V8821m-20 0h40m-10 -180V8730m-20 0h40m-10 31V8857m-20 0h40m-10 -186V8753m-20 0h40m-10 -138V8705m-20 0h40m-10 -76V8737m-20 0h40m-10 -46V8811m-20 0h40m-10 -152V8761m-20 0h40m-9 -140V8721m-20 0h40m-10 -89V8744m-20 0h40m-10 -104V8748m-20 0h40m-10 -34V8813m-20 0h40m-10 -79V8844m-20 0h40m-10 -170V8783m-20 0h40m-10 -147V8740m-20 0h40m-10 -109V8728m-20 0h40m-10 -67V8759m-20 0h40m-10 -34V8816m-20 0h40m-10 -138V8778m-20 0h40m-10 -187V8709m-20 0h40m-10 -91V8725m-20 0h40m-10 -76V8752m-20 0h40m-10 -152V8697m-20 0h40m-10 -82V8698m-20 0h40m-10 -28V8766m-20 0h40m-10 -132V8756m-20 0h40m-10 -58V8809m-20 0h40m-10 -152V8758m-20 0h40m-10 -46V8827m-20 0h40m-10 -46V8887m-20 0h40m-10 -212V8787m-20 0h40m-9 -124V8791m-20 0h40m-10 -187V8710m-20 0h40m-10 -17V8790m-20 0h40m-10 -74V8816m-20 0h40m-10 -121V8795m-20 0h40m-10 20V8918m-20 0h40m-10 -268V8753m-20 0h40m-10 -54V8791m-20 0h40m-10 -28V8862m-20 0h40m-10 -122V8848m-20 0h40m-10 -92V8857m-20 0h40m-10 -118V8851m-20 0h40m-10 -129V8834m-20 0h40m-10 -137V8810m-20 0h40m-10 -119V8788m-20 0h40m-10 -101V8785m-20 0h40m-10 -153V8725m-20 0h40m-10 -94V8726m-20 0h40m-10 -87V8743m-20 0h40m-10 -35V8798m-20 0h40m-10 -130V8793m-20 0h40m-10 -136V8811m-20 0h40m-9 -159V8743m-20 0h40m-10 -16V8837m-20 0h40m-10 -136V8811m-20 0h40m-10 -16V8895m-20 0h40m-10 -172V8826m-20 0h40m-10 -105V8817m-20 0h40m-10 -163V8775m-20 0h40m-10 -57V8814m-20 0h40m-10 -127V8787m-20 0h40m-10 -103V8787m-20 0h40m-10 -149V8752m-20 0h40m-10 -63V8801m-20 0h40m-10 -94V8811m-20 0h40m-10 -9V8908m-20 0h40m-10 -123V8891m-20 0h40m-10 -212V8778m-20 0h40m-10 -16V8871m-20 0h40m-10 -218V8765m-20 0h40m-10 -51V8821m-20 0h40m-10 -99V8838m-20 0h40m-10 -156V8816m-20 0h40m-10 -161V8766m-20 0h40m-10 6V8881m-20 0h40m-9 -270V8706m-20 0h40m-10 -30V8783m-20 0h40m-10 -58V8823m-20 0h40m-10 -116V8808m-20 0h40m-10 -19V8885m-20 0h40m-10 -164V8818m-20 0h40m-10 -108V8816m-20 0h40m-10 -79V8828m-20 0h40m-10 -146V8793m-20 0h40m-10 -58V8853m-20 0h40m-10 -123V8815m-20 0h40m-10 -35V8884m-20 0h40m-10 -205V8788m-20 0h40m-10 -67V8829m-20 0h40m-10 -133V8816m-20 0h40m-10 -121V8805m-20 0h40m-10 -162V8736m-20 0h40m-10 -13V8836m-20 0h40m-10 -127V8809m-20 0h40m-10 -76V8857m-20 0h40m-10 -152V8823m-20 0h40m-10 -121V8793m-20 0h40m-10 -113V8796m-20 0h40m-9 -73V8832m-20 0h40m-10 -127V8803m-20 0h40m-10 -53V8870m-20 0h40m-10 -224V8761m-20 0h40m-10 -21V8844m-20 0h40m-10 -147V8805m-20 0h40m-10 -139V8788m-20 0h40m-10 -36V8857m-20 0h40m-10 -109V8835m-20 0h40m-10 -69V8876m-20 0h40m-10 -125V8884m-20 0h40m-10 -290V8706m-20 0h40m-10 15V8826m-20 0h40m-10 -181V8752m-20 0h40m-10 -16V8849m-20 0h40m-10 -126V8839m-20 0h40m-10 -183V8778m-20 0h40m-10 -109V8773m-20 0h40m-10 -62V8810m-20 0h40m-10 -50V8867m-20 0h40m-10 -174V8784m-20 0h40m-10 -106V8800m-20 0h40m-10 -114V8797m-20 0h40m-9 27V8927m-20 0h40m-10 -231V8803m-20 0h40m-10 -145V8785m-20 0h40m-10 -66V8823m-20 0h40m-10 -38V8901m-20 0h40m-10 -162V8837m-20 0h40m-10 -129V8794m-20 0h40m-10 -100V8782m-20 0h40m-10 -173V8707m-20 0h40m-10 21V8827m-20 0h40m-10 -97V8823m-20 0h40m-10 -91V8826m-20 0h40m-10 -130V8805m-20 0h40m-10 -46V8900m-20 0h40m-10 -199V8791m-20 0h40m-10 -63V8833m-20 0h40m-10 -93V8840m-20 0h40m-10 -123V8839m-20 0h40m-10 -164V8787m-20 0h40m-10 25V8919m-20 0h40m-10 -242V8791m-20 0h40m-10 -49V8851m-20 0h40m-10 -257V8698m-20 0h40m-9 39V8837m-20 0h40m-10 -99V8844m-20 0h40m-10 -93V8871m-20 0h40m-10 -86V8898m-20 0h40m-10 -150V8862m-20 0h40m-10 -78V8877m-20 0h40m-10 -145V8840m-20 0h40m-10 -33V8914m-20 0h40m-10 -125V8897m-20 0h40m-10 -164V8846m-20 0h40m-10 -116V8840m-20 0h40m-10 -55V8901m-20 0h40m-10 -136V8872m-20 0h40m-10 -122V8891m-20 0h40m-10 -207V8785m-20 0h40m-10 -69V8840m-20 0h40m-10 -54V8894m-20 0h40m-10 -199V8794m-20 0h40m-10 -116V8803m-20 0h40m-10 -81V8846m-20 0h40m-10 -26V8916m-20 0h40m-10 -153V8864m-20 0h40m-10 -183V8767m-20 0h40m-9 -67V8804m-20 0h40m-10 -130V8788m-20 0h40m-10 -47V8871m-20 0h40m-10 -128V8846m-20 0h40m-10 -99V8860m-20 0h40m-10 -104V8864m-20 0h40m-10 -167V8800m-20 0h40m-10 -57V8848m-20 0h40m-10 -113V8840m-20 0h40m-10 -137V8811m-20 0h40m-10 -39V8858m-20 0h40m-10 -106V8835m-20 0h40m-10 -44V8888m-20 0h40m-10 -125V8882m-20 0h40m-10 -154V8837m-20 0h40m-10 -109V8861m-20 0h40m-10 -159V8806m-20 0h40m-10 -203V8716m-20 0h40m-10 75V8904m-20 0h40m-10 -216V8804m-20 0h40m-10 -24V8894m-20 0h40m-10 -162V8846m-20 0h40m-9 -145V8815m-20 0h40m-10 -114V8815m-20 0h40m-10 -131V8783m-20 0h40m-10 -19V8861m-20 0h40m-10 -71V8891m-20 0h40m-10 -205V8807m-20 0h40m-10 -63V8831m-20 0h40m-10 -110V8834m-20 0h40m-10 -94V8845m-20 0h40m-10 -163V8792m-20 0h40m-10 -71V8849m-20 0h40m-10 -96V8865m-20 0h40m-10 -157V8816m-20 0h40m-10 -101V8848m-20 0h40m-10 -76V8870m-20 0h40m-10 -119V8864m-20 0h40m-10 -162V8814m-20 0h40m-10 -98V8805m-20 0h40m-10 3V8927m-20 0h40m-10 -211V8836m-20 0h40m-10 -139V8836m-20 0h40m-10 -49V8918m-20 0h40m-10 -150V8867m-20 0h40m-9 -151V8824m-20 0h40m-10 -90V8863m-20 0h40m-10 -167V8785m-20 0h40m-10 -16V8881m-20 0h40m-10 -98V8936m-20 0h40m-10 -253V8800m-20 0h40m-10 -16V8893m-20 0h40m-10 -218V8794m-20 0h40m-10 -67V8836m-20 0h40m-10 -114V8850m-20 0h40m-10 -167V8789m-20 0h40m-10 -6V8877m-20 0h40m-10 -194V8793m-20 0h40m-10 -120V8771m-20 0h40m-10 34V8900m-20 0h40m-10 -180V8828m-20 0h40m-10 -178V8734m-20 0h40m-10 -27V8807m-20 0h40m-10 -41V8875m-20 0h40m-10 -219V8762m-20 0h40m-10 -57V8797m-20 0h40m-10 -11V8889m-20 0h40m-10 -176V8806m-20 0h40m-9 -67V8854m-20 0h40m-10 -202V8761m-20 0h40m-10 -68V8803m-20 0h40m-10 -87V8821m-20 0h40m-10 -81V8860m-20 0h40m-10 -103V8852m-20 0h40m-10 -47V8907m-20 0h40m-10 -189V8858m-20 0h40m-10 -98V8866m-20 0h40m-10 -84V8893m-20 0h40m-10 -140V8863m-20 0h40m-10 -138V8835m-20 0h40m-10 -70V8878m-20 0h40m-10 -95V8906m-20 0h40m-10 -157V8861m-20 0h40m-10 -105V8867m-20 0h40m-10 -130V8843m-20 0h40m-10 -154V8791m-20 0h40m-10 -53V8823m-20 0h40m-10 -122V8802m-20 0h40m-10 -92V8822m-20 0h40m-10 -108V8799m-20 0h40m-10 -98V8830m-20 0h40m-9 -165V8770m-20 0h40m-10 -90V8788m-20 0h40m-10 -93V8786m-20 0h40m-10 -98V8806m-20 0h40m-10 1V8916m-20 0h40m-10 -186V8855m-20 0h40m-10 -57V8890m-20 0h40m-10 -119V8902m-20 0h40m-10 -169V8849m-20 0h40m-10 -145V8816m-20 0h40m-10 -119V8807m-20 0h40m-10 -100V8814m-20 0h40m-10 -156V8747m-20 0h40m-10 -115V8731m-20 0h40m-10 -22V8810m-20 0h40m-10 -100V8811m-20 0h40m-10 -169V8725m-20 0h40m-10 -11V8828m-20 0h40m-10 -89V8844m-20 0h40m-10 -153V8792m-20 0h40m-10 -41V8870m-20 0h40m-10 -169V8814m-20 0h40m-10 -104V8813m-20 0h40m-9 -72V8856m-20 0h40m-10 -146V8825m-20 0h40m-10 -89V8843m-20 0h40m-10 -51V8896m-20 0h40m-10 -185V8804m-20 0h40m-10 -32V8893m-20 0h40m-10 -158V8830m-20 0h40m-10 -79V8873m-20 0h40m-10 -243V8739m-20 0h40m-10 -53V8785m-20 0h40m-10 -128V8747m-20 0h40m-10 33V8880m-20 0h40m-10 -147V8846m-20 0h40m-10 -145V8792m-20 0h40m-10 1V8909m-20 0h40m-10 -166V8837m-20 0h40m-10 -99V8843m-20 0h40m-10 -139V8811m-20 0h40m-10 -83V8826m-20 0h40m-10 -100V8836m-20 0h40m-10 -197V8750m-20 0h40m-10 -15V8844m-20 0h40m-10 -146V8813m-20 0h40m-9 -93V8822m-20 0h40m-10 -84V8864m-20 0h40m-10 -162V8799m-20 0h40m-10 -91V8814m-20 0h40m-10 -122V8793m-20 0h40m-10 -166V8743m-20 0h40m-10 -63V8785m-20 0h40m-10 -87V8794m-20 0h40m-10 -125V8793m-20 0h40m-10 -87V8820m-20 0h40m-10 -112V8822m-20 0h40m-10 -89V8814m-20 0h40m-10 -1V8915m-20 0h40m-10 -193V8828m-20 0h40m-10 -125V8842m-20 0h40m-10 -141V8796m-20 0h40m-10 -117V8783m-20 0h40m-10 -60V8839m-20 0h40m-10 -186V8763m-20 0h40m-10 -41V8835m-20 0h40m-10 -105V8889m-20 0h40m-10 -198V8812m-20 0h40m-10 -153V8775m-20 0h40m-9 -34V8869m-20 0h40m-10 -132V8854m-20 0h40m-10 -226V8726m-20 0h40m-10 -15V8823m-20 0h40m-10 -137V8786m-20 0h40m-10 -44V8844m-20 0h40m-10 -46V8900m-20 0h40m-10 -147V8857m-20 0h40m-10 -173V8784m-20 0h40m-10 -121V8761m-20 0h40m-10 -15V8859m-20 0h40m-10 -121V8834m-20 0h40m-10 -163V8792m-20 0h40m-10 -82V8822m-20 0h40m-10 -167V8824m-20 0h40m-10 -109V8817m-20 0h40m-10 -86V8823m-20 0h40m-10 -106V8834m-20 0h40m-10 -101V8842m-20 0h40m-10 -106V8859m-20 0h40m-10 -92V8878m-20 0h40m-10 2V8972m-20 0h40m-10 -21V9059m-20 0h40m-9 -209V8953m-20 0h40m-10 -116V8947m-20 0h40m-10 -143V8922m-20 0h40m-10 -67V8955m-20 0h40m-10 -156V8885m-20 0h40m-10 -103V8888m-20 0h40m-10 -94V8902m-20 0h40m-10 -12V9007m-20 0h40m-10 -214V8899m-20 0h40m-10 -147V8856m-20 0h40m-10 -59V8906m-20 0h40m-10 -44V8981m-20 0h40m-10 -122V8968m-20 0h40m-10 -207V8856m-20 0h40m-10 -23V8935m-20 0h40m-10 -128V8913m-20 0h40m-10 -53V8969m-20 0h40m-10 -119V8943m-20 0h40m-10 -148V8904m-20 0h40m-10 -79V8922m-20 0h40m-10 -129V8905m-20 0h40m-10 -84V8922m-20 0h40m-9 -153V8869m-20 0h40m-10 -136V8843m-20 0h40m-10 -14V8947m-20 0h40m-10 -140V8904m-20 0h40m-10 -78V8903m-20 0h40m-10 -61V8975m-20 0h40m-10 -186V8892m-20 0h40m-10 -82V8924m-20 0h40m-10 -139V8868m-20 0h40m-10 -101V8866m-20 0h40m-10 13V8985m-20 0h40m-10 -147V8958m-20 0h40m-10 -112V8964m-20 0h40m-10 -219V8846m-20 0h40m-10 -51V8904m-20 0h40m-10 -56V8941m-20 0h40m-10 -77V8959m-20 0h40m-10 -137V8928m-20 0h40m-10 -99V8939m-20 0h40m-10 -133V8921m-20 0h40m-10 -151V8888m-20 0h40m-10 -37V8992m-20 0h40m-10 -162V8946m-20 0h40m-9 -186V8867m-20 0h40m-10 -217V8757m-20 0h40m-10 -17V8839m-20 0h40m-10 -85V8863m-20 0h40m-10 -34V8929m-20 0h40m-10 -124V8915m-20 0h40m-10 -59V8949m-20 0h40m-10 -28V9035m-20 0h40m-10 -212V8907m-20 0h40m-10 -124V8898m-20 0h40m-10 -127V8867m-20 0h40m-10 -106V8868m-20 0h40m-10 -146V8828m-20 0h40m-10 -9V8903m-20 0h40m-10 -65V8954m-20 0h40m-10 -153V8915m-20 0h40m-10 -153V8868m-20 0h40m-10 -35V8942m-20 0h40m-10 -166V8890m-20 0h40m-10 -138V8865m-20 0h40m-10 -24V8956m-20 0h40m-10 -149V8910m-20 0h40m-10 -107V8918m-20 0h40m-9 -86V8948m-20 0h40m-10 -83V8969m-20 0h40m-10 -141V8929m-20 0h40m-10 -31V9006m-20 0h40m-10 -180V8941m-20 0h40m-10 -196V8853m-20 0h40m-10 -53V8913m-20 0h40m-10 -103V8920m-20 0h40m-10 -143V8893m-20 0h40m-10 -8V8976m-20 0h40m-10 -218V8870m-20 0h40m-10 -18V8952m-20 0h40" stroke="#c6c1e2" stroke-width="21"/>
<path d="M0 0m8950 8536h0m3 9h0m4 -64h0m3 42h0m3 -29h0m4 51h0m3 -8h0m3 38h0m4 37h0m3 -9h0m3 -6h0m4 -48h0m3 19h0m4 -2h0m3 24h0m3 -69h0m4 -12h0m3 64h0m3 -61h0m4 46h0m3 -80h0m3 56h0m4 38h0m3 51h0m3 -172h0m4 61h0m3 -29h0m3 22h0m4 77h0m3 -47h0m3 -24h0m4 -13h0m3 -9h0m3 4h0m4 -15h0m3 54h0m4 -73h0m3 147h0m3 -95h0m4 40h0m3 44h0m3 -6h0m4 -81h0m3 15h0m3 -77h0m4 70h0m3 -12h0m3 14h0m4 -31h0m3 34h0m3 40h0m4 -95h0m3 106h0m3 -12h0m4 -91h0m3 128h0m3 -43h0m4 1h0m3 -95h0m4 63h0m3 15h0m3 26h0m4 -21h0m3 -37h0m3 29h0m4 33h0m3 -5h0m3 -9h0m4 -19h0m3 32h0m3 -73h0m4 15h0m3 19h0m3 -62h0m4 82h0m3 13h0m3 -10h0m4 55h0m3 2h0m3 -112h0m4 32h0m3 17h0m4 2h0m3 -59h0m3 133h0m4 -137h0m3 75h0m3 -67h0m4 81h0m3 -45h0m3 -8h0m4 29h0m3 -25h0m3 10h0m4 21h0m3 -49h0m3 37h0m4 16h0m3 -80h0m3 85h0m4 -52h0m3 -2h0m3 57h0m4 -108h0m3 94h0m4 -52h0m3 -42h0m3 6h0m4 107h0m3 -79h0m3 43h0m4 42h0m3 -63h0m3 46h0m4 -39h0m3 -44h0m3 26h0m4 14h0m3 62h0m3 -62h0m4 5h0m3 1h0m3 29h0m4 -52h0m3 44h0m3 31h0m4 -23h0m3 81h0m4 -46h0m3 -27h0m3 40h0m4 -34h0m3 -4h0m3 7h0m4 -24h0m3 -23h0m3 67h0m4 -4h0m3 11h0m3 -16h0m4 72h0m3 -37h0m3 -77h0m4 11h0m3 55h0m3 47h0m4 -67h0m3 -2h0m3 70h0m4 -17h0m3 -122h0m4 -30h0m3 74h0m3 33h0m4 -99h0m3 43h0m3 -9h0m4 -56h0m3 14h0m3 57h0m4 77h0m3 27h0m3 -80h0m4 30h0m3 -99h0m3 95h0m4 -61h0m3 66h0m3 -45h0m4 -28h0m3 79h0m3 -92h0m4 -4h0m3 47h0m4 -29h0m3 49h0m3 -22h0m4 -97h0m3 58h0m3 70h0m4 -23h0m3 -64h0m3 60h0m4 -59h0m3 -22h0m3 53h0m4 -71h0m3 89h0m3 -1h0m4 -33h0m3 -32h0m3 113h0m4 13h0m3 -101h0m3 50h0m4 -7h0m3 40h0m4 -52h0m3 31h0m3 -65h0m4 38h0m3 -44h0m3 46h0m4 -56h0m3 25h0m3 -1h0m4 22h0m3 -8h0m3 -30h0m4 30h0m3 15h0m3 -4h0m4 34h0m3 18h0m3 -37h0m4 -1h0m3 -40h0m3 -53h0m4 100h0m3 35h0m4 -103h0m3 5h0m3 84h0m4 -41h0m3 -7h0m3 95h0m4 -15h0m3 -57h0m3 64h0m4 -37h0m3 -25h0m3 8h0m4 19h0m3 15h0m3 -24h0m4 -12h0m3 -62h0m3 10h0m4 -22h0m3 55h0m4 26h0m3 -33h0m3 23h0m4 -28h0m3 72h0m3 -32h0m4 -74h0m3 68h0m3 37h0m4 -74h0m3 82h0m3 38h0m4 -21h0m3 29h0m3 -55h0m4 32h0m3 38h0m3 -31h0m4 25h0m3 -14h0m3 -5h0m4 40h0m3 -78h0m4 18h0m3 54h0m3 -68h0m4 13h0m3 56h0m3 -25h0m4 -3h0m3 0h0m3 25h0m4 -53h0m3 0h0m3 -38h0m4 8h0m3 28h0m3 40h0m4 -15h0m3 -24h0m3 41h0m4 -97h0m3 16h0m3 18h0m4 14h0m3 -76h0m4 156h0m3 -62h0m3 -35h0m4 67h0m3 -62h0m3 -26h0m4 45h0m3 33h0m3 -95h0m4 83h0m3 -34h0m3 54h0m4 65h0m3 -31h0m3 8h0m4 30h0m3 -79h0m3 -76h0m4 -15h0m3 40h0m3 31h0m4 85h0m3 -56h0m4 23h0m3 0h0m3 -64h0m4 1h0m3 -16h0m3 31h0m4 -28h0m3 -5h0m3 7h0m4 60h0m3 -34h0m3 -19h0m4 61h0m3 -61h0m3 -32h0m4 63h0m3 -30h0m3 -42h0m4 -9h0m3 24h0m3 -15h0m4 52h0m3 -24h0m4 12h0m3 15h0m3 -25h0m4 -111h0m3 148h0m3 4h0m4 14h0m3 -102h0m3 104h0m4 -110h0m3 23h0m3 92h0m4 -46h0m3 5h0m3 -23h0m4 -74h0m3 59h0m3 57h0m4 -33h0m3 -23h0m3 73h0m4 -49h0m3 21h0m4 -3h0m3 -46h0m3 -12h0m4 14h0m3 -48h0m3 62h0m4 38h0m3 -3h0m3 -30h0m4 -8h0m3 3h0m3 13h0m4 27h0m3 -76h0m3 -20h0m4 31h0m3 -2h0m3 40h0m4 31h0m3 11h0m3 -42h0m4 -62h0m3 126h0m4 -76h0m3 -95h0m3 72h0m4 36h0m3 9h0m3 -55h0m4 34h0m3 27h0m3 -7h0m4 -45h0m3 70h0m3 15h0m4 -71h0m3 45h0m3 -29h0m4 2h0m3 44h0m3 -1h0m4 -83h0m3 67h0m3 -24h0m4 42h0m3 -75h0m4 36h0m3 -81h0m3 26h0m4 49h0m3 -58h0m3 28h0m4 87h0m3 -47h0m3 -28h0m4 115h0m3 -93h0m3 20h0m4 -85h0m3 72h0m3 45h0m4 -41h0m3 23h0m3 55h0m4 -77h0m3 -51h0m3 45h0m4 76h0m3 -106h0m4 71h0m3 17h0m3 -82h0m4 36h0m3 -127h0m3 136h0m4 -25h0m3 19h0m3 -91h0m4 103h0m3 -103h0m3 74h0m4 -23h0m3 13h0m3 36h0m4 -63h0m3 154h0m3 -135h0m4 58h0m3 -88h0m3 65h0m4 -27h0m3 -39h0m4 128h0m3 -130h0m3 -7h0m4 11h0m3 47h0m3 48h0m4 -60h0m3 5h0m3 -15h0m4 -41h0m3 40h0m3 46h0m4 -31h0m3 -6h0m3 3h0m4 37h0m3 -57h0m3 91h0m4 -36h0m3 14h0m3 -55h0m4 16h0m3 95h0m4 -25h0m3 -13h0m3 -69h0m4 83h0m3 -16h0m3 -22h0m4 -36h0m3 -18h0m3 5h0m4 140h0m3 9h0m3 -119h0m4 83h0m3 -81h0m3 86h0m4 -106h0m3 18h0m3 -6h0m4 73h0m3 -28h0m3 -30h0m4 8h0m3 -1h0m4 -90h0m3 50h0m3 79h0m4 -49h0m3 59h0m3 -30h0m4 -92h0m3 8h0m3 61h0m4 -17h0m3 -99h0m3 71h0m4 4h0m3 95h0m3 -42h0m4 -45h0m3 -34h0m3 -69h0m4 78h0m3 5h0m3 -86h0m4 82h0m3 -67h0m4 16h0m3 28h0m3 -14h0m4 16h0m3 6h0m3 -33h0m4 23h0m3 35h0m3 69h0m4 -33h0m3 -17h0m3 -62h0m4 79h0m3 -49h0m3 -22h0m4 100h0m3 -30h0m3 42h0m4 -32h0m3 -13h0m3 -18h0m4 10h0m3 37h0m4 24h0m3 30h0m3 -46h0m4 36h0m3 -58h0m3 -82h0m4 98h0m3 -5h0m3 23h0m4 -92h0m3 75h0m3 -8h0m4 -67h0m3 31h0m3 -19h0m4 21h0m3 10h0m3 90h0m4 -144h0m3 43h0m3 47h0m4 -62h0m3 63h0m4 -100h0m3 -11h0m3 50h0m4 59h0m3 -115h0m3 36h0m4 -20h0m3 83h0m3 15h0m4 49h0m3 -76h0m3 29h0m4 -74h0m3 78h0m3 -30h0m4 1h0m3 -66h0m3 -1h0m4 10h0m3 97h0m3 -117h0m4 57h0m3 33h0m4 -50h0m3 -20h0m3 65h0m4 -54h0m3 38h0m3 29h0m4 33h0m3 -14h0m3 -16h0m4 -53h0m3 -42h0m3 91h0m4 -97h0m3 56h0m3 63h0m4 -69h0m3 -14h0m3 22h0m4 -52h0m3 5h0m3 38h0m4 -64h0m3 113h0m4 15h0m3 -112h0m3 130h0m4 -85h0m3 12h0m3 -21h0m4 50h0m3 -43h0m3 -33h0m4 143h0m3 -98h0m3 -14h0m4 72h0m3 -56h0m3 -46h0m4 10h0m3 17h0m3 -28h0m4 27h0m3 -80h0m3 79h0m4 12h0m3 38h0m4 -53h0m3 -9h0m3 94h0m4 -32h0m3 -21h0m3 -81h0m4 110h0m3 19h0m3 -71h0m4 21h0m3 67h0m3 -18h0m4 -13h0m3 -104h0m3 91h0m4 -63h0m3 12h0m3 94h0m4 -52h0m3 -61h0m3 80h0m4 -99h0m3 21h0m4 -36h0m3 63h0m3 24h0m4 -37h0m3 -2h0m3 12h0m4 19h0m3 13h0m3 13h0m4 -47h0m3 -41h0m3 106h0m4 -68h0m3 125h0m3 -79h0m4 -6h0m3 44h0m3 -73h0m4 0h0m3 35h0m3 1h0m4 21h0m3 -15h0m4 41h0m3 -46h0m3 -70h0m4 68h0m3 -6h0m3 -10h0m4 65h0m3 -87h0m3 15h0m4 46h0m3 -47h0m3 61h0m4 5h0m3 -54h0m3 -39h0m4 15h0m3 99h0m3 -100h0m4 18h0m3 -13h0m3 59h0m4 -26h0m3 36h0m4 -54h0m3 11h0m3 78h0m4 -70h0m3 12h0m3 44h0m4 65h0m3 -70h0m3 -47h0m4 116h0m3 -46h0m3 -51h0m4 75h0m3 -49h0m3 36h0m4 -84h0m3 69h0m3 -77h0m4 12h0m3 -1h0m3 47h0m4 -82h0m3 75h0m4 -1h0m3 10h0m3 20h0m4 -15h0m3 -75h0m3 13h0m4 80h0m3 -26h0m3 32h0m4 -74h0m3 17h0m3 -55h0m4 101h0m3 -18h0m3 -31h0m4 52h0m3 61h0m3 -59h0m4 -20h0m3 106h0m4 -74h0m3 63h0m3 -5h0m4 -34h0m3 -32h0m3 -28h0m4 1h0m3 27h0m3 -23h0m4 15h0m3 31h0m3 -45h0m4 -9h0m3 -4h0m3 16h0m4 27h0m3 45h0m3 -46h0m4 -49h0m3 -2h0m3 58h0m4 24h0m3 31h0m4 -73h0m3 43h0m3 -79h0m4 51h0m3 13h0m3 -35h0m4 -37h0m3 108h0m3 -111h0m4 88h0m3 -47h0m3 24h0m4 52h0m3 -48h0m3 22h0m4 -128h0m3 28h0m3 61h0m4 -25h0m3 -29h0m3 93h0m4 -52h0m3 69h0m4 -38h0m3 -56h0m3 -8h0m4 2h0m3 7h0m3 -13h0m4 -78h0m3 85h0m3 47h0m4 -99h0m3 39h0m3 89h0m4 -112h0m3 32h0m3 -31h0m4 -57h0m3 62h0m3 89h0m4 -71h0m3 -16h0m3 19h0m4 -27h0m3 48h0m4 67h0m3 -46h0m3 -88h0m4 76h0m3 -20h0m3 -78h0m4 86h0m3 -36h0m3 -68h0m4 55h0m3 -69h0m3 100h0m4 -46h0m3 43h0m3 -32h0m4 -24h0m3 57h0m3 -43h0m4 -26h0m3 -58h0m3 66h0m4 -21h0m3 -27h0m4 55h0m3 -18h0m3 -21h0m4 -29h0m3 14h0m3 22h0m4 26h0m3 -80h0m3 116h0m4 -154h0m3 37h0m3 32h0m4 -23h0m3 -10h0m3 26h0m4 19h0m3 1h0m3 -37h0m4 56h0m3 9h0m3 -70h0m4 93h0m3 -76h0m4 -55h0m3 160h0m3 -78h0m4 42h0m3 -44h0m3 38h0m4 32h0m3 -132h0m3 75h0m4 31h0m3 -115h0m3 53h0m4 15h0m3 67h0m3 -23h0m4 -2h0m3 -47h0m3 -41h0m4 60h0m3 -20h0m3 52h0m4 -117h0m3 47h0m4 30h0m3 -63h0m3 34h0m4 11h0m3 -21h0m3 -34h0m4 36h0m3 32h0m3 35h0m4 27h0m3 -73h0m3 -59h0m4 16h0m3 56h0m3 8h0m4 39h0m3 -42h0m3 80h0m4 -81h0m3 32h0m3 -77h0m4 35h0m3 18h0m4 -18h0m3 -46h0m3 9h0m4 46h0m3 -5h0m3 -81h0m4 64h0m3 84h0m3 24h0m4 -101h0m3 -21h0m3 15h0m4 0h0m3 59h0m3 12h0m4 15h0m3 -45h0m3 46h0m4 -20h0m3 -17h0m3 -53h0m4 -22h0m3 74h0m4 34h0m3 40h0m3 -80h0m4 -10h0m3 19h0m3 -51h0m4 42h0m3 32h0m3 -59h0m4 -44h0m3 29h0m3 9h0m4 8h0m3 -8h0m3 -5h0m4 -25h0m3 72h0m3 21h0m4 -4h0m3 -92h0m3 45h0m4 -14h0m3 1h0m4 -3h0m3 -62h0m3 58h0m4 56h0m3 -35h0m3 -107h0m4 146h0m3 -44h0m3 4h0m4 -2h0m3 -32h0m3 42h0m4 28h0m3 -136h0m3 55h0m4 50h0m3 -53h0m3 44h0m4 -69h0m3 97h0m3 -93h0m4 -56h0m3 109h0m4 -43h0m3 -2h0m3 -54h0m4 43h0m3 74h0m3 2h0m4 -4h0m3 68h0m3 -96h0m4 8h0m3 -20h0m3 -64h0m4 37h0m3 -23h0m3 107h0m4 19h0m3 43h0m3 -15h0m4 -48h0m3 14h0m3 13h0m4 -28h0m3 37h0m4 -37h0m3 -77h0m3 119h0m4 -112h0m3 73h0m3 7h0m4 -24h0m3 -16h0m3 30h0m4 -3h0m3 -34h0m3 41h0m4 -56h0m3 63h0m3 22h0m4 -19h0m3 0h0m3 -15h0m4 34h0m3 -50h0m3 38h0m4 -51h0m3 24h0m4 -27h0m3 22h0m3 26h0m4 -25h0m3 47h0m3 -54h0m4 -33h0m3 -1h0m3 -6h0m4 57h0m3 -96h0m3 73h0m4 44h0m3 -8h0m3 1h0m4 -20h0m3 -22h0m3 7h0m4 88h0m3 -56h0m3 54h0m4 -24h0m3 3h0m4 36h0m3 -61h0m3 13h0m4 39h0m3 -12h0m3 92h0m4 -208h0m3 132h0m3 50h0m4 -40h0m3 -83h0m3 40h0m4 -81h0m3 30h0m3 19h0m4 43h0m3 23h0m3 -101h0m4 42h0m3 -11h0m3 14h0m4 -62h0m3 73h0m4 -17h0m3 -7h0m3 30h0m4 16h0m3 -20h0m3 11h0m4 21h0m3 -74h0m3 11h0m4 51h0m3 65h0m3 -115h0m4 41h0m3 45h0m3 -77h0m4 -51h0m3 21h0m3 -19h0m4 59h0m3 19h0m3 -83h0m4 71h0m3 11h0m4 -79h0m3 109h0m3 -69h0m4 4h0m3 -43h0m3 8h0m4 -42h0m3 60h0m3 46h0m4 -10h0m3 34h0m3 -48h0m4 -16h0m3 -16h0m3 34h0m4 50h0m3 26h0m3 -66h0m4 104h0m3 -122h0m3 -55h0m4 120h0m3 -101h0m4 67h0m3 -30h0m3 32h0m4 8h0m3 -9h0m3 4h0m4 -31h0m3 51h0m3 -24h0m4 64h0m3 -81h0m3 -6h0m4 25h0m3 -33h0m3 73h0m4 -80h0m3 79h0m3 -38h0m4 35h0m3 -54h0m3 12h0m4 14h0m3 -81h0m4 92h0m3 -44h0m3 -24h0m4 -25h0m3 105h0m3 -71h0m4 109h0m3 30h0m3 -186h0m4 116h0m3 -11h0m3 -23h0m4 -7h0m3 75h0m3 3h0m4 -97h0m3 19h0m3 50h0m4 -34h0m3 -31h0m3 9h0m4 49h0m3 0h0m4 31h0m3 -41h0m3 -32h0m4 6h0m3 35h0m3 -10h0m4 25h0m3 -30h0m3 -51h0m4 61h0m3 8h0m3 59h0m4 -71h0m3 -88h0m3 47h0m4 126h0m3 -141h0m3 20h0m4 -53h0m3 129h0m3 -65h0m4 20h0m3 39h0m4 -38h0m3 -18h0m3 14h0m4 4h0m3 -34h0m3 -75h0m4 -18h0m3 -28h0m3 34h0m4 71h0m3 -51h0m3 71h0m4 -13h0m3 79h0m3 -17h0m4 23h0m3 -45h0m3 -28h0m4 94h0m3 30h0m4 -62h0m3 78h0m3 -49h0m4 -81h0m3 113h0m3 3h0m4 -11h0m3 -18h0m3 19h0m4 33h0m3 -71h0m3 32h0m4 2h0m3 29h0m3 -100h0m4 85h0m3 26h0m3 -24h0m4 -35h0m3 30h0m3 -103h0m4 117h0m3 -65h0m4 63h0m3 -35h0m3 -77h0m4 3h0m3 51h0m3 -50h0m4 30h0m3 -15h0m3 19h0m4 -25h0m3 29h0m3 72h0m4 -9h0m3 -12h0m3 29h0m4 -7h0m3 -22h0m3 -1h0m4 26h0m3 -81h0m3 -28h0m4 74h0m3 -42h0m4 6h0m3 -2h0m3 76h0m4 -40h0m3 -97h0m3 88h0m4 -29h0m3 71h0m3 13h0m4 -67h0m3 30h0m3 -58h0m4 -1h0m3 -3h0m3 43h0m4 -14h0m3 -43h0m3 48h0m4 -8h0m3 -11h0m3 1h0m4 -60h0m3 96h0m4 22h0m3 -75h0m3 61h0m4 -39h0m3 -2h0m3 -8h0m4 38h0m3 25h0m3 -39h0m4 52h0m3 4h0m3 -77h0m4 102h0m3 -6h0m3 -35h0m4 13h0m3 -62h0m3 41h0m4 82h0m3 -114h0m3 -7h0m4 4h0m3 47h0m4 33h0m3 -72h0m3 51h0m4 -30h0m3 -43h0m3 -66h0m4 119h0m3 -7h0m3 -51h0m4 76h0m3 -16h0m3 -126h0m4 10h0m3 -31h0m3 85h0m4 5h0m3 45h0m3 -7h0m4 -64h0m3 50h0m3 60h0m4 -27h0m3 -92h0m4 85h0m3 -86h0m3 9h0m4 17h0m3 22h0m3 -26h0m4 48h0m3 -59h0m3 -6h0m4 -48h0m3 90h0m3 -12h0m4 5h0m3 47h0m3 -70h0m4 69h0m3 18h0m3 13h0m4 -82h0m3 90h0m3 -151h0m4 50h0m3 46h0m4 -44h0m3 46h0m3 -36h0m4 -43h0m3 114h0m3 -46h0m4 39h0m3 -148h0m3 150h0m4 -54h0m3 32h0m3 30h0m4 -66h0m3 5h0m3 51h0m4 10h0m3 -2h0m3 -95h0m4 43h0m3 23h0m3 -58h0m4 -2h0m3 18h0m4 44h0m3 -38h0m3 60h0m4 41h0m3 -79h0m3 -16h0m4 -21h0m3 -33h0m3 100h0m4 -58h0m3 12h0m3 37h0m4 -48h0m3 -2h0m3 23h0m4 23h0m3 -8h0m3 34h0m4 -60h0m3 39h0m3 -59h0m4 -3h0m3 -3h0m4 100h0m3 -52h0m3 80h0m4 -49h0m3 -57h0m3 -1h0m4 65h0m3 -34h0m3 -4h0m4 -1h0m3 5h0m3 0h0m4 48h0m3 -105h0m3 80h0m4 -41h0m3 -22h0m3 94h0m4 -71h0m3 -23h0m3 81h0m4 -75h0m3 39h0m4 9h0m3 -32h0m3 13h0m4 25h0m3 31h0m3 -101h0m4 72h0m3 8h0m3 -28h0m4 -24h0m3 58h0m3 -54h0m4 91h0m3 -58h0m3 -3h0m4 83h0m3 -80h0m3 26h0m4 -101h0m3 59h0m3 54h0m4 -47h0m3 -1h0m4 -7h0m3 10h0m3 13h0m4 -35h0m3 -35h0m3 73h0m4 47h0m3 -5h0m3 -16h0m4 54h0m3 -32h0m3 -9h0m4 -34h0m3 12h0m3 36h0m4 -37h0m3 -76h0m3 53h0m4 32h0m3 -74h0m3 -21h0m4 13h0m3 43h0m4 25h0m3 -29h0m3 -80h0m4 128h0m3 -72h0m3 88h0m4 -49h0m3 74h0m3 2h0m4 -50h0m3 -27h0m3 -5h0m4 23h0m3 -78h0m3 59h0m4 4h0m3 116h0m3 -108h0m4 -69h0m3 109h0m3 -91h0m4 57h0m3 -56h0m4 33h0m3 33h0m3 -117h0m4 -3h0m3 105h0m3 15h0m4 -70h0m3 84h0m3 -49h0m4 16h0m3 -33h0m3 64h0m4 -22h0m3 -24h0m3 -97h0m4 93h0m3 -24h0m3 38h0m4 -9h0m3 37h0m3 34h0m4 -68h0m3 20h0m4 40h0m3 -41h0m3 35h0m4 -74h0m3 -4h0m3 82h0m4 -38h0m3 40h0m3 -48h0m4 50h0m3 -17h0m3 7h0m4 -107h0m3 86h0m3 -38h0m4 -17h0m3 -55h0m3 -11h0m4 77h0m3 27h0m3 36h0m4 -107h0m3 31h0m4 56h0m3 16h0m3 -68h0m4 -12h0m3 64h0m3 -48h0m4 17h0m3 -16h0m3 -33h0m4 105h0m3 -113h0m3 46h0m4 54h0m3 -34h0m3 13h0m4 -50h0m3 -37h0m3 52h0m4 -43h0m3 13h0m3 18h0m4 -3h0m3 -10h0m4 -22h0m3 29h0m3 18h0m4 -37h0m3 -28h0m3 20h0m4 39h0m3 -42h0m3 70h0m4 -48h0m3 48h0m3 -65h0m4 42h0m3 4h0m3 32h0m4 -26h0m3 -21h0m3 39h0m4 -25h0m3 -28h0m3 -6h0m4 24h0m3 -51h0m4 4h0m3 63h0m3 8h0m4 -32h0m3 -37h0m3 69h0m4 -50h0m3 -20h0m3 5h0m4 3h0m3 75h0m3 -37h0m4 24h0m3 9h0m3 -81h0m4 41h0m3 -18h0m3 -25h0m4 84h0m3 -69h0m3 62h0m4 -43h0m3 16h0m4 -58h0m3 -6h0m3 -20h0m4 67h0m3 -65h0m3 118h0m4 -92h0m3 3h0m3 -1h0m4 -2h0m3 5h0m3 -59h0m4 80h0m3 -37h0m3 -29h0m4 74h0m3 -10h0m3 -2h0m4 50h0m3 -84h0m3 2h0m4 36h0m3 -81h0m4 7h0m3 76h0m3 -65h0m4 0h0m3 45h0m3 -68h0m4 31h0m3 50h0m3 -31h0m4 55h0m3 -56h0m3 -26h0m4 102h0m3 61h0m3 -74h0m4 -47h0m3 -52h0m3 44h0m4 -30h0m3 25h0m3 1h0m4 -31h0m3 8h0m4 48h0m3 -26h0m3 49h0m4 6h0m3 9h0m3 -66h0m4 -30h0m3 49h0m3 1h0m4 -46h0m3 -42h0m3 25h0m4 61h0m3 -59h0m3 7h0m4 16h0m3 8h0m3 1h0m4 13h0m3 -63h0m3 102h0m4 -63h0m3 -24h0m4 -2h0m3 2h0m3 55h0m4 -52h0m3 -8h0m3 24h0m4 65h0m3 -146h0m3 145h0m4 -17h0m3 -60h0m3 36h0m4 4h0m3 -23h0m3 74h0m4 -44h0m3 50h0m3 63h0m4 -49h0m3 21h0m3 -78h0m4 -29h0m3 -15h0m4 32h0m3 -59h0m3 64h0m4 -64h0m3 118h0m3 9h0m4 -38h0m3 -26h0m3 29h0m4 20h0m3 -98h0m3 87h0m4 -10h0m3 -57h0m3 26h0m4 151h0m3 -130h0m3 59h0m4 -94h0m3 41h0m4 57h0m3 -49h0m3 1h0m4 41h0m3 22h0m3 4h0m4 -8h0m3 -19h0m3 16h0m4 -24h0m3 24h0m3 -11h0m4 -28h0m3 22h0m3 19h0m4 32h0m3 -68h0m3 -6h0m4 -113h0m3 94h0m3 -53h0m4 97h0m3 -50h0m4 28h0m3 18h0m3 -50h0m4 6h0m3 33h0m3 -94h0m4 19h0m3 3h0m3 -23h0m4 7h0m3 63h0m3 -62h0m4 24h0m3 38h0m3 7h0m4 -55h0m3 36h0m3 -21h0m4 64h0m3 -102h0m3 27h0m4 -38h0m3 3h0m4 30h0m3 90h0m3 -53h0m4 38h0m3 -77h0m3 24h0m4 27h0m3 -9h0m3 109h0m4 -6h0m3 -104h0m3 69h0m4 -37h0m3 21h0m3 64h0m4 -87h0m3 30h0m3 -120h0m4 23h0m3 31h0m3 -21h0m4 54h0m3 -17h0m4 34h0m3 -48h0m3 -8h0m4 8h0m3 -3h0m3 -13h0m4 -2h0m3 -31h0m3 1h0m4 104h0m3 -54h0m3 -31h0m4 16h0m3 33h0m3 -39h0m4 93h0m3 41h0m3 -89h0m4 46h0m3 26h0m3 -54h0m4 -21h0m3 -31h0m4 12h0m3 69h0m3 2h0m4 55h0m3 -102h0m3 -62h0m4 83h0m3 -28h0m3 6h0m4 35h0m3 -47h0m3 20h0m4 25h0m3 -73h0m3 8h0m4 2h0m3 84h0m3 -113h0m4 35h0m3 -32h0m3 114h0m4 33h0m3 -73h0m4 -121h0m3 151h0m3 -40h0m4 -46h0m3 25h0m3 1h0m4 23h0m3 3h0m3 62h0m4 -83h0m3 -55h0m3 164h0m4 -27h0m3 -50h0m3 3h0m4 -21h0m3 2h0m3 -60h0m4 47h0m3 -50h0m3 53h0m4 24h0m3 -21h0m4 -60h0m3 26h0m3 50h0m4 3h0m3 0h0m3 -10h0m4 0h0m3 5h0m3 28h0m4 118h0m3 -96h0m3 -45h0m4 -14h0m3 -42h0m3 122h0m4 -68h0m3 -12h0m3 55h0m4 -27h0m3 -53h0m3 11h0m4 -31h0m3 19h0m4 33h0m3 -16h0m3 -69h0m4 25h0m3 37h0m3 18h0m4 -46h0m3 -1h0m3 33h0m4 -8h0m3 -12h0m3 44h0m4 -80h0m3 92h0m3 -40h0m4 -36h0m3 64h0m3 -31h0m4 -20h0m3 0h0m3 -2h0m4 -3h0m3 79h0m4 -33h0m3 -15h0m3 37h0m4 -40h0m3 -27h0m3 -13h0m4 85h0m3 3h0m3 21h0m4 -128h0m3 169h0m3 -38h0m4 -37h0m3 -4h0m3 -79h0m4 40h0m3 -22h0m3 1h0m4 -10h0m3 69h0m3 0h0m4 17h0m3 -36h0m4 -43h0m3 75h0m3 -54h0m4 -1h0m3 73h0m3 -25h0m4 79h0m3 -69h0m3 -72h0m4 137h0m3 -222h0m3 122h0m4 -49h0m3 54h0m3 -26h0m4 30h0m3 -80h0m3 4h0m4 82h0m3 5h0m3 -4h0m4 -57h0m3 48h0m4 -1h0m3 -67h0m3 1h0m4 35h0m3 -88h0m3 66h0m4 27h0m3 -22h0m3 37h0m4 -51h0m3 84h0m3 16h0m4 4h0m3 -32h0m3 -39h0m4 -1h0m3 51h0m3 -65h0m4 118h0m3 -33h0m3 -77h0m4 157h0m3 -20h0m4 1h0m3 -163h0m3 63h0m4 -28h0m3 -12h0m3 69h0m4 -95h0m3 58h0m3 50h0m4 -47h0m3 38h0m3 -4h0m4 32h0m3 -50h0m3 -9h0m4 13h0m3 1h0m3 -10h0m4 -22h0m3 -52h0m3 56h0m4 -18h0m3 17h0m4 -76h0m3 -26h0m3 62h0m4 74h0m3 -17h0m3 6h0m4 -13h0m3 9h0m3 -74h0m4 34h0m3 42h0m3 -19h0m4 11h0m3 -28h0m3 18h0m4 7h0m3 38h0m3 -108h0m4 51h0m3 -1h0m3 -11h0m4 -82h0m3 120h0m4 2h0m3 13h0m3 -3h0m4 -9h0m3 -89h0m3 75h0m4 10h0m3 -39h0m3 -13h0m4 2h0m3 28h0m3 107h0m4 -184h0m3 97h0m3 -48h0m4 80h0m3 -92h0m3 77h0m4 -37h0m3 -108h0m3 -3h0m4 100h0m3 105h0m4 -62h0m3 -47h0m3 42h0m4 6h0m3 -5h0m3 37h0m4 -19h0m3 20h0m3 34h0m4 -20h0m3 -14h0m3 -146h0m4 123h0m3 12h0m3 -23h0m4 47h0m3 -64h0m3 -35h0m4 47h0m3 41h0m3 -57h0m4 91h0m3 -36h0m4 -42h0m3 60h0m3 -142h0m4 -56h0m3 142h0m3 -91h0m4 112h0m3 -24h0m3 -37h0m4 125h0m3 -33h0m3 -58h0m4 57h0m3 -19h0m3 21h0m4 41h0m3 -77h0m3 -41h0m4 66h0m3 -91h0m3 41h0m4 -49h0m3 40h0m4 -54h0m3 -21h0m3 145h0m4 -139h0m3 63h0m3 -15h0m4 29h0m3 -3h0m3 -43h0m4 72h0m3 -11h0m3 -17h0m4 46h0m3 -45h0m3 97h0m4 -51h0m3 29h0m3 -35h0m4 -113h0m3 102h0m3 -71h0m4 103h0m3 -17h0m4 -67h0m3 22h0m3 15h0m4 -63h0m3 -10h0m3 16h0m4 61h0m3 7h0m3 25h0m4 -30h0m3 -5h0m3 10h0m4 -1h0m3 -70h0m3 39h0m4 40h0m3 5h0m3 -69h0m4 5h0m3 28h0m3 -30h0m4 48h0m3 -47h0m4 12h0m3 27h0m3 5h0m4 -19h0m3 -18h0m3 43h0m4 -65h0m3 91h0m3 -50h0m4 27h0m3 3h0m3 2h0m4 59h0m3 -22h0m3 -9h0m4 -108h0m3 89h0m3 -10h0m4 -44h0m3 19h0m3 53h0m4 -57h0m3 4h0m4 -23h0m3 29h0m3 -32h0m4 -62h0m3 129h0m3 -166h0m4 152h0m3 44h0m3 -8h0m4 -42h0m3 2h0m3 -63h0m4 9h0m3 82h0m3 1h0m4 -6h0m3 -58h0m3 16h0m4 11h0m3 63h0m4 -105h0m3 15h0m3 6h0m4 -21h0m3 34h0m3 -32h0m4 -19h0m3 77h0m3 -42h0m4 45h0m3 -22h0m3 -21h0m4 69h0m3 -106h0m3 41h0m4 -39h0m3 54h0m3 -80h0m4 84h0m3 -39h0m3 -4h0m4 20h0m3 -39h0m4 75h0m3 -17h0m3 -28h0m4 14h0m3 -44h0m3 69h0m4 13h0m3 -43h0m3 21h0m4 90h0m3 -79h0m3 -113h0m4 127h0m3 -59h0m3 41h0m4 -21h0m3 -13h0m3 63h0m4 2h0m3 -8h0m3 -14h0m4 123h0m3 -130h0m4 -59h0m3 22h0m3 -12h0m4 41h0m3 20h0m3 -47h0m4 -17h0m3 44h0m3 65h0m4 32h0m3 -99h0m3 -25h0m4 -32h0m3 -42h0m3 55h0m4 92h0m3 -37h0m3 35h0m4 -82h0m3 3h0m3 60h0m4 -29h0m3 54h0m4 -77h0m3 18h0m3 25h0m4 -25h0m3 -38h0m3 50h0m4 -50h0m3 -30h0m3 134h0m4 -31h0m3 -95h0m3 63h0m4 46h0m3 -33h0m3 4h0m4 -71h0m3 111h0m3 -38h0m4 28h0m3 -116h0m3 18h0m4 -11h0m3 55h0m4 8h0m3 -11h0m3 20h0m4 -87h0m3 62h0m3 31h0m4 -29h0m3 -41h0m3 79h0m4 -60h0m3 81h0m3 9h0m4 -54h0m3 -55h0m3 66h0m4 9h0m3 -85h0m3 -50h0m4 59h0m3 123h0m3 -36h0m4 -23h0m3 -26h0m4 -32h0m3 69h0m3 -107h0m4 64h0m3 19h0m3 -26h0m4 -12h0m3 48h0m3 23h0m4 -83h0m3 -82h0m3 55h0m4 48h0m3 18h0m3 -17h0m4 -61h0m3 104h0m3 38h0m4 -59h0m3 47h0m3 -61h0m4 54h0m3 -122h0m4 94h0m3 -46h0m3 9h0m4 -50h0m3 67h0m3 46h0m4 -72h0m3 15h0m3 50h0m4 -42h0m3 1h0m3 24h0m4 -1h0m3 -29h0m3 -22h0m4 68h0m3 7h0m3 82h0m4 -41h0m3 -89h0m3 77h0m4 -75h0m3 7h0m4 -28h0m3 63h0m3 -64h0m4 25h0m3 61h0m3 -32h0m4 26h0m3 -23h0m3 -17h0m4 20h0m3 -31h0m3 4h0m4 46h0m3 -10h0m3 125h0m4 -171h0m3 64h0m3 2h0m4 -61h0m3 25h0m3 -19h0m4 60h0m3 -34h0m4 -15h0m3 -82h0m3 78h0m4 -49h0m3 -15h0m3 16h0m4 85h0m3 -11h0m3 -25h0m4 -1h0m3 -13h0m3 -23h0m4 17h0m3 62h0m3 -70h0m4 87h0m3 -34h0m3 -49h0m4 -20h0m3 35h0m3 -28h0m4 6h0m3 -62h0m4 20h0m3 74h0m3 -16h0m4 -43h0m3 37h0m3 71h0m4 -93h0m3 5h0m3 -1h0m4 -11h0m3 -25h0m3 93h0m4 51h0m3 -9h0m3 -115h0m4 47h0m3 57h0m3 -77h0m4 88h0m3 -38h0m3 -23h0m4 34h0m3 -41h0m4 17h0m3 -14h0m3 9h0m4 -42h0m3 4h0m3 15h0m4 78h0m3 -100h0m3 19h0m4 -2h0m3 -7h0m3 -29h0m4 34h0m3 -54h0m3 -7h0m4 -2h0m3 -17h0m3 17h0m4 -15h0m3 75h0m3 -68h0m4 34h0m3 35h0m4 -33h0m3 118h0m3 -153h0m4 21h0m3 42h0m3 9h0m4 -76h0m3 55h0m3 46h0m4 -45h0m3 24h0m3 -27h0m4 51h0m3 -4h0m3 13h0m4 33h0m3 -74h0m3 -9h0m4 81h0m3 -39h0m3 -33h0m4 -64h0m3 43h0m4 52h0m3 -58h0m3 59h0m4 -32h0m3 82h0m3 3h0m4 -59h0m3 -52h0m3 46h0m4 62h0m3 24h0m3 -36h0m4 -69h0m3 20h0m3 -15h0m4 56h0m3 4h0m3 -74h0m4 33h0m3 -75h0m3 73h0m4 18h0m3 -82h0m4 36h0m3 -75h0m3 114h0m4 -54h0m3 -4h0m3 -51h0m4 39h0m3 -17h0m3 -7h0m4 175h0m3 -45h0m3 -61h0m4 69h0m3 -55h0m3 -7h0m4 48h0m3 -73h0m3 24h0m4 -103h0m3 171h0m3 -78h0m4 10h0m3 18h0m4 -19h0m3 66h0m3 -52h0m4 12h0m3 0h0m3 -46h0m4 -45h0m3 130h0m3 -61h0m4 50h0m3 -113h0m3 61h0m4 57h0m3 -30h0m3 -114h0m4 99h0m3 -18h0m3 15h0m4 -49h0m3 -25h0m3 37h0m4 18h0m3 -2h0m4 6h0m3 37h0m3 -31h0m4 12h0m3 -100h0m3 -31h0m4 95h0m3 -25h0m3 72h0m4 -41h0m3 13h0m3 11h0m4 -40h0m3 29h0m3 -30h0m4 -64h0m3 92h0m3 -39h0m4 0h0m3 46h0m3 -44h0m4 16h0m3 3h0m4 22h0m3 -54h0m3 70h0m4 -60h0m3 27h0m3 70h0m4 -80h0m3 12h0m3 57h0m4 -54h0m3 22h0m3 -25h0m4 22h0m3 83h0m3 -110h0m4 69h0m3 -50h0m3 16h0m4 -41h0m3 6h0m3 14h0m4 61h0m3 -77h0m4 41h0m3 -54h0m3 -9h0m4 48h0m3 -2h0m3 -2h0m4 -53h0m3 16h0m3 -33h0m4 26h0m3 1h0m3 42h0m4 -49h0m3 -12h0m3 69h0m4 42h0m3 -187h0m3 106h0m4 14h0m3 -65h0m3 19h0m4 -31h0m3 103h0m4 10h0m3 -19h0m3 -21h0m4 36h0m3 38h0m3 -83h0m4 -64h0m3 105h0m3 7h0m4 -29h0m3 72h0m3 -50h0m4 -47h0m3 62h0m3 -104h0m4 98h0m3 61h0m3 35h0m4 -40h0m3 -55h0m3 -34h0m4 44h0m3 -30h0m4 -27h0m3 -12h0m3 -11h0m4 15h0m3 -25h0m3 23h0m4 29h0m3 31h0m3 -40h0m4 36h0m3 -4h0m3 -96h0m4 -9h0m3 38h0m3 31h0m4 49h0m3 -41h0m3 -25h0m4 -46h0m3 16h0m3 -18h0m4 58h0m3 20h0m4 32h0m3 51h0m3 -67h0m4 -13h0m3 12h0m3 -13h0m4 -28h0m3 -1h0m3 45h0m4 24h0m3 -15h0m3 -6h0m4 38h0m3 -13h0m3 6h0m4 117h0m3 -98h0m3 94h0m4 -5h0m3 -37h0m3 113h0m4 -103h0m3 56h0m4 -54h0m3 22h0m3 -30h0m4 -5h0m3 32h0m3 -68h0m4 3h0m3 101h0m3 -68h0m4 18h0m3 -79h0m3 -2h0m4 25h0m3 24h0m3 0h0m4 -41h0m3 -7h0m3 -4h0m4 23h0m3 14h0m4 -96h0m3 178h0m3 -50h0m4 9h0m3 -56h0m3 -36h0m4 2h0m3 -7h0m3 130h0m4 -122h0m3 37h0m3 -2h0m4 4h0m3 63h0m3 -70h0m4 -3h0m3 70h0m3 -110h0m4 56h0m3 -44h0m3 90h0m4 -102h0m3 84h0m4 -17h0m3 -80h0m3 71h0m4 -16h0m3 85h0m3 -16h0m4 13h0m3 -65h0m3 42h0m4 -52h0m3 22h0m3 -25h0m4 57h0m3 -13h0m3 -14h0m4 -2h0m3 -35h0m3 5h0m4 19h0m3 -10h0m3 19h0m4 -94h0m3 36h0m4 6h0m3 64h0m3 -33h0m4 -67h0m3 -29h0m3 125h0m4 0h0m3 -21h0m3 25h0m4 -26h0m3 68h0m3 -64h0m4 15h0m3 20h0m3 11h0m4 -15h0m3 -17h0m3 18h0m4 -54h0m3 -45h0m3 88h0m4 -22h0m3 40h0m4 76h0m3 -141h0m3 72h0m4 -32h0m3 -58h0m3 74h0m4 -26h0m3 64h0m3 -120h0m4 6h0m3 73h0m3 11h0m4 -45h0m3 42h0m3 -3h0m4 -38h0m3 -60h0m3 118h0m4 -41h0m3 -27h0m3 23h0m4 38h0m3 -8h0m4 -83h0m3 60h0m3 39h0m4 -30h0m3 40h0m3 -52h0m4 33h0m3 -22h0m3 -4h0m4 26h0m3 6h0m3 -55h0m4 -45h0m3 66h0m3 -57h0m4 94h0m3 -100h0m3 87h0m4 -83h0m3 47h0m3 15h0m4 -62h0m3 8h0m4 -16h0m3 -59h0m3 73h0m4 -124h0m3 169h0m3 -99h0m4 20h0m3 173h0m3 -106h0m4 -53h0m3 33h0m3 -3h0m4 45h0m3 18h0m3 0h0m4 -42h0m3 35h0m3 19h0m4 -3h0m3 -62h0m3 86h0m4 41h0m3 -114h0m4 3h0m3 13h0m3 36h0m4 -96h0m3 20h0m3 41h0m4 -28h0m3 -25h0m3 10h0m4 35h0m3 -55h0m3 52h0m4 -30h0m3 -61h0m3 70h0m4 -58h0m3 85h0m3 -28h0m4 -27h0m3 74h0m3 13h0m4 -1h0m3 -49h0m4 -14h0m3 3h0m3 -28h0m4 -41h0m3 109h0m3 3h0m4 -27h0m3 6h0m3 -36h0m4 -1h0m3 -16h0m3 -7h0m4 31h0m3 53h0m3 5h0m4 -12h0m3 -42h0m3 20h0m4 40h0m3 -25h0m3 -19h0m4 -26h0m3 37h0m4 18h0m3 -38h0m3 -44h0m4 115h0m3 -90h0m3 94h0m4 -41h0m3 18h0m3 20h0m4 32h0m3 -45h0m3 -51h0m4 24h0m3 -109h0m3 18h0m4 10h0m3 62h0m3 -36h0m4 29h0m3 -17h0m3 4h0m4 23h0m3 6h0m4 46h0m3 -85h0m3 67h0m4 -18h0m3 59h0m3 3h0m4 -27h0m3 -103h0m3 117h0m4 -64h0m3 41h0" stroke="#3953a4" stroke-width="43" stroke-linecap="round"/></g>
<g transform="scale(.1)" fill="none"><path d="M0 0m8950 8553V8500m-20 0h40m-10 -17V8444m-20 0h40m-10 -15V8390m-20 0h40m-10 67V8421m-20 0h40m-10 70V8449m-20 0h40m-10 49V8456m-20 0h40m-10 0V8423m-20 0h40m-10 44V8422m-20 0h40m-10 80V8453m-20 0h40m-10 9V8416m-20 0h40m-10 81V8444m-20 0h40m-10 24V8425m-20 0h40m-9 36V8418m-20 0h40m-10 78V8457m-20 0h40m-10 48V8454m-20 0h40m-10 24V8425m-20 0h40m-10 25V8395m-20 0h40m-10 3V8355m-20 0h40m-10 105V8405m-20 0h40m-10 116V8473m-20 0h40m-10 -34V8393m-20 0h40m-10 99V8442m-20 0h40m-10 24V8416m-20 0h40m-10 68V8434m-20 0h40m-10 26V8411m-20 0h40m-10 40V8397m-20 0h40m-10 81V8431m-20 0h40m-10 23V8406m-20 0h40m-10 41V8397m-20 0h40m-10 15V8360m-20 0h40m-10 90V8397m-20 0h40m-10 86V8423m-20 0h40m-10 61V8439m-20 0h40m-10 87V8471m-20 0h40m-10 -28V8391m-20 0h40m-9 77V8414m-20 0h40m-10 67V8435m-20 0h40m-10 61V8443m-20 0h40m-10 17V8397m-20 0h40m-10 95V8441m-20 0h40m-10 24V8407m-20 0h40m-10 98V8448m-20 0h40m-10 12V8409m-20 0h40m-10 -16V8340m-20 0h40m-10 163V8453m-20 0h40m-10 27V8424m-20 0h40m-10 67V8438m-20 0h40m-10 26V8409m-20 0h40m-10 70V8420m-20 0h40m-10 37V8408m-20 0h40m-10 82V8425m-20 0h40m-10 52V8394m-20 0h40m-10 63V8398m-20 0h40m-10 40V8388m-20 0h40m-10 93V8430m-20 0h40m-10 38V8415m-20 0h40m-10 80V8444m-20 0h40m-10 36V8416m-20 0h40m-9 123V8486m-20 0h40m-10 -28V8398m-20 0h40m-10 84V8419m-20 0h40m-10 9V8365m-20 0h40m-10 149V8455m-20 0h40m-10 -33V8362m-20 0h40m-10 105V8409m-20 0h40m-10 40V8394m-20 0h40m-10 68V8397m-20 0h40m-10 47V8379m-20 0h40m-10 48V8356m-20 0h40m-10 140V8446m-20 0h40m-10 -60V8321m-20 0h40m-10 119V8382m-20 0h40m-10 69V8394m-20 0h40m-10 34V8363m-20 0h40m-10 88V8390m-20 0h40m-10 63V8387m-20 0h40m-10 39V8372m-20 0h40m-10 81V8395m-20 0h40m-10 113V8434m-20 0h40m-10 31V8409m-20 0h40m-9 47V8363m-20 0h40m-10 61V8354m-20 0h40m-10 109V8366m-20 0h40m-10 139V8445m-20 0h40m-10 -7V8359m-20 0h40m-10 23V8316m-20 0h40m-10 112V8367m-20 0h40m-10 13V8320m-20 0h40m-10 148V8379m-20 0h40m-10 86V8395m-20 0h40m-10 65V8383m-20 0h40m-10 14V8316m-20 0h40m-10 106V8336m-20 0h40m-10 27V8286m-20 0h40m-10 105V8325m-20 0h40m-10 91V8337m-20 0h40m-10 47V8295m-20 0h40m-10 156V8369m-20 0h40m-10 64V8341m-20 0h40m-10 16V8269m-20 0h40m-10 149V8331m-20 0h40m-10 29V8287m-20 0h40m-10 39V8242m-20 0h40m-9 143V8285m-20 0h40m-10 88V8279m-20 0h40m-10 141V8312m-20 0h40m-10 48V8267m-20 0h40m-10 121V8295m-20 0h40m-10 89V8293m-20 0h40m-10 112V8324m-20 0h40m-10 126V8357m-20 0h40m-10 3V8252m-20 0h40m-10 183V8358m-20 0h40m-10 -20V8248m-20 0h40m-10 150V8289m-20 0h40m-10 46V8239m-20 0h40m-10 87V8229m-20 0h40m-10 112V8230m-20 0h40m-10 146V8276m-20 0h40m-10 63V8244m-20 0h40m-10 85V8218m-20 0h40m-10 110V8240m-20 0h40m-10 90V8217m-20 0h40m-10 178V8282m-20 0h40m-10 16V8187m-20 0h40m-10 162V8249m-20 0h40m-9 174V8308m-20 0h40m-10 30V8231m-20 0h40m-10 153V8251m-20 0h40m-10 172V8308m-20 0h40m-10 24V8173m-20 0h40m-10 152V8201m-20 0h40m-10 125V8180m-20 0h40m-10 171V8220m-20 0h40m-10 59V8154m-20 0h40m-10 207V8245m-20 0h40m-10 75V8206m-20 0h40m-10 136V8202m-20 0h40m-10 41V8105m-20 0h40m-10 162V8152m-20 0h40m-10 179V8192m-20 0h40m-10 166V8241m-20 0h40m-10 79V8197m-20 0h40m-10 30V8098m-20 0h40m-10 210V8197m-20 0h40m-10 127V8162m-20 0h40m-10 90V8144m-20 0h40m-10 153V8162m-20 0h40m-10 96V8116m-20 0h40m-9 124V8112m-20 0h40m-10 147V8102m-20 0h40m-10 164V8125m-20 0h40m-10 190V8173m-20 0h40m-10 77V8090m-20 0h40m-10 258V8216m-20 0h40m-10 86V8167m-20 0h40m-10 119V8166m-20 0h40m-10 82V8111m-20 0h40m-10 144V8143m-20 0h40m-10 183V8187m-20 0h40m-10 39V8092m-20 0h40m-10 162V8102m-20 0h40m-10 213V8144m-20 0h40m-10 113V8112m-20 0h40m-10 107V8050m-20 0h40m-10 176V8062m-20 0h40m-10 124V8018m-20 0h40m-10 257V8124m-20 0h40m-10 116V8092m-20 0h40m-10 245V8203m-20 0h40m-10 58V8139m-20 0h40m-10 56V8059m-20 0h40m-9 152V8042m-20 0h40m-10 186V8040m-20 0h40m-10 259V8149m-20 0h40m-10 120V8102m-20 0h40m-10 232V8150m-20 0h40m-10 80V8103m-20 0h40m-10 128V8066m-20 0h40m-10 97V8010m-20 0h40m-10 237V8089m-20 0h40m-10 135V8071m-20 0h40m-10 137V8025m-20 0h40m-10 125V7970m-20 0h40m-10 230V8039m-20 0h40m-10 171V8069m-20 0h40m-10 110V7999m-20 0h40m-10 197V8040m-20 0h40m-10 141V8015m-20 0h40m-10 215V8096m-20 0h40m-10 102V8038m-20 0h40m-10 174V8062m-20 0h40m-10 177V8086m-20 0h40m-10 113V8036m-20 0h40m-10 185V8067m-20 0h40m-9 107V7934m-20 0h40m-10 274V8057m-20 0h40m-10 155V8028m-20 0h40m-10 163V8043m-20 0h40m-10 111V8000m-20 0h40m-10 142V7998m-20 0h40m-10 200V8043m-20 0h40m-10 128V7999m-20 0h40m-10 196V8030m-20 0h40m-10 193V8081m-20 0h40m-10 60V7983m-20 0h40m-10 204V8020m-20 0h40m-10 104V7983m-20 0h40m-10 170V7999m-20 0h40m-10 157V7985m-20 0h40m-10 179V8011m-20 0h40m-10 177V8050m-20 0h40m-10 185V8059m-20 0h40m-10 84V8004m-20 0h40m-10 168V8025m-20 0h40m-10 152V8034m-20 0h40m-10 155V7996m-20 0h40m-10 208V8030m-20 0h40m-9 185V8064m-20 0h40m-10 126V8030m-20 0h40m-10 146V7986m-20 0h40m-10 182V7989m-20 0h40m-10 158V7996m-20 0h40m-10 188V8005m-20 0h40m-10 123V7994m-20 0h40m-10 196V8029m-20 0h40m-10 115V7971m-20 0h40m-10 208V8039m-20 0h40m-10 198V8092m-20 0h40m-10 113V8026m-20 0h40m-10 142V8044m-20 0h40m-10 152V8081m-20 0h40m-10 94V8031m-20 0h40m-10 111V7972m-20 0h40m-10 155V8003m-20 0h40m-10 153V7973m-20 0h40m-10 212V8050m-20 0h40m-10 72V7950m-20 0h40m-10 160V7968m-20 0h40m-10 137V7944m-20 0h40m-10 193V7969m-20 0h40m-9 205V7995m-20 0h40m-10 66V7930m-20 0h40m-10 236V8011m-20 0h40m-10 103V7958m-20 0h40m-10 197V7998m-20 0h40m-10 51V7882m-20 0h40m-10 221V7951m-20 0h40m-10 110V7906m-20 0h40m-10 180V7937m-20 0h40m-10 207V7991m-20 0h40m-10 165V7979m-20 0h40m-10 157V7959m-20 0h40m-10 186V7960m-20 0h40m-10 182V7989m-20 0h40m-10 111V7928m-20 0h40m-10 160V7932m-20 0h40m-10 169V7954m-20 0h40m-10 100V7916m-20 0h40m-10 195V7970m-20 0h40m-10 161V7961m-20 0h40m-10 214V8020m-20 0h40m-10 129V7995m-20 0h40m-9 103V7943m-20 0h40m-10 148V7926m-20 0h40m-10 248V8008m-20 0h40m-10 120V7982m-20 0h40m-10 100V7918m-20 0h40m-10 182V7975m-20 0h40m-10 128V7947m-20 0h40m-10 198V7978m-20 0h40m-10 128V7920m-20 0h40m-10 144V7915m-20 0h40m-10 174V7932m-20 0h40m-10 148V7929m-20 0h40m-10 179V7938m-20 0h40m-10 224V8000m-20 0h40m-10 51V7880m-20 0h40m-10 193V7922m-20 0h40m-10 150V7899m-20 0h40m-10 165V7888m-20 0h40m-10 174V7872m-20 0h40m-10 263V7964m-20 0h40m-10 113V7918m-20 0h40m-10 191V7941m-20 0h40m-10 178V7944m-20 0h40m-9 60V7835m-20 0h40m-10 339V8002m-20 0h40m-10 49V7882m-20 0h40m-10 184V7914m-20 0h40m-10 172V7924m-20 0h40m-10 121V7846m-20 0h40m-10 250V7931m-20 0h40m-10 186V7961m-20 0h40m-10 115V7913m-20 0h40m-10 106V7864m-20 0h40m-10 189V7880m-20 0h40m-10 152V7880m-20 0h40m-10 179V7871m-20 0h40m-10 203V7917m-20 0h40m-10 165V7933m-20 0h40m-10 134V7897m-20 0h40m-10 155V7869m-20 0h40m-10 275V7983m-20 0h40m-10 68V7865m-20 0h40m-10 283V7959m-20 0h40m-10 119V7902m-20 0h40m-10 180V7901m-20 0h40m-10 115V7862m-20 0h40m-9 199V7886m-20 0h40m-10 188V7917m-20 0h40m-10 183V7945m-20 0h40m-10 152V7918m-20 0h40m-10 40V7786m-20 0h40m-10 262V7882m-20 0h40m-10 154V7880m-20 0h40m-10 171V7876m-20 0h40m-10 177V7890m-20 0h40m-10 186V7864m-20 0h40m-10 168V7851m-20 0h40m-10 223V7913m-20 0h40m-10 201V7952m-20 0h40m-10 147V7926m-20 0h40m-10 108V7820m-20 0h40m-10 262V7905m-20 0h40m-10 163V7859m-20 0h40m-10 205V7873m-20 0h40m-10 211V7884m-20 0h40m-10 210V7896m-20 0h40m-10 226V7953m-20 0h40m-10 123V7898m-20 0h40m-10 108V7840m-20 0h40m-9 220V7879m-20 0h40m-10 213V7904m-20 0h40m-10 130V7846m-20 0h40m-10 227V7914m-20 0h40m-10 108V7820m-20 0h40m-10 222V7866m-20 0h40m-10 158V7848m-20 0h40m-10 216V7888m-20 0h40m-10 142V7840m-20 0h40m-10 187V7855m-20 0h40m-10 202V7890m-20 0h40m-10 219V7917m-20 0h40m-10 216V7939m-20 0h40m-10 73V7827m-20 0h40m-10 250V7867m-20 0h40m-10 151V7790m-20 0h40m-10 289V7895m-20 0h40m-10 208V7937m-20 0h40m-10 176V7925m-20 0h40m-10 117V7881m-20 0h40m-10 149V7820m-20 0h40m-10 256V7876m-20 0h40m-10 227V7913m-20 0h40m-9 122V7857m-20 0h40m-10 191V7828m-20 0h40m-10 192V7820m-20 0h40m-10 284V7864m-20 0h40m-10 216V7903m-20 0h40m-10 174V7853m-20 0h40m-10 264V7949m-20 0h40m-10 188V7953m-20 0h40m-10 105V7888m-20 0h40m-10 158V7830m-20 0h40m-10 248V7903m-20 0h40m-10 201V7945m-20 0h40m-10 175V7907m-20 0h40m-10 221V7968m-20 0h40m-10 51V7797m-20 0h40m-10 219V7850m-20 0h40m-10 259V7913m-20 0h40m-10 169V7853m-20 0h40m-10 203V7851m-20 0h40m-10 242V7887m-20 0h40m-10 188V7926m-20 0h40m-10 183V7916m-20 0h40m-10 113V7828m-20 0h40m-9 288V7914m-20 0h40m-10 155V7835m-20 0h40m-10 250V7873m-20 0h40m-10 199V7873m-20 0h40m-10 195V7863m-20 0h40m-10 242V7890m-20 0h40m-10 181V7878m-20 0h40m-10 180V7861m-20 0h40m-10 208V7879m-20 0h40m-10 138V7820m-20 0h40m-10 209V7814m-20 0h40m-10 223V7830m-20 0h40m-10 251V7873m-20 0h40m-10 127V7791m-20 0h40m-10 214V7736m-20 0h40m-10 341V7881m-20 0h40m-10 214V7933m-20 0h40m-10 106V7848m-20 0h40m-10 227V7863m-20 0h40m-10 141V7796m-20 0h40m-10 266V7865m-20 0h40m-10 220V7875m-20 0h40m-9 199V7872m-20 0h40m-10 222V7864m-20 0h40m-10 199V7855m-20 0h40m-10 197V7853m-20 0h40m-10 206V7849m-20 0h40m-10 200V7817m-20 0h40m-10 213V7826m-20 0h40m-10 230V7826m-20 0h40m-10 245V7848m-20 0h40m-10 199V7834m-20 0h40m-10 207V7848m-20 0h40m-10 216V7857m-20 0h40m-10 177V7769m-20 0h40m-10 240V7821m-20 0h40m-10 173V7809m-20 0h40m-10 270V7896m-20 0h40m-10 133V7821m-20 0h40m-10 231V7816m-20 0h40m-10 266V7898m-20 0h40m-10 82V7742m-20 0h40m-10 294V7800m-20 0h40m-10 225V7806m-20 0h40m-10 226V7828m-20 0h40m-9 221V7828m-20 0h40m-10 171V7809m-20 0h40m-10 223V7823m-20 0h40m-10 170V7813m-20 0h40m-10 190V7825m-20 0h40m-10 219V7822m-20 0h40m-10 193V7774m-20 0h40m-10 201V7723m-20 0h40m-10 308V7787m-20 0h40m-10 229V7750m-20 0h40m-10 275V7821m-20 0h40m-10 192V7774m-20 0h40m-10 298V7922m-20 0h40m-10 107V7812m-20 0h40m-10 282V7839m-20 0h40m-10 162V7796m-20 0h40m-10 179V7733m-20 0h40m-10 321V7834m-20 0h40m-10 246V7848m-20 0h40m-10 217V7869m-20 0h40m-10 121V7753m-20 0h40m-10 228V7785m-20 0h40m-10 157V7740m-20 0h40m-9 277V7808m-20 0h40m-10 259V7852m-20 0h40m-10 152V7765m-20 0h40m-10 284V7826m-20 0h40m-10 164V7738m-20 0h40m-10 297V7857m-20 0h40m-10 169V7801m-20 0h40m-10 236V7781m-20 0h40m-10 235V7783m-20 0h40m-10 212V7770m-20 0h40m-10 250V7786m-20 0h40m-10 204V7738m-20 0h40m-10 269V7778m-20 0h40m-10 214V7789m-20 0h40m-10 204V7755m-20 0h40m-10 271V7802m-20 0h40m-10 236V7748m-20 0h40m-10 274V7800m-20 0h40m-10 208V7763m-20 0h40m-10 247V7767m-20 0h40m-10 188V7681m-20 0h40m-10 346V7807m-20 0h40m-10 190V7769m-20 0h40m-9 241V7758m-20 0h40m-10 317V7826m-20 0h40m-10 198V7849m-20 0h40m-10 209V7821m-20 0h40m-10 265V7864m-20 0h40m-10 103V7744m-20 0h40m-10 260V7762m-20 0h40m-10 251V7779m-20 0h40m-10 207V7756m-20 0h40m-10 207V7733m-20 0h40m-10 249V7764m-20 0h40m-10 219V7731m-20 0h40m-10 267V7728m-20 0h40m-10 277V7738m-20 0h40m-10 221V7762m-20 0h40m-10 190V7684m-20 0h40m-10 327V7770m-20 0h40m-10 166V7678m-20 0h40m-10 298V7679m-20 0h40m-10 284V7700m-20 0h40m-10 272V7709m-20 0h40m-10 250V7679m-20 0h40m-10 276V7796m-20 0h40m-9 206V7818m-20 0h40m-10 173V7761m-20 0h40m-10 193V7722m-20 0h40m-10 254V7743m-20 0h40m-10 254V7717m-20 0h40m-10 265V7726m-20 0h40m-10 221V7735m-20 0h40m-10 250V7716m-20 0h40m-10 288V7743m-20 0h40m-10 260V7800m-20 0h40m-10 82V7625m-20 0h40m-10 360V7706m-20 0h40m-10 199V7682m-20 0h40m-10 262V7680m-20 0h40m-10 359V7794m-20 0h40m-10 153V7703m-20 0h40m-10 255V7708m-20 0h40m-10 320V7776m-20 0h40m-10 173V7701m-20 0h40m-10 265V7758m-20 0h40m-10 246V7742m-20 0h40m-10 285V7746m-20 0h40m-10 256V7713m-20 0h40m-9 239V7668m-20 0h40m-10 320V7748m-20 0h40m-10 248V7753m-20 0h40m-10 215V7712m-20 0h40m-10 309V7798m-20 0h40m-10 178V7696m-20 0h40m-10 281V7677m-20 0h40m-10 272V7751m-20 0h40m-10 149V7678m-20 0h40m-10 284V7744m-20 0h40m-10 292V7768m-20 0h40m-10 233V7767m-20 0h40m-10 153V7680m-20 0h40m-10 338V7785m-20 0h40m-10 216V7762m-20 0h40m-10 216V7721m-20 0h40m-10 219V7698m-20 0h40m-10 253V7683m-20 0h40m-10 229V7667m-20 0h40m-10 312V7745m-20 0h40m-10 176V7675m-20 0h40m-10 322V7771m-20 0h40m-10 301V7852m-20 0h40m-9 88V7700m-20 0h40m-10 287V7702m-20 0h40m-10 176V7607m-20 0h40m-10 311V7643m-20 0h40m-10 295V7693m-20 0h40m-10 263V7733m-20 0h40m-10 244V7749m-20 0h40m-10 184V7698m-20 0h40m-10 258V7733m-20 0h40m-10 136V7632m-20 0h40m-10 339V7723m-20 0h40m-10 268V7753m-20 0h40m-10 176V7682m-20 0h40m-10 271V7691m-20 0h40m-10 230V7688m-20 0h40m-10 342V7730m-20 0h40m-10 209V7661m-20 0h40m-10 299V7681m-20 0h40m-10 238V7664m-20 0h40m-10 332V7790m-20 0h40m-10 188V7660m-20 0h40m-10 372V7807m-20 0h40m-10 181V7710m-20 0h40m-9 278V7632m-20 0h40m-10 234V7630m-20 0h40m-10 345V7703m-20 0h40m-10 281V7712m-20 0h40m-10 251V7711m-20 0h40m-10 246V7702m-20 0h40m-10 263V7685m-20 0h40m-10 233V7587m-20 0h40m-10 357V7693m-20 0h40m-10 282V7760m-20 0h40m-10 234V7721m-20 0h40m-10 238V7690m-20 0h40m-10 249V7724m-20 0h40m-10 302V7766m-20 0h40m-10 273V7802m-20 0h40m-10 213V7736m-20 0h40m-10 259V7698m-20 0h40m-10 253V7692m-20 0h40m-10 305V7700m-20 0h40m-10 264V7736m-20 0h40m-10 170V7640m-20 0h40m-10 368V7753m-20 0h40m-9 225V7755m-20 0h40m-10 217V7675m-20 0h40m-10 190V7580m-20 0h40m-10 322V7630m-20 0h40m-10 328V7704m-20 0h40m-10 268V7675m-20 0h40m-10 224V7619m-20 0h40m-10 283V7663m-20 0h40m-10 262V7641m-20 0h40m-10 259V7645m-20 0h40m-10 301V7663m-20 0h40m-10 333V7710m-20 0h40m-10 170V7639m-20 0h40m-10 279V7647m-20 0h40m-10 317V7710m-20 0h40m-10 185V7569m-20 0h40m-10 358V7700m-20 0h40m-10 290V7700m-20 0h40m-10 255V7670m-20 0h40m-10 252V7693m-20 0h40m-10 167V7592m-20 0h40m-10 381V7732m-20 0h40m-10 174V7671m-20 0h40m-9 260V7638m-20 0h40m-10 318V7657m-20 0h40m-10 264V7689m-20 0h40m-10 193V7618m-20 0h40m-10 334V7681m-20 0h40m-10 277V7671m-20 0h40m-10 303V7707m-20 0h40m-10 182V7659m-20 0h40m-10 204V7623m-20 0h40m-10 333V7656m-20 0h40m-10 321V7738m-20 0h40m-10 176V7637m-20 0h40m-10 260V7610m-20 0h40m-10 308V7670m-20 0h40m-10 265V7677m-20 0h40m-10 202V7602m-20 0h40m-10 368V7688m-20 0h40m-10 245V7680m-20 0h40m-10 235V7654m-20 0h40m-10 238V7653m-20 0h40m-10 263V7654m-20 0h40m-10 252V7609m-20 0h40m-10 251V7601m-20 0h40m-9 320V7667m-20 0h40m-10 277V7661m-20 0h40m-10 311V7683m-20 0h40m-10 166V7595m-20 0h40m-10 346V7662m-20 0h40m-10 269V7691m-20 0h40m-10 224V7651m-20 0h40m-10 247V7622m-20 0h40m-10 226V7547m-20 0h40m-10 394V7680m-20 0h40m-10 240V7631m-20 0h40m-10 294V7683m-20 0h40m-10 209V7614m-20 0h40m-10 296V7657m-20 0h40m-10 221V7593m-20 0h40m-10 341V7652m-20 0h40m-10 203V7594m-20 0h40m-10 357V7681m-20 0h40m-10 242V7677m-20 0h40m-10 249V7663m-20 0h40m-10 311V7677m-20 0h40m-10 212V7592m-20 0h40m-10 313V7583m-20 0h40m-9 289V7596m-20 0h40m-10 335V7653m-20 0h40m-10 271V7704m-20 0h40m-10 149V7585m-20 0h40m-10 312V7575m-20 0h40m-10 333V7609m-20 0h40m-10 332V7639m-20 0h40m-10 271V7629m-20 0h40m-10 304V7624m-20 0h40m-10 238V7562m-20 0h40m-10 329V7645m-20 0h40m-10 247V7621m-20 0h40m-10 326V7670m-20 0h40m-10 267V7651m-20 0h40m-10 260V7601m-20 0h40m-10 306V7651m-20 0h40m-10 274V7614m-20 0h40m-10 297V7641m-20 0h40m-10 297V7691m-20 0h40m-10 234V7658m-20 0h40m-10 267V7669m-20 0h40m-10 232V7576m-20 0h40m-10 314V7660m-20 0h40m-9 211V7549m-20 0h40m-10 356V7646m-20 0h40m-10 271V7689m-20 0h40m-10 197V7622m-20 0h40m-10 225V7598m-20 0h40m-10 263V7585m-20 0h40m-10 315V7573m-20 0h40m-10 278V7614m-20 0h40m-10 260V7587m-20 0h40m-10 278V7545m-20 0h40m-10 365V7653m-20 0h40m-10 297V7596m-20 0h40m-10 257V7553m-20 0h40m-10 360V7658m-20 0h40m-10 219V7585m-20 0h40m-10 314V7636m-20 0h40m-10 229V7559m-20 0h40m-10 296V7579m-20 0h40m-10 346V7646m-20 0h40m-10 239V7604m-20 0h40m-10 374V7673m-20 0h40m-10 217V7563m-20 0h40m-10 309V7608m-20 0h40m-9 271V7540m-20 0h40m-10 314V7548m-20 0h40m-10 316V7591m-20 0h40m-10 296V7581m-20 0h40m-10 244V7522m-20 0h40m-10 448V7713m-20 0h40m-10 152V7570m-20 0h40m-10 293V7550m-20 0h40m-10 368V7598m-20 0h40m-10 262V7507m-20 0h40m-10 318V7542m-20 0h40m-10 308V7549m-20 0h40m-10 423V7678m-20 0h40m-10 155V7518m-20 0h40m-10 383V7621m-20 0h40m-10 269V7571m-20 0h40m-10 310V7578m-20 0h40m-10 338V7617m-20 0h40m-10 335V7657m-20 0h40m-10 200V7557m-20 0h40m-10 347V7633m-20 0h40m-10 272V7621m-20 0h40m-9 221V7539m-20 0h40m-10 367V7651m-20 0h40m-10 202V7519m-20 0h40m-10 364V7585m-20 0h40m-10 261V7551m-20 0h40m-10 331V7543m-20 0h40m-10 304V7505m-20 0h40m-10 337V7544m-20 0h40m-10 287V7488m-20 0h40m-10 436V7634m-20 0h40m-10 208V7547m-20 0h40m-10 321V7522m-20 0h40m-10 375V7611m-20 0h40m-10 297V7621m-20 0h40m-10 252V7589m-20 0h40m-10 307V7606m-20 0h40m-10 205V7528m-20 0h40m-10 318V7541m-20 0h40m-10 258V7481m-20 0h40m-10 369V7516m-20 0h40m-10 331V7541m-20 0h40m-10 269V7462m-20 0h40m-10 411V7603m-20 0h40m-9 207V7473m-20 0h40m-10 376V7558m-20 0h40m-10 247V7542m-20 0h40m-10 317V7548m-20 0h40m-10 342V7591m-20 0h40m-10 283V7572m-20 0h40m-10 258V7528m-20 0h40m-10 317V7551m-20 0h40m-10 319V7573m-20 0h40m-10 340V7582m-20 0h40m-10 217V7538m-20 0h40m-10 268V7531m-20 0h40m-10 320V7462m-20 0h40m-10 354V7510m-20 0h40m-10 325V7500m-20 0h40m-10 264V7464m-20 0h40m-10 384V7518m-20 0h40m-10 333V7495m-20 0h40m-10 332V7527m-20 0h40m-10 367V7635m-20 0h40m-10 174V7527m-20 0h40m-10 292V7544m-20 0h40m-10 331V7572m-20 0h40m-9 282V7565m-20 0h40m-10 290V7549m-20 0h40m-10 298V7504m-20 0h40m-10 305V7464m-20 0h40m-10 375V7510m-20 0h40m-10 240V7462m-20 0h40m-10 343V7579m-20 0h40m-10 274V7517m-20 0h40m-10 301V7543m-20 0h40m-10 291V7513m-20 0h40m-10 362V7572m-20 0h40m-10 302V7607m-20 0h40m-10 215V7527m-20 0h40m-10 364V7556m-20 0h40m-10 337V7575m-20 0h40m-10 251V7462m-20 0h40m-10 353V7462m-20 0h40m-10 304V7512m-20 0h40m-10 333V7506m-20 0h40m-10 321V7533m-20 0h40m-10 274V7462m-20 0h40m-10 326V7462m-20 0h40m-10 369V7571m-20 0h40m-9 253V7535m-20 0h40m-10 250V7462m-20 0h40m-10 340V7499m-20 0h40m-10 372V7546m-20 0h40m-10 261V7500m-20 0h40m-10 307V7462m-20 0h40m-10 345V7499m-20 0h40m-10 337V7550m-20 0h40m-10 269V7483m-20 0h40m-10 397V7533m-20 0h40m-10 280V7462m-20 0h40m-10 377V7551m-20 0h40m-10 296V7540m-20 0h40m-10 334V7510m-20 0h40m-10 302V7466m-20 0h40m-10 445V7588m-20 0h40m-10 224V7484m-20 0h40m-10 304V7465m-20 0h40m-10 357V7462m-20 0h40m-10 365V7494m-20 0h40m-10 322V7462m-20 0h40m-10 328V7494m-20 0h40m-10 327V7462m-20 0h40m-9 395V7584m-20 0h40m-10 259V7570m-20 0h40m-10 279V7527m-20 0h40m-10 341V7563m-20 0h40m-10 332V7590m-20 0h40m-10 309V7606m-20 0h40m-10 199V7507m-20 0h40m-10 308V7462m-20 0h40m-10 364V7572m-20 0h40m-10 234V7513m-20 0h40m-10 354V7498m-20 0h40m-10 357V7542m-20 0h40m-10 314V7606m-20 0h40m-10 151V7462m-20 0h40m-10 287V7499m-20 0h40m-10 311V7462m-20 0h40m-10 397V7548m-20 0h40m-10 262V7498m-20 0h40m-10 340V7462m-20 0h40m-10 335V7473m-20 0h40m-10 290V7462m-20 0h40m-10 310V7462m-20 0h40m-10 419V7596m-20 0h40m-9 176V7462m-20 0h40m-10 363V7505m-20 0h40m-10 311V7462m-20 0h40m-10 370V7464m-20 0h40m-10 397V7550m-20 0h40m-10 257V7473m-20 0h40m-10 308V7462m-20 0h40m-10 360V7499m-20 0h40m-10 289V7462m-20 0h40m-10 354V7467m-20 0h40m-10 328V7511m-20 0h40m-10 313V7463m-20 0h40m-10 309V7462m-20 0h40m-10 387V7486m-20 0h40m-10 360V7530m-20 0h40m-10 250V7462m-20 0h40m-10 368V7483m-20 0h40m-10 297V7483m-20 0h40m-10 366V7462m-20 0h40m-10 345V7474m-20 0h40m-10 392V7488m-20 0h40m-10 327V7478m-20 0h40m-10 394V7609m-20 0h40m-9 208V7506m-20 0h40m-10 325V7498m-20 0h40m-10 298V7509m-20 0h40m-10 269V7462m-20 0h40m-10 370V7491m-20 0h40m-10 366V7524m-20 0h40m-10 264V7462m-20 0h40m-10 426V7556m-20 0h40m-10 321V7590m-20 0h40m-10 231V7543m-20 0h40m-10 249V7462m-20 0h40m-10 317V7462m-20 0h40m-10 363V7539m-20 0h40m-10 207V7462m-20 0h40m-10 347V7468m-20 0h40m-10 316V7462m-20 0h40m-10 326V7507m-20 0h40m-10 327V7462m-20 0h40m-10 366V7462m-20 0h40m-10 335V7499m-20 0h40m-10 323V7536m-20 0h40m-10 293V7527m-20 0h40m-10 284V7462m-20 0h40m-9 326V7489m-20 0h40m-10 279V7462m-20 0h40m-10 378V7533m-20 0h40m-10 327V7510m-20 0h40m-10 260V7473m-20 0h40m-10 277V7462m-20 0h40m-10 391V7543m-20 0h40m-10 280V7539m-20 0h40m-10 273V7470m-20 0h40m-10 380V7462m-20 0h40m-10 301V7462m-20 0h40m-10 391V7535m-20 0h40m-10 334V7540m-20 0h40m-10 300V7539m-20 0h40m-10 256V7484m-20 0h40m-10 310V7462m-20 0h40m-10 299V7463m-20 0h40m-10 366V7507m-20 0h40m-10 269V7462m-20 0h40m-10 410V7536m-20 0h40m-10 248V7529m-20 0h40m-10 253V7462m-20 0h40m-9 301V7462m-20 0h40m-10 339V7462m-20 0h40m-10 337V7508m-20 0h40m-10 273V7462m-20 0h40m-10 328V7462m-20 0h40m-10 296V7462m-20 0h40m-10 354V7462m-20 0h40m-10 312V7489m-20 0h40m-10 338V7462m-20 0h40m-10 353V7466m-20 0h40m-10 335V7462m-20 0h40m-10 292V7462m-20 0h40m-10 345V7475m-20 0h40m-10 334V7488m-20 0h40m-10 296V7462m-20 0h40m-10 355V7509m-20 0h40m-10 310V7462m-20 0h40m-10 305V7462m-20 0h40m-10 299V7462m-20 0h40m-10 319V7462m-20 0h40m-10 307V7462m-20 0h40m-10 354V7462m-20 0h40m-10 315V7466m-20 0h40m-9 360V7484m-20 0h40m-10 346V7462m-20 0h40m-10 350V7467m-20 0h40m-10 346V7462m-20 0h40m-10 382V7506m-20 0h40m-10 296V7462m-20 0h40m-10 322V7462m-20 0h40m-10 374V7462m-20 0h40m-10 283V7462m-20 0h40m-10 307V7462m-20 0h40m-10 313V7462m-20 0h40m-10 357V7462m-20 0h40m-10 339V7462m-20 0h40m-10 337V7462m-20 0h40m-10 298V7462m-20 0h40m-10 308V7462m-20 0h40m-10 324V7481m-20 0h40m-10 260V7462m-20 0h40m-10 332V7462m-20 0h40m-10 322V7462m-20 0h40m-10 328V7462m-20 0h40m-10 362V7462m-20 0h40m-10 373V7462m-20 0h40m-9 363V7462m-20 0h40m-10 329V7514m-20 0h40m-10 284V7466m-20 0h40m-10 307V7468m-20 0h40m-10 289V7462m-20 0h40m-10 394V7465m-20 0h40m-10 228V7462m-20 0h40m-10 304V7462m-20 0h40m-10 313V7462m-20 0h40m-10 308V7474m-20 0h40m-10 330V7486m-20 0h40m-10 317V7462m-20 0h40" stroke="#f5a1a4" stroke-width="21"/>
<path d="M0 0m8950 8553h0m3 -102h0m4 67h0m3 -35h0m3 27h0m4 -45h0m3 -36h0m3 37h0m4 33h0m3 -42h0m3 -48h0m4 47h0m3 35h0m4 14h0m3 -38h0m3 31h0m4 45h0m3 -98h0m3 11h0m4 -73h0m3 101h0m3 -17h0m4 -39h0m3 47h0m3 27h0m4 -36h0m3 9h0m3 -13h0m4 58h0m3 -73h0m3 50h0m4 10h0m3 -21h0m3 -18h0m4 9h0m3 -18h0m4 2h0m3 39h0m3 -39h0m4 35h0m3 47h0m3 -66h0m4 28h0m3 -54h0m3 23h0m4 4h0m3 -64h0m3 -13h0m4 49h0m3 66h0m3 1h0m4 -119h0m3 52h0m3 -9h0m4 19h0m3 0h0m3 35h0m4 26h0m3 9h0m4 -25h0m3 -66h0m3 60h0m4 -20h0m3 13h0m3 4h0m4 61h0m3 -91h0m3 -15h0m4 17h0m3 16h0m3 -2h0m4 -18h0m3 -4h0m3 40h0m4 -33h0m3 -16h0m3 25h0m4 15h0m3 -13h0m3 -13h0m4 -24h0m3 13h0m4 26h0m3 -14h0m3 -19h0m4 5h0m3 48h0m3 -88h0m4 29h0m3 7h0m3 2h0m4 18h0m3 8h0m3 7h0m4 -11h0m3 32h0m3 -20h0m4 21h0m3 27h0m3 -6h0m4 -110h0m3 22h0m3 5h0m4 -39h0m3 116h0m4 -52h0m3 -8h0m3 -27h0m4 48h0m3 34h0m3 -63h0m4 44h0m3 0h0m3 -15h0m4 -21h0m3 50h0m3 8h0m4 -26h0m3 -60h0m3 46h0m4 -13h0m3 -6h0m3 13h0m4 33h0m3 -38h0m3 -19h0m4 12h0m3 36h0m4 -10h0m3 -93h0m3 52h0m4 63h0m3 -5h0m3 -33h0m4 -18h0m3 28h0m3 -39h0m4 -39h0m3 89h0m3 15h0m4 -46h0m3 4h0m3 -64h0m4 82h0m3 -3h0m3 -42h0m4 2h0m3 18h0m3 -4h0m4 48h0m3 -11h0m4 -20h0m3 -69h0m3 76h0m4 36h0m3 -19h0m3 -37h0m4 9h0m3 -15h0m3 -13h0m4 48h0m3 -15h0m3 10h0m4 -2h0m3 61h0m3 -72h0m4 18h0m3 -59h0m3 68h0m4 -23h0m3 -6h0m3 14h0m4 -13h0m3 27h0m4 45h0m3 -46h0m3 -19h0m4 -16h0m3 -81h0m3 92h0m4 13h0m3 -24h0m3 -53h0m4 23h0m3 60h0m3 -36h0m4 62h0m3 -18h0m3 -17h0m4 -57h0m3 84h0m3 -61h0m4 22h0m3 27h0m3 -65h0m4 20h0m3 0h0m4 10h0m3 3h0m3 -19h0m4 13h0m3 -12h0m3 -15h0m4 -34h0m3 32h0m3 0h0m4 6h0m3 63h0m3 -76h0m4 -41h0m3 7h0m3 62h0m4 35h0m3 -43h0m3 -3h0m4 13h0m3 1h0m3 -42h0m4 63h0m3 -44h0m4 66h0m3 -60h0m3 17h0m4 14h0m3 -25h0m3 13h0m4 -16h0m3 44h0m3 -55h0m4 24h0m3 5h0m3 -2h0m4 -2h0m3 49h0m3 8h0m4 -36h0m3 8h0m3 -15h0m4 -41h0m3 15h0m4 17h0m3 -26h0m3 37h0m4 -43h0m3 -16h0m3 -15h0m4 70h0m3 -38h0m3 46h0m4 34h0m3 -49h0m3 -26h0m4 8h0m3 9h0m3 31h0m4 -96h0m3 13h0m3 61h0m4 -28h0m3 -37h0m3 12h0m4 -23h0m3 46h0m4 -42h0m3 84h0m3 39h0m4 -16h0m3 -26h0m3 2h0m4 -75h0m3 68h0m3 16h0m4 -120h0m3 41h0m3 40h0m4 -67h0m3 52h0m3 18h0m4 -25h0m3 -52h0m3 59h0m4 34h0m3 -65h0m3 19h0m4 36h0m3 -30h0m4 -34h0m3 0h0m3 2h0m4 -14h0m3 134h0m3 -53h0m4 3h0m3 -103h0m3 82h0m4 -29h0m3 -4h0m3 -43h0m4 42h0m3 -36h0m3 55h0m4 -42h0m3 46h0m3 -62h0m4 36h0m3 -45h0m3 -25h0m4 1h0m3 66h0m4 -8h0m3 65h0m3 -107h0m4 30h0m3 -35h0m3 81h0m4 1h0m3 -39h0m3 13h0m4 -34h0m3 21h0m3 22h0m4 -15h0m3 -51h0m3 13h0m4 34h0m3 16h0m3 2h0m4 3h0m3 0h0m3 1h0m4 44h0m3 -90h0m4 20h0m3 -20h0m3 -14h0m4 34h0m3 55h0m3 -82h0m4 70h0m3 -85h0m3 19h0m4 15h0m3 26h0m3 10h0m4 -28h0m3 -45h0m3 5h0m4 17h0m3 -31h0m3 -18h0m4 71h0m3 -38h0m3 23h0m4 31h0m3 -19h0m4 17h0m3 -63h0m3 9h0m4 1h0m3 24h0m3 -35h0m4 -72h0m3 82h0m3 -11h0m4 41h0m3 -51h0m3 12h0m4 43h0m3 -16h0m3 38h0m4 -28h0m3 -31h0m3 -38h0m4 26h0m3 9h0m3 16h0m4 -1h0m3 -38h0m4 113h0m3 -113h0m3 34h0m4 -6h0m3 -40h0m3 39h0m4 47h0m3 -7h0m3 -28h0m4 74h0m3 -84h0m3 56h0m4 -63h0m3 2h0m3 -8h0m4 -1h0m3 -8h0m3 10h0m4 -1h0m3 -36h0m3 28h0m4 33h0m3 -16h0m4 -14h0m3 -42h0m3 58h0m4 -22h0m3 46h0m3 1h0m4 -16h0m3 -26h0m3 -17h0m4 -18h0m3 57h0m3 -37h0m4 -17h0m3 -45h0m3 78h0m4 -5h0m3 -49h0m3 -19h0m4 76h0m3 7h0m3 8h0m4 -50h0m3 69h0m4 -57h0m3 59h0m3 -40h0m4 23h0m3 -21h0m3 -95h0m4 28h0m3 18h0m3 35h0m4 -21h0m3 64h0m3 -27h0m4 -23h0m3 -29h0m3 -20h0m4 84h0m3 -50h0m3 11h0m4 6h0m3 41h0m3 -86h0m4 32h0m3 -7h0m4 -43h0m3 85h0m3 -22h0m4 -44h0m3 8h0m3 2h0m4 -3h0m3 -14h0m3 -3h0m4 66h0m3 -29h0m3 -19h0m4 -17h0m3 28h0m3 -35h0m4 105h0m3 -18h0m3 -54h0m4 26h0m3 -22h0m3 -5h0m4 11h0m3 -28h0m4 20h0m3 -30h0m3 54h0m4 -24h0m3 -23h0m3 27h0m4 15h0m3 29h0m3 -9h0m4 -70h0m3 -21h0m3 54h0m4 5h0m3 -31h0m3 70h0m4 8h0m3 -17h0m3 -47h0m4 13h0m3 -24h0m3 -26h0m4 -14h0m3 2h0m4 12h0m3 -9h0m3 4h0m4 53h0m3 -21h0m3 -72h0m4 61h0m3 78h0m3 -50h0m4 41h0m3 -80h0m3 4h0m4 -30h0m3 73h0m3 54h0m4 -56h0m3 8h0m3 -28h0m4 -35h0m3 56h0m3 -87h0m4 9h0m3 4h0m4 3h0m3 74h0m3 13h0m4 -70h0m3 9h0m3 50h0m4 12h0m3 -37h0m3 -4h0m4 11h0m3 8h0m3 -7h0m4 64h0m3 -100h0m3 -10h0m4 6h0m3 -6h0m3 -31h0m4 38h0m3 -50h0m3 27h0m4 -45h0m3 79h0m4 -1h0m3 6h0m3 -68h0m4 59h0m3 -14h0m3 -14h0m4 23h0m3 -25h0m3 -94h0m4 13h0m3 23h0m3 21h0m4 35h0m3 -6h0m3 5h0m4 41h0m3 -36h0m3 -43h0m4 16h0m3 -4h0m3 8h0m4 21h0m3 -12h0m4 -2h0m3 16h0m3 -29h0m4 33h0m3 -33h0m3 49h0m4 -16h0m3 100h0m3 -116h0m4 -1h0m3 38h0m3 -23h0m4 -27h0m3 12h0m3 42h0m4 6h0m3 -15h0m3 -31h0m4 12h0m3 48h0m3 -38h0m4 -110h0m3 44h0m4 19h0m3 55h0m3 -30h0m4 9h0m3 17h0m3 -21h0m4 8h0m3 -41h0m3 13h0m4 7h0m3 -30h0m3 11h0m4 -18h0m3 54h0m3 -6h0m4 -60h0m3 73h0m3 -18h0m4 1h0m3 28h0m3 -3h0m4 -52h0m3 13h0m4 -30h0m3 41h0m3 -38h0m4 83h0m3 -17h0m3 -18h0m4 -37h0m3 -27h0m3 21h0m4 56h0m3 -31h0m3 -4h0m4 13h0m3 -72h0m3 21h0m4 60h0m3 -52h0m3 71h0m4 -67h0m3 -1h0m3 34h0m4 15h0m3 -41h0m4 25h0m3 -50h0m3 49h0m4 -1h0m3 -5h0m3 53h0m4 -21h0m3 -28h0m3 -43h0m4 2h0m3 41h0m3 -14h0m4 -26h0m3 16h0m3 15h0m4 -25h0m3 66h0m3 -29h0m4 -6h0m3 -6h0m3 27h0m4 18h0m3 -38h0m4 31h0m3 -69h0m3 1h0m4 43h0m3 -37h0m3 56h0m4 -33h0m3 0h0m3 4h0m4 -12h0m3 -46h0m3 14h0m4 11h0m3 31h0m3 -31h0m4 37h0m3 13h0m3 0h0m4 -69h0m3 31h0m3 29h0m4 2h0m3 26h0m4 -18h0m3 -54h0m3 27h0m4 -31h0m3 39h0m3 -6h0m4 -20h0m3 84h0m3 -57h0m4 -74h0m3 99h0m3 -27h0m4 -54h0m3 44h0m3 -26h0m4 19h0m3 35h0m3 -41h0m4 5h0m3 15h0m3 16h0m4 4h0m3 -53h0m4 22h0m3 -11h0m3 -26h0m4 56h0m3 4h0m3 -31h0m4 -14h0m3 -22h0m3 65h0m4 -9h0m3 -128h0m3 74h0m4 47h0m3 -44h0m3 -15h0m4 29h0m3 -14h0m3 -20h0m4 54h0m3 -8h0m3 -14h0m4 15h0m3 2h0m4 20h0m3 -40h0m3 -3h0m4 -70h0m3 44h0m3 3h0m4 58h0m3 -23h0m3 44h0m4 -73h0m3 46h0m3 -38h0m4 33h0m3 84h0m3 -156h0m4 -34h0m3 70h0m3 47h0m4 -63h0m3 -26h0m4 14h0m3 -30h0m3 77h0m4 16h0m3 -68h0m3 -1h0m4 41h0m3 18h0m3 -51h0m4 37h0m3 26h0m3 -56h0m4 8h0m3 28h0m3 -20h0m4 -14h0m3 43h0m3 -49h0m4 -27h0m3 73h0m3 -40h0m4 45h0m3 -47h0m4 29h0m3 29h0m3 -70h0m4 -1h0m3 13h0m3 1h0m4 -8h0m3 -4h0m3 -35h0m4 97h0m3 -51h0m3 11h0m4 -63h0m3 76h0m3 7h0m4 6h0m3 -47h0m3 85h0m4 -96h0m3 70h0m3 0h0m4 -19h0m3 3h0m4 -35h0m3 -26h0m3 -12h0m4 31h0m3 18h0m3 30h0m4 35h0m3 -15h0m3 14h0m4 -45h0m3 -4h0m3 13h0m4 -55h0m3 58h0m3 -23h0m4 -17h0m3 53h0m3 -35h0m4 -15h0m3 9h0m3 -35h0m4 68h0m3 -13h0m4 -11h0m3 -15h0m3 33h0m4 -64h0m3 -11h0m3 10h0m4 11h0m3 4h0m3 -84h0m4 103h0m3 -28h0m3 9h0m4 74h0m3 -55h0m3 -46h0m4 53h0m3 47h0m3 -101h0m4 61h0m3 -71h0m3 -46h0m4 120h0m3 -52h0m4 -14h0m3 -10h0m3 23h0m4 40h0m3 -28h0m3 -20h0m4 59h0m3 -16h0m3 -45h0m4 -21h0m3 96h0m3 -2h0m4 -43h0m3 -19h0m3 4h0m4 -4h0m3 -29h0m3 65h0m4 -19h0m3 -56h0m3 85h0m4 -70h0m3 -19h0m4 -26h0m3 73h0m3 2h0m4 95h0m3 -108h0m3 7h0m4 -22h0m3 39h0m3 -65h0m4 41h0m3 65h0m3 -128h0m4 83h0m3 29h0m3 -76h0m4 6h0m3 -37h0m3 64h0m4 24h0m3 -4h0m3 -1h0m4 26h0m3 -9h0m4 -24h0m3 -8h0m3 -37h0m4 9h0m3 -29h0m3 -12h0m4 32h0m3 14h0m3 50h0m4 -29h0m3 -42h0m3 10h0m4 39h0m3 -22h0m3 -1h0m4 16h0m3 0h0m3 -12h0m4 -27h0m3 47h0m3 25h0m4 -56h0m3 16h0m4 22h0m3 -20h0m3 -17h0m4 -60h0m3 107h0m3 45h0m4 -28h0m3 -35h0m3 -30h0m4 29h0m3 67h0m3 1h0m4 -68h0m3 10h0m3 -12h0m4 24h0m3 -50h0m3 30h0m4 -35h0m3 -10h0m3 -21h0m4 24h0m3 -2h0m4 23h0m3 28h0m3 -3h0m4 -12h0m3 -20h0m3 26h0m4 20h0m3 44h0m3 -33h0m4 -14h0m3 16h0m3 -21h0m4 -134h0m3 67h0m3 33h0m4 -10h0m3 -27h0m3 57h0m4 -42h0m3 59h0m3 -26h0m4 -18h0m3 -31h0m4 78h0m3 -45h0m3 18h0m4 -1h0m3 6h0m3 -9h0m4 35h0m3 -70h0m3 23h0m4 -2h0m3 21h0m3 -19h0m4 8h0m3 51h0m3 -4h0m4 20h0m3 -31h0m3 -51h0m4 32h0m3 -46h0m3 38h0m4 -28h0m3 38h0m4 -41h0m3 76h0m3 -49h0m4 -2h0m3 32h0m3 -34h0m4 -31h0m3 76h0m3 -25h0m4 -32h0m3 9h0m3 33h0m4 -18h0m3 9h0m3 37h0m4 -84h0m3 33h0m3 5h0m4 -13h0m3 -54h0m3 -3h0m4 25h0m3 -2h0m4 31h0m3 27h0m3 -20h0m4 25h0m3 18h0m3 -47h0m4 -29h0m3 23h0m3 41h0m4 -25h0m3 15h0m3 -19h0m4 -47h0m3 10h0m3 73h0m4 -63h0m3 71h0m3 -86h0m4 -3h0m3 9h0m3 81h0m4 -50h0m3 -33h0m4 -23h0m3 22h0m3 34h0m4 27h0m3 -64h0m3 58h0m4 3h0m3 -31h0m3 52h0m4 32h0m3 -32h0m3 -26h0m4 -3h0m3 53h0m3 -61h0m4 -22h0m3 -38h0m3 52h0m4 20h0m3 -7h0m3 -25h0m4 31h0m3 -65h0m4 70h0m3 16h0m3 -25h0m4 52h0m3 -20h0m3 -8h0m4 -13h0m3 -37h0m3 60h0m4 -94h0m3 -2h0m3 25h0m4 -31h0m3 32h0m3 -13h0m4 27h0m3 39h0m3 -20h0m4 6h0m3 10h0m3 11h0m4 -29h0m3 17h0m4 -56h0m3 39h0m3 -19h0m4 -7h0m3 41h0m3 12h0m4 -81h0m3 -23h0m3 24h0m4 83h0m3 10h0m3 14h0m4 -48h0m3 -24h0m3 43h0m4 -22h0m3 -71h0m3 9h0m4 102h0m3 -24h0m3 -20h0m4 64h0m3 -75h0m4 27h0m3 -31h0m3 -26h0m4 8h0m3 6h0m3 4h0m4 41h0m3 -13h0m3 6h0m4 -26h0m3 46h0m3 -46h0m4 60h0m3 2h0m3 -74h0m4 -23h0m3 105h0m3 -74h0m4 -17h0m3 -18h0m3 5h0m4 36h0m3 -44h0m4 5h0m3 53h0m3 35h0m4 -8h0m3 54h0m3 -73h0m4 -14h0m3 -3h0m3 -9h0m4 61h0m3 -57h0m3 33h0m4 -34h0m3 20h0m3 -4h0m4 -35h0m3 26h0m3 43h0m4 -36h0m3 -16h0m3 -28h0m4 51h0m3 11h0m4 25h0m3 -28h0m3 11h0m4 -30h0m3 -43h0m3 79h0m4 -20h0m3 -9h0m3 10h0m4 -14h0m3 -45h0m3 37h0m4 4h0m3 -23h0m3 -17h0m4 77h0m3 -15h0m3 7h0m4 -26h0m3 -15h0m3 38h0m4 -36h0m3 -35h0m4 45h0m3 1h0m3 -62h0m4 23h0m3 -13h0m3 -4h0m4 65h0m3 -49h0m3 70h0m4 -34h0m3 -28h0m3 45h0m4 -2h0m3 1h0m3 -22h0m4 12h0m3 -71h0m3 41h0m4 -29h0m3 -7h0m3 13h0m4 42h0m3 17h0m4 -7h0m3 -10h0m3 35h0m4 -52h0m3 2h0m3 -6h0m4 -18h0m3 24h0m3 30h0m4 0h0m3 -67h0m3 -4h0m4 55h0m3 -2h0m3 5h0m4 -26h0m3 -2h0m3 51h0m4 -43h0m3 41h0m4 -9h0m3 -45h0m3 -7h0m4 72h0m3 -46h0m3 94h0m4 -79h0m3 7h0m3 -10h0m4 -8h0m3 -43h0m3 -3h0m4 53h0m3 -6h0m3 -29h0m4 25h0m3 -17h0m3 18h0m4 -20h0m3 51h0m3 -25h0m4 0h0m3 21h0m4 -72h0m3 66h0m3 6h0m4 -48h0m3 18h0m3 14h0m4 -40h0m3 20h0m3 10h0m4 30h0m3 -17h0m3 25h0m4 -59h0m3 4h0m3 84h0m4 -106h0m3 -3h0m3 134h0m4 -43h0m3 -106h0m3 66h0m4 -5h0m3 24h0m4 9h0m3 -42h0m3 -17h0m4 38h0m3 -18h0m3 3h0m4 -11h0m3 -24h0m3 65h0m4 8h0m3 -79h0m3 -31h0m4 9h0m3 14h0m3 33h0m4 -12h0m3 46h0m3 -45h0m4 -62h0m3 39h0m3 30h0m4 27h0m3 -37h0m4 27h0m3 15h0m3 -25h0m4 -40h0m3 49h0m3 -9h0m4 -7h0m3 -27h0m3 -14h0m4 2h0m3 -2h0m3 12h0m4 0h0m3 28h0m3 6h0m4 7h0m3 1h0m3 2h0m4 -32h0m3 20h0m3 -17h0m4 -43h0m3 47h0m4 -25h0m3 34h0m3 -1h0m4 -17h0m3 3h0m3 7h0m4 -12h0m3 14h0m3 10h0m4 12h0m3 -34h0m3 -3h0m4 41h0m3 21h0m3 -93h0m4 -18h0m3 68h0m3 67h0m4 -75h0m3 73h0m3 -80h0m4 37h0m3 -50h0m4 -29h0m3 55h0m3 -52h0m4 70h0m3 -34h0m3 43h0m4 -55h0m3 26h0m3 55h0m4 -75h0m3 6h0m3 54h0m4 -52h0m3 6h0m3 -29h0m4 23h0m3 -6h0m3 -26h0m4 127h0m3 -117h0m3 -49h0m4 94h0m3 -28h0m4 9h0m3 11h0m3 33h0m4 6h0m3 -76h0m3 23h0m4 -10h0m3 20h0m3 -21h0m4 46h0m3 -69h0m3 23h0m4 -13h0m3 52h0m3 29h0m4 -36h0m3 2h0m3 -15h0m4 4h0m3 57h0m3 -55h0m4 9h0m3 -28h0m4 35h0m3 -28h0m3 -64h0m4 70h0m3 -27h0m3 27h0m4 -67h0m3 65h0m3 4h0m4 -18h0m3 -16h0m3 31h0m4 11h0m3 -25h0m3 2h0m4 -6h0m3 -11h0m3 64h0m4 -62h0m3 -1h0m3 30h0m4 46h0m3 -43h0m4 6h0m3 2h0m3 4h0m4 -24h0m3 -70h0m3 78h0m4 -6h0m3 12h0m3 -20h0m4 32h0m3 -31h0m3 1h0m4 26h0m3 -72h0m3 -9h0m4 55h0m3 -25h0m3 42h0m4 7h0m3 -8h0m3 -29h0m4 16h0m3 19h0m4 -22h0m3 4h0m3 36h0m4 25h0m3 -73h0m3 9h0m4 13h0m3 -69h0m3 38h0m4 65h0m3 -54h0m3 -63h0m4 145h0m3 -90h0m3 -9h0m4 -20h0m3 49h0m3 3h0m4 -15h0m3 67h0m3 -70h0m4 12h0m3 79h0m4 -27h0m3 -79h0m3 -23h0m4 -11h0m3 11h0m3 91h0m4 -47h0m3 -25h0m3 67h0m4 -49h0m3 -17h0m3 -9h0m4 36h0m3 -12h0m3 -10h0m4 20h0m3 -3h0m3 78h0m4 -27h0m3 -97h0m3 30h0m4 -53h0m3 16h0m4 25h0m3 23h0m3 11h0m4 -17h0m3 35h0m3 -93h0m4 0h0m3 33h0m3 7h0m4 37h0m3 -24h0m3 -26h0m4 2h0m3 11h0m3 -4h0m4 21h0m3 1h0m3 -35h0m4 42h0m3 -4h0m3 -42h0m4 13h0m3 6h0m4 28h0m3 -16h0m3 9h0m4 -4h0m3 -33h0m3 15h0m4 -19h0m3 91h0m3 -41h0m4 -28h0m3 -28h0m3 24h0m4 25h0m3 -39h0m3 56h0m4 -32h0m3 47h0m3 -34h0m4 -48h0m3 27h0m3 10h0m4 1h0m3 -20h0m4 32h0m3 7h0m3 -87h0m4 139h0m3 -53h0m3 -66h0m4 26h0m3 -81h0m3 98h0m4 -35h0m3 40h0m3 6h0m4 30h0m3 -116h0m3 19h0m4 51h0m3 -31h0m3 59h0m4 -38h0m3 74h0m3 -112h0m4 39h0m3 -19h0m4 1h0m3 6h0m3 4h0m4 65h0m3 -43h0m3 48h0m4 -24h0m3 -52h0m3 -3h0m4 -7h0m3 37h0m3 -13h0m4 68h0m3 -59h0m3 29h0m4 -52h0m3 74h0m3 1h0m4 -22h0m3 37h0m3 -40h0m4 21h0m3 -64h0m4 -7h0m3 65h0m3 -47h0m4 18h0m3 33h0m3 10h0m4 -35h0m3 14h0m3 -31h0m4 -11h0m3 65h0m3 -84h0m4 72h0m3 -26h0m3 -71h0m4 52h0m3 0h0m3 -2h0m4 3h0m3 -47h0m3 -1h0m4 20h0m3 1h0m4 -5h0m3 -45h0m3 120h0m4 -64h0m3 6h0m3 11h0m4 2h0m3 61h0m3 -46h0m4 3h0m3 8h0m3 -27h0m4 24h0m3 -78h0m3 103h0m4 -83h0m3 78h0m3 -22h0m4 -45h0m3 50h0m3 -60h0m4 31h0m3 6h0m4 31h0m3 -70h0m3 1h0m4 1h0m3 3h0m3 7h0m4 -8h0m3 -24h0m3 -7h0m4 35h0m3 0h0m3 32h0m4 -19h0m3 41h0m3 -80h0m4 63h0m3 17h0m3 -4h0m4 32h0m3 -23h0m3 66h0m4 -117h0m3 45h0m4 -60h0m3 31h0m3 -2h0m4 18h0m3 -35h0m3 19h0m4 -93h0m3 92h0m3 -5h0m4 -47h0m3 80h0m3 -39h0m4 -21h0m3 -3h0m3 -20h0m4 41h0m3 -12h0m3 45h0m4 -12h0m3 41h0m3 -39h0m4 -46h0m3 71h0m4 -56h0m3 8h0m3 7h0m4 -9h0m3 -85h0m3 64h0m4 15h0m3 23h0m3 -38h0m4 80h0m3 -22h0m3 -20h0m4 -37h0m3 -5h0m3 52h0m4 -38h0m3 10h0m3 -28h0m4 76h0m3 -80h0m3 1h0m4 40h0m3 68h0m4 -100h0m3 37h0m3 -28h0m4 6h0m3 3h0m3 12h0m4 8h0m3 -1h0m3 -48h0m4 72h0m3 -78h0m3 83h0m4 -19h0m3 -37h0m3 38h0m4 -38h0m3 37h0m3 55h0m4 -22h0m3 -33h0m3 11h0m4 1h0m3 -26h0m4 25h0m3 -74h0m3 57h0m4 -105h0m3 131h0m3 -22h0m4 0h0m3 -28h0m3 -9h0m4 46h0m3 -26h0m3 24h0m4 -19h0m3 -15h0m3 -19h0m4 28h0m3 -26h0m3 49h0m4 -15h0m3 -44h0m4 11h0m3 -14h0m3 50h0m4 45h0m3 -69h0m3 35h0m4 -39h0m3 35h0m3 -4h0m4 39h0m3 -16h0m3 -33h0m4 6h0m3 -8h0m3 47h0m4 -56h0m3 -11h0m3 87h0m4 -32h0m3 32h0m3 -120h0m4 112h0m3 21h0m4 -61h0m3 -23h0m3 60h0m4 -102h0m3 16h0m3 66h0m4 -22h0m3 5h0m3 -27h0m4 6h0m3 21h0m3 19h0m4 -80h0m3 26h0m3 21h0m4 -32h0m3 40h0m3 -66h0m4 39h0m3 3h0m3 60h0m4 -93h0m3 33h0m4 30h0m3 -27h0m3 2h0m4 19h0m3 -2h0m3 -57h0m4 -48h0m3 71h0m3 5h0m4 -39h0m3 96h0m3 -81h0m4 41h0m3 8h0m3 -69h0m4 75h0m3 -16h0m3 7h0m4 -64h0m3 73h0m3 -35h0m4 -35h0m3 35h0m4 -10h0m3 -2h0m3 -3h0m4 13h0m3 -35h0m3 26h0m4 40h0m3 -20h0m3 12h0m4 -6h0m3 44h0m3 -90h0m4 43h0m3 -69h0m3 107h0m4 -84h0m3 15h0m3 1h0m4 29h0m3 16h0m3 -5h0m4 22h0m3 -86h0m4 51h0m3 -40h0m3 21h0m4 23h0m3 -12h0m3 52h0m4 -72h0m3 -58h0m3 95h0m4 -39h0m3 19h0m3 -13h0m4 21h0m3 -23h0m3 -60h0m4 48h0m3 42h0m3 23h0m4 -73h0m3 72h0m3 -66h0m4 36h0m3 -5h0m4 -6h0m3 -24h0m3 21h0m4 28h0m3 6h0m3 -47h0m4 6h0m3 74h0m3 -74h0m4 -39h0m3 60h0m3 -47h0m4 57h0m3 -66h0m3 101h0m4 -29h0m3 -2h0m3 -30h0m4 48h0m3 -44h0m3 -13h0m4 -28h0m3 55h0m4 -48h0m3 -33h0m3 3h0m4 75h0m3 15h0m3 -41h0m4 -11h0m3 73h0m3 -15h0m4 -1h0m3 -47h0m3 -43h0m4 88h0m3 -62h0m3 -7h0m4 27h0m3 1h0m3 7h0m4 3h0m3 7h0m3 -52h0m4 49h0m3 -53h0m4 -29h0m3 27h0m3 93h0m4 -3h0m3 -11h0m3 -23h0m4 -14h0m3 -47h0m3 43h0m4 -8h0m3 22h0m3 -37h0m4 47h0m3 -18h0m3 -5h0m4 55h0m3 -26h0m3 -39h0m4 14h0m3 1h0m3 -61h0m4 36h0m3 27h0m4 -2h0m3 48h0m3 -79h0m4 54h0m3 5h0m3 -42h0m4 65h0m3 -28h0m3 -19h0m4 -76h0m3 69h0m3 -49h0m4 72h0m3 -4h0m3 -68h0m4 62h0m3 -77h0m3 19h0m4 42h0m3 47h0m3 -68h0m4 4h0m3 69h0m4 -43h0m3 -76h0m3 61h0m4 61h0m3 -29h0m3 -5h0m4 -16h0m3 0h0m3 37h0m4 -70h0m3 38h0m3 -21h0m4 -16h0m3 4h0m3 -13h0m4 40h0m3 -9h0m3 58h0m4 -97h0m3 7h0m3 68h0m4 13h0m3 -25h0m4 -67h0m3 54h0m3 -66h0m4 28h0m3 56h0m3 12h0m4 6h0m3 -45h0m3 11h0m4 16h0m3 -42h0m3 29h0m4 -37h0m3 34h0m3 51h0m4 -48h0m3 -15h0m3 -22h0m4 20h0m3 -34h0m3 30h0m4 -80h0m3 41h0m4 6h0m3 57h0m3 -11h0m4 13h0m3 -35h0m3 95h0m4 -67h0m3 -19h0m3 66h0m4 -118h0m3 47h0m3 13h0m4 -16h0m3 -24h0m3 49h0m4 -14h0m3 22h0m3 -14h0m4 25h0m3 -18h0m3 -2h0m4 -11h0m3 47h0m4 -107h0m3 83h0m3 -32h0m4 37h0m3 -76h0m3 34h0m4 -20h0m3 15h0m3 21h0m4 -38h0m3 18h0m3 -15h0m4 -8h0m3 78h0m3 -36h0m4 -14h0m3 40h0m3 -10h0m4 -19h0m3 3h0m3 17h0m4 -61h0m3 40h0m4 -61h0m3 -3h0m3 82h0m4 -63h0m3 -29h0m3 78h0m4 13h0m3 -47h0m3 61h0m4 -35h0m3 -70h0m3 92h0m4 64h0m3 -40h0m3 -24h0m4 -85h0m3 104h0m3 -43h0m4 -5h0m3 23h0m3 -29h0m4 -63h0m3 49h0m4 -5h0m3 0h0m3 26h0m4 8h0m3 -48h0m3 110h0m4 -50h0m3 -42h0m3 -38h0m4 49h0m3 -36h0m3 43h0m4 -46h0m3 65h0m3 -23h0m4 -28h0m3 49h0m3 -3h0m4 -7h0m3 -22h0m3 25h0m4 -52h0m3 1h0m4 38h0m3 -16h0m3 63h0m4 -23h0m3 -49h0m3 67h0m4 -76h0m3 54h0m3 -33h0m4 21h0m3 52h0m3 -62h0m4 20h0m3 -55h0m3 125h0m4 -122h0m3 57h0m3 -59h0m4 -44h0m3 67h0m3 -3h0m4 74h0m3 -49h0m4 -52h0m3 15h0m3 3h0m4 -24h0m3 62h0m3 -48h0m4 20h0m3 -17h0m3 67h0m4 -24h0m3 8h0m3 -24h0m4 -19h0m3 13h0m3 99h0m4 -114h0m3 87h0m3 -61h0m4 -43h0m3 21h0m3 4h0m4 19h0m3 -23h0m4 11h0m3 6h0m3 -37h0m4 6h0m3 -11h0m3 31h0m4 -10h0m3 -8h0m3 21h0m4 10h0m3 -2h0m3 6h0m4 -66h0m3 37h0m3 66h0m4 42h0m3 -125h0m3 0h0m4 20h0m3 -8h0m3 65h0m4 -59h0m3 -8h0m4 3h0m3 60h0m3 -71h0m4 13h0m3 0h0m3 -35h0m4 -51h0m3 51h0m3 64h0m4 -25h0m3 -14h0m3 22h0m4 31h0m3 69h0m3 -127h0m4 26h0m3 -38h0m3 14h0m4 16h0m3 38h0m3 -38h0m4 -1h0m3 28h0m4 21h0m3 17h0m3 -47h0m4 -12h0m3 17h0m3 30h0m4 -106h0m3 92h0m3 50h0m4 -98h0m3 -5h0m3 8h0m4 58h0m3 -105h0m3 94h0m4 -49h0m3 -5h0m3 55h0m4 -67h0m3 -47h0m4 51h0m3 19h0m3 -22h0m4 67h0m3 -12h0m3 -25h0m4 -16h0m3 32h0m3 17h0m4 -19h0m3 -18h0m3 37h0m4 -56h0m3 12h0m3 -12h0m4 36h0m3 -37h0m3 10h0m4 -8h0m3 31h0m3 -81h0m4 45h0m3 7h0m4 -28h0m3 10h0m3 47h0m4 -21h0m3 67h0m3 -50h0m4 -45h0m3 13h0m3 -5h0m4 37h0m3 -6h0m3 51h0m4 -9h0m3 -13h0m3 -58h0m4 6h0m3 63h0m3 -7h0m4 -12h0m3 -16h0m3 6h0m4 4h0m3 13h0m4 27h0m3 -41h0m3 -71h0m4 38h0m3 40h0m3 -43h0m4 44h0m3 -40h0m3 -51h0m4 30h0m3 49h0m3 -28h0m4 -18h0m3 92h0m3 -77h0m4 50h0m3 12h0m3 -99h0m4 22h0m3 27h0m3 14h0m4 -18h0m3 24h0m4 -69h0m3 47h0m3 -43h0m4 35h0m3 -6h0m3 5h0m4 -43h0m3 -39h0m3 95h0m4 -2h0m3 9h0m3 55h0m4 -33h0m3 13h0m3 -70h0m4 41h0m3 -76h0m3 51h0m4 -19h0m3 17h0m3 7h0m4 -9h0m3 34h0m4 1h0m3 -10h0m3 -14h0m4 64h0m3 -7h0m3 -34h0m4 -39h0m3 -41h0m3 104h0m4 -83h0m3 -14h0m3 36h0m4 -20h0m3 29h0m3 -19h0m4 9h0m3 -25h0m3 -25h0m4 61h0m3 -17h0m3 -15h0m4 -2h0m3 -54h0m4 68h0m3 -1h0m3 17h0m4 -24h0m3 20h0m3 7h0m4 -3h0m3 -33h0m3 12h0m4 13h0m3 13h0m3 41h0m4 -46h0m3 -39h0m3 0h0m4 -11h0m3 52h0m3 -31h0m4 19h0m3 -39h0m3 76h0m4 -62h0m3 42h0m4 -1h0m3 -35h0m3 22h0m4 14h0m3 -21h0m3 -16h0m4 29h0m3 1h0m3 -62h0m4 23h0m3 7h0m3 12h0m4 11h0m3 -11h0m3 109h0m4 -187h0m3 82h0m3 8h0m4 -35h0m3 18h0m3 58h0m4 -28h0m3 14h0m4 -22h0m3 -27h0m3 72h0m4 0h0m3 -56h0m3 -23h0m4 19h0m3 45h0m3 -51h0m4 -12h0m3 62h0m3 -4h0m4 -36h0m3 -12h0m3 -9h0m4 67h0m3 11h0m3 -69h0m4 -8h0m3 79h0m3 -79h0m4 -8h0m3 20h0m4 37h0m3 -33h0m3 -15h0m4 59h0m3 -37h0m3 -71h0m4 75h0m3 16h0m3 -12h0m4 -44h0m3 8h0m3 18h0m4 13h0m3 -44h0m3 11h0m4 11h0m3 8h0m3 -38h0m4 77h0m3 -10h0m3 -24h0m4 -11h0m3 -22h0m4 26h0m3 -3h0m3 17h0m4 -53h0m3 36h0m3 59h0m4 -78h0m3 -20h0m3 3h0m4 86h0m3 2h0m3 -35h0m4 -31h0m3 49h0m3 28h0m4 -77h0m3 -61h0m3 125h0m4 -64h0m3 30h0m3 -50h0m4 49h0m3 -51h0m4 17h0m3 17h0m3 -96h0m4 95h0m3 62h0m3 -35h0m4 -10h0m3 -22h0m3 4h0m4 11h0m3 11h0m3 35h0m4 -111h0m3 84h0m3 27h0m4 -38h0m3 38h0m3 -43h0m4 -18h0m3 -1h0m3 60h0m4 -33h0m3 72h0m4 -48h0m3 -54h0m3 3h0m4 85h0m3 -54h0m3 -55h0m4 8h0m3 67h0m3 -41h0m4 -38h0m3 -48h0m3 91h0m4 34h0m3 -19h0m3 -26h0m4 19h0m3 -81h0m3 36h0m4 -7h0m3 14h0m3 24h0m4 36h0m3 -46h0m4 46h0m3 5h0m3 -54h0m4 35h0m3 -35h0m3 67h0m4 -26h0m3 29h0m3 4h0m4 -14h0m3 -40h0m3 56h0m4 11h0m3 -36h0m3 -31h0m4 71h0m3 -73h0m3 -27h0m4 6h0m3 28h0m3 56h0m4 -74h0m3 -12h0m4 52h0m3 -29h0m3 -20h0m4 69h0m3 -69h0m3 10h0m4 -26h0m3 77h0m3 -44h0m4 63h0m3 -31h0m3 21h0m4 -26h0m3 6h0m3 2h0m4 -62h0m3 -39h0m3 -37h0m4 106h0m3 -77h0m3 85h0m4 -29h0m3 5h0m4 -15h0m3 49h0m3 15h0m4 -44h0m3 5h0m3 -10h0m4 12h0m3 -32h0m3 48h0m4 12h0m3 30h0m3 -83h0m4 24h0m3 -37h0m3 -21h0m4 -28h0m3 57h0m3 -20h0m4 37h0m3 -11h0m3 83h0m4 -106h0m3 55h0m4 -58h0m3 86h0m3 5h0m4 -38h0m3 0h0m3 -33h0m4 24h0m3 43h0m3 -13h0m4 -14h0m3 -6h0m3 42h0m4 -7h0m3 -4h0m3 14h0m4 -64h0m3 -8h0m3 100h0m4 -118h0m3 32h0m3 -8h0m4 17h0m3 -15h0m4 -1h0m3 -18h0m3 7h0m4 39h0m3 -18h0m3 47h0m4 -31h0m3 -37h0m3 54h0m4 -6h0m3 -19h0m3 16h0m4 -77h0m3 9h0m3 -14h0m4 33h0m3 58h0m3 -56h0m4 9h0m3 44h0m3 -43h0m4 0h0m3 -23h0m4 66h0m3 1h0m3 -17h0m4 -40h0m3 27h0m3 -37h0m4 89h0m3 -12h0m3 -8h0m4 -34h0m3 -24h0m3 16h0m4 51h0m3 -49h0m3 57h0m4 -61h0m3 -29h0m3 39h0m4 -41h0m3 79h0m3 19h0m4 -51h0m3 36h0m4 -40h0m3 68h0m3 -51h0m4 -3h0m3 24h0m3 -79h0m4 20h0m3 1h0m3 -53h0m4 34h0m3 4h0m3 15h0m4 35h0m3 -27h0m3 7h0m4 45h0m3 -44h0m3 57h0m4 -82h0m3 16h0m3 14h0m4 70h0m3 -102h0m4 96h0m3 -5h0m3 -108h0m4 -2h0m3 54h0m3 -41h0m4 20h0m3 -8h0m3 59h0m4 -88h0m3 16h0m3 13h0m4 29h0m3 4h0m3 -46h0m4 -1h0m3 -32h0m3 22h0m4 82h0m3 -41h0m3 -27h0m4 -10h0m3 12h0m4 94h0m3 -44h0m3 -46h0m4 99h0m3 -54h0m3 1h0m4 21h0m3 -53h0m3 26h0m4 -58h0m3 10h0m3 17h0m4 33h0m3 -12h0m3 4h0m4 -37h0m3 46h0m3 -2h0m4 -38h0m3 6h0m3 14h0m4 36h0m3 -36h0m4 -23h0m3 24h0m3 -11h0m4 -33h0m3 27h0m3 54h0m4 -9h0m3 -44h0m3 61h0m4 3h0m3 -4h0m3 -61h0m4 -25h0m3 114h0m3 -14h0m4 -120h0m3 71h0m3 32h0m4 0h0m3 26h0m4 -75h0m3 19h0m3 11h0m4 4h0m3 -26h0m3 35h0m4 -60h0m3 63h0m3 -26h0m4 -21h0m3 -40h0m3 81h0m4 -8h0m3 17h0m3 27h0m4 -54h0m3 43h0m3 -26h0m4 -20h0m3 17h0m3 -3h0m4 9h0m3 -51h0m4 -10h0m3 47h0m3 -38h0m4 9h0m3 -13h0m3 -29h0m4 179h0m3 -82h0m3 -29h0m4 13h0m3 5h0m3 -71h0m4 10h0m3 11h0m3 75h0m4 -65h0m3 -42h0m3 19h0m4 15h0m3 0h0m3 -17h0m4 15h0m3 -80h0m4 46h0m3 32h0m3 9h0m4 -3h0m3 -60h0m3 67h0m4 -9h0m3 -24h0m3 8h0m4 -2h0m3 73h0m3 -8h0m4 -56h0m3 32h0m3 -85h0m4 21h0m3 -22h0m3 81h0m4 -1h0m3 6h0m3 -3h0m4 -45h0m3 112h0m4 -72h0m3 13h0m3 -39h0m4 -51h0m3 78h0m3 -49h0m4 77h0m3 -42h0m3 -45h0m4 3h0m3 -5h0m3 100h0m4 -46h0m3 -1h0m3 -36h0m4 24h0m3 14h0m3 -1h0m4 -68h0m3 44h0m3 42h0m4 -35h0m3 26h0m4 -9h0m3 -42h0m3 53h0m4 -48h0m3 42h0m3 -46h0m4 50h0m3 -31h0m3 -25h0m4 38h0m3 17h0m3 -35h0m4 -31h0m3 30h0m3 -11h0m4 9h0m3 16h0m3 22h0m4 -12h0m3 -26h0m3 -1h0m4 1h0m3 38h0m4 10h0m3 -32h0m3 61h0m4 -25h0m3 -40h0m3 10h0m4 12h0m3 1h0m3 -3h0m4 3h0m3 29h0m3 -42h0m4 44h0m3 -29h0m3 21h0m4 -34h0m3 25h0m3 -99h0m4 56h0m3 31h0m3 2h0m4 19h0m3 -43h0m4 -12h0m3 -36h0m3 42h0m4 -36h0m3 18h0m3 24h0m4 -21h0m3 3h0m3 -12h0m4 55h0m3 1h0m3 4h0m4 -41h0m3 19h0m3 19h0m4 3h0m3 -24h0m3 35h0m4 -28h0m3 -46h0m3 -14h0m4 7h0m3 17h0m4 -8h0m3 53h0m3 -29h0m4 -77h0m3 125h0m3 -93h0m4 93h0m3 -58h0m3 18h0m4 -17h0m3 -7h0m3 14h0m4 -30h0m3 40h0m3 -4h0m4 33h0m3 -62h0m3 63h0m4 -57h0m3 38h0m3 30h0m4 -34h0m3 -63h0m4 87h0m3 -20h0m3 1h0m4 -15h0m3 35h0m3 5h0m4 -33h0m3 3h0m3 -39h0m4 11h0m3 46h0m3 40h0m4 -102h0m3 63h0m3 7h0m4 29h0m3 -99h0m3 44h0m4 -108h0m3 78h0m3 44h0m4 -49h0m3 35h0m4 -69h0m3 43h0m3 42h0m4 -46h0m3 -1h0m3 54h0m4 -1h0m3 -19h0m3 -26h0m4 12h0m3 13h0" stroke="#ed1c24" stroke-width="43" stroke-linecap="round"/></g>
<g transform="scale(.1)" fill="none"><path d="M0 0m8930 8430h40m-20 0V8630m-20 0h40m-30 -183h40m-20 0V8638m-20 0h40m-30 -229h40m-20 0V8594m-20 0h40m-30 -372h40m-20 0V8356m-20 0h40m-30 66h40m-20 0V8589m-20 0h40m-30 -238h40m-20 0V8555m-20 0h40m-30 -331h40m-20 0V8444m-20 0h40m-30 -137h40m-20 0V8504m-20 0h40m-30 -99h40m-20 0V8598m-20 0h40m-30 -136h40m-20 0V8602m-20 0h40m-30 -267h40m-20 0V8529m-20 0h40m-30 -90h40m-20 0V8614m-20 0h40m-29 -36h40m-20 0V8752m-20 0h40m-30 -353h40m-20 0V8588m-20 0h40m-30 -239h40m-20 0V8526m-20 0h40m-30 -258h40m-20 0V8448m-20 0h40m-30 -263h40m-20 0V8400m-20 0h40m-30 -50h40m-20 0V8541m-20 0h40m-30 -311h40m-20 0V8414m-20 0h40m-30 -80h40m-20 0V8518m-20 0h40m-30 -213h40m-20 0V8501m-20 0h40m-30 -247h40m-20 0V8489m-20 0h40m-30 -241h40m-20 0V8435m-20 0h40m-30 61h40m-20 0V8681m-20 0h40m-30 -422h40m-20 0V8445m-20 0h40m-30 -196h40m-20 0V8434m-20 0h40m-30 -112h40m-20 0V8506m-20 0h40m-30 -116h40m-20 0V8556m-20 0h40m-30 -312h40m-20 0V8451m-20 0h40m-30 -249h40m-20 0V8351m-20 0h40m-30 -29h40m-20 0V8515m-20 0h40m-30 -282h40m-20 0V8397m-20 0h40m-30 -26h40m-20 0V8532m-20 0h40m-30 -103h40m-20 0V8588m-20 0h40m-30 -314h40m-20 0V8443m-20 0h40m-29 -70h40m-20 0V8578m-20 0h40m-30 -160h40m-20 0V8600m-20 0h40m-30 -289h40m-20 0V8546m-20 0h40m-30 -267h40m-20 0V8459m-20 0h40m-30 -103h40m-20 0V8527m-20 0h40m-30 -283h40m-20 0V8448m-20 0h40m-30 -89h40m-20 0V8539m-20 0h40m-30 -223h40m-20 0V8516m-20 0h40m-30 -243h40m-20 0V8489m-20 0h40m-30 -181h40m-20 0V8518m-20 0h40m-30 -240h40m-20 0V8435m-20 0h40m-30 -124h40m-20 0V8474m-20 0h40m-30 -271h40m-20 0V8407m-20 0h40m-30 -75h40m-20 0V8507m-20 0h40m-30 -202h40m-20 0V8466m-20 0h40m-30 -102h40m-20 0V8543m-20 0h40m-30 -105h40m-20 0V8671m-20 0h40m-30 -293h40m-20 0V8580m-20 0h40m-30 -380h40m-20 0V8390m-20 0h40m-30 -34h40m-20 0V8535m-20 0h40m-30 -131h40m-20 0V8609m-20 0h40m-30 -280h40m-20 0V8529m-20 0h40m-30 -162h40m-20 0V8491m-20 0h40m-29 -196h40m-20 0V8460m-20 0h40m-30 -65h40m-20 0V8568m-20 0h40m-30 -231h40m-20 0V8532m-20 0h40m-30 -295h40m-20 0V8395m-20 0h40m-30 93h40m-20 0V8669m-20 0h40m-30 -309h40m-20 0V8558m-20 0h40m-30 -171h40m-20 0V8577m-20 0h40m-30 -177h40m-20 0V8579m-20 0h40m-30 -217h40m-20 0V8530m-20 0h40m-30 -107h40m-20 0V8657m-20 0h40m-30 -270h40m-20 0V8541m-20 0h40m-30 -295h40m-20 0V8421m-20 0h40m-30 -91h40m-20 0V8506m-20 0h40m-30 -203h40m-20 0V8488m-20 0h40m-30 -151h40m-20 0V8514m-20 0h40m-30 -214h40m-20 0V8487m-20 0h40m-30 29h40m-20 0V8668m-20 0h40m-30 -317h40m-20 0V8527m-20 0h40m-30 -149h40m-20 0V8584m-20 0h40m-30 -262h40m-20 0V8526m-20 0h40m-30 -169h40m-20 0V8564m-20 0h40m-30 -260h40m-20 0V8512m-20 0h40m-29 -185h40m-20 0V8517m-20 0h40m-30 -206h40m-20 0V8501m-20 0h40m-30 -284h40m-20 0V8410m-20 0h40m-30 -97h40m-20 0V8474m-20 0h40m-30 -160h40m-20 0V8475m-20 0h40m-30 -191h40m-20 0V8482m-20 0h40m-30 -266h40m-20 0V8437m-20 0h40m-30 -263h40m-20 0V8393m-20 0h40m-30 -63h40m-20 0V8513m-20 0h40m-30 -123h40m-20 0V8570m-20 0h40m-30 -209h40m-20 0V8535m-20 0h40m-30 -261h40m-20 0V8458m-20 0h40m-30 -208h40m-20 0V8444m-20 0h40m-30 -120h40m-20 0V8478m-20 0h40m-30 -85h40m-20 0V8578m-20 0h40m-30 -347h40m-20 0V8404m-20 0h40m-30 -51h40m-20 0V8530m-20 0h40m-30 -195h40m-20 0V8539m-20 0h40m-30 -299h40m-20 0V8420m-20 0h40m-30 -96h40m-20 0V8491m-20 0h40m-30 -30h40m-20 0V8632m-20 0h40m-30 -238h40m-20 0V8552m-20 0h40m-30 -328h40m-20 0V8452m-20 0h40m-29 -8h40m-20 0V8628m-20 0h40m-30 -199h40m-20 0V8614m-20 0h40m-30 -261h40m-20 0V8527m-20 0h40m-30 -235h40m-20 0V8450m-20 0h40m-30 -41h40m-20 0V8599m-20 0h40m-30 -259h40m-20 0V8542m-20 0h40m-30 -176h40m-20 0V8546m-20 0h40m-30 -192h40m-20 0V8544m-20 0h40m-30 -103h40m-20 0V8619m-20 0h40m-30 -253h40m-20 0V8580m-20 0h40m-30 -35h40m-20 0V8704m-20 0h40m-30 -454h40m-20 0V8439m-20 0h40m-30 -2h40m-20 0V8611m-20 0h40m-30 -223h40m-20 0V8538m-20 0h40m-30 -206h40m-20 0V8523m-20 0h40m-30 -113h40m-20 0V8589m-20 0h40m-30 -250h40m-20 0V8553m-20 0h40m-30 -93h40m-20 0V8606m-20 0h40m-30 -301h40m-20 0V8494m-20 0h40m-30 9h40m-20 0V8675m-20 0h40m-30 -175h40m-20 0V8681m-20 0h40m-30 -216h40m-20 0V8655m-20 0h40m-30 -178h40m-20 0V8664m-20 0h40m-29 -317h40m-20 0V8517m-20 0h40m-30 -150h40m-20 0V8558m-20 0h40m-30 -232h40m-20 0V8504m-20 0h40m-30 -112h40m-20 0V8549m-20 0h40m-30 -114h40m-20 0V8627m-20 0h40m-30 -235h40m-20 0V8559m-20 0h40m-30 -78h40m-20 0V8651m-20 0h40m-30 -177h40m-20 0V8647m-20 0h40m-30 -180h40m-20 0V8643m-20 0h40m-30 -355h40m-20 0V8483m-20 0h40m-30 -125h40m-20 0V8544m-20 0h40m-30 -308h40m-20 0V8434m-20 0h40m-30 -30h40m-20 0V8622m-20 0h40m-30 -134h40m-20 0V8677m-20 0h40m-30 -249h40m-20 0V8600m-20 0h40m-30 -150h40m-20 0V8619m-20 0h40m-30 -201h40m-20 0V8608m-20 0h40m-30 -171h40m-20 0V8643m-20 0h40m-30 -310h40m-20 0V8500m-20 0h40m-30 -69h40m-20 0V8619m-20 0h40m-30 -328h40m-20 0V8479m-20 0h40m-30 -238h40m-20 0V8423m-20 0h40m-30 -63h40m-20 0V8558m-20 0h40m-29 -127h40m-20 0V8620m-20 0h40m-30 -193h40m-20 0V8636m-20 0h40m-30 -276h40m-20 0V8514m-20 0h40m-30 -144h40m-20 0V8550m-20 0h40m-30 -243h40m-20 0V8501m-20 0h40m-30 -231h40m-20 0V8471m-20 0h40m-30 -104h40m-20 0V8556m-20 0h40m-30 -180h40m-20 0V8543m-20 0h40m-30 -156h40m-20 0V8545m-20 0h40m-30 -155h40m-20 0V8584m-20 0h40m-30 -214h40m-20 0V8564m-20 0h40m-30 -351h40m-20 0V8392m-20 0h40m-30 87h40m-20 0V8669m-20 0h40m-30 -126h40m-20 0V8729m-20 0h40m-30 -256h40m-20 0V8631m-20 0h40m-30 -169h40m-20 0V8653m-20 0h40m-30 -282h40m-20 0V8524m-20 0h40m-30 -113h40m-20 0V8605m-20 0h40m-30 -360h40m-20 0V8445m-20 0h40m-30 -16h40m-20 0V8600m-20 0h40m-30 -361h40m-20 0V8456m-20 0h40m-30 -202h40m-20 0V8428m-20 0h40m-30 -224h40m-20 0V8391m-20 0h40m-29 -16h40m-20 0V8572m-20 0h40m-30 -223h40m-20 0V8547m-20 0h40m-30 -42h40m-20 0V8716m-20 0h40m-30 -160h40m-20 0V8711m-20 0h40m-30 -377h40m-20 0V8516m-20 0h40m-30 -293h40m-20 0V8447m-20 0h40m-30 -174h40m-20 0V8460m-20 0h40m-30 -26h40m-20 0V8659m-20 0h40m-30 -344h40m-20 0V8495m-20 0h40m-30 -255h40m-20 0V8430m-20 0h40m-30 -206h40m-20 0V8383m-20 0h40m-30 -162h40m-20 0V8430m-20 0h40m-30 -128h40m-20 0V8487m-20 0h40m-30 -186h40m-20 0V8480m-20 0h40m-30 -120h40m-20 0V8504m-20 0h40m-30 -105h40m-20 0V8585m-20 0h40m-30 -226h40m-20 0V8531m-20 0h40m-30 -147h40m-20 0V8565m-20 0h40m-30 -340h40m-20 0V8450m-20 0h40m-30 -79h40m-20 0V8537m-20 0h40m-30 -265h40m-20 0V8462m-20 0h40m-30 19h40m-20 0V8670m-20 0h40m-30 -326h40m-20 0V8504m-20 0h40m-29 -192h40m-20 0V8491m-20 0h40m-30 -51h40m-20 0V8646m-20 0h40m-30 -322h40m-20 0V8520m-20 0h40m-30 -142h40m-20 0V8518m-20 0h40m-30 -233h40m-20 0V8464m-20 0h40m-30 -88h40m-20 0V8553m-20 0h40m-30 -103h40m-20 0V8655m-20 0h40m-30 -270h40m-20 0V8599m-20 0h40m-30 -105h40m-20 0V8677m-20 0h40m-30 -154h40m-20 0V8721m-20 0h40m-30 -259h40m-20 0V8649m-20 0h40m-30 -201h40m-20 0V8607m-20 0h40m-30 -390h40m-20 0V8392m-20 0h40m-30 48h40m-20 0V8626m-20 0h40m-30 -198h40m-20 0V8596m-20 0h40m-30 -255h40m-20 0V8507m-20 0h40m-30 -93h40m-20 0V8599m-20 0h40m-30 -314h40m-20 0V8477m-20 0h40m-30 -60h40m-20 0V8593m-20 0h40m-30 -71h40m-20 0V8675m-20 0h40m-30 -261h40m-20 0V8580m-20 0h40m-30 -67h40m-20 0V8714m-20 0h40m-30 -423h40m-20 0V8497m-20 0h40m-29 -131h40m-20 0V8551m-20 0h40m-30 -263h40m-20 0V8469m-20 0h40m-30 -132h40m-20 0V8505m-20 0h40m-30 -349h40m-20 0V8316m-20 0h40m-30 -6h40m-20 0V8513m-20 0h40m-30 -215h40m-20 0V8491m-20 0h40m-30 -177h40m-20 0V8527m-20 0h40m-30 -110h40m-20 0V8603m-20 0h40m-30 -319h40m-20 0V8450m-20 0h40m-30 46h40m-20 0V8652m-20 0h40m-30 -182h40m-20 0V8666m-20 0h40m-30 -174h40m-20 0V8666m-20 0h40m-30 -260h40m-20 0V8596m-20 0h40m-30 -239h40m-20 0V8540m-20 0h40m-30 -109h40m-20 0V8595m-20 0h40m-30 -278h40m-20 0V8509m-20 0h40m-30 14h40m-20 0V8686m-20 0h40m-30 -220h40m-20 0V8640m-20 0h40m-30 -265h40m-20 0V8565m-20 0h40m-30 -201h40m-20 0V8546m-20 0h40m-30 -232h40m-20 0V8472m-20 0h40m-30 -77h40m-20 0V8562m-20 0h40m-30 -248h40m-20 0V8474m-20 0h40m-29 -199h40m-20 0V8470m-20 0h40m-30 -79h40m-20 0V8587m-20 0h40m-30 -308h40m-20 0V8462m-20 0h40m-30 -179h40m-20 0V8468m-20 0h40m-30 -96h40m-20 0V8550m-20 0h40m-30 -187h40m-20 0V8508m-20 0h40m-30 -133h40m-20 0V8562m-20 0h40m-30 -239h40m-20 0V8503m-20 0h40m-30 -192h40m-20 0V8479m-20 0h40m-30 -78h40m-20 0V8588m-20 0h40m-30 -167h40m-20 0V8611m-20 0h40m-30 -398h40m-20 0V8416m-20 0h40m-30 -97h40m-20 0V8475m-20 0h40m-30 -263h40m-20 0V8386m-20 0h40m-30 21h40m-20 0V8570m-20 0h40m-30 -230h40m-20 0V8509m-20 0h40m-30 -264h40m-20 0V8440m-20 0h40m-30 -137h40m-20 0V8478m-20 0h40m-30 -141h40m-20 0V8465m-20 0h40m-30 -164h40m-20 0V8497m-20 0h40m-30 -62h40m-20 0V8625m-20 0h40m-30 -382h40m-20 0V8411m-20 0h40m-29 -132h40m-20 0V8474m-20 0h40m-30 -253h40m-20 0V8420m-20 0h40m-30 -192h40m-20 0V8429m-20 0h40m-30 -97h40m-20 0V8530m-20 0h40m-30 -277h40m-20 0V8444m-20 0h40m-30 -214h40m-20 0V8431m-20 0h40m-30 -213h40m-20 0V8431m-20 0h40m-30 -262h40m-20 0V8342m-20 0h40m-30 -202h40m-20 0V8320m-20 0h40m-30 -48h40m-20 0V8460m-20 0h40m-30 -182h40m-20 0V8439m-20 0h40m-30 -99h40m-20 0V8504m-20 0h40m-30 -314h40m-20 0V8389m-20 0h40m-30 66h40m-20 0V8623m-20 0h40m-30 -282h40m-20 0V8553m-20 0h40m-30 -309h40m-20 0V8432m-20 0h40m-30 -292h40m-20 0V8332m-20 0h40m-30 -190h40m-20 0V8354m-20 0h40m-30 -7h40m-20 0V8553m-20 0h40m-30 -346h40m-20 0V8405m-20 0h40m-30 -271h40m-20 0V8345m-20 0h40m-30 -85h40m-20 0V8419m-20 0h40m-30 -228h40m-20 0V8390m-20 0h40m-29 -159h40m-20 0V8403m-20 0h40m-30 -203h40m-20 0V8364m-20 0h40m-30 -109h40m-20 0V8444m-20 0h40m-30 -85h40m-20 0V8569m-20 0h40m-30 -338h40m-20 0V8424m-20 0h40m-30 -41h40m-20 0V8563m-20 0h40m-30 -292h40m-20 0V8458m-20 0h40m-30 -201h40m-20 0V8426m-20 0h40m-30 -203h40m-20 0V8397m-20 0h40m-30 -69h40m-20 0V8515m-20 0h40m-30 -285h40m-20 0V8425m-20 0h40m-30 -171h40m-20 0V8451m-20 0h40m-30 -159h40m-20 0V8472m-20 0h40m-30 -278h40m-20 0V8354m-20 0h40m-30 -89h40m-20 0V8413m-20 0h40m-30 -152h40m-20 0V8434m-20 0h40m-30 -232h40m-20 0V8371m-20 0h40m-30 -72h40m-20 0V8473m-20 0h40m-30 -187h40m-20 0V8469m-20 0h40m-30 -196h40m-20 0V8450m-20 0h40m-30 -80h40m-20 0V8539m-20 0h40m-30 -305h40m-20 0V8441m-20 0h40m-30 -171h40m-20 0V8433m-20 0h40m-29 -204h40m-20 0V8435m-20 0h40m-30 -114h40m-20 0V8489m-20 0h40m-30 -152h40m-20 0V8510m-20 0h40m-30 -122h40m-20 0V8557m-20 0h40m-30 -266h40m-20 0V8488m-20 0h40m-30 -79h40m-20 0V8573m-20 0h40m-30 -294h40m-20 0V8466m-20 0h40m-30 -249h40m-20 0V8399m-20 0h40m-30 -135h40m-20 0V8448m-20 0h40m-30 -278h40m-20 0V8346m-20 0h40m-30 -7h40m-20 0V8500m-20 0h40m-30 -117h40m-20 0V8572m-20 0h40m-30 -59h40m-20 0V8701m-20 0h40m-30 -358h40m-20 0V8538m-20 0h40m-30 -299h40m-20 0V8431m-20 0h40m-30 29h40m-20 0V8659m-20 0h40m-30 -286h40m-20 0V8505m-20 0h40m-30 -149h40m-20 0V8529m-20 0h40m-30 -118h40m-20 0V8590m-20 0h40m-30 -253h40m-20 0V8532m-20 0h40m-30 -145h40m-20 0V8589m-20 0h40m-30 -244h40m-20 0V8549m-20 0h40m-30 -267h40m-20 0V8482m-20 0h40m-29 -165h40m-20 0V8486m-20 0h40m-30 -106h40m-20 0V8528m-20 0h40m-30 -210h40m-20 0V8514m-20 0h40m-30 -192h40m-20 0V8503m-20 0h40m-30 -149h40m-20 0V8525m-20 0h40m-30 -137h40m-20 0V8602m-20 0h40m-30 -311h40m-20 0V8476m-20 0h40m-30 -179h40m-20 0V8513m-20 0h40m-30 -159h40m-20 0V8554m-20 0h40m-30 -366h40m-20 0V8372m-20 0h40m-30 -13h40m-20 0V8549m-20 0h40m-30 -183h40m-20 0V8563m-20 0h40m-30 -364h40m-20 0V8407m-20 0h40m-30 101h40m-20 0V8676m-20 0h40m-30 -462h40m-20 0V8445m-20 0h40m-30 -105h40m-20 0V8534m-20 0h40m-30 -207h40m-20 0V8526m-20 0h40m-30 -275h40m-20 0V8425m-20 0h40m-30 58h40m-20 0V8670m-20 0h40m-30 -319h40m-20 0V8540m-20 0h40m-30 -439h40m-20 0V8294m-20 0h40m-30 -239h40m-20 0V8242m-20 0h40m-30 -80h40m-20 0V8361m-20 0h40m-29 -168h40m-20 0V8375m-20 0h40m-30 -245h40m-20 0V8329m-20 0h40m-30 -161h40m-20 0V8345m-20 0h40m-30 3h40m-20 0V8544m-20 0h40m-30 -282h40m-20 0V8437m-20 0h40m-30 -132h40m-20 0V8467m-20 0h40m-30 -299h40m-20 0V8366m-20 0h40m-30 -75h40m-20 0V8468m-20 0h40m-30 -213h40m-20 0V8446m-20 0h40m-30 -167h40m-20 0V8445m-20 0h40m-30 -201h40m-20 0V8438m-20 0h40m-30 -277h40m-20 0V8365m-20 0h40m-30 -162h40m-20 0V8388m-20 0h40m-30 -226h40m-20 0V8358m-20 0h40m-30 -31h40m-20 0V8523m-20 0h40m-30 -301h40m-20 0V8387m-20 0h40m-30 -217h40m-20 0V8353m-20 0h40m-30 -214h40m-20 0V8337m-20 0h40m-30 -176h40m-20 0V8324m-20 0h40m-30 -171h40m-20 0V8332m-20 0h40m-30 -109h40m-20 0V8431m-20 0h40m-30 -184h40m-20 0V8447m-20 0h40m-30 -219h40m-20 0V8421m-20 0h40m-29 -174h40m-20 0V8422m-20 0h40m-30 -114h40m-20 0V8473m-20 0h40m-30 -273h40m-20 0V8376m-20 0h40m-30 -57h40m-20 0V8488m-20 0h40m-30 -224h40m-20 0V8461m-20 0h40m-30 -217h40m-20 0V8448m-20 0h40m-30 -149h40m-20 0V8459m-20 0h40m-30 -224h40m-20 0V8405m-20 0h40m-30 -261h40m-20 0V8323m-20 0h40m-30 -96h40m-20 0V8404m-20 0h40m-30 -258h40m-20 0V8346m-20 0h40m-30 -121h40m-20 0V8369m-20 0h40m-30 -101h40m-20 0V8439m-20 0h40m-30 -75h40m-20 0V8552m-20 0h40m-30 -223h40m-20 0V8483m-20 0h40m-30 -291h40m-20 0V8378m-20 0h40m-30 -282h40m-20 0V8271m-20 0h40m-30 134h40m-20 0V8603m-20 0h40m-30 -428h40m-20 0V8343m-20 0h40m-30 -104h40m-20 0V8417m-20 0h40m-30 -354h40m-20 0V8233m-20 0h40m-30 -56h40m-20 0V8363m-20 0h40m-29 -155h40m-20 0V8374m-20 0h40m-30 -303h40m-20 0V8247m-20 0h40m-30 -105h40m-20 0V8316m-20 0h40m-30 -122h40m-20 0V8387m-20 0h40m-30 -295h40m-20 0V8268m-20 0h40m-30 -165h40m-20 0V8308m-20 0h40m-30 -59h40m-20 0V8429m-20 0h40m-30 -215h40m-20 0V8386m-20 0h40m-30 -165h40m-20 0V8422m-20 0h40m-30 -97h40m-20 0V8511m-20 0h40m-30 -309h40m-20 0V8387m-20 0h40m-30 -134h40m-20 0V8451m-20 0h40m-30 -209h40m-20 0V8396m-20 0h40m-30 -141h40m-20 0V8440m-20 0h40m-30 -278h40m-20 0V8366m-20 0h40m-30 -121h40m-20 0V8414m-20 0h40m-30 -159h40m-20 0V8472m-20 0h40m-30 -160h40m-20 0V8493m-20 0h40m-30 -210h40m-20 0V8476m-20 0h40m-30 -226h40m-20 0V8436m-20 0h40m-30 -247h40m-20 0V8361m-20 0h40m-30 -111h40m-20 0V8420m-20 0h40m-30 -147h40m-20 0V8448m-20 0h40m-29 -104h40m-20 0V8543m-20 0h40m-30 -307h40m-20 0V8423m-20 0h40m-30 -79h40m-20 0V8517m-20 0h40m-30 -126h40m-20 0V8577m-20 0h40m-30 -261h40m-20 0V8487m-20 0h40m-30 -260h40m-20 0V8437m-20 0h40m-30 -246h40m-20 0V8377m-20 0h40m-30 -105h40m-20 0V8456m-20 0h40m-30 -233h40m-20 0V8438m-20 0h40m-30 6h40m-20 0V8626m-20 0h40m-30 -259h40m-20 0V8535m-20 0h40m-30 -348h40m-20 0V8366m-20 0h40m-30 -184h40m-20 0V8347m-20 0h40m-30 -89h40m-20 0V8420m-20 0h40m-30 -264h40m-20 0V8338m-20 0h40m-30 -49h40m-20 0V8465m-20 0h40m-30 -108h40m-20 0V8526m-20 0h40m-30 -205h40m-20 0V8448m-20 0h40m-30 -100h40m-20 0V8516m-20 0h40m-30 -102h40m-20 0V8594m-20 0h40m-30 -260h40m-20 0V8509m-20 0h40m-30 -208h40m-20 0V8496m-20 0h40m-30 -157h40m-20 0V8561m-20 0h40m-29 -272h40m-20 0V8465m-20 0h40m-30 -160h40m-20 0V8484m-20 0h40m-30 -273h40m-20 0V8456m-20 0h40m-30 -298h40m-20 0V8322m-20 0h40m-30 -45h40m-20 0V8444m-20 0h40m-30 -328h40m-20 0V8301m-20 0h40m-30 -39h40m-20 0V8478m-20 0h40m-30 -194h40m-20 0V8483m-20 0h40m-30 -265h40m-20 0V8382m-20 0h40m-30 -105h40m-20 0V8441m-20 0h40m-30 -89h40m-20 0V8552m-20 0h40m-30 -268h40m-20 0V8446m-20 0h40m-30 -135h40m-20 0V8493m-20 0h40m-30 -167h40m-20 0V8521m-20 0h40m-30 -160h40m-20 0V8533m-20 0h40m-30 -319h40m-20 0V8426m-20 0h40m-30 -187h40m-20 0V8433m-20 0h40m-30 -299h40m-20 0V8325m-20 0h40m-30 -171h40m-20 0V8339m-20 0h40m-30 23h40m-20 0V8565m-20 0h40m-30 -91h40m-20 0V8660m-20 0h40m-30 -447h40m-20 0V8451m-20 0h40m-30 -176h40m-20 0V8474m-20 0h40m-29 -130h40m-20 0V8535m-20 0h40m-30 -232h40m-20 0V8519m-20 0h40m-30 -342h40m-20 0V8386m-20 0h40m-30 -117h40m-20 0V8444m-20 0h40m-30 -216h40m-20 0V8455m-20 0h40m-30 -293h40m-20 0V8350m-20 0h40m-30 -110h40m-20 0V8429m-20 0h40m-30 -13h40m-20 0V8611m-20 0h40m-30 -318h40m-20 0V8496m-20 0h40m-30 -149h40m-20 0V8508m-20 0h40m-30 -82h40m-20 0V8573m-20 0h40m-30 -196h40m-20 0V8572m-20 0h40m-30 -271h40m-20 0V8500m-20 0h40m-30 -242h40m-20 0V8459m-20 0h40m-30 -226h40m-20 0V8425m-20 0h40m-30 -59h40m-20 0V8604m-20 0h40m-30 -303h40m-20 0V8495m-20 0h40m-30 -219h40m-20 0V8458m-20 0h40m-30 -107h40m-20 0V8528m-20 0h40m-30 -206h40m-20 0V8498m-20 0h40m-30 -244h40m-20 0V8418m-20 0h40m-30 -213h40m-20 0V8369m-20 0h40m-30 -126h40m-20 0V8450m-20 0h40m-29 -185h40m-20 0V8482m-20 0h40m-30 -234h40m-20 0V8434m-20 0h40m-30 -203h40m-20 0V8408m-20 0h40m-30 -79h40m-20 0V8554m-20 0h40m-30 -262h40m-20 0V8486m-20 0h40m-30 -290h40m-20 0V8370m-20 0h40m-30 -140h40m-20 0V8378m-20 0h40m-30 -84h40m-20 0V8482m-20 0h40m-30 -110h40m-20 0V8570m-20 0h40m-30 -326h40m-20 0V8441m-20 0h40m-30 -216h40m-20 0V8416m-20 0h40m-30 -127h40m-20 0V8485m-20 0h40m-30 -182h40m-20 0V8482m-20 0h40m-30 -341h40m-20 0V8356m-20 0h40m-30 -171h40m-20 0V8337m-20 0h40m-30 -21h40m-20 0V8499m-20 0h40m-30 -130h40m-20 0V8549m-20 0h40m-30 -317h40m-20 0V8435m-20 0h40m-30 -163h40m-20 0V8456m-20 0h40m-30 -118h40m-20 0V8507m-20 0h40m-30 -264h40m-20 0V8411m-20 0h40m-30 -153h40m-20 0V8424m-20 0h40m-30 -201h40m-20 0V8392m-20 0h40m-29 -166h40m-20 0V8409m-20 0h40m-30 -79h40m-20 0V8490m-20 0h40m-30 -250h40m-20 0V8389m-20 0h40m-30 -113h40m-20 0V8469m-20 0h40m-30 -159h40m-20 0V8483m-20 0h40m-30 -130h40m-20 0V8513m-20 0h40m-30 -213h40m-20 0V8485m-20 0h40m-30 -154h40m-20 0V8523m-20 0h40m-30 -243h40m-20 0V8462m-20 0h40m-30 24h40m-20 0V8657m-20 0h40m-30 -316h40m-20 0V8535m-20 0h40m-30 -215h40m-20 0V8489m-20 0h40m-30 -100h40m-20 0V8573m-20 0h40m-30 -296h40m-20 0V8464m-20 0h40m-30 -182h40m-20 0V8498m-20 0h40m-30 -186h40m-20 0V8520m-20 0h40m-30 -157h40m-20 0V8543m-20 0h40m-30 -231h40m-20 0V8486m-20 0h40m-30 -157h40m-20 0V8482m-20 0h40m-30 -268h40m-20 0V8362m-20 0h40m-30 -96h40m-20 0V8441m-20 0h40m-30 -127h40m-20 0V8482m-20 0h40m-30 -214h40m-20 0V8457m-20 0h40m-29 -107h40m-20 0V8571m-20 0h40m-30 -309h40m-20 0V8458m-20 0h40m-30 -176h40m-20 0V8490m-20 0h40m-30 -230h40m-20 0V8442m-20 0h40m-30 -92h40m-20 0V8538m-20 0h40m-30 -236h40m-20 0V8482m-20 0h40m-30 -176h40m-20 0V8508m-20 0h40m-30 -224h40m-20 0V8476m-20 0h40m-30 -156h40m-20 0V8502m-20 0h40m-30 -218h40m-20 0V8493m-20 0h40m-30 -217h40m-20 0V8482m-20 0h40m-30 -144h40m-20 0V8506m-20 0h40m-30 -224h40m-20 0V8482m-20 0h40m-30 -138h40m-20 0V8544m-20 0h40m-30 -232h40m-20 0V8515m-20 0h40m-30 -119h40m-20 0V8570m-20 0h40m-30 -228h40m-20 0V8507m-20 0h40m-30 -261h40m-20 0V8462m-20 0h40m-30 -16h40m-20 0V8635m-20 0h40m-30 -286h40m-20 0V8503m-20 0h40m-30 -175h40m-20 0V8517m-20 0h40m-30 -154h40m-20 0V8542m-20 0h40m-30 -252h40m-20 0V8484m-20 0h40m-29 -202h40m-20 0V8495m-20 0h40m-30 -264h40m-20 0V8399m-20 0h40m-30 -70h40m-20 0V8530m-20 0h40m-30 -208h40m-20 0V8535m-20 0h40m-30 -174h40m-20 0V8523m-20 0h40m-30 -191h40m-20 0V8495m-20 0h40m-30 -223h40m-20 0V8417m-20 0h40m-30 -111h40m-20 0V8505m-20 0h40m-30 -259h40m-20 0V8458m-20 0h40m-30 -134h40m-20 0V8467m-20 0h40m-30 -93h40m-20 0V8565m-20 0h40m-30 -262h40m-20 0V8511m-20 0h40m-30 -104h40m-20 0V8572m-20 0h40m-30 -147h40m-20 0V8591m-20 0h40m-30 -267h40m-20 0V8510m-20 0h40m-30 -119h40m-20 0V8559m-20 0h40m-30 -134h40m-20 0V8613m-20 0h40m-30 -312h40m-20 0V8495m-20 0h40m-30 -38h40m-20 0V8650m-20 0h40m-30 -281h40m-20 0V8537m-20 0h40m-30 -168h40m-20 0V8548m-20 0h40m-30 -102h40m-20 0V8642m-20 0h40m-29 -226h40m-20 0V8608m-20 0h40m-30 -155h40m-20 0V8644m-20 0h40m-30 -278h40m-20 0V8575m-20 0h40m-30 -196h40m-20 0V8586m-20 0h40m-30 -247h40m-20 0V8503m-20 0h40m-30 -30h40m-20 0V8659m-20 0h40m-30 -203h40m-20 0V8597m-20 0h40m-30 -218h40m-20 0V8548m-20 0h40m-30 -174h40m-20 0V8561m-20 0h40m-30 -198h40m-20 0V8537m-20 0h40m-30 -224h40m-20 0V8498m-20 0h40m-30 -46h40m-20 0V8637m-20 0h40m-30 -203h40m-20 0V8613m-20 0h40m-30 -298h40m-20 0V8471m-20 0h40m-30 -94h40m-20 0V8552m-20 0h40m-30 35h40m-20 0V8788m-20 0h40m-30 -369h40m-20 0V8607m-20 0h40m-30 -214h40m-20 0V8570m-20 0h40m-30 -65h40m-20 0V8665m-20 0h40m-30 -262h40m-20 0V8586m-20 0h40m-30 -274h40m-20 0V8490m-20 0h40m-30 -129h40m-20 0V8544m-20 0h40m-30 -153h40m-20 0V8566m-20 0h40m-29 -287h40m-20 0V8403m-20 0h40m-30 -33h40m-20 0V8582m-20 0h40m-30 -176h40m-20 0V8579m-20 0h40m-30 -276h40m-20 0V8514m-20 0h40m-30 -234h40m-20 0V8454m-20 0h40m-30 -187h40m-20 0V8471m-20 0h40m-30 -73h40m-20 0V8571m-20 0h40m-30 -229h40m-20 0V8510m-20 0h40m-30 -143h40m-20 0V8547m-20 0h40m-30 -228h40m-20 0V8513m-20 0h40m-30 -220h40m-20 0V8481m-20 0h40m-30 -163h40m-20 0V8490m-20 0h40m-30 -177h40m-20 0V8525m-20 0h40m-30 -329h40m-20 0V8366m-20 0h40m-30 -9h40m-20 0V8555m-20 0h40m-30 -263h40m-20 0V8521m-20 0h40m-30 -240h40m-20 0V8486m-20 0h40m-30 -151h40m-20 0V8497m-20 0h40m-30 -214h40m-20 0V8467m-20 0h40m-30 -53h40m-20 0V8557m-20 0h40m-30 -230h40m-20 0V8513m-20 0h40m-30 -226h40m-20 0V8459m-20 0h40m-30 -157h40m-20 0V8485m-20 0h40m-29 -270h40m-20 0V8378m-20 0h40m-30 26h40m-20 0V8588m-20 0h40m-30 -285h40m-20 0V8489m-20 0h40m-30 -176h40m-20 0V8505m-20 0h40m-30 -203h40m-20 0V8522m-20 0h40m-30 -208h40m-20 0V8503m-20 0h40m-30 -199h40m-20 0V8499m-20 0h40m-30 -254h40m-20 0V8428m-20 0h40m-30 -117h40m-20 0V8480m-20 0h40m-30 -123h40m-20 0V8542m-20 0h40m-30 -228h40m-20 0V8505m-20 0h40m-30 -182h40m-20 0V8534m-20 0h40m-30 -102h40m-20 0V8636m-20 0h40m-30 -296h40m-20 0V8532m-20 0h40m-30 -198h40m-20 0V8525m-20 0h40m-30 -330h40m-20 0V8356m-20 0h40m-30 -83h40m-20 0V8453m-20 0h40m-30 -222h40m-20 0V8419m-20 0h40m-30 -76h40m-20 0V8520m-20 0h40m-30 -203h40m-20 0V8516m-20 0h40m-30 -228h40m-20 0V8447m-20 0h40m-30 -165h40m-20 0V8451m-20 0h40m-30 -206h40m-20 0V8417m-20 0h40m-29 -134h40m-20 0V8439m-20 0h40m-30 -116h40m-20 0V8516m-20 0h40m-30 -220h40m-20 0V8477m-20 0h40m-30 -164h40m-20 0V8524m-20 0h40m-30 -204h40m-20 0V8493m-20 0h40m-30 -179h40m-20 0V8478m-20 0h40m-30 -210h40m-20 0V8492m-20 0h40m-30 -139h40m-20 0V8571m-20 0h40m-30 -257h40m-20 0V8558m-20 0h40m-30 -277h40m-20 0V8462m-20 0h40m-30 -230h40m-20 0V8423m-20 0h40m-30 -51h40m-20 0V8558m-20 0h40m-30 -217h40m-20 0V8507m-20 0h40m-30 -178h40m-20 0V8528m-20 0h40m-30 -184h40m-20 0V8544m-20 0h40m-30 -259h40m-20 0V8484m-20 0h40m-30 -125h40m-20 0V8554m-20 0h40m-30 -139h40m-20 0V8609m-20 0h40m-30 -342h40m-20 0V8453m-20 0h40m-30 -64h40m-20 0V8596m-20 0h40m-30 -296h40m-20 0V8505m-20 0h40m-30 -153h40m-20 0V8531m-20 0h40m-30 -125h40m-20 0V8601m-20 0h40m-29 -275h40m-20 0V8501m-20 0h40m-30 -154h40m-20 0V8578m-20 0h40m-30 -241h40m-20 0V8515m-20 0h40m-30 -52h40m-20 0V8610m-20 0h40m-30 -309h40m-20 0V8465m-20 0h40m-30 -102h40m-20 0V8570m-20 0h40m-30 -187h40m-20 0V8585m-20 0h40m-30 -77h40m-20 0V8696m-20 0h40m-30 -268h40m-20 0V8602m-20 0h40m-30 -206h40m-20 0V8587m-20 0h40m-30 -178h40m-20 0V8564m-20 0h40m-30 -118h40m-20 0V8652m-20 0h40m-30 -237h40m-20 0V8639m-20 0h40m-30 -224h40m-20 0V8622m-20 0h40m-30 -111h40m-20 0V8651m-20 0h40m-30 -285h40m-20 0V8550m-20 0h40m-30 -128h40m-20 0V8633m-20 0h40m-30 -205h40m-20 0V8598m-20 0h40m-30 -251h40m-20 0V8566m-20 0h40m-30 -91h40m-20 0V8655m-20 0h40m-30 -260h40m-20 0V8585m-20 0h40m-30 -100h40m-20 0V8670m-20 0h40m-30 -269h40m-20 0V8583m-20 0h40m-29 -169h40m-20 0V8572m-20 0h40m-30 -204h40m-20 0V8568m-20 0h40m-30 -173h40m-20 0V8556m-20 0h40m-30 -94h40m-20 0V8641m-20 0h40m-30 -281h40m-20 0V8588m-20 0h40m-30 -242h40m-20 0V8494m-20 0h40m-30 -149h40m-20 0V8532m-20 0h40m-30 -133h40m-20 0V8582m-20 0h40m-30 -160h40m-20 0V8616m-20 0h40m-30 -187h40m-20 0V8607m-20 0h40m-30 -256h40m-20 0V8547m-20 0h40m-30 -162h40m-20 0V8572m-20 0h40m-30 -205h40m-20 0V8557m-20 0h40m-30 -195h40m-20 0V8542m-20 0h40m-30 -138h40m-20 0V8569m-20 0h40m-30 -139h40m-20 0V8593m-20 0h40m-30 -167h40m-20 0V8603m-20 0h40m-30 -222h40m-20 0V8566m-20 0h40m-30 -133h40m-20 0V8608m-20 0h40m-30 -213h40m-20 0V8580m-20 0h40m-30 -270h40m-20 0V8540m-20 0h40m-30 -159h40m-20 0V8596m-20 0h40m-29 -177h40m-20 0V8585m-20 0h40m-30 -259h40m-20 0V8480m-20 0h40m-30 -147h40m-20 0V8505m-20 0h40m-30 -187h40m-20 0V8516m-20 0h40m-30 -253h40m-20 0V8436m-20 0h40m-30 -93h40m-20 0V8520m-20 0h40m-30 -183h40m-20 0V8541m-20 0h40m-30 -166h40m-20 0V8558m-20 0h40m-30 -200h40m-20 0V8513m-20 0h40m-30 -237h40m-20 0V8400m-20 0h40m-30 -83h40m-20 0V8496m-20 0h40m-30 -178h40m-20 0V8493m-20 0h40m-30 -267h40m-20 0V8424m-20 0h40m-30 -17h40m-20 0V8587m-20 0h40m-30 -244h40m-20 0V8567m-20 0h40m-30 -291h40m-20 0V8447m-20 0h40m-30 -167h40m-20 0V8486m-20 0h40m-30 -234h40m-20 0V8453m-20 0h40m-30 -137h40m-20 0V8493m-20 0h40m-30 -191h40m-20 0V8474m-20 0h40m-30 -250h40m-20 0V8397m-20 0h40m-30 -35h40m-20 0V8519m-20 0h40m-30 -167h40m-20 0V8546m-20 0h40m-29 -223h40m-20 0V8519m-20 0h40m-30 -173h40m-20 0V8549m-20 0h40m-30 -232h40m-20 0V8540m-20 0h40m-30 -215h40m-20 0V8518m-20 0h40m-30 -228h40m-20 0V8460m-20 0h40m-30 -132h40m-20 0V8445m-20 0h40m-30 -141h40m-20 0V8542m-20 0h40m-30 -259h40m-20 0V8476m-20 0h40m-30 -214h40m-20 0V8401m-20 0h40m-30 -191h40m-20 0V8394m-20 0h40m-30 -134h40m-20 0V8423m-20 0h40m-30 -46h40m-20 0V8560m-20 0h40m-30 -195h40m-20 0V8528m-20 0h40m-30 -164h40m-20 0V8540m-20 0h40m-30 -283h40m-20 0V8455m-20 0h40m-30 -102h40m-20 0V8544m-20 0h40m-30 -230h40m-20 0V8522m-20 0h40m-30 -330h40m-20 0V8416m-20 0h40m-30 -88h40m-20 0V8474m-20 0h40m-30 -277h40m-20 0V8376m-20 0h40m-30 -67h40m-20 0V8497m-20 0h40m-30 -253h40m-20 0V8420m-20 0h40m-30 -101h40m-20 0V8510m-20 0h40m-29 -211h40m-20 0V8470m-20 0h40m-30 -200h40m-20 0V8459m-20 0h40m-30 -142h40m-20 0V8464m-20 0h40m-30 -248h40m-20 0V8413m-20 0h40m-30 -109h40m-20 0V8464m-20 0h40m-30 -103h40m-20 0V8557m-20 0h40m-30 -307h40m-20 0V8404m-20 0h40m-30 -184h40m-20 0V8394m-20 0h40m-30 -188h40m-20 0V8383m-20 0h40m-30 -134h40m-20 0V8440m-20 0h40m-30 -225h40m-20 0V8391m-20 0h40m-30 -163h40m-20 0V8413m-20 0h40m-30 -197h40m-20 0V8402m-20 0h40m-30 -136h40m-20 0V8440m-20 0h40m-30 -125h40m-20 0V8507m-20 0h40m-30 -273h40m-20 0V8448m-20 0h40m-30 -181h40m-20 0V8478m-20 0h40m-30 -179h40m-20 0V8477m-20 0h40m-30 -218h40m-20 0V8447m-20 0h40m-30 -238h40m-20 0V8393m-20 0h40m-30 -89h40m-20 0V8477m-20 0h40m-30 -181h40m-20 0V8488m-20 0h40m-30 -214h40m-20 0V8467m-20 0h40m-29 -273h40m-20 0V8370m-20 0h40m-30 -254h40m-20 0V8310m-20 0h40m-30 -100h40m-20 0V8420m-20 0h40m-30 -188h40m-20 0V8427m-20 0h40m-30 -109h40m-20 0V8494m-20 0h40m-30 -275h40m-20 0V8405m-20 0h40m-30 -250h40m-20 0V8330m-20 0h40m-30 -103h40m-20 0V8430m-20 0h40m-30 -124h40m-20 0V8483m-20 0h40m-30 -204h40m-20 0V8458m-20 0h40m-30 -173h40m-20 0V8445m-20 0h40m-30 -115h40m-20 0V8481m-20 0h40m-30 -225h40m-20 0V8446m-20 0h40m-30 -188h40m-20 0V8451m-20 0h40m-30 -164h40m-20 0V8469m-20 0h40m-30 -220h40m-20 0V8448m-20 0h40m-30 -136h40m-20 0V8495m-20 0h40m-30 -248h40m-20 0V8442m-20 0h40m-30 -83h40m-20 0V8532m-20 0h40m-30 -141h40m-20 0V8588m-20 0h40m-30 -299h40m-20 0V8474m-20 0h40m-30 -196h40m-20 0V8471m-20 0h40m-30 -205h40m-20 0V8448m-20 0h40m-29 -139h40m-20 0V8482m-20 0h40m-30 -234h40m-20 0V8416m-20 0h40m-30 -149h40m-20 0V8441m-20 0h40m-30 -80h40m-20 0V8557m-20 0h40m-30 -194h40m-20 0V8559m-20 0h40m-30 -132h40m-20 0V8572m-20 0h40m-30 -141h40m-20 0V8605m-20 0h40m-30 -212h40m-20 0V8589m-20 0h40m-30 -229h40m-20 0V8563m-20 0h40m-30 -282h40m-20 0V8487m-20 0h40m-30 -166h40m-20 0V8537m-20 0h40m-30 -181h40m-20 0V8529m-20 0h40m-30 -247h40m-20 0V8474m-20 0h40m-30 -94h40m-20 0V8568m-20 0h40m-30 -273h40m-20 0V8477m-20 0h40m-30 -129h40m-20 0V8562m-20 0h40m-30 -190h40m-20 0V8545m-20 0h40m-30 -214h40m-20 0V8506m-20 0h40m-30 -149h40m-20 0V8504m-20 0h40m-30 -178h40m-20 0V8613m-20 0h40m-30 -120h40m-20 0V8652m-20 0h40m-30 -213h40m-20 0V8642m-20 0h40m-30 -273h40m-20 0V8560m-20 0h40m-29 -86h40m-20 0V8657m-20 0h40m-30 -293h40m-20 0V8592m-20 0h40m-30 -150h40m-20 0V8622m-20 0h40m-30 -220h40m-20 0V8560m-20 0h40m-30 -201h40m-20 0V8551m-20 0h40m-30 -189h40m-20 0V8569m-20 0h40m-30 -116h40m-20 0V8634m-20 0h40m-30 -236h40m-20 0V8588m-20 0h40m-30 -148h40m-20 0V8568m-20 0h40m-30 -213h40m-20 0V8524m-20 0h40m-30 -103h40m-20 0V8597m-20 0h40m-30 -155h40m-20 0V8625m-20 0h40m-30 -221h40m-20 0V8590m-20 0h40m-30 -164h40m-20 0V8586m-20 0h40m-30 -185h40m-20 0V8558m-20 0h40m-30 -191h40m-20 0V8497m-20 0h40m-30 -154h40m-20 0V8507m-20 0h40m-30 -116h40m-20 0V8553m-20 0h40m-30 -167h40m-20 0V8548m-20 0h40m-30 -212h40m-20 0V8544m-20 0h40m-30 -171h40m-20 0V8549m-20 0h40m-30 -90h40m-20 0V8650m-20 0h40m-30 -194h40m-20 0V8658m-20 0h40m-29 -255h40m-20 0V8604m-20 0h40m-30 -275h40m-20 0V8508m-20 0h40m-30 -152h40m-20 0V8531m-20 0h40m-30 -307h40m-20 0V8387m-20 0h40m-30 -98h40m-20 0V8481m-20 0h40m-30 -80h40m-20 0V8581m-20 0h40m-30 -230h40m-20 0V8533m-20 0h40m-30 -126h40m-20 0V8605m-20 0h40m-30 -218h40m-20 0V8587m-20 0h40m-30 -255h40m-20 0V8479m-20 0h40m-30 -83h40m-20 0V8612m-20 0h40m-30 -208h40m-20 0V8590m-20 0h40m-30 -241h40m-20 0V8554m-20 0h40m-30 -165h40m-20 0V8555m-20 0h40m-30 -129h40m-20 0V8609m-20 0h40m-30 -314h40m-20 0V8463m-20 0h40m-30 -155h40m-20 0V8492m-20 0h40m-30 -113h40m-20 0V8557m-20 0h40m-30 -273h40m-20 0V8445m-20 0h40m-30 -65h40m-20 0V8570m-20 0h40m-30 -197h40m-20 0V8532m-20 0h40m-30 -173h40m-20 0V8552m-20 0h40m-30 -263h40m-20 0V8506m-20 0h40m-29 -314h40m-20 0V8398m-20 0h40m-30 -78h40m-20 0V8481m-20 0h40m-30 -210h40m-20 0V8459m-20 0h40m-30 -223h40m-20 0V8421m-20 0h40m-30 -117h40m-20 0V8460m-20 0h40m-30 -204h40m-20 0V8430m-20 0h40m-30 -152h40m-20 0V8443m-20 0h40m-30 -181h40m-20 0V8441m-20 0h40m-30 -99h40m-20 0V8552m-20 0h40m-30 -307h40m-20 0V8417m-20 0h40m-30 -133h40m-20 0V8455m-20 0h40m-30 -229h40m-20 0V8399m-20 0h40m-30 8h40m-20 0V8582m-20 0h40m-30 -264h40m-20 0V8489m-20 0h40m-30 -248h40m-20 0V8433m-20 0h40m-30 -139h40m-20 0V8475m-20 0h40m-30 -162h40m-20 0V8473m-20 0h40m-30 -158h40m-20 0V8497m-20 0h40m-30 -327h40m-20 0V8376m-20 0h40m-30 -114h40m-20 0V8463m-20 0h40m-30 -164h40m-20 0V8463m-20 0h40m-30 -165h40m-20 0V8475m-20 0h40m-29 -106h40m-20 0V8539m-20 0h40m-30 -178h40m-20 0V8557m-20 0h40m-30 -259h40m-20 0V8474m-20 0h40m-30 -175h40m-20 0V8519m-20 0h40m-30 -278h40m-20 0V8407m-20 0h40m-30 -173h40m-20 0V8446m-20 0h40m-30 -154h40m-20 0V8487m-20 0h40m-30 -227h40m-20 0V8433m-20 0h40m-30 -236h40m-20 0V8385m-20 0h40m-30 -50h40m-20 0V8528m-20 0h40m-30 -200h40m-20 0V8523m-20 0h40m-30 -168h40m-20 0V8562m-20 0h40m-30 -238h40m-20 0V8466m-20 0h40m-30 -228h40m-20 0V8427m-20 0h40m-30 -236h40m-20 0V8364m-20 0h40m-30 43h40m-20 0V8588m-20 0h40m-30 -318h40m-20 0V8437m-20 0h40m-30 -89h40m-20 0V8542m-20 0h40m-30 -182h40m-20 0V8560m-20 0h40m-30 -173h40m-20 0V8585m-20 0h40m-30 -260h40m-20 0V8521m-20 0h40m-30 -274h40m-20 0V8422m-20 0h40m-30 -116h40m-20 0V8463m-20 0h40m-29 -140h40m-20 0V8479m-20 0h40m-30 -176h40m-20 0V8512m-20 0h40m-30 -306h40m-20 0V8445m-20 0h40m-30 -158h40m-20 0V8483m-20 0h40m-30 -244h40m-20 0V8434m-20 0h40m-30 -153h40m-20 0V8473m-20 0h40m-30 -249h40m-20 0V8419m-20 0h40m-30 -160h40m-20 0V8478m-20 0h40m-30 -99h40m-20 0V8554m-20 0h40m-30 -207h40m-20 0V8528m-20 0h40m-30 -285h40m-20 0V8444m-20 0h40m-30 -189h40m-20 0V8461m-20 0h40m-30 -131h40m-20 0V8502m-20 0h40m-30 -173h40m-20 0V8500m-20 0h40m-30 -115h40m-20 0V8529m-20 0h40m-30 -212h40m-20 0V8495m-20 0h40m-30 -138h40m-20 0V8529m-20 0h40m-30 -261h40m-20 0V8453m-20 0h40m-30 -154h40m-20 0V8497m-20 0h40m-30 -176h40m-20 0V8555m-20 0h40m-30 -230h40m-20 0V8533m-20 0h40m-30 -197h40m-20 0V8501m-20 0h40m-30 -278h40m-20 0V8401m-20 0h40m-29 -96h40m-20 0V8490m-20 0h40m-30 -203h40m-20 0V8470m-20 0h40m-30 -135h40m-20 0V8481m-20 0h40m-30 -160h40m-20 0V8505m-20 0h40m-30 -159h40m-20 0V8513m-20 0h40m-30 -271h40m-20 0V8458m-20 0h40m-30 -174h40m-20 0V8493m-20 0h40m-30 -135h40m-20 0V8546m-20 0h40m-30 -311h40m-20 0V8446m-20 0h40m-30 -165h40m-20 0V8468m-20 0h40m-30 -104h40m-20 0V8523m-20 0h40m-30 -324h40m-20 0V8427m-20 0h40" stroke="#a9a9ac" stroke-width="21"/>
<path d="M0 0m8950 8530h0m3 24h0m4 -199h0m3 188h0m3 -128h0m4 -48h0m3 135h0m3 -142h0m4 43h0m3 -114h0m3 -11h0m4 -58h0m3 285h0m4 19h0m3 -113h0m3 42h0m4 19h0m3 -50h0m3 -88h0m4 235h0m3 -73h0m3 -91h0m4 32h0m3 91h0m3 -27h0m4 -87h0m3 88h0m3 30h0m4 4h0m3 -90h0m3 -14h0m4 16h0m3 71h0m3 8h0m4 -193h0m3 193h0m4 138h0m3 -118h0m3 79h0m4 -133h0m3 9h0m3 -119h0m4 55h0m3 74h0m3 -107h0m4 -47h0m3 -56h0m3 -30h0m4 21h0m3 -5h0m3 73h0m4 85h0m3 -116h0m3 178h0m4 -186h0m3 -14h0m3 146h0m4 -28h0m3 25h0m4 -19h0m3 -29h0m3 101h0m4 -37h0m3 -96h0m3 74h0m4 -242h0m3 139h0m3 133h0m4 28h0m3 86h0m3 -124h0m4 -29h0m3 -84h0m3 54h0m4 -50h0m3 -14h0m3 17h0m4 0h0m3 55h0m3 14h0m4 79h0m3 -34h0m4 -98h0m3 45h0m3 -72h0m4 44h0m3 -22h0m3 -93h0m4 10h0m3 109h0m3 22h0m4 -15h0m3 -3h0m3 -85h0m4 111h0m3 55h0m3 -29h0m4 -26h0m3 -39h0m3 122h0m4 -227h0m3 -120h0m3 197h0m4 -98h0m3 104h0m4 111h0m3 53h0m3 -118h0m4 98h0m3 24h0m3 -134h0m4 30h0m3 -20h0m3 107h0m4 -147h0m3 114h0m3 25h0m4 -66h0m3 16h0m3 -11h0m4 -101h0m3 61h0m3 -29h0m4 71h0m3 -89h0m3 43h0m4 13h0m3 -22h0m4 80h0m3 -93h0m3 -42h0m4 121h0m3 -47h0m3 -129h0m4 -27h0m3 100h0m3 -10h0m4 37h0m3 9h0m3 106h0m4 -51h0m3 -143h0m3 92h0m4 -24h0m3 46h0m3 -20h0m4 1h0m3 -14h0m3 -93h0m4 181h0m3 -21h0m4 8h0m3 54h0m3 40h0m4 -106h0m3 9h0m3 21h0m4 59h0m3 4h0m3 -247h0m4 200h0m3 70h0m3 -120h0m4 -118h0m3 124h0m3 55h0m4 -132h0m3 130h0m3 -75h0m4 -53h0m3 41h0m3 12h0m4 -15h0m3 -17h0m4 -19h0m3 82h0m3 -78h0m4 99h0m3 32h0m3 -197h0m4 118h0m3 -82h0m3 55h0m4 -91h0m3 38h0m3 58h0m4 167h0m3 -195h0m3 175h0m4 -100h0m3 -97h0m3 -102h0m4 222h0m3 130h0m3 -126h0m4 4h0m3 15h0m4 -199h0m3 140h0m3 24h0m4 8h0m3 62h0m3 -93h0m4 -59h0m3 76h0m3 -147h0m4 126h0m3 -109h0m3 65h0m4 18h0m3 1h0m3 -117h0m4 36h0m3 58h0m3 82h0m4 -140h0m3 89h0m3 46h0m4 -75h0m3 -4h0m4 -33h0m3 100h0m3 132h0m4 -160h0m3 141h0m3 -134h0m4 25h0m3 21h0m3 -4h0m4 -32h0m3 40h0m3 -65h0m4 -25h0m3 -45h0m3 107h0m4 -156h0m3 7h0m3 96h0m4 -82h0m3 63h0m4 33h0m3 -16h0m3 -45h0m4 45h0m3 -17h0m3 -101h0m4 25h0m3 124h0m3 -3h0m4 -41h0m3 -11h0m3 112h0m4 -100h0m3 57h0m3 -78h0m4 10h0m3 93h0m3 -104h0m4 -45h0m3 -4h0m3 81h0m4 -121h0m3 -4h0m4 154h0m3 -12h0m3 -42h0m4 136h0m3 -35h0m3 -53h0m4 59h0m3 -38h0m3 -2h0m4 65h0m3 -145h0m3 -11h0m4 58h0m3 -66h0m3 134h0m4 -52h0m3 -28h0m3 180h0m4 -149h0m3 53h0m3 0h0m4 79h0m3 -246h0m4 69h0m3 -7h0m3 62h0m4 -44h0m3 88h0m3 -49h0m4 121h0m3 0h0m3 -228h0m4 171h0m3 -7h0m3 -87h0m4 8h0m3 66h0m3 66h0m4 -298h0m3 189h0m3 35h0m4 -102h0m3 28h0m3 -61h0m4 -11h0m3 89h0m4 120h0m3 -177h0m3 45h0m4 117h0m3 -80h0m3 -8h0m4 7h0m3 -88h0m3 -32h0m4 51h0m3 50h0m3 103h0m4 -20h0m3 1h0m3 -126h0m4 62h0m3 51h0m3 -31h0m4 -5h0m3 10h0m3 -65h0m4 48h0m3 -102h0m4 118h0m3 65h0m3 -155h0m4 35h0m3 63h0m3 56h0m4 -7h0m3 103h0m3 -87h0m4 -162h0m3 -31h0m3 -161h0m4 179h0m3 161h0m3 -95h0m4 -41h0m3 75h0m3 -5h0m4 -76h0m3 45h0m3 173h0m4 -7h0m3 -93h0m4 39h0m3 -5h0m3 -88h0m4 109h0m3 -213h0m3 191h0m4 -78h0m3 100h0m3 -155h0m4 66h0m3 73h0m3 50h0m4 -135h0m3 -66h0m3 202h0m4 -149h0m3 82h0m3 37h0m4 -179h0m3 76h0m3 114h0m4 -84h0m3 -97h0m4 42h0m3 93h0m3 -62h0m4 -1h0m3 79h0m3 -67h0m4 -59h0m3 33h0m3 -101h0m4 123h0m3 -47h0m3 153h0m4 -45h0m3 -87h0m3 -35h0m4 66h0m3 -146h0m3 107h0m4 130h0m3 -24h0m3 -136h0m4 155h0m3 80h0m4 -127h0m3 41h0m3 -108h0m4 -17h0m3 -44h0m3 108h0m4 -98h0m3 55h0m3 -64h0m4 106h0m3 -158h0m3 254h0m4 -2h0m3 -74h0m3 -26h0m4 102h0m3 -7h0m3 -48h0m4 17h0m3 -37h0m3 23h0m4 -40h0m3 38h0m4 46h0m3 -98h0m3 30h0m4 94h0m3 -54h0m3 -13h0m4 -165h0m3 37h0m3 5h0m4 -6h0m3 69h0m3 45h0m4 -139h0m3 62h0m3 -63h0m4 61h0m3 -110h0m3 -4h0m4 117h0m3 51h0m3 -41h0m4 -52h0m3 34h0m4 84h0m3 10h0m3 -83h0m4 80h0m3 -64h0m3 -12h0m4 -19h0m3 77h0m3 70h0m4 -124h0m3 -151h0m3 147h0m4 -52h0m3 176h0m3 -203h0m4 -7h0m3 -3h0m3 16h0m4 78h0m3 5h0m3 -112h0m4 105h0m3 51h0m4 -21h0m3 -23h0m3 5h0m4 33h0m3 -17h0m3 68h0m4 -90h0m3 2h0m3 15h0m4 -129h0m3 -50h0m3 206h0m4 18h0m3 47h0m3 -114h0m4 2h0m3 174h0m3 -238h0m4 233h0m3 -79h0m3 -53h0m4 204h0m3 -145h0m4 -3h0m3 -3h0m3 -105h0m4 74h0m3 -66h0m3 53h0m4 -37h0m3 98h0m3 -224h0m4 1h0m3 -5h0m3 173h0m4 23h0m3 -33h0m3 -156h0m4 11h0m3 52h0m3 -70h0m4 5h0m3 -74h0m3 26h0m4 323h0m3 39h0m4 -186h0m3 117h0m3 21h0m4 -164h0m3 -27h0m3 66h0m4 123h0m3 -53h0m3 -75h0m4 151h0m3 -102h0m3 -133h0m4 27h0m3 97h0m3 -73h0m4 -114h0m3 246h0m3 -148h0m4 -66h0m3 80h0m3 42h0m4 58h0m3 -222h0m4 48h0m3 32h0m3 12h0m4 -56h0m3 -26h0m3 10h0m4 100h0m3 -142h0m3 124h0m4 -19h0m3 -83h0m3 95h0m4 -194h0m3 168h0m3 -53h0m4 163h0m3 -113h0m3 117h0m4 -74h0m3 -2h0m3 -69h0m4 52h0m3 77h0m4 -42h0m3 -83h0m3 78h0m4 66h0m3 108h0m3 -144h0m4 -18h0m3 -44h0m3 -76h0m4 55h0m3 52h0m3 10h0m4 43h0m3 -144h0m3 14h0m4 100h0m3 -72h0m3 180h0m4 -128h0m3 -148h0m3 125h0m4 -16h0m3 -21h0m4 14h0m3 60h0m3 -39h0m4 121h0m3 -86h0m3 62h0m4 -97h0m3 85h0m3 2h0m4 -61h0m3 19h0m3 -64h0m4 -28h0m3 109h0m3 39h0m4 -58h0m3 -31h0m3 -59h0m4 177h0m3 -2h0m3 -67h0m4 9h0m3 144h0m4 -64h0m3 14h0m3 -19h0m4 -96h0m3 151h0m3 -182h0m4 -7h0m3 123h0m3 -2h0m4 0h0m3 -27h0m3 -54h0m4 -60h0m3 -109h0m3 57h0m4 192h0m3 -20h0m3 -245h0m4 182h0m3 42h0m3 -45h0m4 198h0m3 -241h0m4 116h0m3 -66h0m3 32h0m4 -83h0m3 132h0m3 -174h0m4 88h0m3 56h0m3 -20h0m4 -139h0m3 155h0m3 78h0m4 -381h0m3 175h0m3 104h0m4 -120h0m3 94h0m3 142h0m4 -61h0m3 -105h0m3 -53h0m4 27h0m3 16h0m4 21h0m3 -32h0m3 116h0m4 -164h0m3 65h0m3 76h0m4 -98h0m3 34h0m3 -59h0m4 -160h0m3 122h0m3 59h0m4 -5h0m3 39h0m3 -8h0m4 -48h0m3 -44h0m3 120h0m4 -51h0m3 -49h0m3 137h0m4 2h0m3 -150h0m4 139h0m3 -132h0m3 9h0m4 199h0m3 -1h0m3 -80h0m4 111h0m3 -37h0m3 -81h0m4 109h0m3 -17h0m3 -55h0m4 -74h0m3 51h0m3 -130h0m4 -23h0m3 101h0m3 56h0m4 -164h0m3 172h0m3 -149h0m4 -12h0m3 61h0m4 125h0m3 -85h0m3 152h0m4 -195h0m3 -82h0m3 225h0m4 -76h0m3 37h0m3 -44h0m4 -43h0m3 136h0m3 -108h0m4 102h0m3 -160h0m3 -4h0m4 30h0m3 116h0m3 -60h0m4 26h0m3 -82h0m3 -29h0m4 -2h0m3 84h0m4 -103h0m3 183h0m3 -25h0m4 -42h0m3 7h0m3 2h0m4 -127h0m3 82h0m3 6h0m4 -84h0m3 80h0m3 -18h0m4 24h0m3 -83h0m3 77h0m4 -19h0m3 -11h0m3 -40h0m4 84h0m3 -3h0m4 -67h0m3 14h0m3 54h0m4 74h0m3 -146h0m3 -72h0m4 208h0m3 -36h0m3 -92h0m4 150h0m3 -37h0m3 -168h0m4 76h0m3 -110h0m3 177h0m4 -73h0m3 -21h0m3 -45h0m4 185h0m3 -238h0m3 122h0m4 97h0m3 -30h0m4 -67h0m3 -99h0m3 102h0m4 -89h0m3 16h0m3 -8h0m4 -10h0m3 60h0m3 -3h0m4 -71h0m3 -58h0m3 140h0m4 64h0m3 -65h0m3 -1h0m4 74h0m3 97h0m3 -40h0m4 -56h0m3 -264h0m3 117h0m4 104h0m3 -97h0m4 43h0m3 -17h0m3 -42h0m4 2h0m3 124h0m3 -72h0m4 -43h0m3 18h0m3 -68h0m4 152h0m3 -96h0m3 -85h0m4 99h0m3 74h0m3 99h0m4 -192h0m3 -29h0m3 89h0m4 -65h0m3 46h0m3 -106h0m4 -9h0m3 120h0m4 -144h0m3 -2h0m3 124h0m4 -44h0m3 56h0m3 -6h0m4 77h0m3 -79h0m3 13h0m4 64h0m3 -13h0m3 28h0m4 -53h0m3 -107h0m3 128h0m4 -68h0m3 189h0m3 -227h0m4 72h0m3 63h0m3 -80h0m4 -76h0m3 47h0m4 -96h0m3 -28h0m3 22h0m4 198h0m3 -26h0m3 -160h0m4 -38h0m3 165h0m3 75h0m4 -42h0m3 -50h0m3 -52h0m4 -64h0m3 169h0m3 -171h0m4 138h0m3 -140h0m3 101h0m4 135h0m3 -78h0m3 -105h0m4 -44h0m3 155h0m4 -85h0m3 -1h0m3 22h0m4 -56h0m3 -32h0m3 88h0m4 11h0m3 100h0m3 25h0m4 -10h0m3 -126h0m3 -7h0m4 -3h0m3 -18h0m3 37h0m4 126h0m3 -91h0m3 55h0m4 -72h0m3 -8h0m3 -99h0m4 83h0m3 -86h0m4 -112h0m3 167h0m3 -50h0m4 171h0m3 -9h0m3 -101h0m4 27h0m3 -20h0m3 111h0m4 28h0m3 -115h0m3 92h0m4 -143h0m3 81h0m3 1h0m4 -114h0m3 5h0m3 108h0m4 -38h0m3 -5h0m3 -59h0m4 152h0m3 -85h0m4 130h0m3 -131h0m3 -60h0m4 5h0m3 139h0m3 -44h0m4 -105h0m3 38h0m3 58h0m4 30h0m3 132h0m3 -178h0m4 -158h0m3 159h0m3 93h0m4 -56h0m3 -129h0m3 67h0m4 71h0m3 48h0m3 -105h0m4 114h0m3 -183h0m4 50h0m3 -65h0m3 71h0m4 67h0m3 -78h0m3 92h0m4 4h0m3 -41h0m3 -94h0m4 184h0m3 -170h0m3 90h0m4 -2h0m3 -120h0m3 134h0m4 87h0m3 -221h0m3 48h0m4 54h0m3 -68h0m3 47h0m4 -43h0m3 0h0m4 -3h0m3 51h0m3 -82h0m4 153h0m3 -169h0m3 180h0m4 -72h0m3 53h0m3 -92h0m4 -15h0m3 166h0m3 -13h0m4 -40h0m3 182h0m3 -187h0m4 180h0m3 -159h0m3 19h0m4 137h0m3 -262h0m3 88h0m4 40h0m3 96h0m4 -82h0m3 -76h0m3 38h0m4 -33h0m3 -33h0m3 69h0m4 36h0m3 82h0m3 -59h0m4 -116h0m3 147h0m3 -98h0m4 -30h0m3 -128h0m3 212h0m4 -112h0m3 -21h0m3 92h0m4 22h0m3 -4h0m3 -83h0m4 72h0m3 101h0m4 -153h0m3 157h0m3 -142h0m4 37h0m3 2h0m3 74h0m4 -114h0m3 14h0m3 -73h0m4 55h0m3 -24h0m3 4h0m4 47h0m3 -104h0m3 34h0m4 126h0m3 6h0m3 -140h0m4 22h0m3 8h0m3 18h0m4 -4h0m3 -123h0m4 98h0m3 74h0m3 93h0m4 -188h0m3 -79h0m3 234h0m4 -127h0m3 67h0m3 -42h0m4 -96h0m3 149h0m3 -211h0m4 -38h0m3 87h0m3 -12h0m4 60h0m3 241h0m3 -204h0m4 24h0m3 -83h0m3 100h0m4 -29h0m3 37h0m4 -86h0m3 86h0m3 -11h0m4 48h0m3 -255h0m3 119h0m4 64h0m3 -19h0m3 193h0m4 -228h0m3 1h0m3 97h0m4 64h0m3 -171h0m3 -141h0m4 282h0m3 -98h0m3 -233h0m4 296h0m3 18h0m3 -201h0m4 115h0m3 -58h0m4 -35h0m3 208h0m3 -129h0m4 -134h0m3 128h0m3 -64h0m4 -36h0m3 126h0m3 -218h0m4 281h0m3 -56h0m3 -68h0m4 28h0m3 158h0m3 -135h0m4 13h0m3 -27h0m3 -68h0m4 -24h0m3 74h0m3 -5h0m4 43h0m3 18h0m4 -110h0m3 63h0m3 -181h0m4 129h0m3 64h0m3 -66h0m4 30h0m3 15h0m3 -64h0m4 -20h0m3 6h0m3 202h0m4 -239h0m3 70h0m3 107h0m4 113h0m3 -256h0m3 33h0m4 157h0m3 -25h0m3 -80h0m4 -51h0m3 10h0m4 -59h0m3 9h0m3 7h0m4 -32h0m3 23h0m3 -14h0m4 8h0m3 80h0m3 -83h0m4 32h0m3 -220h0m3 188h0m4 -57h0m3 50h0m3 91h0m4 -100h0m3 154h0m3 -34h0m4 -69h0m3 76h0m3 -29h0m4 19h0m3 -73h0m4 64h0m3 53h0m3 115h0m4 -112h0m3 -2h0m3 -58h0m4 -43h0m3 84h0m3 -6h0m4 37h0m3 -64h0m3 101h0m4 -77h0m3 56h0m3 -115h0m4 42h0m3 242h0m3 -182h0m4 -27h0m3 -4h0m3 -2h0m4 -53h0m3 41h0m4 -18h0m3 -110h0m3 126h0m4 -6h0m3 -38h0m3 -52h0m4 91h0m3 -108h0m3 171h0m4 4h0m3 -124h0m3 -6h0m4 21h0m3 42h0m3 27h0m4 -25h0m3 102h0m3 -93h0m4 0h0m3 41h0m3 -51h0m4 -89h0m3 19h0m4 35h0m3 27h0m3 -164h0m4 128h0m3 -11h0m3 204h0m4 -117h0m3 -14h0m3 -114h0m4 -43h0m3 75h0m3 37h0m4 -112h0m3 -53h0m3 -15h0m4 31h0m3 131h0m3 -40h0m4 9h0m3 135h0m4 -123h0m3 11h0m3 -105h0m4 -38h0m3 45h0m3 81h0m4 -56h0m3 -14h0m3 34h0m4 41h0m3 104h0m3 -72h0m4 -142h0m3 83h0m3 -38h0m4 -20h0m3 53h0m3 -33h0m4 114h0m3 -31h0m3 114h0m4 -122h0m3 96h0m4 -87h0m3 12h0m3 2h0m4 0h0m3 95h0m3 -84h0m4 -50h0m3 10h0m3 -60h0m4 149h0m3 -31h0m3 22h0m4 -133h0m3 78h0m3 139h0m4 -91h0m3 -20h0m3 46h0m4 -127h0m3 -2h0m3 20h0m4 19h0m3 27h0m4 -82h0m3 85h0m3 30h0m4 -89h0m3 102h0m3 27h0m4 18h0m3 88h0m3 -130h0m4 -66h0m3 45h0m3 -15h0m4 -39h0m3 -7h0m3 -22h0m4 114h0m3 37h0m3 -91h0m4 65h0m3 -125h0m3 85h0m4 107h0m3 -81h0m4 58h0m3 -105h0m3 84h0m4 -93h0m3 -79h0m3 157h0m4 22h0m3 -28h0m3 -68h0m4 150h0m3 -28h0m3 -82h0m4 27h0m3 -36h0m3 33h0m4 -66h0m3 32h0m3 -69h0m4 -11h0m3 146h0m3 72h0m4 -138h0m3 -115h0m4 -26h0m3 108h0m3 10h0m4 73h0m3 121h0m3 -174h0m4 132h0m3 -42h0m3 -93h0m4 70h0m3 -152h0m3 102h0m4 -73h0m3 -41h0m3 107h0m4 93h0m3 -125h0m3 26h0m4 -74h0m3 -44h0m3 128h0m4 77h0m3 -75h0m4 -54h0m3 199h0m3 -81h0m4 84h0m3 -83h0m3 -58h0m4 24h0m3 -17h0m3 41h0m4 -91h0m3 183h0m3 -20h0m4 -28h0m3 -139h0m3 84h0m4 2h0m3 -4h0m3 -20h0m4 27h0m3 -52h0m3 76h0m4 16h0m3 -14h0m4 -75h0m3 -58h0m3 173h0m4 -98h0m3 97h0m3 25h0m4 -183h0m3 141h0m3 -30h0m4 -204h0m3 175h0m3 -47h0m4 -8h0m3 151h0m3 -166h0m4 -137h0m3 109h0m3 -10h0m4 63h0m3 -61h0m3 138h0m4 -64h0m3 50h0m4 -120h0m3 -13h0m3 90h0m4 -31h0m3 0h0m3 -31h0m4 71h0m3 53h0m3 -43h0m4 -95h0m3 51h0m3 72h0m4 -40h0m3 5h0m3 -15h0m4 105h0m3 -68h0m3 -186h0m4 126h0m3 83h0m3 -48h0m4 -77h0m3 -2h0m4 79h0m3 -135h0m3 72h0m4 18h0m3 -21h0m3 -103h0m4 102h0m3 -2h0m3 -84h0m4 4h0m3 185h0m3 28h0m4 -104h0m3 32h0m3 176h0m4 -90h0m3 -108h0m3 -37h0m4 145h0m3 -90h0m3 -12h0m4 -17h0m3 -66h0m4 147h0m3 -62h0m3 -9h0m4 43h0m3 -109h0m3 -14h0m4 -6h0m3 207h0m3 -166h0m4 33h0m3 -50h0m3 -17h0m4 53h0m3 -54h0m3 133h0m4 -165h0m3 118h0m3 -116h0m4 77h0m3 -5h0m3 130h0m4 53h0m3 25h0m4 -16h0m3 -127h0m3 -22h0m4 21h0m3 34h0m3 -7h0m4 -66h0m3 144h0m3 -41h0m4 -62h0m3 78h0m3 -71h0m4 104h0m3 -106h0m3 81h0m4 -76h0m3 -48h0m3 34h0m4 24h0m3 -87h0m3 102h0m4 -106h0m3 160h0m4 -224h0m3 81h0m3 56h0m4 30h0m3 -47h0m3 -14h0m4 -13h0m3 18h0m3 68h0m4 1h0m3 -91h0m3 60h0m4 -3h0m3 -50h0m3 -21h0m4 114h0m3 -106h0m3 -57h0m4 22h0m3 32h0m3 5h0m4 28h0m3 -37h0m4 37h0m3 -131h0m3 202h0m4 -104h0m3 176h0m3 -49h0m4 -149h0m3 36h0m3 78h0m4 8h0m3 -58h0m3 -21h0m4 27h0m3 -18h0m3 7h0m4 -95h0m3 48h0m3 59h0m4 -86h0m3 262h0m3 -183h0m4 5h0m3 147h0m4 -164h0m3 100h0m3 -95h0m4 -71h0m3 38h0m3 50h0m4 -25h0m3 -47h0m3 98h0m4 -40h0m3 8h0m3 -4h0m4 -72h0m3 82h0m3 26h0m4 -80h0m3 -91h0m3 78h0m4 22h0m3 -87h0m3 36h0m4 143h0m3 -32h0m4 -98h0m3 100h0m3 49h0m4 -111h0m3 115h0m3 -130h0m4 22h0m3 52h0m3 -43h0m4 107h0m3 -88h0m3 39h0m4 -14h0m3 -35h0m3 -46h0m4 76h0m3 22h0m3 -84h0m4 -17h0m3 1h0m3 -17h0m4 155h0m3 -61h0m4 -85h0m3 -28h0m3 99h0m4 22h0m3 29h0m3 -45h0m4 -79h0m3 71h0m3 -33h0m4 20h0m3 5h0m3 60h0m4 -42h0m3 7h0m3 33h0m4 -3h0m3 -15h0m3 -7h0m4 -18h0m3 5h0m3 30h0m4 -1h0m3 -48h0m4 5h0m3 -13h0m3 104h0m4 -90h0m3 186h0m3 -204h0m4 118h0m3 -47h0m3 -43h0m4 19h0m3 -10h0m3 3h0m4 -51h0m3 125h0m3 -40h0m4 -23h0m3 -48h0m3 84h0m4 -21h0m3 -43h0m3 36h0m4 -117h0m3 107h0m4 21h0m3 -19h0m3 35h0m4 -64h0m3 42h0m3 -32h0m4 58h0m3 48h0m3 -99h0m4 -42h0m3 120h0m3 -196h0m4 40h0m3 138h0m3 -112h0m4 209h0m3 -102h0m3 -63h0m4 4h0m3 2h0m3 -41h0m4 -41h0m3 39h0m4 99h0m3 -57h0m3 -8h0m4 -35h0m3 59h0m3 11h0m4 -44h0m3 102h0m3 23h0m4 -160h0m3 64h0m3 72h0m4 -43h0m3 -57h0m3 14h0m4 -9h0m3 -8h0m3 119h0m4 -96h0m3 -39h0m3 93h0m4 -81h0m3 -65h0m4 123h0m3 -27h0m3 -20h0m4 92h0m3 -95h0m3 -22h0m4 46h0m3 -33h0m3 41h0m4 0h0m3 2h0m3 -44h0m4 51h0m3 -47h0m3 -91h0m4 158h0m3 -5h0m3 -94h0m4 111h0m3 -47h0m3 19h0m4 18h0m3 32h0m4 -41h0m3 -125h0m3 107h0m4 32h0m3 74h0m3 -176h0m4 75h0m3 21h0m3 91h0m4 -52h0m3 17h0m3 -80h0m4 86h0m3 -2h0m3 -87h0m4 -18h0m3 -26h0m3 73h0m4 62h0m3 -39h0m3 -88h0m4 -70h0m3 112h0m4 -40h0m3 -5h0m3 -8h0m4 -61h0m3 80h0m3 20h0m4 15h0m3 -42h0m3 0h0m4 40h0m3 -25h0m3 -13h0m4 52h0m3 -126h0m3 135h0m4 -38h0m3 -31h0m3 23h0m4 -60h0m3 99h0m4 -37h0m3 -1h0m3 33h0m4 -42h0m3 -45h0m3 15h0m4 72h0m3 -44h0m3 32h0m4 -75h0m3 118h0m3 -28h0m4 -110h0m3 75h0m3 28h0m4 57h0m3 -3h0m3 -4h0m4 38h0m3 -15h0m3 -107h0m4 61h0m3 -45h0m4 91h0m3 -98h0m3 65h0m4 -72h0m3 158h0m3 -42h0m4 -85h0m3 -21h0m3 -15h0m4 96h0m3 -28h0m3 87h0m4 -36h0m3 -72h0m3 8h0m4 42h0m3 -35h0m3 -1h0m4 -76h0m3 173h0m3 -12h0m4 27h0m3 14h0m4 -73h0m3 33h0m3 -70h0m4 73h0m3 -29h0m3 52h0m4 -101h0m3 -51h0m3 58h0m4 5h0m3 49h0m3 -72h0m4 -38h0m3 219h0m3 -41h0m4 -33h0m3 -36h0m3 47h0m4 -51h0m3 -27h0m3 65h0m4 -101h0m3 44h0m4 28h0m3 -68h0m3 106h0m4 -45h0m3 -78h0m3 5h0m4 8h0m3 -57h0m3 4h0m4 81h0m3 54h0m3 -9h0m4 -61h0m3 49h0m3 -51h0m4 101h0m3 -181h0m3 81h0m4 40h0m3 -50h0m3 -17h0m4 16h0m3 225h0m4 -173h0m3 -136h0m3 134h0m4 5h0m3 -88h0m3 52h0m4 80h0m3 -61h0m3 84h0m4 -175h0m3 119h0m3 -35h0m4 -76h0m3 -40h0m3 23h0m4 28h0m3 40h0m3 -16h0m4 -59h0m3 42h0m3 42h0m4 -36h0m3 92h0m4 -193h0m3 82h0m3 7h0m4 46h0m3 35h0m3 -17h0m4 -2h0m3 8h0m3 -81h0m4 -11h0m3 29h0m3 -19h0m4 -51h0m3 113h0m3 -16h0m4 -95h0m3 115h0m3 -25h0m4 25h0m3 -65h0m3 86h0m4 -79h0m3 52h0m4 -62h0m3 41h0m3 -25h0m4 -9h0m3 -7h0m3 -64h0m4 -9h0m3 44h0m3 35h0m4 -56h0m3 38h0m3 131h0m4 -67h0m3 -49h0m3 27h0m4 -5h0m3 -160h0m3 56h0m4 90h0m3 29h0m3 -92h0m4 125h0m3 -83h0m4 14h0m3 -9h0m3 -28h0m4 33h0m3 1h0m3 -1h0m4 -69h0m3 37h0m3 -9h0m4 59h0m3 -53h0m3 104h0m4 11h0m3 3h0m3 -79h0m4 -15h0m3 -76h0m3 44h0m4 37h0m3 79h0m3 -96h0m4 -11h0m3 -19h0m4 -66h0m3 89h0m3 -73h0m4 183h0m3 -130h0m3 60h0m4 -30h0m3 -44h0m3 9h0m4 48h0m3 -92h0m3 121h0m4 -26h0m3 -61h0m3 17h0m4 40h0m3 54h0m3 -51h0m4 -10h0m3 30h0m3 88h0m4 -182h0m3 42h0m4 58h0m3 -41h0m3 113h0m4 -38h0m3 -21h0m3 -102h0m4 12h0m3 50h0m3 18h0m4 -7h0m3 8h0m3 -9h0m4 99h0m3 15h0m3 -121h0m4 -17h0m3 40h0m3 12h0m4 -29h0m3 10h0m3 97h0m4 -150h0m3 -101h0m4 98h0m3 34h0m3 -44h0m4 86h0m3 -50h0m3 -74h0m4 -23h0m3 52h0m3 77h0m4 49h0m3 -124h0m3 60h0m4 -67h0m3 49h0m3 -30h0m4 51h0m3 -60h0m3 7h0m4 127h0m3 -113h0m3 -49h0m4 46h0m3 50h0m4 -66h0m3 76h0m3 -112h0m4 95h0m3 -110h0m3 1h0m4 75h0m3 -23h0m3 23h0m4 33h0m3 78h0m3 -110h0m4 20h0m3 60h0m3 -38h0m4 -33h0m3 194h0m3 -198h0m4 -12h0m3 18h0m3 57h0m4 7h0m3 -52h0m4 -60h0m3 86h0m3 -79h0m4 55h0m3 -40h0m3 -10h0m4 89h0m3 -123h0m3 73h0m4 72h0m3 -8h0m3 -57h0m4 131h0m3 -115h0m3 -50h0m4 129h0m3 -74h0m3 58h0m4 -29h0m3 -14h0m3 -137h0m4 173h0m3 -96h0m4 59h0m3 39h0m3 -25h0m4 -11h0m3 62h0m3 4h0m4 -115h0m3 63h0m3 -100h0m4 92h0m3 89h0m3 -48h0m4 -34h0m3 -15h0m3 -41h0m4 9h0m3 65h0m3 -35h0m4 -59h0m3 82h0m3 39h0m4 -100h0m3 37h0m4 -27h0m3 -9h0m3 7h0m4 51h0m3 46h0m3 -28h0m4 -55h0m3 -35h0m3 25h0m4 120h0m3 -38h0m3 -91h0m4 -24h0m3 92h0m3 -141h0m4 133h0m3 -11h0m3 26h0m4 2h0m3 13h0m3 15h0m4 90h0m3 -74h0m4 -6h0m3 -7h0m3 74h0m4 -183h0m3 86h0m3 16h0m4 -28h0m3 7h0m3 121h0m4 -120h0m3 61h0m3 -45h0m4 12h0m3 11h0m3 12h0m4 61h0m3 -81h0m3 20h0m4 84h0m3 -42h0m3 -11h0m4 -7h0m3 -105h0m4 -6h0m3 144h0m3 -68h0m4 2h0m3 -23h0m3 6h0m4 20h0m3 -59h0m3 -17h0m4 51h0m3 115h0m3 -58h0m4 -85h0m3 113h0m3 -103h0m4 -4h0m3 58h0m3 33h0m4 -96h0m3 4h0m3 7h0m4 -91h0m3 134h0m4 -42h0m3 -17h0m3 12h0m4 -20h0m3 26h0m3 66h0m4 -85h0m3 -103h0m3 144h0m4 36h0m3 -20h0m3 -28h0m4 -30h0m3 28h0m3 21h0m4 -103h0m3 64h0m3 29h0m4 -74h0m3 8h0m3 -84h0m4 128h0m3 55h0m4 28h0m3 -55h0m3 -103h0m4 125h0m3 -23h0m3 -49h0m4 110h0m3 -130h0m3 -46h0m4 113h0m3 -37h0m3 34h0m4 -9h0m3 -42h0m3 -4h0m4 -57h0m3 51h0m3 63h0m4 -67h0m3 39h0m3 -12h0m4 -71h0m3 107h0m4 -51h0m3 -32h0m3 86h0m4 -36h0m3 60h0m3 -64h0m4 94h0m3 -40h0m3 -7h0m4 3h0m3 -44h0m3 7h0m4 121h0m3 -138h0m3 -45h0m4 85h0m3 40h0m3 -61h0m4 2h0m3 -133h0m4 144h0m3 -79h0m3 27h0m4 -47h0m3 51h0m3 -37h0m4 2h0m3 105h0m3 -90h0m4 -17h0m3 70h0m3 55h0m4 -192h0m3 66h0m3 29h0m4 -13h0m3 -12h0m3 -17h0m4 36h0m3 -12h0m3 24h0m4 15h0m3 -83h0m4 8h0m3 45h0m3 15h0m4 -45h0m3 -68h0m3 103h0m4 -54h0m3 19h0m3 -40h0m4 -31h0m3 71h0m3 20h0m4 -39h0m3 -62h0m3 82h0m4 -27h0m3 117h0m3 -8h0m4 -27h0m3 -7h0m3 -77h0m4 -53h0m3 37h0m4 77h0m3 -43h0m3 -13h0m4 -28h0m3 56h0m3 -59h0m4 -42h0m3 83h0m3 12h0m4 95h0m3 -78h0m3 -34h0m4 21h0m3 4h0m3 -103h0m4 90h0m3 9h0m3 31h0m4 -81h0m3 101h0m3 -11h0m4 -131h0m3 76h0m4 27h0m3 -91h0m3 40h0m4 77h0m3 -168h0m3 86h0m4 63h0m3 -11h0m3 -46h0m4 50h0m3 21h0m3 -93h0m4 26h0m3 -39h0m3 -41h0m4 92h0m3 -8h0m3 -27h0m4 71h0m3 -148h0m3 43h0m4 61h0m3 -55h0m4 28h0m3 -21h0m3 -20h0m4 34h0m3 -43h0m3 -17h0m4 134h0m3 -78h0m3 -16h0m4 104h0m3 40h0m3 -27h0m4 -93h0m3 98h0m3 -27h0m4 26h0m3 6h0m3 -19h0m4 -1h0m3 -76h0m3 60h0m4 -83h0m3 116h0m4 -100h0m3 -36h0m3 105h0m4 -94h0m3 4h0m3 -24h0m4 110h0m3 -68h0m3 55h0m4 -63h0m3 26h0m3 -78h0m4 136h0m3 -106h0m3 87h0m4 -9h0m3 51h0m3 -113h0m4 42h0m3 56h0m3 -15h0m4 27h0m3 -26h0m4 -32h0m3 -71h0m3 52h0m4 0h0m3 -21h0m3 -73h0m4 120h0m3 -46h0m3 29h0m4 -60h0m3 20h0m3 104h0m4 -54h0m3 37h0m3 -36h0m4 74h0m3 -120h0m3 -33h0m4 21h0m3 36h0m3 0h0m4 -56h0m3 -99h0m4 123h0m3 -36h0m3 80h0m4 67h0m3 -98h0m3 98h0m4 -63h0m3 -76h0m3 28h0m4 27h0m3 -37h0m3 3h0m4 -15h0m3 0h0m3 -31h0m4 25h0m3 50h0m3 -38h0m4 -31h0m3 127h0m3 -135h0m4 67h0m3 -2h0m4 3h0m3 53h0m3 -24h0m4 62h0m3 -162h0m3 115h0m4 -82h0m3 94h0m3 -47h0m4 19h0m3 5h0m3 -76h0m4 -30h0m3 26h0m3 93h0m4 101h0m3 -161h0m3 62h0m4 -43h0m3 119h0m3 -97h0m4 -35h0m3 -56h0m4 2h0m3 73h0m3 -93h0m4 -49h0m3 45h0m3 47h0m4 10h0m3 43h0m3 -20h0m4 -8h0m3 7h0m3 26h0m4 43h0m3 -26h0m3 -67h0m4 -1h0m3 4h0m3 -5h0m4 -68h0m3 42h0m3 29h0m4 15h0m3 39h0m4 27h0m3 0h0m3 -5h0m4 -127h0m3 105h0m3 -35h0m4 31h0m3 1h0m3 -74h0m4 21h0m3 93h0m3 -107h0m4 174h0m3 -121h0m3 61h0m4 -10h0m3 -47h0m3 16h0m4 69h0m3 -62h0m3 -3h0m4 -82h0m3 56h0m4 1h0m3 17h0m3 36h0m4 20h0m3 -42h0m3 -37h0m4 94h0m3 -44h0m3 51h0m4 -42h0m3 -35h0m3 122h0m4 -102h0m3 13h0m3 -19h0m4 77h0m3 -96h0m3 11h0m4 17h0m3 -8h0m3 -26h0m4 -20h0m3 29h0m4 30h0m3 -7h0m3 -23h0m4 -34h0m3 105h0m3 -57h0m4 -26h0m3 -3h0m3 67h0m4 41h0m3 -59h0m3 73h0m4 -12h0m3 -49h0m3 19h0m4 68h0m3 -61h0m3 -20h0m4 100h0m3 -92h0m3 134h0m4 -69h0m3 -40h0m4 97h0m3 -87h0m3 -36h0m4 69h0m3 -110h0m3 96h0m4 -21h0m3 -30h0m3 92h0m4 -150h0m3 71h0m3 -40h0m4 98h0m3 -122h0m3 10h0m4 122h0m3 -36h0m3 -58h0m4 82h0m3 -112h0m3 61h0m4 107h0m3 -99h0m4 10h0m3 48h0m3 -55h0m4 -32h0m3 44h0m3 -52h0m4 14h0m3 65h0m3 -67h0m4 -17h0m3 26h0m3 30h0m4 -13h0m3 -19h0m3 135h0m4 -63h0m3 59h0m3 -27h0m4 -36h0m3 15h0m3 -55h0m4 84h0m3 -121h0m4 138h0m3 -56h0m3 7h0m4 -39h0m3 -41h0m3 16h0m4 79h0m3 -4h0m3 11h0m4 -58h0m3 -66h0m3 122h0m4 -82h0m3 51h0m3 -95h0m4 54h0m3 17h0m3 30h0m4 32h0m3 -13h0m3 -112h0m4 74h0m3 42h0m4 -22h0m3 -9h0m3 11h0m4 -114h0m3 39h0m3 10h0m4 -22h0m3 81h0m3 61h0m4 50h0m3 -86h0m3 -28h0m4 -17h0m3 8h0m3 -76h0m4 46h0m3 39h0m3 -49h0m4 -7h0m3 30h0m3 51h0m4 -84h0m3 -15h0m4 -116h0m3 20h0m3 89h0m4 -6h0m3 -4h0m3 57h0m4 -17h0m3 37h0m3 -25h0m4 20h0m3 -36h0m3 -11h0m4 55h0m3 -114h0m3 80h0m4 37h0m3 -21h0m3 77h0m4 -14h0m3 -109h0m3 126h0m4 -50h0m3 58h0m4 -62h0m3 2h0m3 -1h0m4 -85h0m3 63h0m3 -102h0m4 63h0m3 -28h0m3 -4h0m4 -105h0m3 45h0m3 38h0m4 -4h0m3 164h0m3 -86h0m4 28h0m3 -14h0m3 23h0m4 -58h0m3 40h0m3 -48h0m4 72h0m3 -39h0m4 -62h0m3 82h0m3 -53h0m4 62h0m3 -90h0m3 116h0m4 -76h0m3 58h0m3 -156h0m4 65h0m3 84h0m3 -47h0m4 6h0m3 -4h0m3 25h0m4 3h0m3 -8h0m3 -52h0m4 26h0m3 71h0m3 -5h0m4 -118h0m3 -15h0m4 58h0m3 -1h0m3 -36h0m4 -19h0m3 49h0m3 38h0m4 -19h0m3 25h0m3 -109h0m4 64h0m3 97h0m3 -51h0m4 29h0m3 -46h0m3 -6h0m4 32h0m3 -97h0m3 69h0m4 -45h0m3 -75h0m3 61h0m4 -48h0m3 52h0m4 -106h0m3 154h0m3 -32h0m4 -16h0m3 -68h0m3 55h0m4 -23h0m3 4h0m3 -17h0m4 -23h0m3 76h0m3 -76h0m4 53h0m3 -16h0m3 37h0m4 -60h0m3 -21h0m3 78h0m4 -40h0m3 27h0m4 -71h0m3 36h0m3 -5h0m4 94h0m3 6h0m3 -85h0m4 81h0m3 -112h0m3 17h0m4 6h0m3 16h0m3 81h0m4 -19h0m3 -119h0m3 136h0m4 -49h0m3 94h0m3 -68h0m4 -48h0m3 26h0m3 -20h0m4 51h0m3 -98h0m4 85h0m3 -10h0m3 -28h0m4 20h0m3 -41h0m3 30h0m4 -75h0m3 17h0m3 71h0m4 -52h0m3 -58h0m3 -23h0m4 52h0m3 -43h0m3 81h0m4 -37h0m3 81h0m3 -26h0m4 22h0m3 24h0m3 -41h0m4 41h0m3 15h0m4 12h0m3 -142h0m3 131h0m4 16h0m3 -54h0m3 -36h0m4 17h0m3 36h0m3 -15h0m4 2h0m3 -152h0m3 137h0m4 -70h0m3 54h0m3 -2h0m4 -36h0m3 -63h0m3 78h0m4 35h0m3 -92h0m3 -45h0m4 94h0m3 -13h0m4 12h0m3 -55h0m3 46h0m4 65h0m3 30h0m3 -82h0m4 8h0m3 67h0m3 -27h0m4 16h0m3 44h0m3 -61h0m4 -81h0m3 79h0m3 8h0m4 24h0m3 -94h0m3 -46h0m4 35h0m3 -45h0m3 59h0m4 118h0m3 44h0m4 -94h0m3 -9h0m3 -42h0m4 86h0m3 69h0m3 -63h0m4 47h0m3 -71h0m3 39h0m4 -37h0m3 59h0m3 4h0m4 -86h0m3 10h0m3 13h0m4 -65h0m3 -24h0m3 1h0m4 99h0m3 -89h0m3 39h0m4 -72h0m3 40h0m4 49h0m3 66h0m3 -148h0m4 88h0m3 -32h0m3 -11h0m4 -38h0m3 47h0m3 -25h0m4 37h0m3 7h0m3 -31h0m4 -25h0m3 46h0m3 -89h0m4 84h0m3 -20h0m3 5h0m4 -40h0m3 30h0m3 27h0m4 -11h0m3 64h0m4 -122h0m3 156h0m3 -33h0m4 -16h0m3 20h0m3 -4h0m4 43h0m3 -132h0m3 69h0m4 -57h0m3 2h0m3 22h0m4 -59h0m3 95h0m3 -101h0m4 115h0m3 -15h0m3 -51h0m4 56h0m3 37h0m3 -53h0m4 2h0m3 0h0m4 -70h0m3 97h0m3 10h0m4 -39h0m3 67h0m3 -111h0m4 70h0m3 -45h0m3 13h0m4 4h0m3 -17h0m3 53h0m4 -31h0m3 -76h0m3 98h0m4 -30h0m3 5h0m3 14h0m4 -34h0m3 -44h0m3 -28h0m4 18h0m3 25h0m4 43h0m3 -9h0m3 -34h0m4 23h0m3 35h0m3 15h0m4 -20h0m3 -13h0m3 -2h0m4 20h0m3 -7h0m3 21h0m4 2h0m3 -121h0m3 121h0m4 -79h0m3 27h0m3 -2h0m4 13h0m3 -2h0m3 -33h0m4 99h0m3 -69h0m4 -70h0m3 28h0m3 64h0m4 36h0m3 -66h0m3 -38h0m4 48h0m3 58h0m3 -133h0m4 93h0m3 -90h0" stroke="#060606" stroke-width="43" stroke-linecap="round"/></g>
<path d="M889.5 851.9H1867.6" stroke="#ed1c24" stroke-width="3.4" stroke-dasharray="10 7" fill="none"/>
<path d="M975.4 745.7V958.9" stroke="#000" stroke-width="2.6" stroke-dasharray="6.5 5" fill="none"/>
<path d="M894.5 744.4V958.9H1860.5M889 745.7H894.5M889 781.2H894.5M889 816.8H894.5M889 852.3H894.5M889 887.8H894.5M889 923.4H894.5M889 958.9H894.5M895 958.9V965.7M975.4 958.9V965.7M1055.7 958.9V965.7M1136 958.9V965.7M1216.4 958.9V965.7M1296.8 958.9V965.7M1377.1 958.9V965.7M1457.4 958.9V965.7M1537.8 958.9V965.7M1618.2 958.9V965.7M1698.5 958.9V965.7M1778.8 958.9V965.7M1859.2 958.9V965.7" stroke="#000" stroke-width="2.7" fill="none"/>
<text x="835.3" y="755.3" font-size="30.35">1.3</text>
<text x="835.3" y="790.8" font-size="30.59">1.2</text>
<text x="835.3" y="826.4" font-size="30.47">1.1</text>
<text x="835.3" y="861.9" font-size="30.23">1.0</text>
<text x="836.4" y="897.4" font-size="29.66">0.9</text>
<text x="836.4" y="933" font-size="29.54">0.8</text>
<text x="836.4" y="968.5" font-size="29.77">0.7</text>
<text x="886.7" y="998.8" font-size="29.70">0</text>
<text x="950.6" y="998.8" font-size="29.70">300</text>
<text x="1030.8" y="998.8" font-size="29.70">600</text>
<text x="1111.2" y="998.8" font-size="29.70">900</text>
<text x="1182.8" y="998.8" font-size="29.70">1200</text>
<text x="1263.1" y="998.8" font-size="29.70">1500</text>
<text x="1343.5" y="998.8" font-size="29.70">1800</text>
<text x="1424.2" y="998.8" font-size="29.70">2100</text>
<text x="1504.5" y="998.8" font-size="29.70">2400</text>
<text x="1584.9" y="998.8" font-size="29.70">2700</text>
<text x="1665.4" y="998.8" font-size="29.70">3000</text>
<text x="1745.7" y="998.8" font-size="29.70">3300</text>
<text x="1826.1" y="998.8" font-size="29.70">3600</text>
<text x="1324" y="1042.7" font-size="29.56">Time (s)</text>
<text transform="translate(816.8 856.4) rotate(-90)" font-size="28.2" text-anchor="middle">ΔF/Fn</text>
<text x="958.6" y="732.3" font-size="29.79">i.p.</text>
<text x="1136.2" y="715.8" font-size="29.87">DRN-Projecting ERα</text>
<text x="1411.9" y="703" font-size="20.32">vlVMH</text>
<text x="1477.7" y="715.8" font-size="29.09">Neurons</text>
<text x="1023" y="898" font-size="22.85" fill="#000">Saline (i.p.)</text>
<text x="1022.9" y="923.3" font-size="22.79" fill="#ed1c24">Glucose (i.p.)</text>
<text x="1021.9" y="949" font-size="23.09" fill="#3953a4">Insulin (i.p.)</text>
<path d="M1873.7 769.1H1884.6V834H1873.7" stroke="#000" stroke-width="3.2" fill="none" stroke-linejoin="round"/>
<path d="M1873.7 842.9H1885.2V885.6H1873.7" stroke="#000" stroke-width="3.2" fill="none" stroke-linejoin="round"/>
<text x="1889.5" y="822.2" font-size="48" font-weight="bold" letter-spacing="2.7">***</text>
<text x="1890.3" y="886.7" font-size="48" font-weight="bold" letter-spacing="2.7">***</text>
<text x="825.8" y="1229.6" font-size="29.70">350</text>
<text x="825.8" y="1286.5" font-size="29.70">300</text>
<text x="825.8" y="1343.3" font-size="29.70">250</text>
<text x="825.8" y="1400.2" font-size="29.70">200</text>
<text x="825.8" y="1457" font-size="29.70">150</text>
<text x="825.8" y="1513.9" font-size="29.70">100</text>
<text x="842.3" y="1570.7" font-size="29.70">50</text>
<path d="M894.6 1218V1560.3H1405.4M886.6 1219.2H894.6M886.6 1276H894.6M886.6 1332.9H894.6M886.6 1389.8H894.6M886.6 1446.6H894.6M886.6 1503.5H894.6M886.6 1560.3H894.6" stroke="#231f20" stroke-width="2.15" fill="none"/>
<circle cx="953.1" cy="1419" r="6.0" fill="#fff" stroke="#231f20" stroke-width="2.4"/>
<circle cx="953.1" cy="1443.2" r="6.0" fill="#fff" stroke="#231f20" stroke-width="2.4"/>
<circle cx="953.1" cy="1431.3" r="6.0" fill="#fff" stroke="#231f20" stroke-width="2.4"/>
<circle cx="953.1" cy="1420.3" r="6.0" fill="#fff" stroke="#231f20" stroke-width="2.4"/>
<circle cx="953.1" cy="1422.9" r="6.0" fill="#fff" stroke="#231f20" stroke-width="2.4"/>
<circle cx="1091.8" cy="1378.9" r="6.0" fill="#a7a9ac" stroke="#231f20" stroke-width="2.4"/>
<circle cx="1091.8" cy="1337.1" r="6.0" fill="#a7a9ac" stroke="#231f20" stroke-width="2.4"/>
<circle cx="1091.8" cy="1486.9" r="6.0" fill="#a7a9ac" stroke="#231f20" stroke-width="2.4"/>
<circle cx="1091.8" cy="1436.8" r="6.0" fill="#a7a9ac" stroke="#231f20" stroke-width="2.4"/>
<circle cx="1091.8" cy="1398.2" r="6.0" fill="#a7a9ac" stroke="#231f20" stroke-width="2.4"/>
<path d="M953.1 1419L1022.4 1265.2L1091.8 1378.9M953.1 1443.2L1022.4 1295.2L1091.8 1337.1M953.1 1431.3L1022.4 1333.9L1091.8 1486.9M953.1 1420.3L1022.4 1372.9L1091.8 1436.8M953.1 1422.9L1022.4 1380L1091.8 1398.2" stroke="#231f20" stroke-width="2" fill="none" stroke-linejoin="round"/>
<circle cx="1022.4" cy="1265.2" r="7.1" fill="#231f20"/>
<circle cx="1022.4" cy="1295.2" r="7.1" fill="#231f20"/>
<circle cx="1022.4" cy="1333.9" r="7.1" fill="#231f20"/>
<circle cx="1022.4" cy="1372.9" r="7.1" fill="#231f20"/>
<circle cx="1022.4" cy="1380" r="7.1" fill="#231f20"/>
<circle cx="1208.2" cy="1404.2" r="6.0" fill="#fff" stroke="#231f20" stroke-width="2.4"/>
<circle cx="1208.2" cy="1421.5" r="6.0" fill="#fff" stroke="#231f20" stroke-width="2.4"/>
<circle cx="1208.2" cy="1435.3" r="6.0" fill="#fff" stroke="#231f20" stroke-width="2.4"/>
<circle cx="1208.2" cy="1423.4" r="6.0" fill="#fff" stroke="#231f20" stroke-width="2.4"/>
<circle cx="1208.2" cy="1484.5" r="6.0" fill="#fff" stroke="#231f20" stroke-width="2.4"/>
<circle cx="1347.1" cy="1426.9" r="6.0" fill="#a7a9ac" stroke="#231f20" stroke-width="2.4"/>
<circle cx="1347.1" cy="1441.6" r="6.0" fill="#a7a9ac" stroke="#231f20" stroke-width="2.4"/>
<circle cx="1347.1" cy="1380" r="6.0" fill="#a7a9ac" stroke="#231f20" stroke-width="2.4"/>
<circle cx="1347.1" cy="1459.7" r="6.0" fill="#a7a9ac" stroke="#231f20" stroke-width="2.4"/>
<circle cx="1347.1" cy="1475.5" r="6.0" fill="#a7a9ac" stroke="#231f20" stroke-width="2.4"/>
<path d="M1208.2 1404.2L1277.2 1428.9L1347.1 1426.9M1208.2 1421.5L1277.2 1378.4L1347.1 1441.6M1208.2 1435.3L1277.2 1362.9L1347.1 1380M1208.2 1423.4L1277.2 1456.6L1347.1 1459.7M1208.2 1484.5L1277.2 1473.5L1347.1 1475.5" stroke="#231f20" stroke-width="2" fill="none" stroke-linejoin="round"/>
<circle cx="1277.2" cy="1428.9" r="7.1" fill="#231f20"/>
<circle cx="1277.2" cy="1378.4" r="7.1" fill="#231f20"/>
<circle cx="1277.2" cy="1362.9" r="7.1" fill="#231f20"/>
<circle cx="1277.2" cy="1456.6" r="7.1" fill="#231f20"/>
<circle cx="1277.2" cy="1473.5" r="7.1" fill="#231f20"/>
<path d="M1252.8 1229.2H1280" stroke="#231f20" stroke-width="2"/>
<circle cx="1266.1" cy="1229.2" r="6.0" fill="#fff" stroke="#231f20" stroke-width="2.4"/>
<text x="1291" y="1238.4" font-size="25.38">Pre</text>
<path d="M1252.8 1268.2H1280" stroke="#231f20" stroke-width="2"/>
<circle cx="1266.1" cy="1268.2" r="7.1" fill="#231f20"/>
<text x="1291.9" y="1277.4" font-size="24.87">Stim</text>
<path d="M1252.8 1307.4H1280" stroke="#231f20" stroke-width="2"/>
<circle cx="1266.1" cy="1307.4" r="6.0" fill="#a7a9ac" stroke="#231f20" stroke-width="2.4"/>
<text x="1291" y="1316.4" font-size="24.39">Post</text>
<text x="951.2" y="1595.4" font-size="29.32">Blue light</text>
<text x="1218.9" y="1595.4" font-size="28.45">Yellow light</text>
<path d="M950.8 1371.3V1234.4H1020V1245" stroke="#231f20" stroke-width="2.6" fill="none"/>
<text x="986.5" y="1245" font-size="52.6" font-weight="bold" text-anchor="middle" fill="#231f20">*</text>
<text transform="translate(799.6 1388) rotate(-90)" font-size="29.2" text-anchor="middle">Blood glucose (mg/dl)</text>
<text x="826.7" y="1762.8" font-size="29.70">300</text>
<text x="826.7" y="1838.3" font-size="29.70">250</text>
<text x="826.7" y="1913.8" font-size="29.70">200</text>
<text x="826.7" y="1989.4" font-size="29.70">150</text>
<text x="826.7" y="2064.9" font-size="29.70">100</text>
<text x="843.2" y="2140.4" font-size="29.70">50</text>
<path d="M895 1751.2V2130H1463.5M887 1752.4H895M887 1827.9H895M887 1903.4H895M887 1979H895M887 2054.5H895M887 2130H895" stroke="#231f20" stroke-width="2.15" fill="none"/>
<circle cx="960.3" cy="2005.7" r="6.0" fill="#fff" stroke="#231f20" stroke-width="2.4"/>
<circle cx="960.3" cy="1962.9" r="6.0" fill="#fff" stroke="#231f20" stroke-width="2.4"/>
<circle cx="960.3" cy="1974.9" r="6.0" fill="#fff" stroke="#231f20" stroke-width="2.4"/>
<circle cx="960.3" cy="1987.1" r="6.0" fill="#fff" stroke="#231f20" stroke-width="2.4"/>
<circle cx="1114.7" cy="1966.6" r="6.0" fill="#a7a9ac" stroke="#231f20" stroke-width="2.4"/>
<circle cx="1114.7" cy="1976.8" r="6.0" fill="#a7a9ac" stroke="#231f20" stroke-width="2.4"/>
<circle cx="1114.7" cy="1998.2" r="6.0" fill="#a7a9ac" stroke="#231f20" stroke-width="2.4"/>
<circle cx="1114.7" cy="1966.9" r="6.0" fill="#a7a9ac" stroke="#231f20" stroke-width="2.4"/>
<path d="M960.3 2005.7L1037.4 1931.5L1114.7 1966.6M960.3 1962.9L1037.4 1968.9L1114.7 1976.8M960.3 1974.9L1037.4 1967.4L1114.7 1998.2M960.3 1987.1L1037.4 1974L1114.7 1966.9" stroke="#231f20" stroke-width="2" fill="none" stroke-linejoin="round"/>
<circle cx="1037.4" cy="1931.5" r="7.1" fill="#231f20"/>
<circle cx="1037.4" cy="1968.9" r="7.1" fill="#231f20"/>
<circle cx="1037.4" cy="1967.4" r="7.1" fill="#231f20"/>
<circle cx="1037.4" cy="1974" r="7.1" fill="#231f20"/>
<circle cx="1243.4" cy="1977.3" r="6.0" fill="#fff" stroke="#231f20" stroke-width="2.4"/>
<circle cx="1243.4" cy="1978.1" r="6.0" fill="#fff" stroke="#231f20" stroke-width="2.4"/>
<circle cx="1243.4" cy="1978.7" r="6.0" fill="#fff" stroke="#231f20" stroke-width="2.4"/>
<circle cx="1243.4" cy="1979.4" r="6.0" fill="#fff" stroke="#231f20" stroke-width="2.4"/>
<circle cx="1398.2" cy="1980" r="6.0" fill="#a7a9ac" stroke="#231f20" stroke-width="2.4"/>
<circle cx="1398.2" cy="1955.5" r="6.0" fill="#a7a9ac" stroke="#231f20" stroke-width="2.4"/>
<circle cx="1398.2" cy="1955.5" r="6.0" fill="#a7a9ac" stroke="#231f20" stroke-width="2.4"/>
<circle cx="1398.2" cy="1993.7" r="6.0" fill="#a7a9ac" stroke="#231f20" stroke-width="2.4"/>
<path d="M1243.4 1977.3L1320.8 1887.6L1398.2 1980M1243.4 1978.1L1320.8 1911.3L1398.2 1955.5M1243.4 1978.7L1320.8 1915.3L1398.2 1955.5M1243.4 1979.4L1320.8 1928.7L1398.2 1993.7" stroke="#231f20" stroke-width="2" fill="none" stroke-linejoin="round"/>
<circle cx="1320.8" cy="1887.6" r="7.1" fill="#231f20"/>
<circle cx="1320.8" cy="1911.3" r="7.1" fill="#231f20"/>
<circle cx="1320.8" cy="1915.3" r="7.1" fill="#231f20"/>
<circle cx="1320.8" cy="1928.7" r="7.1" fill="#231f20"/>
<path d="M957.6 1782.9H987.3" stroke="#231f20" stroke-width="2"/>
<circle cx="972.3" cy="1782.9" r="6.0" fill="#fff" stroke="#231f20" stroke-width="2.4"/>
<text x="999.8" y="1791.3" font-size="25.45">Pre</text>
<path d="M957.6 1826.4H987.3" stroke="#231f20" stroke-width="2"/>
<circle cx="972.3" cy="1826.4" r="7.1" fill="#231f20"/>
<text x="1000.7" y="1835" font-size="24.81">Stim</text>
<path d="M957.6 1870H987.3" stroke="#231f20" stroke-width="2"/>
<circle cx="972.3" cy="1870" r="6.0" fill="#a7a9ac" stroke="#231f20" stroke-width="2.4"/>
<text x="999.9" y="1878.6" font-size="24.33">Post</text>
<text x="969.9" y="2166.3" font-size="29.59">Blue light</text>
<text x="1240.3" y="2166.3" font-size="28.61">Yellow light</text>
<path d="M1241.8 1963.4V1796.1H1320V1838.7" stroke="#231f20" stroke-width="2.6" fill="none"/>
<path d="M1320 1809.2H1399.4V1933.9" stroke="#231f20" stroke-width="2.6" fill="none"/>
<text x="1278.6" y="1807.8" font-size="58" font-weight="bold" text-anchor="middle" fill="#231f20">*</text>
<text x="1354" y="1820.5" font-size="58" font-weight="bold" text-anchor="middle" fill="#231f20">*</text>
<text transform="translate(799.6 1941.5) rotate(-90)" font-size="29.1" text-anchor="middle">Blood glucose (mg/dl)</text>
<text x="-1.5" y="30.8" font-size="41.00" font-weight="bold">a</text>
<text x="775.1" y="30.5" font-size="41.00" font-weight="bold">b</text>
<text x="-0.9" y="589.4" font-size="41.00" font-weight="bold">c</text>
<text x="775.1" y="588.9" font-size="41.00" font-weight="bold">d</text>
<text x="-1.9" y="1169.8" font-size="41.00" font-weight="bold">e</text>
<text x="775.4" y="1169.8" font-size="41.00" font-weight="bold">f</text>
<text x="-0.7" y="1709" font-size="41.00" font-weight="bold">g</text>
<text x="775.1" y="1709.6" font-size="41.00" font-weight="bold">h</text>
<text x="66.7" y="42" font-size="29.28">Fiber Photometry Recording of</text>
<text x="67.1" y="77.3" font-size="29.36">mpARH-projecting ERα</text>
<text x="374.4" y="64.5" font-size="20.67">vlVMH</text>
<text x="441.7" y="77.3" font-size="29.20">Neurons</text>
<text x="143.7" y="140.4" font-size="29.20">Photodetector</text>
<text x="412" y="137.7" font-size="29.29">HSV-hEF1α-LS1L</text>
<text x="412.7" y="172" font-size="28.85">-GCaMP6f</text>
<text x="409.4" y="289" font-size="25.94">DRN</text>
<text x="269.8" y="375" font-size="26.91">LH</text>
<text x="486.5" y="403.8" font-size="25.50">MPB</text>
<text x="396.4" y="435.8" font-size="25.25">mpARH</text>
<text x="45.7" y="507.7" font-size="29.18">Esr1-Cre mice</text>
<text x="249.6" y="497" font-size="30.38">ERα</text>
<text x="310.2" y="484.6" font-size="20.74">vlVMH</text>
<text x="378.1" y="497" font-size="29.22">neurons</text>
<text x="94.7" y="601.5" font-size="29.28">Fiber Photometry Recording of</text>
<text x="94.7" y="636.3" font-size="29.30">DRN-projecting ERα</text>
<text x="362.3" y="624" font-size="20.77">vlVMH</text>
<text x="429.6" y="636.4" font-size="29.66">Neurons</text>
<text x="136.3" y="725.8" font-size="29.30">Photodetector</text>
<text x="463.2" y="722" font-size="29.38">HSV-hEF1α-LS1L</text>
<text x="464.3" y="756.2" font-size="29.00">-GCaMP6f</text>
<text x="372.4" y="878.3" font-size="25.54">DRN</text>
<text x="257.6" y="960.9" font-size="25.83">LH</text>
<text x="503.1" y="982.5" font-size="25.65">MPB</text>
<text x="384.2" y="1021.9" font-size="25.19">mpARH</text>
<text x="39.4" y="1089.4" font-size="29.45">Esr1-Cre mice</text>
<text x="250.7" y="1080.4" font-size="30.54">ERα</text>
<text x="311" y="1067.7" font-size="20.67">vlVMH</text>
<text x="378.9" y="1080.4" font-size="29.30">neurons</text>
<text x="33.2" y="1191.4" font-size="29.37">Photostimulation of ERα</text>
<text x="349.9" y="1179" font-size="20.84">vlVMH</text>
<text x="410.7" y="1191.4" font-size="29.33">-mpARH Projection</text>
<text x="39.7" y="1243.6" font-size="29.14">AAV-EF1a-DIO</text>
<text x="38.4" y="1279" font-size="29.34">-hChR2(H134R)-EYFP</text>
<text x="431.7" y="1260.6" font-size="29.13">Blue or yellow light</text>
<text x="422.6" y="1412.1" font-size="25.24">DRN</text>
<text x="264.3" y="1499.3" font-size="26.55">LH</text>
<text x="499.2" y="1520.8" font-size="25.55">MPB</text>
<text x="385.5" y="1562.8" font-size="25.39">mpARH</text>
<text x="44.9" y="1627.7" font-size="29.32">Esr1-Cre mice</text>
<text x="249.5" y="1621.3" font-size="30.38">ERα</text>
<text x="309.9" y="1609" font-size="20.81">vlVMH</text>
<text x="377.9" y="1621.3" font-size="29.39">neurons</text>
<text x="55.2" y="1728.9" font-size="29.45">Photoinhibition of ERα</text>
<text x="348.4" y="1716.5" font-size="20.84">vlVMH</text>
<text x="409.2" y="1728.9" font-size="29.28">-DRN Projection</text>
<text x="98.1" y="1788.6" font-size="29.39">AAV-EF1α-DIO</text>
<text x="96.8" y="1824.1" font-size="29.36">-eNpHR3.0-EYFP</text>
<text x="475" y="1809.5" font-size="29.09">Blue or yellow light</text>
<text x="374.5" y="1960.9" font-size="25.24">DRN</text>
<text x="261.5" y="2045.4" font-size="25.83">LH</text>
<text x="491.2" y="2067.8" font-size="25.75">MPB</text>
<text x="383.4" y="2108.9" font-size="25.31">mpARH</text>
<text x="42.3" y="2170.2" font-size="29.39">Esr1-Cre mice</text>
<text x="251.6" y="2164.9" font-size="30.11">ERα</text>
<text x="311.1" y="2152.5" font-size="20.84">vlVMH</text>
<text x="379.5" y="2164.9" font-size="29.19">neurons</text>
</svg></body></html>
